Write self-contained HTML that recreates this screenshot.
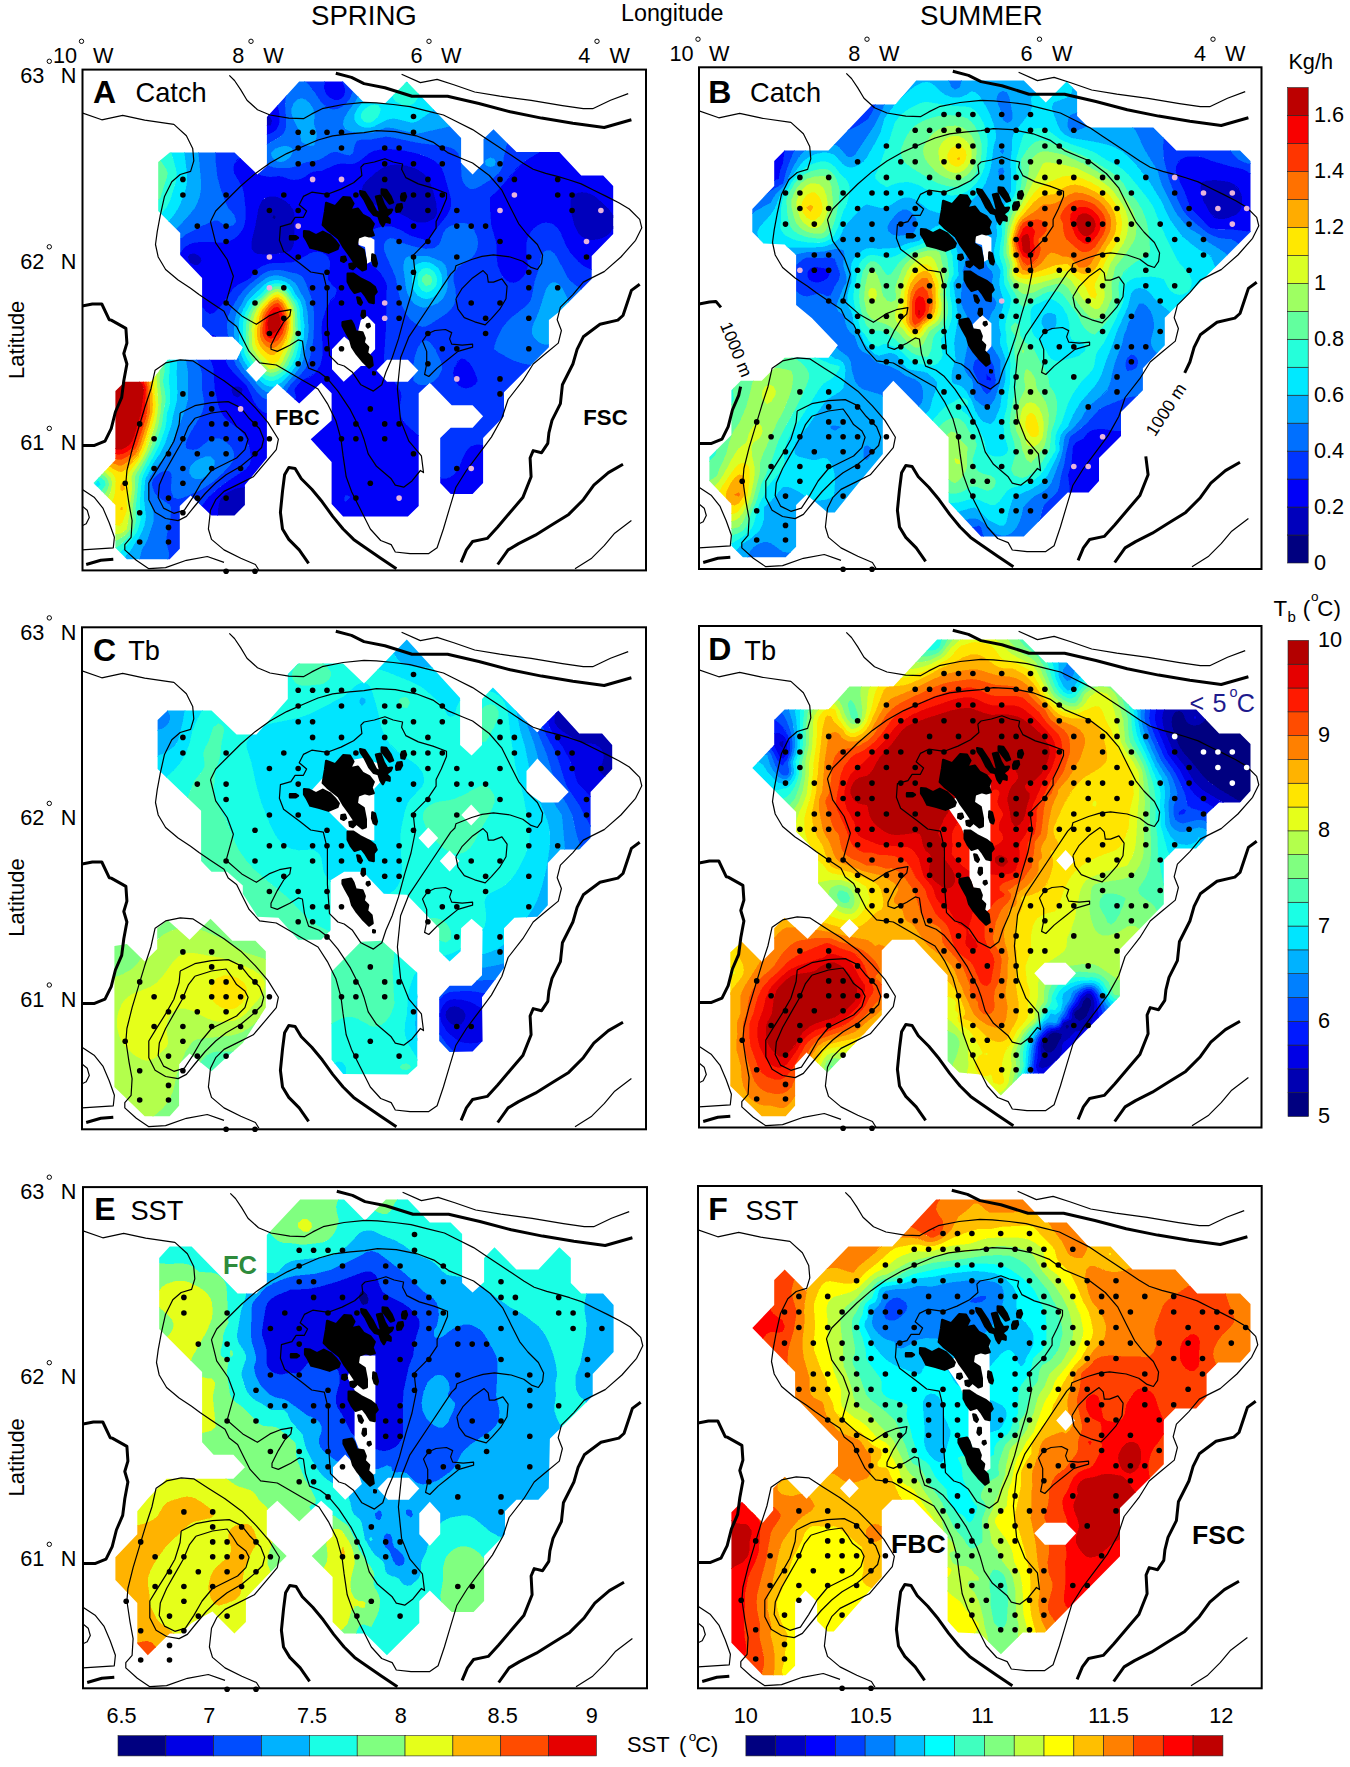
<!DOCTYPE html><html><head><meta charset="utf-8"><title>Figure</title><style>html,body{margin:0;padding:0;background:#fff}svg{display:block}text{font-family:"Liberation Sans",Arial,sans-serif;fill:#000}</style></head><body>
<svg width="1350" height="1767" viewBox="0 0 1350 1767">
<rect width="1350" height="1767" fill="#fff"/>
<defs><g id="geo" fill="none" stroke="#000" stroke-linejoin="round" stroke-linecap="butt">
<path stroke-width="1.2" d="M147.3,6.3 152.5,11.5 158.8,20.9 165,31.3 175.5,40.7 188,46 206.8,49.1 221.4,49.7 229.8,44.9 240.2,39.7 261.1,35.5 282,33.4 294.5,33.8 311.2,35.5 328,37.6 344.7,41.8 361.4,46 373.9,52.2 390.6,60.6 403.2,68.9 415.7,77.3 428.2,85.6 440.8,94 451.2,100.3 463.7,104.4 476.3,107.6 486.7,110.7 499.2,114.9 511.8,121.2 524.3,127.4 536.8,133.7 547.3,140 557.7,150.4 559.8,158.8 553.6,171.3 538.9,188 522.2,202.6 509.7,208.9 501.3,213.1 490.9,225.6 478.4,238.1 475.2,250.7 479.4,261.5 476.3,274.1 463.7,284.5 451.2,295 440.8,311.7 426.1,330.5 419.9,349.3 409.4,368.1 396.9,384.8 384.4,401.5 373.9,418.2 367.6,439.1 361.4,460 355.1,478.8 346.8,484.6 328,484.6 313.3,483 309.2,475.6 298.7,471.5 288.3,460 282,447.4 275.7,434.9 269.5,422.4 264.2,407.8 261.1,386.9 259,370.2 253.8,351.4 245.4,334.6 236,320 221.4,311.7 206.8,303.3 194.3,296 177.6,293.9 167.1,282.4 160.8,269.9 154.6,257.4 146.2,251.1 142,242.3 129.5,234 117,225.6 108.6,219.3 96.1,211 83.6,200.5 76.2,188 73.5,175.5 75.2,162.9 78.3,146.2 82.5,127.4 89.8,112.8 98.2,105.5 108.6,102.4 111.8,91.9 110.7,79.4 104.4,66.8 91.9,55.4 62.7,51.2 40.7,46.4 19.8,50.8 0,43.9M129.5,150.4 133.7,142 146.2,129.5 158.8,117 173.4,104.4 188,94 204.7,84.6 221.4,77.3 236,71 250.7,66.8 267.4,64.8 282,63.7 294.5,61.6 313.3,62.7 334.2,66.8 350.9,73.1 365.6,83.6 380.2,89.8 390.6,94 407.3,106.5 419.9,121.2 428.2,137.9 436.6,154.6 444.9,165 455.4,175.5 460.6,185.9 459.6,194.3 455.4,200.5 449.1,198.4 440.8,192.2 428.2,188 411.5,185.9 400,187.4 389.6,190.5 373.9,196.8 372.9,201 368.7,205.1 347.8,236.5 326.9,267.8 318.6,288.7 315.4,320 318.6,351.4 326.9,372.2 339.4,386.9 341.5,403.6 338.4,401.5 330,411.9 321.7,418.2 313.3,416.1 309.2,409.8 294.5,397.3 286.2,384.8 282,370.2 278.9,361.8 268.4,340.9 255.9,322.1 245.4,309.6 237.1,303.3 226.6,299.1 222.5,286.6 220.4,272 216.2,270.9 207.8,276.2 195.3,282.4 189,280.3 189,276.2 195.3,263.6 201.6,253.2 207.8,246.9 208.9,240.6 197.4,242.7 187,246.9 174.4,255.3 159.8,246.9 144.1,233.3 151.4,207.2 145.2,190.5 133.7,173.8 128.5,152.9 129.5,150.4M282,95 278.9,98.2 279.9,106.5 271.6,113.8 259,120.1 245.4,125.3 229.8,123.2 221.4,127.4 217.2,135.8 224.6,142 221.4,148.3 213.1,148.3 208.9,154.6 198.4,157.7 197.4,171.3 201.6,182.2 209.9,188.4 218.3,194.7 228.7,203 241.3,205.1 245.4,221.8 245.4,257.4 247.5,286.6 255.9,295 262.2,297 270.5,303.3 278.9,315.8 291.4,322.1 299.8,315.8 303.9,303.3 310.2,288.7 316.5,269.9 322.7,246.9 329,226 333.2,205.1 331.1,186.3 345.7,171.7 354.1,159.2 354.1,152.5 359.3,142 364.5,129.5 364.5,124.3 350.9,119.1 336.3,114.9 323.8,108.6 319.6,100.3 320.6,95 311.2,93 302.9,89.8 292.4,93 282,95M373.9,229.8 380.2,219.3 390.6,208.9 401.1,201.6 405.2,205.8 406.3,213.1 411.5,213.1 419.9,209.9 425.1,217.2 424,229.8 417.8,240.2 409.4,249.6 403.2,255.9 392.7,252.8 382.3,248.6 376,240.2 373.9,229.8M345.7,264.7 340.5,272 344.7,282.4 344.7,295 342.6,305.4 346.8,307.5 355.1,299.1 365.6,290.8 376,282.4 390.6,278.2 390.6,275.1 380.2,276.2 369.7,275.1 367.6,269.9 369.7,263.6 363.5,260.5 353,261.5 345.7,264.7M142,493.4 125.3,487.5 104.4,491.3 83.6,498.6 66.8,499.7 54.3,491.3 42.8,480.9 42.8,475.6 49.1,468.3 50.1,451.6 47,434.9 43.9,414 44.9,401.5 50.1,380.6 56.4,359.7 62.7,338.8 68.9,320 73.1,301.2 83.6,293.9 98.2,290.8 110.7,291.8 125.3,301.2 142,311.7 158.8,324.2 173.4,338.8 185.9,353.4 196.4,370.2 194.3,380.6 183.8,393.1 171.3,407.8 154.6,416.1 142,422.4 133.7,430.7 128.5,441.2 126.4,460 129.5,470.4 142,480.9 158.8,489.2 173.4,495.5 177.6,502.2M98.2,344 112.8,336.7 129.5,333.6 146.2,332.6 158.8,338.8 167.1,349.3 177.6,359.7 181.7,370.2 179.6,378.5 171.3,386.9 158.8,397.3 144.1,405.7 133.7,414 123.2,424.5 112.8,437 104.4,447.4 96.1,451.6 83.6,449.5 73.1,443.3 66.8,430.7 66.8,414 73.1,403.6 83.6,386.9 91.9,372.2 97.1,355.5 98.2,344M112.8,349.3 129.5,344 144.1,342 149.4,349.3 154.6,357.6 162.9,363.9 166.1,370.2 162.9,380.6 154.6,389 142,395.2 129.5,401.5 119.1,414 110.7,428.6 102.4,441.2 91.9,444.3 81.5,439.1 76.2,428.6 77.3,416.1 83.6,401.5 91.9,386.9 100.3,372.2 106.5,357.6 112.8,349.3M0,420.3 12.5,428.6 20.9,439.1 27.2,453.7 32.4,468.3 31.3,478.8 0,480.9M0,437 5.2,441.2 7.3,448.5 4.2,454.8 0,456.8M549.4,451.6 532.7,464.2 522.2,476.7 509.7,489.2 493,499.7M319.6,5.2 338.4,13.6 355.1,10.4 371.8,15.7 392.7,23 417.8,27.2 449.1,31.3 480.4,36.6 501.3,39.7 510.7,39.7 528.5,31.3 546.2,24.6"/>
<path stroke-width="3.0" d="M0,237.1 10.4,235 19.8,235 27.2,250.7 29.2,251.1 43.9,259.4 44.9,274.1 41.8,284.5 44.9,295 41.8,311.7 39.7,328.4 33.4,343 29.2,359.7 23,372.2 12.5,376.4 0,376.4M253.8,4.2 269.5,8.4 282,14.6 302.9,18.8 330,27.2 365.6,27.2 396.9,34.5 428.2,42.8 459.6,49.1 490.9,54.3 522.2,58.5 549.4,50.8M226.6,494.4 217.2,480.9 206.8,470.4 200.5,460 198.4,443.3 200.5,422.4 202.6,405.7 206.8,398.4 213.1,399.4 219.3,409.8 229.8,420.3 240.2,432.8 250.7,447.4 261.1,460 271.6,470.4 282,477.7 298.7,489.2 314.4,499.7M557.7,215.2 549.4,221.4 545.2,234 541,246.5 535.8,251.1 518,255.3 501.3,267.8 495.1,280.3 490.9,295 480.4,315.8 478.4,334.6 470,351.4 466.9,363.9 465.8,374.3 459.6,383.7 451.2,381.6 448.1,389 449.1,407.8 440.8,428.6 428.2,443.3 415.7,457.9 405.2,469.4 390.6,472.5 384.4,480.9 379.1,493.4M541,395.2 526.4,403.6 511.8,416.1 501.3,430.7 486.7,445.4 470,455.8 453.3,466.2 436.6,474.6 426.1,480.9 415.7,495.5M4.2,495.5 18.8,491.3 31.3,490.3"/>
<path fill="#000" stroke="#000" stroke-width="2.4" d="M244.2,133.9 253.3,137.3 261.2,128.3 268,128.8 271.4,134.5 268,141.3 275.9,139.6 280.4,145.8 287.2,149.2 291.7,154.9 289.5,160.5 291.7,166.2 287.2,167.3 282.7,166.2 275.9,168.5 274.8,176.4 281.6,180.9 283.8,192.2 283.8,200.1 280.4,201.3 274.8,196.7 271.4,192.2 266.9,185.4 261.2,177.5 256.7,169.6 251,165.1 245.3,160.5 240.8,156 243.1,142.4ZM222.1,162.2 227.2,162.8 234,166.2 240.8,162.8 247.6,166.2 253.3,171.9 256.7,176.4 255.5,179.8 246.5,183.7 237.4,180.9 228.4,178.6 225,171.9 222.1,167.3ZM278.2,122.1 282.7,123.2 289.5,133.4 294,142.4 298.5,144.7 296.3,135.6 294,127.7 298.5,126.6 301.9,135.6 305.3,141.3 309.9,140.7 308.7,143.6 304.2,147 307.6,150.3 307.6,153.7 303.1,152.6 300.8,157.1 298.5,153.7 296.3,147 291.7,145.8 287.2,140.2 282.7,131.1 278.7,125.4ZM299.7,120.4 304.2,120.9 308.7,127.7 311,133.4 307.6,134.5 303.1,128.8 299.7,124.3ZM320,124.9 322.9,124.3 324,127.7 322.3,131.7 319.5,131.1 319.1,127.7ZM315.5,135.6 319.5,135.1 320,138.5 317.8,142.4 314.4,142.7 314.2,139ZM208,167.3 213.7,167.1 215.9,168.7 213.7,170.3 208,170.2ZM265.7,204.7 271.4,204.7 278.2,209.2 287.2,213.7 292.9,218.3 294.6,222.8 291.7,226.2 291.7,234.1 287.2,233 283.8,227.3 279.3,221.6 272.5,223.9 269.1,219.4 265.7,212.6ZM290.4,185.4 292.9,186.6 294.9,194.5 294,197.3 291.7,196.2 290.1,191.1ZM259.5,188.3 262.9,187.7 264,191.1 261.8,192.8 259.2,191.7ZM267.4,195.1 271.4,194.5 273.1,197.9 270.8,200.1 268,199ZM275.3,228.4 277.6,229 279.9,233.5 278.7,235.8 276.5,234.1ZM280.4,242 282.7,242 282.9,247.1 281,248.8 279.5,246.5ZM285,255.4 287.2,255 287.8,257.3 285.9,258.4 284.7,257ZM260.6,253.3 269.1,251.6 271.4,255.6 273.6,262.4 280.4,263.5 282.7,269.2 281.6,273.7 286.1,278.2 285,283.9 289.5,288.4 290.6,296.3 287.2,298.6 280.4,291.8 274.8,285 270.2,278.2 268,270.3 263.5,262.4 260.6,256.7ZM291.2,303.1 292.9,303.7 292.7,305.4 291.2,305.2Z"/>
</g>
<g id="geoB" fill="none" stroke="#000" stroke-linejoin="round" stroke-linecap="butt">
<path stroke-width="1.2" d="M147.3,6.3 152.5,11.5 158.8,20.9 165,31.3 175.5,40.7 188,46 206.8,49.1 221.4,49.7 229.8,44.9 240.2,39.7 261.1,35.5 282,33.4 294.5,33.8 311.2,35.5 328,37.6 344.7,41.8 361.4,46 373.9,52.2 390.6,60.6 403.2,68.9 415.7,77.3 428.2,85.6 440.8,94 451.2,100.3 463.7,104.4 476.3,107.6 486.7,110.7 499.2,114.9 511.8,121.2 524.3,127.4 536.8,133.7 547.3,140 557.7,150.4 559.8,158.8 553.6,171.3 538.9,188 522.2,202.6 509.7,208.9 501.3,213.1 490.9,225.6 478.4,238.1 475.2,250.7 479.4,261.5 476.3,274.1 463.7,284.5 451.2,295 440.8,311.7 426.1,330.5 419.9,349.3 409.4,368.1 396.9,384.8 384.4,401.5 373.9,418.2 367.6,439.1 361.4,460 355.1,478.8 346.8,484.6 328,484.6 313.3,483 309.2,475.6 298.7,471.5 288.3,460 282,447.4 275.7,434.9 269.5,422.4 264.2,407.8 261.1,386.9 259,370.2 253.8,351.4 245.4,334.6 236,320 221.4,311.7 206.8,303.3 194.3,296 177.6,293.9 167.1,282.4 160.8,269.9 154.6,257.4 146.2,251.1 142,242.3 129.5,234 117,225.6 108.6,219.3 96.1,211 83.6,200.5 76.2,188 73.5,175.5 75.2,162.9 78.3,146.2 82.5,127.4 89.8,112.8 98.2,105.5 108.6,102.4 111.8,91.9 110.7,79.4 104.4,66.8 91.9,55.4 62.7,51.2 40.7,46.4 19.8,50.8 0,43.9M129.5,150.4 133.7,142 146.2,129.5 158.8,117 173.4,104.4 188,94 204.7,84.6 221.4,77.3 236,71 250.7,66.8 267.4,64.8 282,63.7 294.5,61.6 313.3,62.7 334.2,66.8 350.9,73.1 365.6,83.6 380.2,89.8 390.6,94 407.3,106.5 419.9,121.2 428.2,137.9 436.6,154.6 444.9,165 455.4,175.5 460.6,185.9 459.6,194.3 455.4,200.5 449.1,198.4 440.8,192.2 428.2,188 411.5,185.9 400,187.4 389.6,190.5 373.9,196.8 372.9,201 368.7,205.1 347.8,236.5 326.9,267.8 318.6,288.7 315.4,320 318.6,351.4 326.9,372.2 339.4,386.9 341.5,403.6 338.4,401.5 330,411.9 321.7,418.2 313.3,416.1 309.2,409.8 294.5,397.3 286.2,384.8 282,370.2 278.9,361.8 268.4,340.9 255.9,322.1 245.4,309.6 237.1,303.3 226.6,299.1 222.5,286.6 220.4,272 216.2,270.9 207.8,276.2 195.3,282.4 189,280.3 189,276.2 195.3,263.6 201.6,253.2 207.8,246.9 208.9,240.6 197.4,242.7 187,246.9 174.4,255.3 159.8,246.9 144.1,233.3 151.4,207.2 145.2,190.5 133.7,173.8 128.5,152.9 129.5,150.4M282,95 278.9,98.2 279.9,106.5 271.6,113.8 259,120.1 245.4,125.3 229.8,123.2 221.4,127.4 217.2,135.8 224.6,142 221.4,148.3 213.1,148.3 208.9,154.6 198.4,157.7 197.4,171.3 201.6,182.2 209.9,188.4 218.3,194.7 228.7,203 241.3,205.1 245.4,221.8 245.4,257.4 247.5,286.6 255.9,295 262.2,297 270.5,303.3 278.9,315.8 291.4,322.1 299.8,315.8 303.9,303.3 310.2,288.7 316.5,269.9 322.7,246.9 329,226 333.2,205.1 331.1,186.3 345.7,171.7 354.1,159.2 354.1,152.5 359.3,142 364.5,129.5 364.5,124.3 350.9,119.1 336.3,114.9 323.8,108.6 319.6,100.3 320.6,95 311.2,93 302.9,89.8 292.4,93 282,95M373.9,229.8 380.2,219.3 390.6,208.9 401.1,201.6 405.2,205.8 406.3,213.1 411.5,213.1 419.9,209.9 425.1,217.2 424,229.8 417.8,240.2 409.4,249.6 403.2,255.9 392.7,252.8 382.3,248.6 376,240.2 373.9,229.8M345.7,264.7 340.5,272 344.7,282.4 344.7,295 342.6,305.4 346.8,307.5 355.1,299.1 365.6,290.8 376,282.4 390.6,278.2 390.6,275.1 380.2,276.2 369.7,275.1 367.6,269.9 369.7,263.6 363.5,260.5 353,261.5 345.7,264.7M142,493.4 125.3,487.5 104.4,491.3 83.6,498.6 66.8,499.7 54.3,491.3 42.8,480.9 42.8,475.6 49.1,468.3 50.1,451.6 47,434.9 43.9,414 44.9,401.5 50.1,380.6 56.4,359.7 62.7,338.8 68.9,320 73.1,301.2 83.6,293.9 98.2,290.8 110.7,291.8 125.3,301.2 142,311.7 158.8,324.2 173.4,338.8 185.9,353.4 196.4,370.2 194.3,380.6 183.8,393.1 171.3,407.8 154.6,416.1 142,422.4 133.7,430.7 128.5,441.2 126.4,460 129.5,470.4 142,480.9 158.8,489.2 173.4,495.5 177.6,502.2M98.2,344 112.8,336.7 129.5,333.6 146.2,332.6 158.8,338.8 167.1,349.3 177.6,359.7 181.7,370.2 179.6,378.5 171.3,386.9 158.8,397.3 144.1,405.7 133.7,414 123.2,424.5 112.8,437 104.4,447.4 96.1,451.6 83.6,449.5 73.1,443.3 66.8,430.7 66.8,414 73.1,403.6 83.6,386.9 91.9,372.2 97.1,355.5 98.2,344M112.8,349.3 129.5,344 144.1,342 149.4,349.3 154.6,357.6 162.9,363.9 166.1,370.2 162.9,380.6 154.6,389 142,395.2 129.5,401.5 119.1,414 110.7,428.6 102.4,441.2 91.9,444.3 81.5,439.1 76.2,428.6 77.3,416.1 83.6,401.5 91.9,386.9 100.3,372.2 106.5,357.6 112.8,349.3M0,420.3 12.5,428.6 20.9,439.1 27.2,453.7 32.4,468.3 31.3,478.8 0,480.9M0,437 5.2,441.2 7.3,448.5 4.2,454.8 0,456.8M549.4,451.6 532.7,464.2 522.2,476.7 509.7,489.2 493,499.7M319.6,5.2 338.4,13.6 355.1,10.4 371.8,15.7 392.7,23 417.8,27.2 449.1,31.3 480.4,36.6 501.3,39.7 510.7,39.7 528.5,31.3 546.2,24.6"/>
<path stroke-width="3.0" d="M0,237.1 10.4,235 16.9,234.4 21.9,240.4M41.6,319.6 39.7,328.4 33.4,343 29.2,359.7 23,372.2 12.5,376.4 0,376.4M253.8,4.2 269.5,8.4 282,14.6 302.9,18.8 330,27.2 365.6,27.2 396.9,34.5 428.2,42.8 459.6,49.1 490.9,54.3 522.2,58.5 549.4,50.8M226.6,494.4 217.2,480.9 206.8,470.4 200.5,460 198.4,443.3 200.5,422.4 202.6,405.7 206.8,398.4 213.1,399.4 219.3,409.8 229.8,420.3 240.2,432.8 250.7,447.4 261.1,460 271.6,470.4 282,477.7 298.7,489.2 314.4,499.7M557.7,215.2 549.4,221.4 545.2,234 541,246.5 535.8,251.1 518,255.3 501.3,267.8 495.1,280.3 490.9,295 485.7,305.8M446.8,389.4 449.1,407.8 440.8,428.6 428.2,443.3 415.7,457.9 405.2,469.4 390.6,472.5 384.4,480.9 379.1,493.4M541,395.2 526.4,403.6 511.8,416.1 501.3,430.7 486.7,445.4 470,455.8 453.3,466.2 436.6,474.6 426.1,480.9 415.7,495.5M4.2,495.5 18.8,491.3 31.3,490.3"/>
<path fill="#000" stroke="#000" stroke-width="2.4" d="M244.2,133.9 253.3,137.3 261.2,128.3 268,128.8 271.4,134.5 268,141.3 275.9,139.6 280.4,145.8 287.2,149.2 291.7,154.9 289.5,160.5 291.7,166.2 287.2,167.3 282.7,166.2 275.9,168.5 274.8,176.4 281.6,180.9 283.8,192.2 283.8,200.1 280.4,201.3 274.8,196.7 271.4,192.2 266.9,185.4 261.2,177.5 256.7,169.6 251,165.1 245.3,160.5 240.8,156 243.1,142.4ZM222.1,162.2 227.2,162.8 234,166.2 240.8,162.8 247.6,166.2 253.3,171.9 256.7,176.4 255.5,179.8 246.5,183.7 237.4,180.9 228.4,178.6 225,171.9 222.1,167.3ZM278.2,122.1 282.7,123.2 289.5,133.4 294,142.4 298.5,144.7 296.3,135.6 294,127.7 298.5,126.6 301.9,135.6 305.3,141.3 309.9,140.7 308.7,143.6 304.2,147 307.6,150.3 307.6,153.7 303.1,152.6 300.8,157.1 298.5,153.7 296.3,147 291.7,145.8 287.2,140.2 282.7,131.1 278.7,125.4ZM299.7,120.4 304.2,120.9 308.7,127.7 311,133.4 307.6,134.5 303.1,128.8 299.7,124.3ZM320,124.9 322.9,124.3 324,127.7 322.3,131.7 319.5,131.1 319.1,127.7ZM315.5,135.6 319.5,135.1 320,138.5 317.8,142.4 314.4,142.7 314.2,139ZM208,167.3 213.7,167.1 215.9,168.7 213.7,170.3 208,170.2ZM265.7,204.7 271.4,204.7 278.2,209.2 287.2,213.7 292.9,218.3 294.6,222.8 291.7,226.2 291.7,234.1 287.2,233 283.8,227.3 279.3,221.6 272.5,223.9 269.1,219.4 265.7,212.6ZM290.4,185.4 292.9,186.6 294.9,194.5 294,197.3 291.7,196.2 290.1,191.1ZM259.5,188.3 262.9,187.7 264,191.1 261.8,192.8 259.2,191.7ZM267.4,195.1 271.4,194.5 273.1,197.9 270.8,200.1 268,199ZM275.3,228.4 277.6,229 279.9,233.5 278.7,235.8 276.5,234.1ZM280.4,242 282.7,242 282.9,247.1 281,248.8 279.5,246.5ZM285,255.4 287.2,255 287.8,257.3 285.9,258.4 284.7,257ZM260.6,253.3 269.1,251.6 271.4,255.6 273.6,262.4 280.4,263.5 282.7,269.2 281.6,273.7 286.1,278.2 285,283.9 289.5,288.4 290.6,296.3 287.2,298.6 280.4,291.8 274.8,285 270.2,278.2 268,270.3 263.5,262.4 260.6,256.7ZM291.2,303.1 292.9,303.7 292.7,305.4 291.2,305.2Z"/>
</g>
<clipPath id="fr"><rect x="0" y="0" width="563" height="501"/></clipPath></defs>
<g transform="translate(82.5,69.6)">
<clipPath id="cA"><path d="M76.2,93 87.7,83.6 152.5,83.6 175.5,105.5 184.9,97.1 184.9,48 217.2,12.5 261.1,12.5 282,33.4 302.9,34.5 324.8,12.5 379.1,68.9 379.1,94 390.6,105.5 401.5,94 401.5,70 411.5,60.2 434.5,83.1 477.3,83.1 499.2,106.5 521.2,106.5 531.2,117 531.2,165 509.7,187 509.7,209.9 476.3,243.4 466.9,251.1 466.9,278.2 422,323.2 422,347.2 401.1,369.1 401.1,414 390.6,424.9 368.7,424.9 358.2,414 358.2,369.1 368.7,358.7 390.6,358.7 401.1,347.2 390.6,336.3 369.7,336.3 347.8,313.8 336.7,324.2 336.7,437 325.9,447.4 282,447.4 261.1,447.4 249.6,434.9 249.6,393.1 228.7,370.2 249.6,351.4 249.6,324.2 239.2,313.8 217.2,334.6 195.3,314.8 184.9,325.2 184.9,389 162.9,416.1 162.9,436 152.5,446.4 129.5,446.4 108.6,426.6 97.8,437 97.8,479.8 87.7,490.3 44.9,490.3 33.4,478.8 33.4,436 11.5,414 33.4,391 33.4,322.1 42.8,312.7 68.9,312.7 85.6,290.8 154.6,290.8 160.8,278.2 150.4,267.8 130.6,267.8 120.1,257.4 120.1,208.9 98.2,185.9 98.2,164 76.2,142Z"/></clipPath>
<g transform="translate(-0.5,-0.6)">
<g clip-path="url(#cA)" shape-rendering="crispEdges">
<path fill="#000080" stroke="#000080" stroke-width=".6" d="M190.2,148 192,145.3 194.2,148 192,151Z"/>
<path fill="#0000bc" stroke="#0000bc" stroke-width=".6" d="M180.8,48 184,46.2 188,47.3 190.3,52 189.2,56 188,57 184,56.7 182.4,56 179.7,52ZM281,116 284.1,112 292.8,104 298.4,100 304,97.2 308,95.9 316,95.2 324,96.3 332,98.7 336,100.6 341,104 345.2,108 348,112.1 352,123.6 354.9,136 355.2,144 353.7,148 352,149.9 348,152.2 344,153.5 340,154 336,153.7 332,152.4 316,143.9 292.8,136 285.8,132 281.7,128 279.7,124 279.5,120ZM492,125.1 496,123.4 500,122.9 504,123.3 508,124.5 512,126.5 516,129.6 527.1,140 530,144 531.7,148 532.5,152 532.3,156 531,160 528,164.3 524,167.6 520,169.6 512,171.3 508,171.1 504,170.2 500,168.1 496,164.1 491.9,156 488.2,140 488.2,132 489.5,128ZM184,128.3 188,127.2 192,127.1 196,127.9 200,129.7 204,132.4 208.1,136 211,140 212.4,144 212.8,148 212.4,156 213.1,168 211.8,176 209.9,180 208,182.5 192,185.4 180,185.7 176,185.2 172.4,184 169.5,180 169,176 169.4,172 173.2,156 176.1,140 177.4,136 179.5,132ZM192,145.3 190.2,148 192,151 194.2,148ZM105.6,188 108,184.8 112,184.2 116,186.1 118.6,188 119.9,192 116.5,196 112,196.2 108,194 106.7,192ZM149.4,320 152,317.6 156,317.1 160,319 160.8,320 160,325.7 156,328.8 152,327.3 149.7,324ZM144,424 152,419.8 156,418.6 164,418.2 176,418.7 184,419.9 188,421.4 192.3,424 196.2,428 200.7,436 203.3,444 205.4,456 206.1,468 205.5,476 203.7,484 200,491.4 196,495.6 192,498 188,499.3 184,499.8 180,499.6 172,497.7 164,493.8 160,491.1 152,483.9 148,479.3 144,473.6 139.2,464 136.7,456 135.6,448 135.7,440 137.5,432 139.9,428Z"/>
<path fill="#0000f8" stroke="#0000f8" stroke-width=".6" d="M248,7.3 252,6.9 256,8.4 260,11.9 262.2,16 263.3,20 263.2,24 261.4,28 260,29.4 256,31.4 252,31.2 248,29.2 244,25 241.9,20 241.9,16 243,12 244,10.3ZM184,25 188,27.6 192,31.6 196,37.8 196.8,40 197.6,44 197.8,52 197.1,56 195.2,60 192,62.9 188,64.9 172,69.2 168,69.9 164,69.7 160,67.1 158.1,64 155.8,56 155.7,48 156.3,44 159.3,36 164,29.6 168,26.4 172,24.5 176,23.6 180,23.8ZM184,46.2 180.8,48 179.7,52 182.4,56 184,56.7 188,57 189.2,56 190.3,52 188,47.3ZM564,58.7 564,216.5 516,203.3 504,198.7 500,196.1 496,192.6 488,183.6 483.5,176 478.4,164 476,159.9 472,156.1 468,154.3 464,153.9 460,154.5 456.6,156 452,159.4 448.3,164 446.3,168 445.1,172 444.5,180 446.2,196 445.7,200 444,204.2 440,209.6 436,212.7 432,214.1 428,213.8 424,211.6 420,206.9 416.6,200 415.3,196 414.4,188 414.2,176 413.5,172 409.8,160 408.4,152 407.5,136 408,128 416,121 436,97.5 440,94 452,85.9 468,77.7 484,71.7 504,66.8ZM492,125.1 489.5,128 488.2,132 488.2,140 491.9,156 496,164.1 500,168.1 504,170.2 508,171.1 512,171.3 520,169.6 524,167.6 528,164.3 531,160 532.3,156 532.5,152 531.7,148 530,144 527.1,140 516,129.6 512,126.5 508,124.5 504,123.3 500,122.9 496,123.4ZM156,89.5 160,88.8 164,91.2 172,101.3 176,104.5 180,106.4 188,107.7 196,106.9 200,107.1 208,110.1 212,110.6 216,110.3 220,109.1 224,106.9 228,103.7 232,102.2 240,101.5 252,96 256,94.7 260,94.2 268,94.9 272,94.4 277.2,92 288,83.3 292,81.5 300,80 308,79.8 320,80.9 334.5,84 348,89.2 353.1,92 357.8,96 360.4,100 363.2,108 368.9,128 369.5,132 369.4,136 368.4,140 366.7,144 364.1,148 348,167.9 344,171.5 328,166.8 320,162 312,158.5 308,157.7 300,157.8 292.7,160 286.1,164 282.2,168 280,172 278.8,176 278.8,180 280.1,184 282.3,188 285.7,192 296,201 298.7,204 303.7,212 305.1,216 304.2,260 302.3,288 302.7,296 305.6,304 316,317.2 319.3,324 319.7,328 317.8,340 318,344 320,349.6 324,355.1 338.3,368 341.2,372 344,379.3 346.6,392 349.3,400 352,404.3 356,407.7 360,409.2 364,409.3 368,408 372,405.3 376.3,400 380.8,388 384,382.2 388,377.7 392,375.8 396,375.3 400,375.8 408,378.7 440,394.8 460,403.4 476,408.9 492,412.9 512,415.5 528,415.6 540,414.4 548,413 564,408.5 564,504 115.1,504 111.4,480 110.5,468 111.5,456 113.8,448 115.6,444 122.9,432 130.7,424 144,413.1 163.6,400 167.2,396 168.3,392 168.6,388 168.2,384 166.5,376 163.1,368 160.2,364 156.2,360 145.9,352 141.9,348 139.2,344 137.5,340 133.9,328 132.4,320 131.2,300 130.2,296 124.8,284 123.7,280 123.5,276 124.2,272 128,265.7 132,266 136,269.8 140,275.9 144,283.7 143.7,288 144.2,292 145.7,296 152,304 164.2,316 166.7,320 172,332 176,338.1 180,341.9 184,344.2 188,345.6 192,346 196,345.7 200,344.5 204,342.5 208,339.1 210.5,336 213.9,328 212.6,324 212.3,320 215.3,316 220,310.8 226.5,308 232.8,304 238,296 239.9,288 240.5,280 239.2,260 240,252.1 244,239.3 248,232 252,227.5 253.9,224 254.2,220 249.7,216 248,213.3 246.1,212 245.7,208 247.9,196 247.5,192 245.8,188 244,186.1 240.7,184 236,182.9 232,183.3 228,184.6 216,191.6 212,193.1 208,193.8 188,194.6 180,197.4 176,200.2 168,209.7 156,216 151.3,220 140,236 136,240.5 132,244 128,245.4 124,243 120,237.7 110.4,220 100,203.4 97.5,196 97,192 97.2,188 98.4,184 100.9,180 104,177 108,174.7 112,173.4 120,172.5 140,173.3 144,172.9 148,171.7 152,169.7 156,166.4 160,161.1 162.2,156 163.5,148 163.3,140 161.6,124 160,117.9 152,104.6 151,100 152,94.7ZM281,116 279.5,120 279.7,124 281.7,128 285.8,132 292.8,136 316,143.9 332,152.4 336,153.7 340,154 344,153.5 348,152.2 352,149.9 353.7,148 355.2,144 354.9,136 352,123.6 348,112.1 345.2,108 341,104 336,100.6 332,98.7 324,96.3 316,95.2 308,95.9 304,97.2 298.4,100 292.8,104 284.1,112ZM144,424 139.9,428 137.5,432 135.7,440 135.6,448 136.7,456 139.2,464 144,473.6 148,479.3 152,483.9 160,491.1 164,493.8 172,497.7 180,499.6 184,499.8 188,499.3 192,498 196,495.6 200,491.4 203.7,484 205.5,476 206.1,468 205.4,456 203.3,444 200.7,436 196.2,428 192.3,424 188,421.4 184,419.9 176,418.7 164,418.2 156,418.6 152,419.8ZM152,317.6 149.4,320 149.7,324 152,327.3 156,328.8 160,325.7 160.8,320 160,319 156,317.1ZM108,184.8 105.6,188 106.7,192 108,194 112,196.2 116.5,196 119.9,192 118.6,188 116,186.1 112,184.2ZM196,127.9 192,127.1 188,127.2 184,128.3 180,131.3 177.4,136 176,140.3 173.2,156 169.4,172 169,176 169.5,180 172.4,184 176,185.2 184,185.9 192,185.4 201.6,184 208,182.5 209.9,180 211.8,176 213.1,168 212.4,156 212.8,148 212.4,144 211,140 208.1,136 203.5,132 200,129.7ZM264,426.3 262.7,428 263,432 264,432.4 268,428ZM380,288.9 384,290.6 388,294.4 391.8,300 395,308 395.9,312 393.3,316 388,318.9 384,319.6 380,318.9 376,316.2 372,310.1 370.8,304 372,298.4 376,291.5Z"/>
<path fill="#0035ff" stroke="#0035ff" stroke-width=".6" d="M156,-3.7 268.4,-4 269.9,0 271.7,8 272.1,12 271.6,20 270.6,24 269.2,28 266.6,32 260,38.1 256,40 252,40.8 248,40.2 244,38.3 238,32 232,22.7 228,17.5 224,13.4 220,10.9 216,9.9 212,10.8 208,14.4 205.4,20 203.9,28 203.4,36 204.6,56 203.9,60 202.2,64 200,66.5 184,76.1 180.6,80 179.4,84 179.8,88 181.7,92 184,94.4 188,97 192,98.3 196,98.7 208,98.5 212,97.6 224,93 236,90.8 240,89.1 248,83.9 252,82.7 256,82.9 264,85.6 268,86.1 270.7,84 272.5,76 274.6,72 276,71.1 280,70.4 288,70.3 304,67.4 308,67.7 336,73.6 364,77.2 368,78.2 372,80 376.3,84 378.1,88 378.9,92 380,108 381,112 384,117 388,119.5 392,119.7 396,118.2 412,108.2 416.6,104 419.3,100 420.6,96 421.5,88 424.3,76 428,68 432,61.8 440,51.9 452,39.2 496.7,-4 564,-4 564,58.7 516,64.8 500,67.6 480,73 468,77.7 460,81.5 444,91 436,97.5 416,121 408,128 407.5,136 408.9,156 413.5,172 414.2,176 414.4,188 415.3,196 418.4,204 420.8,208 424,211.6 428,213.8 432,214.1 436,212.7 440,209.6 444,204.2 445.7,200 446.2,196 444.5,180 445.1,172 446.3,168 448.3,164 452,159.4 456.6,156 460,154.5 464,153.9 468,154.3 472,156.1 476,159.9 478.4,164 483.5,176 488,183.6 496,192.6 500,196.1 504,198.7 516,203.3 564,216.5 564,408.5 548,413 540,414.4 528,415.6 512,415.5 492,412.9 476,408.9 460,403.4 440,394.8 408,378.7 400,375.8 396,375.3 392,375.8 388,377.7 384,382.2 380.8,388 376.3,400 372,405.3 368,408 364,409.3 360,409.2 356,407.7 352,404.3 349.3,400 346.6,392 344,379.3 341.2,372 338.3,368 324,355.1 319.2,348 318,344 317.8,340 319.7,328 319.3,324 316,317.2 305.6,304 302.7,296 302.3,288 304.2,260 305.1,216 303.7,212 298.7,204 296,201 285.7,192 282.3,188 280.1,184 278.8,180 278.8,176 280,172 282.2,168 286.1,164 292.7,160 300,157.8 308,157.7 312,158.5 320,162 328,166.8 344,171.5 348,167.9 364.1,148 366.7,144 368.4,140 369.4,136 369.5,132 368.9,128 362,104 360,99.3 357.8,96 353.1,92 345.5,88 336,84.4 320,80.9 308,79.8 300,80 292,81.5 288,83.3 277.2,92 272,94.4 268,94.9 260,94.2 256,94.7 252,96 240,101.5 232,102.2 228,103.7 224,106.9 220,109.1 216,110.3 212,110.6 208,110.1 200,107.1 196,106.9 188,107.7 180,106.4 176,104.5 172,101.3 164,91.2 160,88.8 156,89.5 152,94.7 151,100 152,104.6 160,117.9 161.6,124 163.3,140 163.5,148 162.2,156 160,161.1 156,166.4 152,169.7 148,171.7 144,172.9 140,173.3 120,172.5 112,173.4 108,174.7 104,177 100.9,180 98.4,184 97.2,188 97,192 97.5,196 100,203.4 110.4,220 120,237.7 124,243 128,245.4 132,244 136,240.5 140,236 151.3,220 156,216 168,209.7 176,200.2 180,197.4 188,194.6 208,193.8 212,193.1 216,191.6 228,184.6 232,183.3 236,182.9 240.7,184 244,186.1 245.8,188 247.5,192 247.9,196 245.7,208 246.1,212 248,213.3 249.7,216 254.2,220 253.9,224 252,227.5 248,232 244,239.3 240,252.1 239.2,260 240.5,280 239.9,288 238,296 232.8,304 226.5,308 220,310.8 215.3,316 212.3,320 212.6,324 213.9,328 210.5,336 208,339.1 204,342.5 200,344.5 196,345.7 192,346 188,345.6 184,344.2 180,341.9 176,338.1 172,332 166.7,320 164.2,316 152,304 145.7,296 144.2,292 143.7,288 144,283.7 140,275.9 136,269.8 132,266 128,265.7 126.4,268 124,272.7 123.5,276 123.7,280 124.8,284 130.2,296 131.2,300 132.4,320 136,336 139.2,344 141.9,348 145.9,352 156.2,360 160.2,364 163.1,368 165.1,372 167.5,380 168.6,388 168.3,392 167.2,396 163.6,400 144,413.1 135.2,420 126.3,428 120.2,436 115.6,444 113.8,448 111.5,456 110.5,468 111.4,480 115.1,504 83.2,504 86.5,488 86.8,484 84,472.4 84.2,468 87.8,452 89,440 87.7,436 76,428.2 72,423.4 69.5,416 70.1,412 72,408.6 76,404.9 80,402.5 84,401.4 88,402.2 89.2,404 90.1,408 89.1,420 89.8,424 92,428.5 96,429.7 100,428.8 108,425.7 120,419.9 131.8,412 140.6,404 148,396 150.6,392 151.9,388 151.7,384 150.1,380 148,376.9 142.4,372 140,370.7 136,369.5 132,369.5 128,370.8 116,380.3 112,381.1 108,380.9 105,380 104,378.5 103.4,376 104.2,372 108,364 117.5,348 120,342.8 121.9,336 121.7,332 119.6,320 119.5,304 118.5,300 115.1,292 112.6,284 109,260 106.1,248 102,236 90.7,208 88.7,200 88.2,192 89.4,184 93.1,176 96,172 104,165 120,156.6 132,151.4 136,151.3 142.6,156 148,157.1 152,155.4 153.8,152 152,145.9 146.8,140 144.3,136 138.4,120 135.1,108 133.3,92 133.3,60 134.7,40 136.2,32 138.6,24 141.9,16 146.4,8 152,0.5ZM184,25 180,23.8 176,23.6 172,24.5 168,26.4 164,29.6 159.3,36 156.3,44 155.7,48 155.8,56 158.1,64 160,67.1 164,69.7 168,69.9 172,69.2 188,64.9 192,62.9 195.2,60 197.1,56 197.8,52 197.6,44 196.8,40 196,37.8 192,31.6 188,27.6ZM248,7.3 244,10.3 243,12 241.9,16 241.9,20 244,25 248,29.2 252,31.2 256,31.4 260,29.4 261.4,28 263.2,24 263.3,20 262.2,16 260,11.9 256,8.4 252,6.9ZM384,154.6 380,154.1 376,154.6 368,157.5 364.2,160 361.5,164 359,172 356.9,176 352,179.4 344,180.1 332,177.9 320,174.1 312,169.9 308,169.4 303.8,172 302.1,176 302.3,180 303.4,184 313.9,208 316.9,224 320.1,236 324,244.3 328,249.6 332,253.4 336,255.9 340,257.6 344,257.2 348,255.1 364.9,244 368.9,240 371.5,236 373,232 373.7,228 373.2,220 371.2,212 371,208 372,203.7 376,197.7 385.1,192 390.2,188 393.1,184 394.8,180 395.5,176 395.5,172 394.8,168 392,161.4 388,156.8ZM464,181.7 461.3,184 459.2,188 457.1,200 453,212 450,228 448.6,232 444,237.5 430.3,248 422.6,256 419.9,260 415.9,268 413,276 412.4,280 417.8,284 432,291.5 440,294.1 448,295.5 456.2,308 460,312.1 468,317.7 472,319.3 480,321.3 488,321.7 496,320.7 504,318.3 512,314.2 520,307.8 526.2,300 530.1,292 532.3,284 533,276 531.6,264 529,256 525.1,248 516.5,236 508.5,228 488,212 485.1,208 474.5,188 472,184.4 468,181.5ZM196,201.2 188,201.9 184,203.4 180,205.8 167.1,216 163,220 156.6,228 149.5,240 146.3,248 145.2,256 146.3,268 151.1,288 154.1,296 159.8,304 166.9,312 176,323.8 180,327.7 184,330.2 188,331.4 192,331.5 196,330.7 200.5,328 204,323.7 205.5,320 208,316 219.5,304 222.9,300 225.1,296 227.8,288 230.9,272 231.8,256 231.7,244 230.2,232 222.7,212 220.4,208 216,205.3 200,201.6ZM344,271.7 340,272.8 336,278.8 333,288 331.7,296 331.8,312 336,314.9 340,315.9 344,315.7 348,314.4 352,311.8 356,307.8 358.3,304 359.7,300 359.6,296 358.5,292 352.8,280 348,273.7ZM380,288.9 376,291.5 372,298.4 370.8,304 372,310.1 376,316.2 380,318.9 384,319.6 388,318.9 393.3,316 395.9,312 395,308 391.8,300 388,294.4 384,290.6ZM263,432 262.7,428 264,426.3 268,428 264,432.4Z"/>
<path fill="#0070ff" stroke="#0070ff" stroke-width=".6" d="M156.3,-4 152,0.5 146.4,8 141.9,16 138.6,24 136.2,32 134.7,40 133.3,60 133.3,92 135.1,108 138.4,120 144.3,136 146.8,140 152,145.9 153.8,152 152,155.4 148,157.1 142.6,156 136,151.3 132,151.4 120,156.6 104,165 96,172 93.1,176 89.4,184 88.2,192 88.7,200 90.7,208 102,236 106.1,248 109,260 112.6,284 115.1,292 118.5,300 119.5,304 119.6,320 121.7,332 121.9,336 120,342.8 117.5,348 108,364 104.2,372 103.4,376 104,378.5 105,380 108,380.9 112,381.1 116,380.3 128,370.8 132,369.5 136,369.5 140,370.7 142.4,372 148,376.9 150.1,380 151.7,384 151.9,388 150.6,392 148,396 140.6,404 131.8,412 120,419.9 108,425.7 100,428.8 96,429.7 92,428.5 89.8,424 89.1,420 90.1,408 89.2,404 88,402.2 84,401.4 80,402.5 76,404.9 72,408.6 70.1,412 69.5,416 72,423.4 76,428.2 87.7,436 89,440 87.8,452 84.2,468 83.9,472 86.8,484 86.5,488 83.2,504 54.6,504 56.7,492 59.9,480 64.8,472 71.5,452 71.4,444 66.3,428 65.7,416 66.3,412 68,407.4 72,400.3 82.5,388 89,376 94.1,364 103.1,340 105.4,332 105.8,328 105.8,304 100.6,272 98.2,260 94.7,248 84,218.8 80.8,208 79.1,196 79.4,188 80.1,184 82.8,176 87.2,168 92,161.9 108.7,144 114.2,136 117.4,128 118.6,120 118.7,112 116.5,88 114.7,52 114.5,36 116.1,16 120.5,-4ZM132,391 128.6,388 124,387.8 116,390.8 112,393.5 109.6,396 107.8,400 107.7,404 110,408 112,409.3 116,410.1 120,409.3 124,407 127.4,404 130.4,400 132.2,396 132.5,392ZM179.8,88 179.4,84 180.6,80 184.1,76 196,69.3 200,66.5 202.2,64 203.9,60 204.5,52 203.4,36 204.4,24 205.4,20 208,14.4 212,10.8 216,9.9 220,10.9 224,13.4 228,17.5 232,22.7 238,32 241.5,36 244,38.3 248,40.2 252,40.8 256,40 260,38.1 264,34.8 268,29.9 270.6,24 272,16 272,11.2 271,4 268.4,-4 285.7,-4 282.7,12 278.4,24 274.2,32 265.4,44 261.6,52 261.4,56 263.8,60 268,62.1 272,63 284,64 292,63 304,58.1 308,58.2 316,59.8 332,64.1 336,64.3 380,54.1 385.4,52 392,48 400.1,40 408.7,28 417.6,12 424.8,-4 496.7,-4 452,39.2 440,51.9 432,61.8 428,68 424.3,76 421.5,88 420.6,96 419.3,100 416.6,104 412,108.2 396,118.2 392,119.7 388,119.5 384,117 381,112 380,108 378.9,92 378.1,88 376.3,84 372,80 368,78.2 364,77.2 336,73.6 308,67.7 304,67.4 288,70.3 280,70.4 276,71.1 274.6,72 272.5,76 270.7,84 268,86.1 264,85.6 256,82.9 252,82.7 248,83.9 240,89.1 236,90.8 224,93 212,97.6 208,98.5 196,98.7 192,98.3 188,97 184,94.4 181.7,92ZM403.3,92 404.1,96 408,97.7 412,96.9 412.8,96 413.2,92 412,90 408,88.8 404,91ZM189,84 190.4,88 192,89.7 196,92.4 200,92.7 204,91.1 207.8,88 210.2,84 210.3,80 208,78.3 204,77.3 200,77.6 193.3,80ZM216,30.4 212,34.1 209.8,40 209.8,44 210.8,48 218.3,64 219.4,72 220,72.9 225.3,76 228,76.6 232,76.2 234.2,68 234.2,64 232,55.6 231.6,52 232.4,48 232.1,44 231,40 228,34.9 224,31.1 220,29.6ZM384,154.6 388,156.8 392,161.4 394.8,168 395.5,172 395.5,176 394.8,180 393.1,184 390.2,188 385.1,192 376,197.7 372,203.7 371,208 371.2,212 373.2,220 373.7,228 373,232 371.5,236 368.9,240 364.9,244 348,255.1 344,257.2 340,257.6 336,255.9 332,253.4 328,249.6 324,244.3 320.1,236 316.9,224 313.9,208 303.4,184 302.3,180 302.1,176 303.8,172 308,169.4 312,169.9 320,174.1 332,177.9 344,180.1 352,179.4 356.9,176 359,172 361.5,164 364.2,160 368,157.5 376,154.6 380,154.1ZM324,188.9 322.5,192 321.8,196 321.8,200 324.4,220 325.5,224 328,229.2 332,234.2 336,236.8 340,238 344,238 348,237.1 356,233.8 360,230.3 361.7,228 363.7,224 364.9,220 365.3,216 364.9,204 364.4,200 362.9,196 360,193 348,188 344,187.2 332,187.1 325.8,188ZM464,181.7 468,181.5 472,184.4 474.5,188 485.1,208 488,212 508.5,228 516.5,236 525.1,248 529,256 531.6,264 533,276 532.3,284 530.1,292 526.2,300 520,307.8 512,314.2 504,318.3 496,320.7 488,321.7 480,321.3 472,319.3 468,317.7 460,312.1 456.2,308 448,295.5 440,294.1 432,291.5 417.8,284 412.4,280 413,276 415.9,268 419.9,260 422.6,256 430.3,248 444,237.5 448.6,232 450,228 453,212 457.1,200 459.2,188 461.3,184ZM472,213.4 468,214.8 464.4,220 456.6,244 451.3,256 450.3,260 450.2,264 452,268.4 456,272.4 460,274.4 464,275.4 472,275.3 476,274.3 480.5,272 484.9,268 487.6,264 490.1,256 490.4,252 489.8,244 487.6,236 484.5,228 480.7,220 477.5,216 476,214.7ZM196,201.2 200,201.6 216,205.3 220.4,208 222.7,212 230.2,232 231.7,244 231.8,256 230.9,272 227.8,288 225.1,296 222.9,300 219.5,304 208,316 205.5,320 204,323.7 200.5,328 196,330.7 192,331.5 188,331.4 184,330.2 180,327.7 176,323.8 166.9,312 159.8,304 154.1,296 151.1,288 146.3,268 145.2,256 146.3,248 149.5,240 156.6,228 163,220 167.1,216 180,205.8 184,203.4 188,201.9ZM196,206.9 192,206.9 188,207.7 184,209.4 175.2,216 168,222.7 163.7,228 159.5,236 156.8,240 154.7,244 152.7,252 152.3,264 152.9,272 155,284 157.6,292 162.4,300 176,315.8 180,319.7 184,322.4 188,323.6 192,323.6 196,322.5 200,320.4 202.9,316 213.4,304 219,296 222,288 223.7,276 225.7,268 226.3,260 225.4,244 223,232 214.4,216 212,213.4 208,210.6 200,207.5ZM344,271.7 348,273.7 352.8,280 358.5,292 359.6,296 359.7,300 358.3,304 356,307.8 352,311.8 348,314.4 344,315.7 340,315.9 336,314.9 331.8,312 331.7,296 333,288 336,278.8 340,272.8Z"/>
<path fill="#00acff" stroke="#00acff" stroke-width=".6" d="M120.5,-4 116.1,16 114.5,36 114.7,52 116.5,88 118.7,112 118.6,120 117.4,128 114.2,136 111.7,140 105.3,148 92,161.9 84.7,172 81.2,180 80.1,184 79.1,192 79.4,200 81.9,212 94.7,248 98.2,260 100.6,272 105.8,304 105.9,324 105.4,332 103.1,340 95.6,360 87.1,380 82.5,388 72,400.3 68,407.4 66.3,412 65.7,416 66.3,428 71.4,444 71.5,452 64.8,472 59.9,480 56.7,492 54.6,504 36.5,504 42.6,488 48,482 54.1,472 57.2,468 59.2,464 62.2,456 63.7,448 61.5,428 62.8,412 63.9,408 68,399.5 72,392.7 78.2,384 82.2,376 89.1,356 90.5,348 94.5,332 95.1,324 94.4,304 94.9,292 93.7,280 91.3,268 87.9,256 76,224 72.2,212 70,200 69.8,188 72.3,176 75.7,168 80.6,160 93,144 97.7,136 103.5,120 104.8,112 104.7,104 101.6,80 95.4,44 93.3,28 92.2,12 92.2,-4ZM261.4,56 261.6,52 263.2,48 265.4,44 274.2,32 280.1,20 283.7,8 285.7,-4 306,-4 291.5,20 275.4,40 273.3,44 272.5,48 273.2,52 276.6,56 280,57.7 284,58.5 288,58.4 292,57.3 304,50.9 308,49.6 312,49.4 316,49.9 328,53 332,53.1 336,51.6 352.7,40 361.3,32 364.4,28 368.7,20 370.2,16 371.9,8 372.2,0 371.8,-4 424.8,-4 415.6,16 408.7,28 404,35 396,44.5 392,48 384,52.6 372.9,56 336,64.3 331.4,64 312,58.9 304,58.1 292,63 288,63.8 276,63.5 268,62.1 264,60.1ZM216,30.4 220,29.6 224,31.1 228,34.9 231,40 232.1,44 232.4,48 231.6,52 232,55.6 234.2,64 234.2,68 232,76.2 228,76.6 225.3,76 220,72.9 219.4,72 218.3,64 210.8,48 209.8,44 209.8,40 212,34.1ZM189,84 193.3,80 200,77.6 204,77.3 208,78.3 210.3,80 210.2,84 207.8,88 204,91.1 200,92.7 196,92.4 192,89.7 190.4,88ZM403.3,92 404,91 408,88.8 412,90 413.2,92 412.8,96 412,96.9 408,97.7 404.1,96ZM324,188.9 325.8,188 332,187.1 344,187.2 348,188 360,193 362.9,196 364.4,200 364.9,204 365.3,216 364.9,220 363.7,224 361.7,228 360,230.3 356,233.8 348,237.1 344,238 340,238 336,236.8 332,234.2 328,229.2 325.5,224 324.4,220 321.8,200 321.8,196 322.5,192ZM340,193.5 334.3,196 331.2,200 330.1,204 330.6,216 332,220.8 333.8,224 336,226.5 340,228.9 344,229.7 348,229.2 352,227.3 355.8,224 358.2,220 359.4,216 359.6,208 358.7,204 356.5,200 352,196.1 348,194.1 344,193.3ZM196,206.9 200,207.5 208,210.6 212,213.4 214.4,216 223,232 225.4,244 226.3,260 225.7,268 223.7,276 222,288 219,296 213.4,304 202.9,316 200,320.4 196,322.5 192,323.6 188,323.6 184,322.4 180,319.7 176,315.8 162.4,300 157.6,292 155,284 152.9,272 152.3,264 152.7,252 154.7,244 156.8,240 159.5,236 163.7,228 168,222.7 175.2,216 184,209.4 188,207.7 192,206.9ZM196,211.4 192,211.4 188,212.4 184,214.6 169.5,228 166.2,232 161.7,240 158.3,248 157.5,252 157,264 157.6,276 159,284 162.2,292 167.6,300 180,313.2 184,316.1 188,317.5 192,317.2 196,315.6 200,312.7 208.5,304 214.1,296 217.5,288 219.6,276 221.7,268 222.1,256 221,248 220.6,240 218.2,232 212.4,224 210.8,220 207.6,216 204,213.5 200,212ZM472,213.4 476,214.7 477.5,216 480.7,220 484.5,228 487.6,236 489.8,244 490.4,252 490.1,256 487.6,264 484.9,268 480.5,272 476,274.3 472,275.3 464,275.4 460,274.4 456,272.4 452,268.4 450.2,264 450.3,260 451.3,256 456.6,244 464.4,220 468,214.8ZM132,391 132.5,392 132.2,396 130.4,400 127.4,404 124,407 120,409.3 116,410.1 112,409.3 110,408 107.7,404 107.8,400 109.6,396 112,393.5 116,390.8 124,387.8 128.6,388Z"/>
<path fill="#00e9ff" stroke="#00e9ff" stroke-width=".6" d="M92.2,-4 92.2,12 93.3,28 95.4,44 101.6,80 104.7,104 104.8,112 103.5,120 97.7,136 93,144 80,160.9 73.8,172 71.2,180 69.6,192 70,200 72.2,212 76,224 87.9,256 93,276 94.9,292 94.4,304 95.1,324 94.5,332 90.5,348 89.1,356 82.2,376 78.2,384 72,392.7 68,399.5 63.9,408 62.8,412 61.5,428 63.7,448 62.2,456 59.2,464 57.2,468 54.1,472 48,482 42.6,488 36.5,504 19.2,504 32.9,488 44,477.2 53.9,464 55.8,460 58.1,452 58.5,448 57.8,440 58,428 59.4,412 60.3,408 64,400 73.2,384 77.1,376 82.8,360 84.2,352 84.7,344 87.4,336 88.1,328 86.6,312 87.8,292 86.5,280 84.6,272 80.9,260 68,228 63.7,216 61.5,208 60.1,200 59.5,188 61.2,176 64,167.3 70.1,156 85.7,136 87.7,132 92.9,116 94.3,108 93.7,100 90.5,88 76.4,48 70.4,28 66.6,12 63.7,-4ZM273.2,52 272.5,48 273.3,44 275.4,40 291.5,20 306,-4 371.8,-4 372.2,4 371.2,12 368.7,20 364.4,28 357.5,36 352.7,40 336,51.6 332,53.1 328,53 316,49.9 312,49.4 308,49.6 304,50.9 292,57.3 288,58.4 284,58.5 280,57.7 276.6,56ZM324,13.6 320,15.1 314.3,20 312,24 311.2,28 313.3,32 320,35.7 324,36.6 328,36.2 332,33.8 333.7,32 335.9,28 336.6,24 336,20 332,14.9 328,13.5ZM296,36.3 292,35.9 288,36.8 283,40 279.7,44 279.1,48 281.5,52 284,53.4 288,53.5 291.4,52 295.5,48 297.7,44 298.4,40ZM336,194.9 340,193.5 344,193.3 348,194.1 352,196.1 356,199.4 358.7,204 359.6,208 359.8,212 359.4,216 358.2,220 355.8,224 352,227.3 348,229.2 344,229.7 340,228.9 336,226.5 333.8,224 331.6,220 330.6,216 330.1,204 332,198.6 334.3,196ZM344,199 340,200.4 336.9,204 335.8,208 336.4,216 340,221.3 344,223.1 348,222.4 352,219.2 353.9,216 354.8,212 354.4,208 352,203.2 348,200ZM196,211.4 200,212 204,213.5 207.6,216 210.8,220 212.4,224 218.2,232 220.6,240 221,248 222.1,256 221.7,268 219.6,276 217.5,288 214.1,296 208.5,304 200,312.7 196,315.6 192,317.2 188,317.5 184,316.1 180,313.2 167.6,300 162.2,292 159,284 157.6,276 157,264 157.5,252 158.3,248 161.7,240 166.2,232 169.5,228 184,214.6 188,212.4 192,211.4ZM196,214.7 192,214.9 188,216.4 183.5,220 180,224.6 170.8,232 167.9,236 163.7,244 162.2,248 161,256 161.2,276 162.7,284 164.3,288 169.2,296 180,307.6 184,310.5 188,311.7 192,311.5 196,309.9 200,307.3 204,303.7 209.8,296 213.5,288 218.3,268 218.8,264 217.3,240 216.2,236 214.4,232 211.3,228 208,222.1 204,217.6 200,215.5ZM16,411.5 17.1,412 18.8,416 16,418.1 12.7,416 14.8,412Z"/>
<path fill="#25ffda" stroke="#25ffda" stroke-width=".6" d="M63.7,-4 66.6,12 71.5,32 77.8,52 89.2,84 93.7,100 94.3,104 93.8,112 87.7,132 84,138.6 72,153.4 65.5,164 61.2,176 59.5,188 60.1,200 61.5,208 63.7,216 68,228 80.9,260 84.6,272 86.5,280 87.8,292 86.6,312 87.9,324 87.9,332 86.4,340 84.7,344 84.2,352 82.8,360 77.1,376 73.2,384 64,400 60.3,408 59.4,412 58,428 57.8,440 58.5,448 58.1,452 55.8,460 53.9,464 44,477.2 32.9,488 19.2,504 -4,504 -4,499.9 8.7,492 36,477.4 40,474.3 49.5,464 51.7,460 53.9,452 54,444 53.3,440 56.7,408 58.3,404 73,376 79.6,356 81.1,344 82.9,336 83.3,332 82.9,324 80.6,312 82,304 82.3,296 81.5,288 80,280.3 77.6,272 73.1,260 58.4,228 53.7,216 49.5,200 48.4,192 48.2,184 48.8,176 50.4,168 54.9,156 59.8,148 62.8,144 68,138.4 76,131.2 78.5,128 80.7,120 84.8,108 85.2,104 83.9,100 65.6,72 52.5,48 41.7,24 31.7,-4ZM324,13.6 328,13.5 332,14.9 336,20 336.6,24 335.9,28 333.7,32 332,33.8 328,36.2 324,36.6 320,35.7 313.3,32 311.2,28 312,24 314.3,20 320,15.1ZM296,36.3 298.4,40 297.7,44 295.5,48 291.4,52 288,53.5 284,53.4 281.5,52 279.1,48 279.7,44 283,40 288,36.8 292,35.9ZM344,199 348,200 352,203.2 354.4,208 354.8,212 353.9,216 352,219.2 348,222.4 344,223.1 340,221.3 336.4,216 335.8,208 336.9,204 340,200.4ZM344,205.2 340.8,208 340,212 344,216.7 348,215.5 350,212 349.2,208 348,206.5ZM196,214.7 200,215.5 204,217.6 208,222.1 211.3,228 214.4,232 216.2,236 217.3,240 218.8,264 218.3,268 213.5,288 209.8,296 204,303.7 200,307.3 196,309.9 192,311.5 188,311.7 184,310.5 180,307.6 169.2,296 164.3,288 162.7,284 161.2,276 161,256 162.2,248 163.7,244 167.9,236 170.8,232 180,224.6 183.5,220 188,216.4 192,214.9ZM196,217.5 192,217.9 188,220 180.5,228 175.1,232 172,235.6 167.2,244 165.8,248 164.3,256 164.4,276 165,280 166.3,284 170.7,292 177.3,300 184,306 188,307.3 192,307 198.3,304 202.9,300 205.9,296 211.2,284 214.5,272 215.8,264 214.5,240 213.3,236 211.3,232 204,221.6 200,218.7ZM23.1,412 23.9,416 20,421.7 16,424.2 12,425 8,424 4.7,420 4.7,416 6.7,412 12,408.4 16.5,408 20,409.2ZM16,411.5 14.8,412 12.7,416 16,418.1 18.8,416 17.1,412Z"/>
<path fill="#62ff9e" stroke="#62ff9e" stroke-width=".6" d="M31.7,-4 41.7,24 52.5,48 65.6,72 83.9,100 85.2,104 84.8,108 80.7,120 78.5,128 76,131.2 68,138.4 62.8,144 59.8,148 54.9,156 50.4,168 48.8,176 48.2,184 48.4,192 49.5,200 53.7,216 58.4,228 73.1,260 77.6,272 79.9,280 81.5,288 82.3,296 82,304 80.6,312 82.9,324 83.3,332 81.1,344 79.6,356 73,376 58.3,404 56.7,408 53.3,440 54,444 53.9,452 51.7,460 49.5,464 44,470.4 36,477.4 8.7,492 -4,499.9 -4,473.7 16,474.3 24,473.7 32,472.1 40,468.4 44,465.4 48,460 49.3,456 50.5,448 50.2,440 52.7,420 52.7,408 54.5,404 61.8,392 69.5,376 76.1,356 79.2,336 79.3,328 77.2,312 77.7,304 77.4,296 75,284 72,274.9 68,265.5 50.4,232 43,216 37.7,200 35,184 34.7,176 35.1,168 37.2,156 39.7,148 43,140 55.7,116 56.8,112 56.9,108 56.1,104 52,96 33,68 18.1,44 6.9,24 -4,2.5 -4,-4ZM344,205.2 348,206.5 349.2,208 350,212 348,215.5 344,216.7 340,212 340.8,208ZM196,217.5 200,218.7 204,221.6 211.3,232 213.3,236 214.5,240 215.8,264 214.5,272 211.2,284 205.9,296 202.9,300 198.3,304 192,307 188,307.3 184,306 177.3,300 170.7,292 166.3,284 165,280 164.4,276 164.3,256 165.8,248 167.2,244 172,235.6 175.1,232 180.5,228 188,220 192,217.9ZM196,220 192,220.8 188,223.3 175.1,236 170.5,244 169,248 167.4,256 166.9,264 167.3,276 168.1,280 172,287.7 178.1,296 184,302 188,303.6 192,303.2 196,301.6 200,298.4 202,296 206.1,288 209.2,280 211.6,272 213.2,264 212.6,244 210.7,236 208.6,232 204,225.3 200,221.7ZM20,405.4 24.1,408 26.8,412 27.2,416 25.9,420 23.7,424 20,428.3 16,431.5 8,435.6 4,436.6 0,436.6 -4,434.9 -4,414.1 -2.6,412 1.8,408 8,405 12,404.2 16,404.3ZM23.1,412 20,409.2 16.5,408 12,408.4 6.7,412 4.7,416 4.7,420 8,424 12,425 16,424.2 20,421.7 23.9,416Z"/>
<path fill="#9eff62" stroke="#9eff62" stroke-width=".6" d="M-4,2.5 6.9,24 18.1,44 33,68 52,96 56.1,104 56.9,108 56.8,112 55.7,116 43,140 39.7,148 37.2,156 35.1,168 34.7,176 35,184 37.7,200 43,216 50.4,232 67.3,264 73.8,280 76,288 77.4,296 77.7,304 77.2,312 79.3,328 78.7,340 76.9,352 75,360 67.8,380 61.8,392 54.5,404 52.7,408 52.7,420 50.2,440 50.5,448 49.3,456 48,460 44,465.4 36,470.6 28,473.1 20,474.1 -4,473.7 -4,434.9 0,436.6 4,436.6 12,433.9 16,431.5 20,428.3 24,423.7 25.9,420 27.2,416 26.8,412 24.1,408 20,405.4 16,404.3 12,404.2 8,405 1.8,408 -2.6,412 -4,414.1 -4,403.9 4,401 8,400.3 16,400.6 20,401.7 24,403.7 28,407.4 30.1,412 30.3,416 29.7,420 26.5,428 16.4,444 14.9,448 14.5,452 15.5,456 18.3,460 24,463.4 28,464.6 36,464.7 40,463.7 44,460.7 45.4,456 47.3,444 48.1,432 49.8,420 49.3,408 50.6,404 61,388 66.4,376 71.7,360 73.9,352 75.7,340 76.1,332 73.6,300 72,292 69.4,284 66,276 60,264.6 42.1,236 33,220 25.7,204 20.6,188 18.1,176 16.7,164 16.2,128 15.5,120 14,112 11.5,104 8.1,96 -4,75.1ZM196,220 200,221.7 204,225.3 208.6,232 210.7,236 212.6,244 213.2,264 211.6,272 209.2,280 206.1,288 202,296 200,298.4 196,301.6 192,303.2 188,303.6 184,302 178.1,296 172,287.7 168.1,280 167.3,276 166.9,264 167.4,256 169,248 170.5,244 175.1,236 188,223.3 192,220.8ZM196,222.8 192,223.7 188,226.4 178.4,236 176,239.4 173.5,244 172.1,248 169.9,260 170.4,276 171.5,280 176,287.2 182.8,296 188,300.3 192,299.5 196,297.8 198,296 200,292.8 207.5,276 210.7,264 210.8,248 209.7,240 208.3,236 204,228.9 200,224.8Z"/>
<path fill="#daff25" stroke="#daff25" stroke-width=".6" d="M-4,75.1 8.1,96 11.5,104 14,112 15.5,120 16.2,128 16.3,156 17.1,168 18.8,180 22.9,196 29.1,212 35.1,224 60,264.6 66,276 69.4,284 72,292 74,304 76.1,336 74.6,348 72.9,356 64.8,380 60,389.9 50.6,404 49.3,408 49.8,420 48.1,432 47.3,444 44.5,460 40,463.7 36,464.7 28,464.6 24,463.4 18.3,460 15.5,456 14.5,452 14.9,448 16.4,444 26.5,428 28.5,424 30.3,416 30.1,412 28.5,408 24,403.7 20,401.7 16,400.6 8,400.3 4,401 -4,403.9 -4,397.1 8,395.8 16,396.7 24,399.6 30.3,404 33.3,408 34.1,412 33.6,420 32.3,428 27.6,440 27,444 27.3,448 29.1,452 32,454.8 36,456.5 37.5,456 40,453.8 45,440 44.4,432 44.5,428 46.8,420 46.8,416 45.2,408 46.4,404 56,391.2 60.2,384 63.4,376 68.7,360 71.9,348 73.3,336 71.6,312 70.5,304 68.6,296 65.6,288 61.6,280 52,264.8 30.4,236 16.8,216 6,196 -4,171.8ZM196,222.8 200,224.8 204,228.9 208.3,236 209.7,240 210.8,248 210.7,264 207.5,276 200,292.8 198,296 196,297.8 192,299.5 188,300.3 182.8,296 176,287.2 171.5,280 170.4,276 169.9,260 172.1,248 173.5,244 176,239.4 178.4,236 188,226.4 192,223.7ZM196,225.7 192,226.5 188,229.4 181.4,236 178.4,240 175.1,248 172.7,260 173.1,272 173.9,276 175.7,280 180,285.9 188,294 192,294.4 196,291.7 204,276.7 207.3,268 208.8,260 208.8,248 207.5,240 203.6,232 200,227.8Z"/>
<path fill="#ffe800" stroke="#ffe800" stroke-width=".6" d="M-4,171.8 6,196 16.8,216 30.4,236 52,264.8 61.6,280 68,294.2 69.7,300 71.2,308 73.3,336 72.6,344 71,352 63.4,376 60.2,384 56,391.2 46.4,404 45.2,408 46.8,416 46.8,420 44.5,428 44.4,432 45,440 40,453.8 37.5,456 36,456.5 32,454.8 29.1,452 27.3,448 27,444 27.6,440 32.3,428 33.3,424 34.1,412 33.3,408 30.3,404 24,399.6 20,397.8 16,396.7 8,395.8 -4,397.1 -4,390.8 8,391.2 16,392.7 25.3,396 36,402.2 40,402.8 44,399.8 56,386.5 59.1,380 69.3,348 70.6,336 69,312 67.2,304 64,295.5 60,287.8 52,276 40,261.7 8.9,228 -4,212.5ZM40,414.3 38.8,416 38.5,420 40,422.2 42.7,420 42.1,416ZM40,437.6 38.2,440 40,440.9 40.6,440ZM196,225.7 200,227.8 203.6,232 207.5,240 208.8,248 208.8,260 207.3,268 204,276.7 196,291.7 192,294.4 188,294 180,285.9 175.7,280 173.9,276 173.1,272 172.7,260 175.1,248 178.4,240 181.4,236 188,229.4 192,226.5ZM196,228.5 192,229.2 188.2,232 181.2,240 179.1,244 177.8,248 175.4,260 175.5,268 176.3,272 178,276 180,279.2 184,283.2 188,285.5 192,285.5 196,282.5 200,277.2 204,269.5 206.6,260 207.2,252 206.3,244 205.3,240 203.6,236 201,232Z"/>
<path fill="#ffac00" stroke="#ffac00" stroke-width=".6" d="M-4,212.5 8.9,228 40,261.7 52,276 57.6,284 62.3,292 65.8,300 68.2,308 69.6,316 70.6,336 70,344 67.1,356 60.6,376 56,386.5 44,399.8 40,402.8 36,402.2 25.3,396 16,392.7 8,391.2 -4,390.8 -4,384.6 12,387.3 20,389.6 36,396 40,396.3 44,393.6 52,386.4 56,380.5 57.9,376 65.5,352 67.5,344 67.9,336 67.5,320 66.4,312 64,304.7 60,296.8 56,290.7 48,280.8 40,272.7 28,261.9 -4,235.9ZM196,228.5 201,232 203.6,236 205.3,240 206.3,244 207.2,252 206.6,260 204,269.5 200,277.2 196,282.5 192,285.5 188,285.5 184,283.2 180,279.2 178,276 176.3,272 175.5,268 175.4,260 177.8,248 179.1,244 181.2,240 188.2,232 192,229.2ZM196,230.8 191.8,232 188,235.3 184,240 181.7,244 180.4,248 180.1,252 178.1,260 178,264 178.5,268 180,272.1 184,277 188,279 192,278.7 196,276 200,271 203.3,264 205.1,256 204.9,248 203,240 200,234.4ZM40,414.3 42.1,416 42.7,420 40,422.2 38.5,420 38.8,416ZM40,440.9 38.2,440 40,437.6 40.6,440Z"/>
<path fill="#ff7100" stroke="#ff7100" stroke-width=".6" d="M196,230.8 200,234.4 203,240 204.9,248 205.1,256 203.3,264 200,271 196,276 192,278.7 188,279 184,277 180,272.1 178.5,268 178,264 178.1,260 180.1,252 180.4,248 181.7,244 184,240 188,235.3 191.8,232ZM196,234.1 192,235.2 188,238.8 184.3,244 182.7,248 180.7,260 180.7,264 181.8,268 184,271.4 188,273.7 192,273.4 196,270.7 200,265.1 203,256 203.3,252 202,244 200,238.8ZM-4,235.9 28,261.9 40,272.7 48,280.8 56,290.7 60,296.8 64,304.7 66.4,312 67.5,320 67.9,336 67.5,344 65.5,352 57.9,376 56,380.5 52,386.4 44,393.6 40,396.3 36,396 20,389.6 12,387.3 -4,384.6 -4,378 12,382.4 32,389.5 36,390.3 40,390 44,388.1 48,385.3 52,381.3 55,376 64.1,348 65,344 65.5,320 65,316 62,308 56,298.4 52,293.6 44,285.6 36,278.9 24,270.4 12,263 -4,254.3Z"/>
<path fill="#ff3500" stroke="#ff3500" stroke-width=".6" d="M196,234.1 200,238.8 202,244 203.3,252 203,256 200,265.1 196,270.7 192,273.4 188,273.7 184,271.4 181.8,268 180.7,264 180.7,260 182.7,248 184.3,244 188,238.8 192,235.2ZM196,238.1 192,238.8 188,242.7 185.1,248 183.5,256 183.6,264 186.1,268 188,269.3 192,268.7 196,265.6 199.4,260 200.7,256 201.1,252 200,245.5 197.6,240ZM-4,254.3 20,267.9 32,276 40,282.1 48,289.4 56,298.4 60,304.2 64,312.4 65.5,320 65.2,340 64.1,348 55,376 52.9,380 48,385.3 44,388.1 40,390 36,390.3 32,389.5 12,382.4 -4,378 -4,370.6 24,382 32,384.6 36,385.2 40,384.8 44,383.1 48,380.4 52.1,376 62.2,344 63.6,320 62.7,316 60,310.2 56,304.8 48,296.8 40,290.6 32,285.4 20,279.2 8,274.4 -4,270.6Z"/>
<path fill="#f80000" stroke="#f80000" stroke-width=".6" d="M196,238.1 197.6,240 200,245.5 201.1,252 200.7,256 199.4,260 196,265.6 192,268.7 188,269.3 186.1,268 183.6,264 183.5,256 185.1,248 188,242.7 192,238.8ZM196,243.8 192,243.3 187.5,248 186.1,252 185.8,256 186.5,260 188,264.2 192,263.9 196,260.5 198.1,256 198.6,252 197.7,248ZM-4,270.6 8,274.4 20,279.2 32,285.4 40,290.6 48,296.8 56,304.8 60,310.2 62.7,316 63.6,320 62.2,344 52.1,376 48,380.4 44,383.1 40,384.8 36,385.2 28,383.5 -4,370.6 -4,361.7 14.1,372 28,378.5 36,380.4 40,380 44,378.2 48,375 49.9,372 52,366.6 58.8,344 61.7,320 60.3,316 56,310.3 48,303.4 40,298.2 32,294.2 24,291.1 12,288 4,286.9 -4,286.7Z"/>
<path fill="#bc0000" stroke="#bc0000" stroke-width=".6" d="M196,243.8 197.7,248 198.6,252 198.1,256 196,260.5 192,263.9 188,264.2 186.5,260 185.8,256 186.1,252 187.5,248 192,243.3ZM-4,286.7 4,286.9 12,288 24,291.1 32,294.2 40,298.2 48,303.4 56,310.3 60,315.3 61.7,320 58.8,344 52,366.6 49.9,372 48,375 44,378.2 40,380 36,380.4 28,378.5 14.1,372 -4,361.7Z"/>
</g>
<path fill="#fff" d="M164,301.6 174.4,290.8 184.9,301.6 174.4,312.7ZM294.5,301.6 305,290.8 325.9,290.8 336.3,301.6 325.9,312.7 305,312.7ZM250,280.3 262.2,267.4 272.6,276.2 278.9,251.1 285.1,246.9 293.1,255.3 293.1,280.3 285.1,288.7 291.4,297 278.9,297 261.7,312.7 250,300.2ZM274.7,168.6 285.1,166.5 292.4,170.7 292.4,190.5 285.1,194.7 283,178 276.8,175.9Z"/>
</g>
<g clip-path="url(#fr)"><use href="#geo" transform="translate(-0.5,-0.6)"/>
</g>
<g transform="translate(-0.5,-0.6)"><g fill="#000"><circle cx="216.2" cy="63.3" r="2.8"/><circle cx="230.6" cy="63.3" r="2.8"/><circle cx="245.0" cy="63.3" r="2.8"/><circle cx="259.5" cy="63.3" r="2.8"/><circle cx="331.5" cy="63.3" r="2.8"/><circle cx="331.5" cy="47.5" r="2.8"/><circle cx="216.2" cy="79.0" r="2.8"/><circle cx="259.5" cy="79.0" r="2.8"/><circle cx="302.7" cy="79.0" r="2.8"/><circle cx="317.1" cy="79.0" r="2.8"/><circle cx="360.3" cy="79.0" r="2.8"/><circle cx="216.2" cy="94.7" r="2.8"/><circle cx="230.6" cy="94.7" r="2.8"/><circle cx="302.7" cy="94.7" r="2.8"/><circle cx="331.5" cy="94.7" r="2.8"/><circle cx="360.3" cy="94.7" r="2.8"/><circle cx="418.0" cy="94.7" r="2.8"/><circle cx="100.9" cy="110.4" r="2.8"/><circle cx="302.7" cy="110.4" r="2.8"/><circle cx="345.9" cy="110.4" r="2.8"/><circle cx="418.0" cy="110.4" r="2.8"/><circle cx="432.4" cy="110.4" r="2.8"/><circle cx="475.7" cy="110.4" r="2.8"/><circle cx="100.9" cy="126.0" r="2.8"/><circle cx="144.1" cy="126.0" r="2.8"/><circle cx="201.8" cy="126.0" r="2.8"/><circle cx="245.0" cy="126.0" r="2.8"/><circle cx="273.9" cy="126.0" r="2.8"/><circle cx="331.5" cy="126.0" r="2.8"/><circle cx="345.9" cy="126.0" r="2.8"/><circle cx="360.3" cy="126.0" r="2.8"/><circle cx="475.7" cy="126.0" r="2.8"/><circle cx="490.1" cy="126.0" r="2.8"/><circle cx="187.4" cy="141.5" r="2.8"/><circle cx="216.2" cy="141.5" r="2.8"/><circle cx="345.9" cy="141.5" r="2.8"/><circle cx="374.8" cy="141.5" r="2.8"/><circle cx="490.1" cy="141.5" r="2.8"/><circle cx="115.3" cy="157.1" r="2.8"/><circle cx="144.1" cy="157.1" r="2.8"/><circle cx="331.5" cy="157.1" r="2.8"/><circle cx="374.8" cy="157.1" r="2.8"/><circle cx="389.2" cy="157.1" r="2.8"/><circle cx="403.6" cy="157.1" r="2.8"/><circle cx="144.1" cy="172.5" r="2.8"/><circle cx="317.1" cy="172.5" r="2.8"/><circle cx="345.9" cy="172.5" r="2.8"/><circle cx="418.0" cy="172.5" r="2.8"/><circle cx="216.2" cy="188.0" r="2.8"/><circle cx="331.5" cy="188.0" r="2.8"/><circle cx="374.8" cy="188.0" r="2.8"/><circle cx="446.8" cy="188.0" r="2.8"/><circle cx="504.5" cy="188.0" r="2.8"/><circle cx="173.0" cy="203.3" r="2.8"/><circle cx="245.0" cy="203.3" r="2.8"/><circle cx="331.5" cy="203.3" r="2.8"/><circle cx="446.8" cy="203.3" r="2.8"/><circle cx="201.8" cy="218.7" r="2.8"/><circle cx="230.6" cy="218.7" r="2.8"/><circle cx="245.0" cy="218.7" r="2.8"/><circle cx="259.5" cy="218.7" r="2.8"/><circle cx="317.1" cy="218.7" r="2.8"/><circle cx="446.8" cy="218.7" r="2.8"/><circle cx="475.7" cy="218.7" r="2.8"/><circle cx="144.1" cy="234.0" r="2.8"/><circle cx="173.0" cy="234.0" r="2.8"/><circle cx="230.6" cy="234.0" r="2.8"/><circle cx="259.5" cy="234.0" r="2.8"/><circle cx="317.1" cy="234.0" r="2.8"/><circle cx="389.2" cy="234.0" r="2.8"/><circle cx="418.0" cy="234.0" r="2.8"/><circle cx="201.8" cy="249.3" r="2.8"/><circle cx="317.1" cy="249.3" r="2.8"/><circle cx="403.6" cy="249.3" r="2.8"/><circle cx="446.8" cy="249.3" r="2.8"/><circle cx="187.4" cy="264.5" r="2.8"/><circle cx="216.2" cy="264.5" r="2.8"/><circle cx="245.0" cy="264.5" r="2.8"/><circle cx="345.9" cy="264.5" r="2.8"/><circle cx="403.6" cy="264.5" r="2.8"/><circle cx="230.6" cy="279.7" r="2.8"/><circle cx="245.0" cy="279.7" r="2.8"/><circle cx="259.5" cy="279.7" r="2.8"/><circle cx="360.3" cy="279.7" r="2.8"/><circle cx="374.8" cy="279.7" r="2.8"/><circle cx="446.8" cy="279.7" r="2.8"/><circle cx="216.2" cy="294.8" r="2.8"/><circle cx="230.6" cy="294.8" r="2.8"/><circle cx="345.9" cy="294.8" r="2.8"/><circle cx="245.0" cy="309.9" r="2.8"/><circle cx="418.0" cy="309.9" r="2.8"/><circle cx="100.9" cy="324.9" r="2.8"/><circle cx="129.7" cy="324.9" r="2.8"/><circle cx="418.0" cy="324.9" r="2.8"/><circle cx="129.7" cy="339.9" r="2.8"/><circle cx="288.3" cy="339.9" r="2.8"/><circle cx="57.7" cy="354.9" r="2.8"/><circle cx="129.7" cy="354.9" r="2.8"/><circle cx="144.1" cy="354.9" r="2.8"/><circle cx="173.0" cy="354.9" r="2.8"/><circle cx="273.9" cy="354.9" r="2.8"/><circle cx="302.7" cy="354.9" r="2.8"/><circle cx="317.1" cy="354.9" r="2.8"/><circle cx="72.1" cy="369.8" r="2.8"/><circle cx="100.9" cy="369.8" r="2.8"/><circle cx="129.7" cy="369.8" r="2.8"/><circle cx="144.1" cy="369.8" r="2.8"/><circle cx="158.6" cy="369.8" r="2.8"/><circle cx="187.4" cy="369.8" r="2.8"/><circle cx="259.5" cy="369.8" r="2.8"/><circle cx="273.9" cy="369.8" r="2.8"/><circle cx="302.7" cy="369.8" r="2.8"/><circle cx="86.5" cy="384.7" r="2.8"/><circle cx="115.3" cy="384.7" r="2.8"/><circle cx="144.1" cy="384.7" r="2.8"/><circle cx="173.0" cy="384.7" r="2.8"/><circle cx="331.5" cy="384.7" r="2.8"/><circle cx="72.1" cy="399.5" r="2.8"/><circle cx="100.9" cy="399.5" r="2.8"/><circle cx="129.7" cy="399.5" r="2.8"/><circle cx="158.6" cy="399.5" r="2.8"/><circle cx="374.8" cy="399.5" r="2.8"/><circle cx="43.2" cy="414.3" r="2.8"/><circle cx="100.9" cy="414.3" r="2.8"/><circle cx="288.3" cy="414.3" r="2.8"/><circle cx="86.5" cy="429.1" r="2.8"/><circle cx="115.3" cy="429.1" r="2.8"/><circle cx="144.1" cy="429.1" r="2.8"/><circle cx="273.9" cy="429.1" r="2.8"/><circle cx="57.7" cy="443.8" r="2.8"/><circle cx="100.9" cy="443.8" r="2.8"/><circle cx="86.5" cy="458.4" r="2.8"/><circle cx="57.7" cy="473.0" r="2.8"/><circle cx="86.5" cy="473.0" r="2.8"/><circle cx="144.1" cy="502.2" r="2.8"/><circle cx="173.0" cy="502.2" r="2.8"/></g><g fill="#e8b4dc"><circle cx="230.6" cy="110.4" r="2.8"/><circle cx="259.5" cy="110.4" r="2.8"/><circle cx="432.4" cy="126.0" r="2.8"/><circle cx="418.0" cy="141.5" r="2.8"/><circle cx="518.9" cy="141.5" r="2.8"/><circle cx="216.2" cy="157.1" r="2.8"/><circle cx="504.5" cy="172.5" r="2.8"/><circle cx="187.4" cy="188.0" r="2.8"/><circle cx="187.4" cy="218.7" r="2.8"/><circle cx="302.7" cy="234.0" r="2.8"/><circle cx="302.7" cy="249.3" r="2.8"/><circle cx="374.8" cy="309.9" r="2.8"/><circle cx="158.6" cy="339.9" r="2.8"/><circle cx="389.2" cy="399.5" r="2.8"/><circle cx="317.1" cy="429.1" r="2.8"/></g></g>
<rect x="0" y="0" width="563.5" height="500.8" fill="none" stroke="#000" stroke-width="2"/>
</g>
<g transform="translate(699.0,67.3)">
<clipPath id="cB"><path d="M75.2,94 85.6,83.6 129.5,83.6 173.4,37.6 196.4,37.6 217.2,13.6 282,13.6 324.8,13.6 346.8,35.5 367.6,14.6 378.1,25.1 378.1,49.1 389.6,60.6 454.3,60.6 477.3,83.6 541,83.6 551.5,94 551.5,165 465.8,250.7 465.8,251.1 465.8,278.2 443.9,301.2 443.9,323.2 422,345.1 422,369.1 400,391 400,414 389.6,425.5 368.7,425.5 324.8,469.4 282,469.4 249.6,434.9 249.6,370.2 194.3,313.8 183.8,325.2 183.8,386.9 162.9,411.9 135.8,445.4 128.5,445.4 107.6,427.6 97.1,438 97.1,479.8 86.7,490.3 43.9,490.3 32.4,478.8 32.4,437 10.4,414 10.4,390 32.4,368.1 32.4,323.2 41.8,313.8 62.7,313.8 85.6,290.8 129.5,290.8 138.9,278.2 112.8,251.1 97.1,238.1 97.1,188 85.6,177.6 64.8,176.5 53.3,165 53.3,142 75.2,119.1Z"/></clipPath>
<g transform="translate(0.0,-0.3)">
<g clip-path="url(#cB)" shape-rendering="crispEdges">
<path fill="#0000bc" stroke="#0000bc" stroke-width=".6" d="M-4,-4 88.3,-4 84.1,8 74.5,32 69.4,48 66.7,64 66.4,84 65.9,88 63.7,92 60,93.5 56,93.7 44,91.6 21.8,84 -4,73ZM502.2,116 504,114.5 508,113.3 516,112.8 528,114.2 532,115.4 536,117.5 540,121.8 542.8,128 543.5,132 542.8,140 541,144 537.1,148 528,151.6 524,152.4 520,152.4 516,151.1 512.5,148 509.5,144 504,133.7 501.7,124 501.4,120ZM413.2,504 420,472 424,460 428,453.4 432,449.5 436,447.1 440,445.8 444,445.2 452,445.2 468,447.8 532,465.6 564,473 564,504Z"/>
<path fill="#0000f8" stroke="#0000f8" stroke-width=".6" d="M151.4,-4 146.2,16 144,21.4 140,27.1 133.9,32 116,41.6 108,46.9 100,54.1 96,58.8 90.5,68 87.5,76 85.8,84 84.2,96 81.3,104 80,112.1 68,116.2 56,118.2 28,119.7 -4,120.3 -4,73 21.8,84 45.4,92 56,93.7 60,93.5 64,91.8 65.9,88 66.4,84 66.7,64 69.4,48 74.5,32 84.1,8 88.3,-4ZM480,93.5 484,90.7 488,89.5 496,88.8 504,90.2 512,93.4 532,99.3 544,101.9 547.9,104 564,115.9 564,161.5 556,163.7 548,164.6 532,162.7 516,162.2 512,161.4 509.9,160 494,144 490.9,140 485,124 477.4,108 476.4,104 476.8,100 478.3,96ZM502.2,116 501.4,120 501.7,124 504,133.7 509.5,144 512.5,148 516,151.1 520,152.4 524,152.4 528,151.6 537.1,148 541,144 542.8,140 543.5,132 542.8,128 540,121.8 536,117.5 532,115.4 528,114.2 516,112.8 508,113.3 504,114.5ZM107.9,208 108.8,204 112,200.7 114.7,200 120,200.1 128,201.6 130.5,204 130.8,208 128,212 124,214.3 120,215.5 116,215.6 112,214.4 109.2,212ZM288,306.3 288.2,308 292,311.3 292,313.8 288,313.3 287.1,312 287.1,308ZM341.3,504 347.8,496 352,489.2 356.3,480 358.9,472 363.4,448 369.9,428 370.3,420 368.8,408 372.3,396 373.6,380 376,376 380,373.3 384,371.6 388,366.2 392,363.4 396,362.1 404,361.7 416,363.6 432,363.9 488,371.2 516,373.4 540,373.2 564,370.4 564,473 532,465.6 468,447.8 456,445.6 444,445.2 436,447.1 432,449.5 428,453.4 424,460 420,472 413.2,504Z"/>
<path fill="#0035ff" stroke="#0035ff" stroke-width=".6" d="M185.3,-4 181.4,4 177.5,16 175.9,28 176.3,40 169.5,52 160,58.4 152,62.5 148,63.2 128,62 120,63.4 112,66.6 104,72.4 100,76.8 96,82.8 93.6,88 87.5,104 84.6,116 84,116.8 64,129 40,137.5 -4,155.1 -4,120.3 28,119.7 56,118.2 68,116.2 80,112.1 81.3,104 84.2,96 85.8,84 87.5,76 90.5,68 96,58.8 100,54.1 108,46.9 116,41.6 133.9,32 140,27.1 144,21.4 146.2,16 151.4,-4ZM480,45.3 484,43.3 488,42.2 492,42 496,42.6 500,44.1 504,46.4 508,49.8 512,54.2 520,65.8 528.8,80 535,88 539.4,92 544,94.6 548,96 556,96.6 564,96 564,115.9 547.9,104 544,101.9 532,99.3 512,93.4 504,90.2 500,89.2 492,89.1 488,89.5 484,90.7 480,93.5 478.3,96 476.8,100 476.4,104 477.4,108 485,124 490.9,140 492,141.7 509.9,160 512,161.4 520,162.6 532,162.7 548,164.6 556,163.7 564,161.5 564,192 532,172.1 528,172.3 520,171.3 512,168.2 508,165.8 495.6,156 488,148.9 484.2,144 474.3,124 469.5,112 465.3,96 463.8,84 464.4,72 466.3,64 467.8,60 472,52.9 476,48.4ZM99.1,196 104,192 108,190.2 120,190.7 132,190.2 136,191.5 140.8,204 141.2,208 140,212.9 135.7,220 132,228.6 128,229.4 124,227.4 120,226.5 112,228.9 108,229.6 104,229.1 100,226.8 97,224 94.1,220 92.5,216 92,212 92.3,208 93.5,204 95.8,200ZM108.8,204 107.9,208 109.2,212 112,214.4 116,215.6 120,215.5 124,214.3 128,212 130.8,208 130.5,204 128,201.6 120,200.1 116,199.8 112,200.7ZM436,288.2 438.8,292 439.4,296 438.1,300 436,302.1 432,303.9 428,304.1 426.3,300 426.4,296 427.3,292 428,290.8 432,287.4ZM284,288.9 288,290.1 292,293.3 293.8,296 295.3,300 296.1,308 297.1,312 296.9,316 296,318.3 292,324.2 288,327.8 284,324 280,316.7 274.1,304 273.7,300 274.7,296 276,293.4 280,289.7ZM288,306.3 287.1,308 287.1,312 288,313.3 292,313.8 292,311.3 288.2,308ZM564,300.9 564,370.4 540,373.2 516,373.4 488,371.2 432,363.9 416,363.6 404,361.7 396,362.1 392,363.4 388,366.2 384,371.6 380,373.3 376,376 373.6,380 372.3,396 368.8,408 370.3,420 369.9,428 363.4,448 358.9,472 356.3,480 352,489.2 347.8,496 341.3,504 226,504 240,494.6 252,484.6 260,476.2 269.9,464 274,460 276,459.1 280,458.3 282.1,460 285.5,472 287.8,476 292,480.4 296,482.9 300,484.3 304,485 312,484.4 320,481.1 326.6,476 332,469.6 337.8,460 340.9,452 343.9,440 346.4,436 356,427.4 358.4,424 359.8,420 361.9,408 365.3,396 366.4,388 370.1,372 372,368.4 376,366.1 383.4,360 391.4,352 398,344 404,339.8 424,331.6 432,329.6 456,326.8 496,325.9 508,324.4 520,322 532,318.4 544,313.5 554,308Z"/>
<path fill="#0070ff" stroke="#0070ff" stroke-width=".6" d="M280.2,-4 272,0.3 267.7,4 264,9.5 261.1,20 260,21.2 256,23 251.9,20 248,9 244.8,4 240,0.2 236,-1.7 228,-3 220,-2 212,1.3 208,4 200,11.4 193.8,20 189.6,28 183.1,44 176,58 156.2,88 152,90.6 148,89.7 140,80.4 136,77.9 132,76.6 128,76 120,76.6 116,77.8 108,82.2 104,85.5 100,90.2 92,104.5 87.2,116 84,120.3 76.4,128 72,135.8 57.1,144 46.8,152 39.2,160 28,174.9 20,184.1 10.2,192 -4,200 -4,155.1 40,137.5 64,129 84,116.8 84.6,116 87.5,104 93.6,88 96,82.8 100,76.8 104,72.4 112,66.6 120,63.4 128,62 148,63.2 152,62.5 160,58.4 169.5,52 176.3,40 175.9,28 177.5,16 181.4,4 185.3,-4ZM564,-4 564,96 556,96.6 548,96 544,94.6 539.4,92 535,88 528.8,80 520,65.8 512,54.2 508,49.8 504,46.4 500,44.1 496,42.6 492,42 488,42.2 484,43.3 480,45.3 476,48.4 472,52.9 468,59.6 466.3,64 464.4,72 463.8,80 464.5,92 468.4,108 470.9,116 481.9,140 484.2,144 488,148.9 496,156.3 508,165.8 512,168.2 520,171.3 528,172.3 532,172.1 564,192 564,300.9 554,308 544,313.5 532,318.4 520,322 508,324.4 496,325.9 456,326.8 432,329.6 424,331.6 404,339.8 400,342.3 387.7,356 376,366.1 372,368.4 370.1,372 366.4,388 365.3,396 361.9,408 359.8,420 358.4,424 356,427.4 346.4,436 343.9,440 339.6,456 336,463.4 332,469.6 328,474.6 324,478.3 320,481.1 316,483.1 308,485 304,485 296,482.9 292,480.4 288,476.3 285.5,472 282.1,460 280,458.3 274,460 269.9,464 260,476.2 252,484.6 240,494.6 226,504 44.6,504 48.1,492 51,484 54.3,480 60,476.4 64,475 68,474.8 72,476 84,484.5 88,485.2 96,485.1 164,473.3 176,472.3 208,471.5 224,469.3 240,464.6 264,453.4 272,451 276,451.1 280,452.5 285.2,456 296,465.9 300,467.7 304,468.4 308,467.8 312,466 316,462.3 319.8,456 322.5,448 324.1,440 332,431.7 336,428.6 344,424.3 348,421.2 352,416.1 361.2,392 363.4,384 364.9,372 366.3,368 374.7,360 381.8,352 388.6,340 402.9,328 408,322.5 410.7,316 415.5,296 423.1,276 424.6,268 426.6,264 429,256 434.3,248 440,236.2 444,236 448,239 451.8,244 453.6,248 455.3,256 455.4,260 452.4,272 452.2,276 453.3,280 456,284 460,287 464,288.7 472,290.1 480,289.9 492,288.1 500,286 508,283.1 516,279.3 524,274.1 531.1,268 536,262.5 540.4,256 544.1,248 546.3,240 547.2,232 546.8,224 545.1,216 542.2,208 535.2,196 528.1,188 523.1,184 508,174.6 500,167.4 492,163 488,159.6 478,148 473.3,140 463.4,120 460.5,112 458.4,104 448.3,88 442,76 436.4,64 433.6,60 428,54.7 420,50.6 412,48.7 408,48.6 404,49.1 400,51.1 393.4,56 386.8,60 378.3,64 372,64.9 370.6,64 368.4,60 368.3,56 369.1,52 371.1,48 372,47.2 380,44.5 392,42.4 396,41.2 400,38.5 402,36 405.7,28 408,16 407.5,4 405.6,-4ZM436,288.2 432,287.4 428,290.8 427.3,292 426.4,296 426.3,300 428,304.1 432,303.9 436,302.1 438.1,300 439.4,296 438.8,292ZM304,23.4 308,25.2 309.7,28 311,32 314,48 313.7,52 312,54.4 308,56.4 304,53.1 303.4,52 301.6,44 298.3,36 297.3,32 298.2,28 300,25.3ZM300.4,84 304,81 305.7,84 304,87.5ZM300,101.2 304,100.4 305.7,104 304,109.7 300,110.4 299.2,108 298.9,104ZM295,132 296,129.9 300,131.2 300.1,132 296,134ZM204,142.2 208,142.5 211,144 215.1,148 217.4,152 218.4,156 218.1,160 216,164.5 212,167.2 208,168.3 200,169.2 193.7,168 188.7,164 188.2,160 189.8,156 196.2,148 200.4,144ZM280,156.8 284.1,160 284.6,168 283.9,180 285.5,192 286.8,196 288.8,200 292.9,204 294.5,208 292.2,220 291.8,224 292.4,228 296,231.7 298,236 296,241.7 294.2,244 290.3,252 289.3,256 289.5,264 292.3,276 293.9,280 301.3,292 301.9,296 301.7,312 301.3,316 296,332.2 292,338.2 288,340.1 284,339.3 280,336.4 275.4,332 274.2,328 273.6,316 272.4,312 268.5,308 265.9,304 264.6,300 265.5,292 269.7,272 270.8,264 269.9,256 267.1,248 264,242.1 261.8,236 262.1,220 264.9,212 264.5,208 263.2,204 265.9,196 272,168.2 276,159.9ZM284,288.9 280,289.7 276,293.4 274.7,296 273.7,300 274.1,304 280,316.7 284,324 288,327.8 292,324.2 296,318.3 296.9,316 297.1,312 296.1,308 295.3,300 293.8,296 292,293.3 288,290.1ZM75.4,200 80.1,196 86.3,192 95.1,188 100,186.5 108,184.9 124,184.4 136,181.8 140,181.6 144,182.7 145.3,184 145.8,188 144.5,196 144.9,200 147.3,208 147.9,212 147.6,216 144.9,220 138.5,236 137.6,240 139.3,244 145.1,248 146.6,256 148.1,260 150.3,264 156,269.4 159.6,280 163.3,284 170.7,288 176,294 180,296 192,299.3 200,303.5 205.9,308 216,312.1 221.2,316 223.4,320 224.2,324 224,332 222.9,336 220,339.7 216,342.1 212,343.5 204,344.5 199.7,344 196,342.7 191.8,340 188.2,336 184,329.7 182,328 164,322.6 160,320 156,314.8 152.6,304 151.7,296 150.3,292 148,289.3 140.9,284 112,256.6 104,250.6 86.8,240 80,234.3 74.3,228 70,220 69.1,216 69.1,212 70,208 72.2,204ZM99.1,196 95.8,200 93.5,204 92.3,208 92,212 92.5,216 94.1,220 97,224 100,226.8 104,229.1 108,229.6 112,228.9 120,226.5 124,227.4 128,229.4 132,228.6 135.7,220 140,212.9 141.2,208 140.8,204 136,191.5 132,190.2 120,190.7 108,190.2 104,192ZM130.7,360 132,358.6 136,358.2 144.2,360 140,361.2 136,364.2 132,362ZM168,377.9 172,380.8 173.3,384 172,388.1 169.4,392 168,393.2 164.7,392 164.1,388 164.6,380Z"/>
<path fill="#00acff" stroke="#00acff" stroke-width=".6" d="M405.6,-4 407.5,4 408,16 405.7,28 402,36 400,38.5 396,41.2 392,42.4 380,44.5 372,47.2 371.1,48 369.1,52 368.3,56 368.4,60 370.6,64 372,64.9 378.3,64 386.8,60 393.4,56 400,51.1 404,49.1 408,48.6 416,49.4 420,50.6 428,54.7 432,58.1 436,63.2 446.1,84 458.4,104 460.5,112 463.4,120 473.3,140 478,148 488,159.6 492,163 500,167.4 508,174.6 523.1,184 528.1,188 535.2,196 540.2,204 543.8,212 546.1,220 547.1,228 546.9,236 545.4,244 544,248.3 540.4,256 536,262.5 528,270.9 521.3,276 512,281.3 504,284.6 492,288.1 480,289.9 472,290.1 464,288.7 460,287 456,284 453.3,280 452.2,276 452.4,272 455.4,260 455.3,256 453.6,248 451.8,244 448,239 444,236 440,236.2 434.3,248 429,256 426.6,264 424.6,268 423.1,276 415.5,296 410.7,316 408,322.5 402.9,328 388.6,340 381.8,352 374.7,360 366.3,368 364.9,372 363.4,384 361.2,392 352,416.1 348,421.2 344,424.3 336,428.6 332,431.7 324.1,440 322.5,448 319.8,456 316,462.3 312,466 308,467.8 304,468.4 300,467.7 296,465.9 285.2,456 280,452.5 276,451.1 272,451 264,453.4 240,464.6 224,469.3 208,471.5 176,472.3 164,473.3 96,485.1 88,485.2 84,484.5 72,476 68,474.8 64,475 60,476.4 54.3,480 51,484 48.1,492 44.6,504 18.7,504 28,494.9 40,479.9 44.3,476 52,471.2 59.7,464 62.3,460 64.7,452 64.9,440 72,433.6 84,419.7 88,419.5 92,420.4 99.2,424 108,429.8 116,432.9 120,433.3 128,432.2 132,430.3 134.8,428 135.7,416 135.4,408 134.7,404 132,396.9 128.2,392 124,391 120,392.6 116,393.3 112,393.1 100,390 96,387.5 95.1,384 95.4,380 96.2,376 100,369 108.3,360 116.2,348 128,332.1 140,325 144,321.1 145.9,308 145.9,300 144,295.8 140,292.8 136,292 128,285.8 100,266.4 84,258.1 56,246.6 48,244.2 40,242.6 28,242.3 20,243.4 12,245.4 -4,252 -4,200 10.2,192 20,184.1 28,174.9 39.2,160 46.8,152 57.1,144 72,135.8 76.4,128 84,120.3 87.2,116 92,104.5 100,90.2 104,85.5 108,82.2 116,77.8 120,76.6 128,76 132,76.6 136,77.9 140,80.4 148,89.7 152,90.6 156.2,88 176,58 183.1,44 189.6,28 196,16.6 204,7.3 212,1.3 220,-2 228,-3 236,-1.7 239.6,0 244.8,4 248,9 251.9,20 256,23 260,21.2 261.1,20 264,9.5 267.7,4 272,0.3 280.2,-4ZM284,34.6 280,28.7 276,25.2 272,24.7 267.6,28 264,29.6 260,30.7 256,30.9 252,30.3 246.1,28 240.8,24 236,19.1 232,16.2 228,15.2 224,15.7 216,19.5 208,25.7 200,33 196,37.5 188,48.1 185.5,52 182.3,64 178.7,72 168,90.5 164,95.1 160,98.2 156,100.1 152,100.8 148,100.1 144,97.7 136,88.6 132,86.8 128,85.9 124,85.7 116,87.6 108,91.7 104,94.9 96,105.3 92,111.6 88,119.3 81.5,128 76,141.7 72,147.6 60.9,160 58.9,164 58.9,168 60.2,172 64,176.3 68,178.3 72,179.3 88,180 116,180.1 124,179.5 128,178.5 134.1,176 139.2,172 141.8,168 144,162.1 148,156.4 164,139.1 168,137.1 180,140.4 184,140.7 188,140.1 200,132.4 204,130.7 208,130.1 212,130.6 216,132.2 220,134.8 228,141.3 232,143.3 240,145.8 244,145.9 256,142.3 268,136.2 272,133.4 277.9,128 281.3,124 286.4,116 290.6,104 292.3,96 294.2,80 296.5,72 296.8,68 296.2,64 293.9,56 290.9,48ZM304,23.4 300,25.3 298.2,28 297.3,32 298.3,36 301.6,44 303.4,52 304,53.1 308,56.4 312,54.4 313.7,52 314,48 311,32 309.7,28 308,25.2ZM364,10 360,9.4 356,9.9 350.6,12 345.2,16 334.3,28 332.2,32 333.6,40 331.8,44 326.4,52 316.6,64 314.4,68 313.5,72 313,84 311.6,96 312.3,104 312.4,124 307.2,136 301.8,144 298.4,152 297.9,160 298.4,168 295.1,184 295.9,192 297.3,196 300,199.8 301.8,204 300.5,216 301.9,224 304.6,232 304.8,236 304.2,240 300.7,252 300.3,256 300.6,260 302.5,268 301,272 301.1,276 306.8,292 306.6,312 306.1,316 303.6,324 301.5,340 296,353.1 292,357.6 284,354.9 281,352 276,343.8 273.3,336 268,325.6 264,320.8 260,318.5 256,317.4 253.6,316 252,312 252.8,304 256.2,292 254.8,276 258.6,252 258,244 254,216 259.4,208 258.8,204 258.8,192 257.9,184 253.9,172 252,167.7 248,161.9 244,159 240,158.4 236,160.2 232,162.9 222.9,172 220,174 208,176.8 200,180.2 196,181.2 180,182.2 172,181.2 168,181.7 164,183.6 158.3,188 155,192 153,196 152.3,200 153,212 152.6,216 150.8,220 148.8,228 148.6,236 150,240 152.5,244 153.7,248 154.8,256 156.2,260 158.4,264 162.4,268 165.4,276 168.6,280 176,287 180,288.3 188,286.1 192,285.7 196,286.8 197.8,288 200,290.6 203.6,296 208,301.2 212,302.6 224,304.3 228,305.5 236,312 238.5,316 238.3,320 233.7,332 231.8,340 229.9,344 224,349.9 210.6,360 206.1,364 202.8,368 198.7,376 195,392 193.3,404 192.8,412 193.4,420 195.9,428 198.1,432 204,438.5 208,441.5 216,445.4 228,448.2 240,448.3 252,446.4 272,440.8 276,440.3 280,443.5 288,451.7 300,458.2 304,458.5 306.9,456 309.5,444 313.4,432 316,429 332,422 340,417.3 344,413.9 348.5,408 360.2,384 360.4,380 359.7,376 361.6,368 364,364.2 368.4,360 373.7,348 380.7,336 396,318.4 400,312.3 402.1,308 407.4,292 412.3,280 417.8,264 428.5,240 432,226.4 433.4,224 436,221.7 440,220.8 444,221.3 448,223.1 452,226.7 456,232 460,235.8 472,245.3 480,249.7 484,250.7 488,251.1 496,249.8 500.3,248 506.3,244 510.3,240 513.2,236 516.9,228 518.5,220 518.4,212 515.9,200 512,190.4 509.5,188 500,182.9 492,177 484,170.1 480,165.5 470.3,152 466.3,144 463.2,136 448,111.3 436,96.5 424,85.2 416,80.7 408,77.9 400.3,76 372,71.1 365.8,68 361.7,64 359.3,60 353.3,44 352.6,40 354.1,36 356,34.6 368,30.4 370.8,28 372.9,24 373.1,20 371.7,16 368,11.9ZM130.7,360 132,362 136,364.2 140,361.2 144.2,360 136,358.2 132,358.6ZM75.4,200 72.2,204 70,208 69.1,212 69.1,216 70,220 74.3,228 80,234.3 86.8,240 104,250.6 112,256.6 140.9,284 148,289.3 150.3,292 151.7,296 152.6,304 156,314.8 160,320 164,322.6 182,328 184,329.7 188.2,336 191.8,340 196,342.7 199.7,344 204,344.5 212,343.5 216,342.1 220,339.7 222.9,336 224,332 224.2,324 223.4,320 221.2,316 216,312.1 205.9,308 200,303.5 192,299.3 180,296 176,294 170.7,288 163.3,284 159.6,280 156,269.4 150.3,264 148.1,260 146.6,256 145.1,248 139.3,244 137.6,240 138.5,236 144.9,220 147.6,216 147.9,212 147.3,208 144.9,200 144.5,196 145.8,188 145.3,184 144,182.7 140,181.6 136,181.8 124,184.4 108,184.9 100,186.5 95.1,188 86.3,192 80.1,196ZM211,144 208,142.5 204,142.2 200,144.4 196.2,148 189.8,156 188.2,160 188.7,164 193.7,168 200,169.2 209.4,168 212,167.2 216,164.5 218.1,160 218.4,156 217.4,152 215.1,148ZM280,156.8 276,159.9 272,168.2 265.9,196 263.2,204 264.5,208 264.9,212 262.1,220 261.8,236 264,242.1 267.1,248 269.9,256 270.8,264 269.7,272 265.5,292 264.6,300 265.9,304 268.5,308 272.4,312 273.6,316 274.2,328 275.4,332 280,336.4 284,339.3 288,340.1 292,338.2 296,332.2 301.3,316 301.7,312 301.9,296 301.3,292 293.9,280 292.3,276 289.5,264 289.3,256 290.3,252 294.2,244 296,241.7 298,236 296,231.7 292.4,228 291.8,224 292.2,220 294.5,208 292.9,204 288.8,200 286.8,196 285.5,192 283.9,180 284.6,168 284.1,160ZM295,132 296,134 300.1,132 300,131.2 296,129.9ZM300,101.2 298.9,104 299.2,108 300,110.4 304,109.7 305.7,104 304,100.4ZM304,81 300.4,84 304,87.5 305.7,84ZM168,377.9 164.6,380 164.1,388 164.7,392 168,393.2 169.4,392 172,388.1 173.3,384 172,380.8ZM344.4,248 348,245.9 352,245.6 356,247.1 356.9,248 357.8,252 357.8,256 356,261.3 352,263.8 348,263.4 344,260.5 342.3,256 342.6,252Z"/>
<path fill="#00e9ff" stroke="#00e9ff" stroke-width=".6" d="M364,10 368,11.9 371.7,16 373.1,20 372.9,24 370.8,28 368,30.4 356,34.6 354.1,36 352.6,40 353.3,44 359.3,60 361.7,64 365.8,68 372,71.1 400.3,76 408,77.9 416,80.7 424,85.2 436,96.5 448,111.3 463.2,136 466.3,144 470.3,152 480,165.5 484,170.1 492,177 500,182.9 509.5,188 512,190.4 515.9,200 518.4,212 518.5,220 516.9,228 513.2,236 510.3,240 506.3,244 500.3,248 496,249.8 488,251.1 484,250.7 480,249.7 472,245.3 460,235.8 456,232 452,226.7 448,223.1 444,221.3 440,220.8 436,221.7 433.4,224 432,226.4 428.5,240 417.8,264 412.3,280 407.4,292 402.1,308 400,312.3 396,318.4 380.7,336 373.7,348 368.4,360 364,364.2 361.6,368 359.7,376 360.4,380 360.2,384 348.5,408 344,413.9 340,417.3 332,422 316,429 313.4,432 309.5,444 306.9,456 304,458.5 300,458.2 288,451.7 280,443.5 276,440.3 272,440.8 252,446.4 240,448.3 228,448.2 216,445.4 208,441.5 204,438.5 198.1,432 195.9,428 193.4,420 192.8,412 193.3,404 195,392 198.7,376 202.8,368 206.1,364 210.6,360 224,349.9 229.9,344 231.8,340 233.7,332 238.3,320 238.5,316 236,312 228,305.5 224,304.3 212,302.6 208,301.2 203.6,296 200,290.6 197.8,288 196,286.8 192,285.7 188,286.1 180,288.3 176,287 168.6,280 165.4,276 162.4,268 158.4,264 156.2,260 154.8,256 153.7,248 152.5,244 150,240 148.6,236 148.8,228 150.8,220 152.6,216 153,212 152.3,200 153,196 155,192 158.3,188 164,183.6 168,181.7 172,181.2 180,182.2 196,181.2 200,180.2 208,176.8 220,174 222.9,172 232,162.9 236,160.2 240,158.4 244,159 248,161.9 252,167.7 253.9,172 257.9,184 258.8,192 258.8,204 259.4,208 254,216 258,244 258.6,252 254.8,276 256.2,292 252.8,304 252,312 253.6,316 256,317.4 260,318.5 264,320.8 268,325.6 273.3,336 276,343.8 281,352 284,354.9 292,357.6 296,353.1 301.5,340 303.6,324 306.1,316 306.6,312 306.8,292 301.1,276 301,272 302.5,268 300.6,260 300.3,256 300.7,252 304.2,240 304.8,236 304.6,232 301.9,224 300.5,216 301.8,204 300,199.8 297.3,196 295.9,192 295.1,184 298.4,168 297.9,160 298.4,152 301.8,144 307.2,136 312.4,124 312.3,104 311.6,96 313,84 313.5,72 314.4,68 316.6,64 326.4,52 331.8,44 333.6,40 332.2,32 334.3,28 345.2,16 350.6,12 356,9.9 360,9.4ZM236,171.8 232,172.7 220,178.4 212,181 196,189.4 192,190.9 188,191.2 176,188.4 172,188.1 168,189.4 164,192.4 161.2,196 159.5,200 154.7,228 155.2,236 161.3,260 162.8,264 166.7,268 168.8,272 172,276.1 176,278.7 180,279.2 184,277 188,276.5 196,280.1 202.1,284 212,293.7 216,295.5 220,296.5 232,298.4 236,297.6 238.8,296 241.9,292 243.2,288 241.6,272 247.7,264 249.8,260 252.4,252 253,248 252.8,240 250.7,228 250.4,216 254.1,208 254.3,204 253,188 249.6,180 246.7,176 244,173.5 240,172ZM344,61.3 340,61.1 336,61.8 332,63.3 328,65.5 324.5,68 317.4,92 317.1,96 317.9,112 317.1,124 315.8,128 305.3,148 303.2,156 302.9,160 303.5,168 301.1,180 300.8,188 301.6,192 304.4,200 305.5,216 306.8,220 311.1,228 312.4,232 311.2,240 307.6,252 306.5,260 307.6,268 308,276 310.7,288 311.6,296 311.3,316 309.3,328 308.3,340 306,348 304.7,356 305.4,368 309.1,380 309.1,384 308,386.2 304,389.2 300,390 296,389.8 292,388.8 288,386.2 286.8,384 285.8,376 282.8,368 271.5,352 268,347.7 263,344 260.9,340 264,338.2 268,338.3 269.1,336 268,333.1 264,331.1 260.1,332 248,338.6 244,342 220.6,368 217.9,372 213.9,380 211.1,392 210.7,400 211.6,408 214.2,416 216.4,420 219.4,424 224,428.3 230,432 236,434.3 244,435.8 252,436 260,435 272,431.8 276,431.8 280,432.7 292,437.9 296,437.5 300,434.6 307.6,424 312,420.8 328,416.4 336,412 340,408.7 344,404 356,384 356.3,380 355.7,376 356.5,368 358,364 362.3,356 368,338.7 370.8,332 372.9,328 381.1,316 392.4,304 394.6,300 396.6,288 398.5,284 404.6,276 420.2,244 423.5,236 424.5,232 425.5,220 428,215.1 432,212.2 436,210.7 440,210.1 452,209.4 460,210.4 464.9,212 469,220 472.1,224 476,226.5 480,227.6 484,227.2 488,225.1 489.2,224 491.6,220 492.4,216 492,212.2 490.3,208 488,204.7 480,196.2 476,189.4 461.9,160 454.2,140 448,130.8 429.5,108 424,102.8 416,97.3 408,93.5 396,85.9 388,82.6 372,77.4 364,74 360.4,72 348,62.9ZM284,34.6 290.9,48 293.9,56 296.2,64 296.8,68 296.5,72 294.2,80 292.3,96 290.6,104 286.4,116 281.3,124 277.9,128 272,133.4 268,136.2 256,142.3 244,145.9 240,145.8 232,143.3 228,141.3 220,134.8 216,132.2 212,130.6 208,130.1 204,130.7 200,132.4 188,140.1 184,140.7 180,140.4 168,137.1 164,139.1 148,156.4 144,162.1 141.8,168 139.2,172 134.1,176 128,178.5 124,179.5 116,180.1 88,180 72,179.3 68,178.3 64,176.3 60.2,172 58.9,168 58.9,164 60.9,160 72,147.6 76,141.7 81.5,128 88,119.3 92,111.6 96,105.3 104,94.9 108,91.7 116,87.6 124,85.7 128,85.9 132,86.8 136,88.6 144,97.7 148,100.1 152,100.8 156,100.1 160,98.2 164,95.1 168,90.5 178.7,72 182.3,64 185.5,52 188,48.1 196,37.5 200,33 208,25.7 216,19.5 224,15.7 228,15.2 232,16.2 236,19.1 240.8,24 246.1,28 252,30.3 256,30.9 260,30.7 264,29.6 267.6,28 272,24.7 276,25.2 280,28.7ZM208,43.3 202.2,48 198.6,52 195.9,56 191,72 186.1,84 180,101 176.4,108 177,112 181.3,116 188,119.9 192,117.9 200,115.4 208,114.8 212,115.3 220,117.9 228,122.6 232,124.1 240,125.3 252,128.2 260,127.6 264,126.3 272,121.4 277.3,116 282.3,108 285.2,100 287.4,88 288.3,76 287.8,68 284.3,56 279.7,48 276,43.7 272,41.1 268,40.1 248,38.6 228,35.1 224,35.6 220,36.9ZM132,96.9 128,95.1 124,94.5 120,95.1 112,97.7 108,99.8 104,102.9 96,111.2 92.4,116 90.5,120 85.4,128 83.9,132 82.5,140 82.4,152 81.5,160 82.8,164 86.2,168 93.8,172 100,173.7 112,175.4 120,175.6 124,175.1 128,173.8 132,171.3 135,168 138.9,160 144,144 146.3,140 147.8,136 149.7,128 150.3,120 149.2,116 146.5,112 140,105.7 136,100.3ZM332.9,240 336,237.6 348,232.2 352,231.5 356,233.4 360,236.2 364,240.3 368.4,248 370.5,256 371.3,268 372.5,272 376,274.1 380,273.4 384,275.4 386.9,280 386.4,284 380,288.9 376,290.6 360,294.5 356,294.2 352,291.9 349,288 344.7,280 341.9,276 334.3,268 332.8,264 331.4,256 331.1,248 331.4,244ZM348,245.9 344,248.4 342.6,252 342.3,256 344,260.5 348,263.4 352,263.8 356,261.3 356.7,260 357.8,256 357.8,252 356.9,248 356,247.1 352,245.6ZM44,243.3 52,245.3 64,249.5 92,262 108,271.7 136,292 140,292.8 144.1,296 145.9,300 146.1,304 145,316 144,321.1 140,325 128,332.1 116.2,348 108.3,360 100,369 96.2,376 95.4,380 95.1,384 96,387.5 100,390 112,393.1 116,393.3 120,392.6 124,391 128.2,392 132,396.9 134.7,404 135.4,408 135.7,416 134.8,428 132,430.3 128,432.2 120,433.3 116,432.9 108,429.8 99.2,424 92,420.4 88,419.5 84,419.7 72,433.6 64.9,440 64.7,452 62.3,460 59.7,464 52,471.2 44.3,476 40,479.9 32,490.3 18.7,504 -4,504 -4,492 8,489.1 20,483.9 44,469.4 50.5,464 53.1,460 54.7,456 60,436.9 64.9,428 67.9,420 81.7,404 84.2,400 85.1,396 84.9,388 86.1,380 88,374.3 90.9,368 120,321.9 124.8,316 132,311.9 136,308.4 140,301.9 140.4,300 140,299.4 132,297.3 116,290.5 100,280.7 92,276.7 84,273.7 76,271.5 68,270.1 60,269.5 52,269.7 44,271 36,273.5 28,277.3 20,282.7 14.1,288 7,296 -4,312.2 -4,252 8,246.8 20,243.4 32,242.1Z"/>
<path fill="#25ffda" stroke="#25ffda" stroke-width=".6" d="M208,43.3 220,36.9 224,35.6 228,35.1 248,38.6 268,40.1 272,41.1 276,43.7 279.7,48 284.3,56 287.8,68 288.3,76 287.4,88 285.2,100 282.3,108 277.3,116 272,121.4 264,126.3 260,127.6 252,128.2 240,125.3 232,124.1 228,122.6 220,117.9 212,115.3 208,114.8 200,115.4 192,117.9 188,119.9 181.3,116 177,112 176.4,108 180,101 186.1,84 191,72 195.9,56 198.6,52 202.2,48ZM216,59 212,62.9 208.5,68 202.9,80 202.2,84 202.4,88 203.7,92 206.5,96 211.7,100 232,112.3 239.3,116 248,118.8 256,119.7 260,119.2 264,117.8 267.2,116 272,112.2 276,107.3 279.6,100 281.7,92 282.4,84 282,76 280.1,68 276.2,60 272,54.7 268,51.6 264,50.1 256,48.7 248,48.3 240,49.2 232,51.2 224,54.2ZM344,61.3 348,62.9 360.4,72 364,74 372,77.4 388,82.6 396,85.9 408,93.5 416,97.3 424,102.8 429.5,108 448,130.8 454.2,140 461.9,160 476,189.4 480,196.2 488,204.7 490.3,208 492,212.2 492.4,216 491.6,220 489.2,224 488,225.1 484,227.2 480,227.6 476,226.5 472.1,224 469,220 464.9,212 460,210.4 452,209.4 440,210.1 436,210.7 432,212.2 428,215.1 425.5,220 424.5,232 423.5,236 420.2,244 404.6,276 398.5,284 396.6,288 394.6,300 392.4,304 381.1,316 372.9,328 370.8,332 368,338.7 362.3,356 358,364 356.5,368 355.7,376 356.3,380 356,384 344,404 340,408.7 336,412 328,416.4 312,420.8 307.6,424 300,434.6 296,437.5 292,437.9 280,432.7 276,431.8 272,431.8 260,435 252,436 244,435.8 236,434.3 230,432 224,428.3 219.4,424 216.4,420 214.2,416 211.6,408 210.7,400 211.1,392 213.9,380 217.9,372 220.6,368 244,342 248,338.6 260.1,332 264,331.1 268,333.1 269.1,336 268,338.3 264,338.2 260.9,340 263,344 268,347.7 271.5,352 282.8,368 285.8,376 286.8,384 288,386.2 292,388.8 296,389.8 300,390 304,389.2 308,386.2 309.1,384 309.1,380 305.4,368 304.7,356 306,348 308.3,340 309.3,328 311.3,316 311.6,296 310.7,288 308,276 307.6,268 306.5,260 307.6,252 311.2,240 312.4,232 311.1,228 306.8,220 305.5,216 304.4,200 301.6,192 300.8,188 301.1,180 303.5,168 302.9,160 303.2,156 305.3,148 315.8,128 317.1,124 317.9,112 317.1,96 317.4,92 324.5,68 328,65.5 332,63.3 336,61.8 340,61.1ZM340,74 336,75.6 332,78.5 328,83.2 322.7,92 322.2,96 323.4,108 322.8,116 321.1,124 317.9,132 309.4,148 307,156 304.6,184 304.8,188 308.1,200 308,208 308.6,212 312,220 317.2,228 320.3,236 324,239.8 328,238 332,233.5 344,226.7 348,225 352,224.2 360,224.4 364,227.2 379.1,248 382.5,256 385,260 388,263.2 392,266.1 396,267.4 400,263.5 408,253.8 412,247.5 416,239.7 419.2,232 419.7,228 419.3,220 419.8,216 421,212 424,206 428,201.5 436,195.2 444,190.3 449.1,188 450.9,184 449.3,164 446.5,152 443.4,144 439.1,136 436,132 428.3,124 424,116.3 420.4,112 412,105.1 392,93 381.8,88 348,74.4 344,73.5ZM248,353.3 244,356.3 240.2,360 233.7,368 228.9,376 225.9,384 224.7,392 225.2,400 227.5,408 229.6,412 232.6,416 236.9,420 244,424.2 252,426.3 256,426.4 260,425.7 264.2,424 272,419.2 276,419 288,423.5 292,422.6 294.9,420 296.4,416 295.8,412 292,408.9 284,406.9 280,405.2 276,400.7 273.9,396 273.3,392 277.1,380 277.1,376 275.5,372 269.6,364 265.2,356 260.3,352 256,351.1 252,351.6ZM316,255.5 311.9,260 313,264 315.8,268 317.6,272 316,276.3 315.5,280 315.5,284 317,296 317.4,312 317.1,320 311.7,348 310.9,356 311.8,364 315.6,376 316.7,384 316.7,388 313,400 312.7,404 315.3,408 320,410 324,410.6 328,409 336,403.8 339.7,400 349.4,384 350.7,380 352.1,364 355.2,356 357.1,348 358,340 357.9,336 356,327.6 354.1,324 352,321.3 350.3,320 349.4,312 347.9,308 335.5,284 332.1,280 326.9,276 324,272.5 322.9,272 320.7,268 320.9,264 320,258.3ZM332.9,240 331.4,244 331.1,248 331.4,256 332.8,264 334.3,268 341.9,276 344.7,280 349,288 352,291.9 356,294.2 360,294.5 376,290.6 380,288.9 386.4,284 386.9,280 384,275.4 380,273.4 376,274.1 372.5,272 371.3,268 370.5,256 368.4,248 364,240.3 360,236.2 356,233.4 352,231.5 348,232.2 336,237.6ZM124,94.5 128,95.1 132,96.9 136,100.3 140,105.7 146.5,112 149.2,116 150.3,120 148.9,132 146.3,140 144,144 138.9,160 135,168 132,171.3 128,173.8 124,175.1 116,175.6 108,175 100,173.7 93.8,172 86.2,168 82.8,164 81.5,160 82.4,152 82.5,140 83.9,132 85.4,128 90.5,120 92.4,116 96,111.2 104,102.9 108,99.8 112,97.7 120,95.1ZM124,102.1 120,102.5 112,104.5 108,106.3 104,109 96,116 89.5,128 87.9,132 88.1,144 90.3,156 92,160 95.2,164 100,167.1 108,169.9 120,171.3 124,170.9 128,169 131.9,164 136.1,152 139.6,136 140.2,124 139.8,120 137.1,112 134.8,108 132,104.8 128,102.6ZM236,171.8 240,172 244,173.5 246.7,176 249.6,180 253,188 254.3,204 254.1,208 250.4,216 250.7,228 252.8,240 253,248 252.4,252 249.8,260 247.7,264 241.6,272 243.2,288 241.9,292 238.8,296 236,297.6 232,298.4 220,296.5 216,295.5 212,293.7 202.1,284 196,280.1 188,276.5 184,277 180,279.2 176,278.7 172,276.1 168.8,272 166.7,268 162.8,264 161.3,260 155.2,236 154.7,228 159.5,200 161.2,196 164,192.4 168,189.4 172,188.1 176,188.4 188,191.2 192,190.9 196,189.4 212,181 220,178.4 232,172.7ZM236,178 232,178.4 215.5,184 208.9,188 199.9,196 192,207.7 188,208.5 184.3,204 182.2,200 180,197.7 176,194.9 172,194.5 168,197.5 164.2,204 162.5,212 160.4,228 160.7,236 162.4,244 165,252 168,259 172,262.6 176,263.3 180,263.1 184,264.4 188,266.4 196,272 204,278.9 212,284.8 216,287.1 220,288.4 228,289.6 229.7,288 231.6,284 233.6,272 235.4,268 243.2,260 245.9,256 247.5,252 249,244 248.5,236 246.7,228 246.6,224 247.7,216 249.9,208 248,190.7 245.8,184 244,181.6 240,178.7ZM140,299.4 140.4,300 140,301.9 136,308.4 132,311.9 124.8,316 120,321.9 90.9,368 88,374.3 86.1,380 84.9,388 85.1,396 84.2,400 81.7,404 67.9,420 64.9,428 60,436.9 54.7,456 53.1,460 50.5,464 44,469.4 20,483.9 8,489.1 -4,492 -4,471.9 0,472.8 8,473.5 20,472.2 28,470.1 40,465.7 44,463.2 46.8,460 48.7,456 51.2,448 58,432 62.3,416 66.5,408 69.3,400 72.9,392 78.3,376 83.8,364 93,348 101.1,332 108.1,316 109.5,312 110,308 108.8,304 106.1,300 102.3,296 96,291.7 92,289.8 84,287.4 72,286.2 64,286.9 56,289.2 52,291 45,296 41.3,300 38.6,304 35.4,312 34.2,320 34.6,328 35.3,332 33.6,336 28,341.6 23.2,348 20,353.7 17.5,360 16.1,368 16.3,376 17.8,384 16.8,388 8,397 4,399.5 -4,402.8 -4,312.2 7,296 14.1,288 18.4,284 23.6,280 30.3,276 36,273.5 44,271 52,269.7 60,269.5 72,270.7 80,272.5 88,275.1 100,280.7 116,290.5 132,297.3Z"/>
<path fill="#62ff9e" stroke="#62ff9e" stroke-width=".6" d="M216,59 224,54.2 232,51.2 240,49.2 248,48.3 256,48.7 264,50.1 268,51.6 272,54.7 276.2,60 280.1,68 282,76 282.4,84 281.7,92 279.6,100 276,107.3 272,112.2 267.2,116 264,117.8 260,119.2 256,119.7 248,118.8 239.3,116 232,112.3 211.7,100 206.5,96 203.7,92 202.4,88 202.2,84 202.9,80 208.5,68 212,62.9ZM248,59.5 240,62.4 236,65.1 232.8,68 227,76 224.9,80 224.3,84 224.9,88 226.6,92 229.1,96 236.4,104 240,106.8 244,109.3 251.4,112 256,112.7 260,112.3 264,110.5 268,107.8 271.7,104 274.1,100 276.7,92 277.4,84 276.9,80 274.2,72 272,68.3 268,63.9 264,61.2 260,59.6 256,58.9ZM340,74 344,73.5 348,74.4 381.8,88 392,93 412,105.1 420.4,112 424,116.3 428.3,124 436,132 439.1,136 443.4,144 446.5,152 449.3,164 450.9,184 449.1,188 444,190.3 436,195.2 428,201.5 424,206 421,212 419.8,216 419.3,220 419.7,228 419.2,232 416,239.7 412,247.5 408,253.8 400,263.5 396,267.4 392,266.1 388,263.2 385,260 382.5,256 379.1,248 364,227.2 360,224.4 352,224.2 348,225 344,226.7 332,233.5 328,238 324,239.8 320.3,236 317.2,228 312,220 308.6,212 308,208 308.1,200 304.8,188 304.6,184 307,156 309.4,148 317.9,132 321.1,124 322.8,116 323.4,108 322.2,96 322.7,92 328,83.2 332,78.5 336,75.6ZM340,85.9 336,88.6 332.8,92 330.8,96 329.7,108 326.7,120 321.8,132 313,148 309.3,160 308.3,168 307.7,184 308.1,188 310.9,196 311.6,200 310.6,204 310.8,208 312,211.7 320,223.9 324,226.8 328,226.8 336,224.6 344,220.3 352,217.9 360,216.2 364,216.6 368.6,220 379.1,236 388,247 392,250.5 396,251.7 400,251 404,248.1 407,244 412.5,232 413,228 412.2,220 412.4,216 416,200 425.6,188 433.5,176 435.4,172 436.6,168 437.3,160 436.3,152 433.8,144 429.6,136 418.1,120 412,113.8 404,108.1 384,96.7 364,87.8 348,84.5 344,84.7ZM124,102.1 128,102.6 132,104.8 134.8,108 137.1,112 139.8,120 140.2,124 139.6,136 136.1,152 131.9,164 128,169 124,170.9 120,171.3 108,169.9 100,167.1 95.2,164 92,160 90.3,156 88.1,144 87.9,132 89.5,128 96,116 104,109 108,106.3 112,104.5 120,102.5ZM116,109.7 108,112.1 102.4,116 98.7,120 96,124.7 93,132 92.8,140 95.8,152 97.6,156 100.8,160 104,162.5 108,164.5 112,165.8 120,166.5 124,165.8 125.8,164 128,160.4 129.8,156 133,144 133.7,136 132,119.1 129.3,112 128,110.2 124,109.3ZM236,178 240,178.7 244,181.6 245.8,184 248,190.7 249.9,208 247.7,216 246.6,224 246.7,228 248.5,236 249,244 247.5,252 245.9,256 243.2,260 235.4,268 233.6,272 231.6,284 229.7,288 228,289.6 220,288.4 216,287.1 212,284.8 204,278.9 196,272 188,266.4 184,264.4 180,263.1 176,263.3 172,262.6 168,259 165,252 162.4,244 160.7,236 160.4,228 162.5,212 164.2,204 168,197.5 172,194.5 176,194.9 180,197.7 182.2,200 184.3,204 188,208.5 192,207.7 199.9,196 208.9,188 215.5,184 232,178.4ZM237.5,184 232,183.5 228,183.9 220,186.2 216,188.4 207.6,196 204.7,200 202.7,204 197.9,216 196.8,220 196.6,224 197.5,228 197,232 196,233.6 192,235.5 188,233.8 184,229.2 182.5,224 182.4,220 178,208 176,204.5 172,202.8 170.7,204 169,208 166.3,220 165.4,232 167.7,244 169.7,248 172,251 176,253.2 188,257.3 192,259.7 200,265.8 208,274.4 216,280.2 220,280.3 224,276.9 230.7,264 240,257 243.3,252 244.6,248 245.5,240 245.2,236 243.4,228 245.4,208 241,188 240,185.4ZM316,255.5 320,258.3 320.9,264 320.7,268 322.9,272 324,272.5 326.9,276 332.1,280 335.5,284 347.9,308 349.4,312 350.3,320 352,321.3 354.1,324 356,327.6 357.9,336 358,340 357.1,348 355.2,356 352.1,364 350.7,380 349.4,384 339.7,400 336,403.8 328,409 324,410.6 320,410 315.3,408 312.7,404 313,400 316.7,388 316.7,384 315.6,376 311.8,364 310.9,356 311.7,348 317.1,320 317.4,312 317,296 315.5,284 315.5,280 316,276.3 317.6,272 315.8,268 313,264 311.9,260ZM324,282.7 322.7,284 324,286.1 325.3,284ZM328,302.4 326.3,304 325.3,312 326.6,320 325.7,324 320,335.5 318.5,340 316.7,348 316.2,356 317.6,364 321.4,372 324,383.9 328,392.9 332,395.6 340,386.6 344,381 346.2,376 349.3,356 349.6,348 348.1,340 346.8,336 344.7,332 339,324 337.2,320 336,311.9 332,305ZM96,291.7 102.3,296 106.1,300 108.8,304 110,308 109.5,312 106.5,320 99.2,336 83.8,364 78.3,376 72.9,392 69.3,400 66.5,408 62.3,416 58,432 51.2,448 48.7,456 46.8,460 44,463.2 40,465.7 28,470.1 20,472.2 8,473.5 0,472.8 -4,471.9 -4,448.3 -1.7,452 4,457.2 9.1,460 16,462 24,462.6 36,460.9 40,459.8 42.9,456 50.9,440 54.1,432 60,408 60.7,404 60.6,396 63.3,388 77.6,356 84,344 87.6,336 91.8,324 93.7,312 93.5,308 92,303.9 80,301.3 72,301.5 64,304 58.4,308 55.2,312 53.3,316 51.9,324 47.4,340 40.6,356 36,362.4 33.1,368 30.3,376 27.2,388 21.4,400 18.5,408 16,410.7 6.6,416 1.7,420 -1.7,424 -4,428 -4,402.8 4,399.5 8,397 16.8,388 17.8,384 16.3,376 16.1,368 17.5,360 20,353.7 23.2,348 28,341.6 33.6,336 35.3,332 34.2,324 34.5,316 36.7,308 38.6,304 44,297 50.3,292 56,289.2 64,286.9 72,286.2 80,286.7 88,288.5ZM248,353.3 252,351.6 256,351.1 260.3,352 265.2,356 269.6,364 275.5,372 277.1,376 277.1,380 273.3,392 273.9,396 276,400.7 280,405.2 284,406.9 292,408.9 295.8,412 296.4,416 294.9,420 292,422.6 288,423.5 276,419 272,419.2 264.2,424 260,425.7 256,426.4 252,426.3 244,424.2 236.9,420 232.6,416 229.6,412 227.5,408 225.2,400 224.7,392 225.9,384 228.9,376 233.7,368 240.2,360 244,356.3ZM252,364.9 248,368.1 244.3,372 241.5,376 238.3,384 237.6,392 239.3,400 241.3,404 244,407.7 248,411.5 256,416 260,412.9 264,408.2 266.3,404 267.6,400 268.1,380 260,372 256,365.7Z"/>
<path fill="#9eff62" stroke="#9eff62" stroke-width=".6" d="M248,59.5 256,58.9 260,59.6 264,61.2 268,63.9 272,68.3 274.2,72 276.9,80 277.4,84 276.7,92 274.1,100 271.7,104 268,107.8 264,110.5 260,112.3 256,112.7 251.4,112 244,109.3 240,106.8 236.4,104 229.1,96 226.6,92 224.9,88 224.3,84 224.9,80 227,76 232.8,68 236,65.1 240,62.4ZM256,69 252,69.7 248,71.4 244,74.8 240.7,80 239.8,84 240.2,92 241.6,96 244,99.4 248,102.9 250,104 256,105.7 260,105.3 264,103.5 268,100 270.4,96 271.8,92 272.4,88 272.4,84 271.2,80 268,74.8 264,71.4 260,69.5ZM340,85.9 344,84.7 348,84.5 364,87.8 384,96.7 404,108.1 412,113.8 418.1,120 429.6,136 433.8,144 436.3,152 437.3,160 436.6,168 435.4,172 433.5,176 425.6,188 416,200 412.4,216 412.2,220 413,228 412.5,232 407,244 404,248.1 400,251 396,251.7 392,250.5 388,247 379.1,236 368.6,220 364,216.6 360,216.2 352,217.9 344,220.3 336,224.6 328,226.8 324,226.8 320,223.9 312,211.7 310.8,208 310.6,204 311.6,200 310.9,196 308.1,188 307.7,184 308.3,168 309.3,160 313,148 321.8,132 326.7,120 329.7,108 330.8,96 332.8,92 336,88.6ZM345.7,96 344,96.8 328.1,128 316,148.8 312,160 309.9,172 310.1,184 310.7,188 313.7,196 314.1,200 313.1,204 313.6,208 316,211.8 320,214.8 328,217 332,217.4 336,216.8 360,210.2 368,209.9 372,213 376.9,220 381.4,228 384.3,232 392,239.4 396,241.9 400,241.3 403.4,236 404.9,232 405.4,228 404.6,220 405,216 409.8,200 412,195.1 424.4,176 427.6,168 429.1,156 428.7,152 426.5,144 422.3,136 413.8,124 408,118.6 400,113 388,106.3 376,100.8 360,97.2 348,95.5ZM116,109.7 124,109.3 128,110.2 129.3,112 132,119.1 133.7,136 133,144 129.8,156 128,160.4 125.8,164 124,165.8 120,166.5 112,165.8 108,164.5 104,162.5 100.8,160 97.6,156 95.8,152 92.8,140 93,132 96,124.7 98.7,120 102.4,116 108,112.1ZM112,116.8 108,118.3 106,120 102.5,124 100,128 98.5,132 97.7,136 97.8,140 100.3,148 102.1,152 104,154.7 108,158.2 111.1,160 116,161.1 120,159.8 124,155.4 127.1,148 128,144.6 128.4,136 127,128 124,120.8 120,117.6 116,116.7ZM237.5,184 240,185.4 241,188 245.4,208 243.4,228 245.2,236 245.5,240 244.6,248 243.3,252 240,257 230.7,264 224,276.9 220,280.3 216,280.2 208,274.4 200,265.8 192,259.7 188,257.3 176,253.2 172,251 169.7,248 167.7,244 165.4,232 166.3,220 169,208 170.7,204 172,202.8 176,204.5 178,208 182.4,220 182.5,224 184,229.2 188,233.8 192,235.5 196,233.6 197,232 197.5,228 196.6,224 196.8,220 197.9,216 202.7,204 204.7,200 207.6,196 216,188.4 220,186.2 228,183.9 232,183.5ZM172,220.9 169.9,224 169.6,228 172,233.2 176,234.1 177.6,228 177.1,224 176,222ZM228,189.3 219.7,192 212,199 208.6,204 205.2,212 203.8,220 202.4,224 200.7,236 196.9,244 196.2,248 196.7,252 198.6,256 201.9,260 204,261.7 208,267.3 212,270.8 216,271.8 220,271.5 224,267.6 229.2,260 236,255.9 239.3,252 241.1,248 242,244 242.2,236 240.9,228 241.1,224 242,220 242.1,216 240.9,208 236,194.6 234.2,192 232,190ZM322.7,284 324,282.7 325.3,284 324,286.1ZM92,303.9 93.5,308 93.7,312 92.7,320 90.6,328 84,344 77.6,356 63.3,388 60.6,396 60.7,404 60,408 54.1,432 50.9,440 44,454.3 40,459.8 32,461.8 20,462.5 12,461 8,459.5 2.3,456 -1.7,452 -4,448.3 -4,428 -1.7,424 1.7,420 6.6,416 16,410.7 18.5,408 21.4,400 27.2,388 30.3,376 33.1,368 36,362.4 40.6,356 47.4,340 51.9,324 53.3,316 55.2,312 58.4,308 64,304 72,301.5 80,301.3ZM72,318.4 68,318.6 66.3,320 63.6,324 63.4,328 64,331.9 68,336.9 72,334.5 76.2,328 76.6,324 74.7,320ZM60,356.2 56,357.5 52,362.3 49.7,368 48.9,372 47,376 40,381.4 36,386.9 24.5,408 20,414.5 15.1,420 10,428 8.8,432 8.5,436 8.9,440 10.5,444 13.4,448 20,452.5 28,454.4 32,454.3 36,453.3 40,450.5 44,445.2 48.9,436 51.6,428 54.7,412 55.5,404 55.2,400 52.7,388 52.3,380 53.8,376 60,371.4 62.3,368 63.3,364 62.5,360ZM328,302.4 332,305 336,311.9 337.2,320 339,324 344.7,332 346.8,336 348.1,340 349.6,348 349.3,356 346.2,376 344,381 340,386.6 332,395.6 328,392.9 324,383.9 321.4,372 317.6,364 316.2,356 316.7,348 318.5,340 320,335.5 325.7,324 326.6,320 325.3,312 326.3,304ZM332,335.5 328,336.4 324,340.8 321.9,348 321.2,356 321.6,360 322.9,364 326.7,372 328,376.9 332,380 336,379.1 340,376 342.5,372 343.9,368 344.3,356 342.8,348 340,341.3 336,336.9ZM252,364.9 256,365.7 260,372 268.1,380 267.6,400 266.3,404 264,408.2 260,412.9 256,416 248,411.5 244,407.7 241.3,404 239.3,400 237.6,392 238.3,384 241.5,376 244.3,372 248,368.1ZM256,390.5 255.6,392 256.9,396 260,397 261.2,396 260,392.9 256.9,392Z"/>
<path fill="#daff25" stroke="#daff25" stroke-width=".6" d="M252,69.7 256,69 260,69.5 264,71.4 268.9,76 271.2,80 272.4,84 272,90.8 270.4,96 268,100 264,103.5 260,105.3 256,105.7 252,104.9 248,102.9 244,99.4 241.6,96 240.2,92 239.8,84 240.7,80 244,74.8 248,71.4ZM256,79.4 252,81.8 250.3,84 248.8,88 249,92 251,96 252,96.9 256,99 260,99 264,96.5 266.5,92 267.1,88 266.5,84 264,81.1 260,79.3ZM345.7,96 348,95.5 360,97.2 376,100.8 388,106.3 400,113 408,118.6 413.8,124 422.3,136 426.5,144 428.7,152 429.1,156 427.6,168 424.4,176 412,195.1 409.8,200 405,216 404.6,220 405.4,228 404.9,232 403.4,236 400,241.3 396,241.9 392,239.4 384.3,232 381.4,228 376.9,220 372,213 368,209.9 360,210.2 336,216.8 332,217.4 328,217 320,214.8 316,211.8 313.6,208 313.1,204 314.1,200 313.7,196 310.7,188 310.1,184 309.9,172 312,160 316,148.8 328.1,128 344,96.8ZM364,109.7 348,116.4 340,121.2 336,125.1 332,130.3 317.5,152 314.4,160 311.7,172 312.4,184 313.2,188 316.1,196 316.5,200 315.3,204 316,206.6 317,208 320,210.2 324,211.4 328,211.6 348,207.9 360,204.2 364,203.6 368,203.9 372,205.6 384.4,216 386.8,220 390.6,228 392,229.8 396,231.6 397.7,228 395.3,220 396.1,216 408,191.2 417.3,176 421.1,168 422.1,164 422.8,156 421.6,148 418.3,140 412,130.6 408,126.2 400,120.2 392,115.6 380,110.5 372,108.9ZM112,116.8 116,116.7 120,117.6 124,120.8 127,128 128.4,136 128,144.6 127.1,148 124,155.4 120,159.8 116,161.1 111.1,160 108,158.2 104,154.7 102.1,152 100.3,148 97.8,140 97.7,136 98.5,132 100,128 102.5,124 106,120 108,118.3ZM112,125.9 108,128.2 105,132 103.1,136 102.6,140 104,145.2 108,150.6 112,152.8 116,152.8 120,149.6 122.9,144 123.3,140 122.5,136 120,129.6 116,125.8ZM228,189.3 232,190 234.2,192 236,194.6 240.9,208 242.1,216 242,220 241.1,224 240.9,228 242.2,236 242,244 241.1,248 239.3,252 236,255.9 229.2,260 224,267.6 220,271.5 216,271.8 212,270.8 208,267.3 204,261.7 201.9,260 198.6,256 196.7,252 196.2,248 196.9,244 200.7,236 202.4,224 203.8,220 205.2,212 208.6,204 212,199 219.7,192ZM228,197.6 224,197.5 220,199.2 214.7,204 212,207.7 209.8,212 206,224 205,236 203,248 203,252 204.3,256 209.8,264 212,266.2 216,267.5 220,266.9 222.8,264 225.3,260 235.6,252 237.7,248 238.8,244 239.4,236 238.5,224 239.5,220 239,216 238,212 234.4,204 232,200.3ZM172,220.9 176,222 177.1,224 177.6,228 176,234.1 172,233.2 169.6,228 169.9,224ZM72,318.4 74.7,320 76.6,324 76.2,328 72,334.5 68,336.9 64,331.9 63.4,328 63.6,324 66.3,320 68,318.6ZM332,335.5 336,336.9 340,341.3 342.8,348 344.3,356 343.9,368 342.5,372 340,376 336,379.1 332,380 328,376.9 326.7,372 322.9,364 321.6,360 321.2,356 321.9,348 324,340.8 328,336.4ZM332,345.7 328,349.1 326.5,356 326.8,360 328.3,364 332,369.2 336,370.1 339.2,368 339.6,364 338.7,356 336,348.5ZM60,356.2 62.5,360 63.3,364 62.3,368 60,371.4 53.8,376 52.3,380 52.7,388 55.2,400 55.5,404 54.7,412 51.6,428 48.9,436 44,445.2 40,450.5 36,453.3 32,454.3 28,454.4 20,452.5 13.4,448 10.5,444 8.9,440 8.5,436 8.8,432 10,428 15.1,420 20,414.5 24.5,408 36,386.9 40,381.4 47,376 48.9,372 49.7,368 52,362.3 56,357.5ZM44,396.2 40,397.4 36,401.1 22.9,420 19.4,428 18.8,432 19.2,436 20.9,440 24,443.6 28,445.8 32,446.7 36,446.3 39.4,444 44,437.7 46.9,432 48.2,428 50,416 50.4,404 49.5,400 48,397.7ZM256,390.5 256.9,392 260,392.9 261.2,396 260,397 256.9,396 255.6,392Z"/>
<path fill="#ffe800" stroke="#ffe800" stroke-width=".6" d="M256,79.4 260,79.3 264,81.1 266.5,84 267.1,88 266.5,92 264,96.5 260,99 256,99 252,96.9 251,96 249,92 248.8,88 250.3,84 252,81.8ZM260.7,92 260,90.1 257.9,92 260,92.8ZM364,109.7 372,108.9 380,110.5 392,115.6 400,120.2 408,126.2 412,130.6 418.3,140 421.6,148 422.8,156 422.1,164 421.1,168 417.3,176 408,191.2 396.1,216 395.3,220 397.7,228 396,231.6 392,229.8 390.6,228 386.8,220 384.4,216 372,205.6 368,203.9 364,203.6 360,204.2 348,207.9 328,211.6 324,211.4 320,210.2 317,208 316,206.6 315.3,204 316.5,200 316.1,196 313.2,188 312.4,184 311.7,172 314.4,160 317.5,152 332,130.3 336,125.1 340,121.2 348,116.4ZM409.3,136 404,130.4 396,124.7 384,119.4 376,117.9 372,118.3 366.7,120 360.1,124 356,127.4 344,128.8 340,130.9 334.4,136 320,152.8 316.7,160 313.4,172 313.4,176 314.5,184 318.5,196 319.1,204 320,205.2 324,207.3 328,207.5 340.2,204 356,198 368,196.5 380,205.3 384,206.6 388,206.5 392,205.4 393.9,204 397.4,200 407.6,180 413.2,172 415.2,168 416.4,164 417.2,156 415.9,148 412.1,140ZM112,125.9 116,125.8 120,129.6 122.5,136 123.3,140 122.9,144 120,149.6 116,152.8 112,152.8 108,150.6 104,145.2 102.6,140 103.1,136 105,132 108,128.2ZM108,139.6 108,141.3 111,144 112.5,144 114.1,140 112,138.2ZM228,197.6 232,200.3 234.4,204 238,212 239,216 239.5,220 238.5,224 239.4,236 238.8,244 237.7,248 235.6,252 225.3,260 222.8,264 220,266.9 216,267.5 212,266.2 209.8,264 204.3,256 203,252 203,248 205,236 206,224 209.8,212 212,207.7 214.7,204 220,199.2 224,197.5ZM228,204.3 224,204.3 220,206.3 216,210.1 212,216.1 209.2,224 207.1,252 208,256 210.2,260 212,262.2 216,265 220,263.3 224,257.8 231.5,252 234.3,248 235.8,244 236.6,236 236,220 235.3,216 232,207.5ZM332,345.7 336,348.5 338.7,356 339.6,364 339.2,368 336,370.1 332,369.2 328.3,364 326.8,360 326.5,356 328,349.1ZM44,396.2 48,397.7 49.5,400 50.4,404 50,416 48.2,428 46.9,432 44,437.7 39.4,444 36,446.3 32,446.7 28,445.8 24,443.6 20.9,440 19.2,436 18.8,432 19.4,428 22.9,420 36,401.1 40,397.4ZM44,408.7 40,407.9 36,410.7 32,416 28,424 27.2,428 27.6,432 30,436 32,437.6 36,438.2 40,435.7 44,430 44.7,428 45.8,416 45.6,412Z"/>
<path fill="#ffac00" stroke="#ffac00" stroke-width=".6" d="M257.9,92 260,90.1 260.7,92 260,92.8ZM409.3,136 412.1,140 415.9,148 417.2,156 416.4,164 415.2,168 413.2,172 407.6,180 397.4,200 393.9,204 392,205.4 388,206.5 384,206.6 380,205.3 368,196.5 356,198 340.2,204 328,207.5 324,207.3 320,205.2 319.1,204 318.5,196 314.5,184 313.4,176 313.4,172 316.7,160 320,152.8 334.4,136 340,130.9 344,128.8 356,127.4 360.1,124 366.7,120 372,118.3 376,117.9 384,119.4 396,124.7 404,130.4ZM405.6,140 400,134.3 392,129.3 384,126.5 376,125.7 369.9,128 360,134.7 356,136.7 352,137.5 344,137.8 336.8,144 324,152.4 320.9,156 319,160 315.1,172 315,176 318,188 322.4,200 324,202.5 328,203.7 337,200 342.4,196 348,188.2 352,185.3 356,185.9 364,189.3 368,189.5 372,190.7 380,200.1 384,200.3 388,199.8 392,196.2 394.2,192 407.2,172 410.8,164 411.6,160 411.6,152 410.4,148ZM107.8,140 112,138.2 114.1,140 112,144.2 111,144 108,141.3ZM228,204.3 232,207.5 235.3,216 236,220 236.6,236 235.8,244 234.3,248 231.5,252 224,257.8 220,263.3 216,265 212,262.2 210.2,260 208,256 207.1,252 209.2,224 212,216.1 216,210.1 220,206.3 224,204.3ZM228,211 224,211.1 220,213.5 216,217.5 212.3,224 210.7,236 210.8,248 210.3,252 211.1,256 212,257.6 216,261.4 220,259 222.5,256 227.6,252 231,248 232.7,244 233.8,236 233.2,228 231.9,220 230.6,216ZM44,408.7 45.6,412 45.8,416 44.7,428 44,430 40,435.7 36,438.2 32,437.6 30,436 27.6,432 27.2,428 28,424 32,416 36,410.7 40,407.9ZM35.9,428 40,429.2 40.7,428 40,425.5 36,427.4Z"/>
<path fill="#ff7100" stroke="#ff7100" stroke-width=".6" d="M405.6,140 410.4,148 411.6,152 411.6,160 410.8,164 407.2,172 394.2,192 392,196.2 388,199.8 384,200.3 380,200.1 372,190.7 368,189.5 364,189.3 356,185.9 352,185.3 348,188.2 342.4,196 337,200 328,203.7 324,202.5 322.4,200 318,188 315,176 315.1,172 319,160 320.9,156 324,152.4 336.8,144 344,137.8 352,137.5 356,136.7 360,134.7 369.9,128 376,125.7 384,126.5 392,129.3 400,134.3ZM376,134.1 372,135.9 367,140 363.9,144 362,148 361.9,152 364,156 364.7,164 365.7,168 368,172.5 380,183.2 384,184.7 388,184.6 392,183.2 396,179.6 403.8,168 405.5,164 406.4,160 406.6,156 406,152 404.5,148 402,144 396,138.3 392,135.9 384,133.4 380,133.3ZM340,152.9 332,153.1 328,154.1 324,156.2 321.6,160 317.1,172 316.9,176 320,187 324,194.5 328,198.7 333.5,196 337.8,192 340,188 341.1,184 341.1,180 339.3,176 339.3,172 344,168 347.1,164 347.4,160 345.9,156 344,154.5ZM228,211 230.6,216 231.9,220 233.2,228 233.8,236 232.7,244 231,248 227.6,252 222.5,256 220,259 216,261.4 212,257.6 211.1,256 210.3,252 210.8,248 210.7,236 212.3,224 216,217.5 220,213.5 224,211.1ZM224,219.8 220,221.3 216,225.5 213.7,232 213.3,236 213.4,252 214.2,256 216,257.8 220,255.6 224,252 227.6,248 229.4,244 230.5,236 230.1,232 228,224.4ZM35.9,428 36,427.4 40,425.5 40.7,428 40,429.2Z"/>
<path fill="#ff3500" stroke="#ff3500" stroke-width=".6" d="M376,134.1 380,133.3 384,133.4 392,135.9 396,138.3 402,144 404.5,148 406,152 406.6,156 406.4,160 405.5,164 403.8,168 396,179.6 392,183.2 388,184.6 384,184.7 380,183.2 368,172.5 365.7,168 364.7,164 364,156 361.9,152 362,148 363.9,144 367,140 372,135.9ZM380,140.5 376,142.2 373.9,144 372,147.4 371.3,152 371.9,156 376.3,168 379.2,172 384,175.6 388,176.8 392,175.1 398.1,168 400.1,164 401.2,160 401.3,156 400.4,152 398.3,148 394.4,144 392,142.3 388,140.7 384,140.1ZM340,152.9 344,154.5 345.9,156 347.4,160 347.1,164 344,168 339.3,172 339.3,176 341.1,180 341.1,184 340,188 337.8,192 333.5,196 328,198.7 324,194.5 320,187 316.9,176 317.1,172 321.6,160 324,156.2 328,154.1 332,153.1ZM328,159.3 326.1,160 324,161.9 323.5,164 319.6,172 319.3,176 321.4,184 324,188.9 328,191.3 332,190.2 334,188 335.7,184 335.5,180 334.3,176 334.1,172 335.9,164 332.7,160ZM224,219.8 228,224.4 230.1,232 230.5,236 229.4,244 227.6,248 224,252 220,255.6 216,257.8 214.2,256 213.4,252 213.3,236 213.7,232 216,225.5 220,221.3ZM220,229.2 217.3,232 216.2,236 216.1,244 216.6,248 220,251.9 224.4,248 226,244 226.3,240 226,236 224.8,232 224,230.6Z"/>
<path fill="#f80000" stroke="#f80000" stroke-width=".6" d="M380,140.5 384,140.1 388,140.7 392,142.3 394.4,144 398.3,148 400.4,152 401.3,156 401.2,160 400.1,164 398.1,168 392,175.1 388,176.8 384,175.6 379.2,172 376.3,168 371.9,156 371.3,152 372,147.4 373.9,144 376,142.2ZM384,146.7 380,148.4 377.9,152 377.5,156 380.1,164 384,168.4 388,169.1 392,167 394.5,164 396,160 396.1,156 394.6,152 392,149 388,146.9ZM328,159.3 332.7,160 335.9,164 334.1,172 334.3,176 335.5,180 335.7,184 334,188 332,190.2 328,191.3 324,188.9 321.4,184 319.3,176 319.6,172 323.5,164 324,161.9 326.1,160ZM328,167 324,169.2 322.6,172 324.1,184 328,186.8 331.1,184 330.4,172 329,168ZM220,229.2 224,230.6 224.8,232 226,236 226.3,240 226,244 224.4,248 220,251.9 216.6,248 216.1,244 216.2,236 217.3,232ZM220,242.9 219.6,244 220,248.2 220.8,244Z"/>
<path fill="#bc0000" stroke="#bc0000" stroke-width=".6" d="M384,146.7 388,146.9 392,149 394.6,152 396.1,156 396,160 394.5,164 392,167 388,169.1 384,168.4 380.1,164 377.5,156 377.9,152 380,148.4ZM328,167 329,168 330.4,172 331.1,184 328,186.8 324.1,184 322.6,172 324,169.2ZM220,242.9 220.8,244 220,248.2 219.6,244Z"/>
</g>
<path fill="#fff" d="M274.7,168.6 285.1,166.5 292.4,170.7 292.4,190.5 285.1,194.7 283,178 276.8,175.9ZM273.6,257.4 283,248 292.4,256.3 292.4,279.3 286.2,286.6 283,278.2 276.8,269.9Z"/>
</g>
<g clip-path="url(#fr)"><use href="#geoB" transform="translate(0.0,-0.3)"/>
</g>
<g transform="translate(0.0,-0.3)"><g fill="#000"><circle cx="245.0" cy="47.5" r="2.8"/><circle cx="259.5" cy="47.5" r="2.8"/><circle cx="273.9" cy="47.5" r="2.8"/><circle cx="302.7" cy="47.5" r="2.8"/><circle cx="331.5" cy="47.5" r="2.8"/><circle cx="216.2" cy="63.3" r="2.8"/><circle cx="230.6" cy="63.3" r="2.8"/><circle cx="245.0" cy="63.3" r="2.8"/><circle cx="259.5" cy="63.3" r="2.8"/><circle cx="288.3" cy="63.3" r="2.8"/><circle cx="317.1" cy="63.3" r="2.8"/><circle cx="331.5" cy="63.3" r="2.8"/><circle cx="345.9" cy="63.3" r="2.8"/><circle cx="374.8" cy="63.3" r="2.8"/><circle cx="187.4" cy="79.0" r="2.8"/><circle cx="216.2" cy="79.0" r="2.8"/><circle cx="259.5" cy="79.0" r="2.8"/><circle cx="273.9" cy="79.0" r="2.8"/><circle cx="302.7" cy="79.0" r="2.8"/><circle cx="345.9" cy="79.0" r="2.8"/><circle cx="360.3" cy="79.0" r="2.8"/><circle cx="158.6" cy="94.7" r="2.8"/><circle cx="201.8" cy="94.7" r="2.8"/><circle cx="216.2" cy="94.7" r="2.8"/><circle cx="245.0" cy="94.7" r="2.8"/><circle cx="273.9" cy="94.7" r="2.8"/><circle cx="302.7" cy="94.7" r="2.8"/><circle cx="331.5" cy="94.7" r="2.8"/><circle cx="360.3" cy="94.7" r="2.8"/><circle cx="389.2" cy="94.7" r="2.8"/><circle cx="418.0" cy="94.7" r="2.8"/><circle cx="100.9" cy="110.4" r="2.8"/><circle cx="129.7" cy="110.4" r="2.8"/><circle cx="187.4" cy="110.4" r="2.8"/><circle cx="230.6" cy="110.4" r="2.8"/><circle cx="259.5" cy="110.4" r="2.8"/><circle cx="302.7" cy="110.4" r="2.8"/><circle cx="317.1" cy="110.4" r="2.8"/><circle cx="345.9" cy="110.4" r="2.8"/><circle cx="374.8" cy="110.4" r="2.8"/><circle cx="403.6" cy="110.4" r="2.8"/><circle cx="418.0" cy="110.4" r="2.8"/><circle cx="446.8" cy="110.4" r="2.8"/><circle cx="86.5" cy="126.0" r="2.8"/><circle cx="100.9" cy="126.0" r="2.8"/><circle cx="144.1" cy="126.0" r="2.8"/><circle cx="173.0" cy="126.0" r="2.8"/><circle cx="187.4" cy="126.0" r="2.8"/><circle cx="201.8" cy="126.0" r="2.8"/><circle cx="230.6" cy="126.0" r="2.8"/><circle cx="245.0" cy="126.0" r="2.8"/><circle cx="273.9" cy="126.0" r="2.8"/><circle cx="345.9" cy="126.0" r="2.8"/><circle cx="360.3" cy="126.0" r="2.8"/><circle cx="403.6" cy="126.0" r="2.8"/><circle cx="432.4" cy="126.0" r="2.8"/><circle cx="475.7" cy="126.0" r="2.8"/><circle cx="100.9" cy="141.5" r="2.8"/><circle cx="129.7" cy="141.5" r="2.8"/><circle cx="158.6" cy="141.5" r="2.8"/><circle cx="187.4" cy="141.5" r="2.8"/><circle cx="216.2" cy="141.5" r="2.8"/><circle cx="345.9" cy="141.5" r="2.8"/><circle cx="374.8" cy="141.5" r="2.8"/><circle cx="418.0" cy="141.5" r="2.8"/><circle cx="490.1" cy="141.5" r="2.8"/><circle cx="86.5" cy="157.1" r="2.8"/><circle cx="115.3" cy="157.1" r="2.8"/><circle cx="144.1" cy="157.1" r="2.8"/><circle cx="173.0" cy="157.1" r="2.8"/><circle cx="201.8" cy="157.1" r="2.8"/><circle cx="216.2" cy="157.1" r="2.8"/><circle cx="331.5" cy="157.1" r="2.8"/><circle cx="345.9" cy="157.1" r="2.8"/><circle cx="374.8" cy="157.1" r="2.8"/><circle cx="389.2" cy="157.1" r="2.8"/><circle cx="403.6" cy="157.1" r="2.8"/><circle cx="432.4" cy="157.1" r="2.8"/><circle cx="461.2" cy="157.1" r="2.8"/><circle cx="490.1" cy="157.1" r="2.8"/><circle cx="144.1" cy="172.5" r="2.8"/><circle cx="158.6" cy="172.5" r="2.8"/><circle cx="173.0" cy="172.5" r="2.8"/><circle cx="317.1" cy="172.5" r="2.8"/><circle cx="345.9" cy="172.5" r="2.8"/><circle cx="389.2" cy="172.5" r="2.8"/><circle cx="418.0" cy="172.5" r="2.8"/><circle cx="475.7" cy="172.5" r="2.8"/><circle cx="504.5" cy="172.5" r="2.8"/><circle cx="115.3" cy="188.0" r="2.8"/><circle cx="129.7" cy="188.0" r="2.8"/><circle cx="158.6" cy="188.0" r="2.8"/><circle cx="187.4" cy="188.0" r="2.8"/><circle cx="216.2" cy="188.0" r="2.8"/><circle cx="317.1" cy="188.0" r="2.8"/><circle cx="331.5" cy="188.0" r="2.8"/><circle cx="374.8" cy="188.0" r="2.8"/><circle cx="403.6" cy="188.0" r="2.8"/><circle cx="446.8" cy="188.0" r="2.8"/><circle cx="504.5" cy="188.0" r="2.8"/><circle cx="115.3" cy="203.3" r="2.8"/><circle cx="129.7" cy="203.3" r="2.8"/><circle cx="158.6" cy="203.3" r="2.8"/><circle cx="173.0" cy="203.3" r="2.8"/><circle cx="216.2" cy="203.3" r="2.8"/><circle cx="245.0" cy="203.3" r="2.8"/><circle cx="317.1" cy="203.3" r="2.8"/><circle cx="331.5" cy="203.3" r="2.8"/><circle cx="360.3" cy="203.3" r="2.8"/><circle cx="374.8" cy="203.3" r="2.8"/><circle cx="389.2" cy="203.3" r="2.8"/><circle cx="446.8" cy="203.3" r="2.8"/><circle cx="490.1" cy="203.3" r="2.8"/><circle cx="158.6" cy="218.7" r="2.8"/><circle cx="187.4" cy="218.7" r="2.8"/><circle cx="201.8" cy="218.7" r="2.8"/><circle cx="230.6" cy="218.7" r="2.8"/><circle cx="245.0" cy="218.7" r="2.8"/><circle cx="259.5" cy="218.7" r="2.8"/><circle cx="317.1" cy="218.7" r="2.8"/><circle cx="403.6" cy="218.7" r="2.8"/><circle cx="446.8" cy="218.7" r="2.8"/><circle cx="475.7" cy="218.7" r="2.8"/><circle cx="129.7" cy="234.0" r="2.8"/><circle cx="144.1" cy="234.0" r="2.8"/><circle cx="173.0" cy="234.0" r="2.8"/><circle cx="201.8" cy="234.0" r="2.8"/><circle cx="230.6" cy="234.0" r="2.8"/><circle cx="259.5" cy="234.0" r="2.8"/><circle cx="317.1" cy="234.0" r="2.8"/><circle cx="331.5" cy="234.0" r="2.8"/><circle cx="389.2" cy="234.0" r="2.8"/><circle cx="418.0" cy="234.0" r="2.8"/><circle cx="461.2" cy="234.0" r="2.8"/><circle cx="158.6" cy="249.3" r="2.8"/><circle cx="187.4" cy="249.3" r="2.8"/><circle cx="201.8" cy="249.3" r="2.8"/><circle cx="230.6" cy="249.3" r="2.8"/><circle cx="259.5" cy="249.3" r="2.8"/><circle cx="302.7" cy="249.3" r="2.8"/><circle cx="317.1" cy="249.3" r="2.8"/><circle cx="403.6" cy="249.3" r="2.8"/><circle cx="432.4" cy="249.3" r="2.8"/><circle cx="158.6" cy="264.5" r="2.8"/><circle cx="173.0" cy="264.5" r="2.8"/><circle cx="187.4" cy="264.5" r="2.8"/><circle cx="216.2" cy="264.5" r="2.8"/><circle cx="245.0" cy="264.5" r="2.8"/><circle cx="345.9" cy="264.5" r="2.8"/><circle cx="403.6" cy="264.5" r="2.8"/><circle cx="461.2" cy="264.5" r="2.8"/><circle cx="173.0" cy="279.7" r="2.8"/><circle cx="201.8" cy="279.7" r="2.8"/><circle cx="245.0" cy="279.7" r="2.8"/><circle cx="331.5" cy="279.7" r="2.8"/><circle cx="360.3" cy="279.7" r="2.8"/><circle cx="374.8" cy="279.7" r="2.8"/><circle cx="418.0" cy="279.7" r="2.8"/><circle cx="432.4" cy="279.7" r="2.8"/><circle cx="446.8" cy="279.7" r="2.8"/><circle cx="187.4" cy="294.8" r="2.8"/><circle cx="201.8" cy="294.8" r="2.8"/><circle cx="216.2" cy="294.8" r="2.8"/><circle cx="230.6" cy="294.8" r="2.8"/><circle cx="345.9" cy="294.8" r="2.8"/><circle cx="432.4" cy="294.8" r="2.8"/><circle cx="259.5" cy="309.9" r="2.8"/><circle cx="317.1" cy="309.9" r="2.8"/><circle cx="374.8" cy="309.9" r="2.8"/><circle cx="418.0" cy="309.9" r="2.8"/><circle cx="100.9" cy="324.9" r="2.8"/><circle cx="129.7" cy="324.9" r="2.8"/><circle cx="245.0" cy="324.9" r="2.8"/><circle cx="273.9" cy="324.9" r="2.8"/><circle cx="302.7" cy="324.9" r="2.8"/><circle cx="331.5" cy="324.9" r="2.8"/><circle cx="345.9" cy="324.9" r="2.8"/><circle cx="418.0" cy="324.9" r="2.8"/><circle cx="129.7" cy="339.9" r="2.8"/><circle cx="158.6" cy="339.9" r="2.8"/><circle cx="259.5" cy="339.9" r="2.8"/><circle cx="288.3" cy="339.9" r="2.8"/><circle cx="317.1" cy="339.9" r="2.8"/><circle cx="389.2" cy="339.9" r="2.8"/><circle cx="57.7" cy="354.9" r="2.8"/><circle cx="129.7" cy="354.9" r="2.8"/><circle cx="144.1" cy="354.9" r="2.8"/><circle cx="173.0" cy="354.9" r="2.8"/><circle cx="273.9" cy="354.9" r="2.8"/><circle cx="302.7" cy="354.9" r="2.8"/><circle cx="317.1" cy="354.9" r="2.8"/><circle cx="72.1" cy="369.8" r="2.8"/><circle cx="100.9" cy="369.8" r="2.8"/><circle cx="129.7" cy="369.8" r="2.8"/><circle cx="144.1" cy="369.8" r="2.8"/><circle cx="158.6" cy="369.8" r="2.8"/><circle cx="187.4" cy="369.8" r="2.8"/><circle cx="259.5" cy="369.8" r="2.8"/><circle cx="273.9" cy="369.8" r="2.8"/><circle cx="302.7" cy="369.8" r="2.8"/><circle cx="86.5" cy="384.7" r="2.8"/><circle cx="115.3" cy="384.7" r="2.8"/><circle cx="144.1" cy="384.7" r="2.8"/><circle cx="173.0" cy="384.7" r="2.8"/><circle cx="317.1" cy="384.7" r="2.8"/><circle cx="331.5" cy="384.7" r="2.8"/><circle cx="345.9" cy="384.7" r="2.8"/><circle cx="72.1" cy="399.5" r="2.8"/><circle cx="100.9" cy="399.5" r="2.8"/><circle cx="129.7" cy="399.5" r="2.8"/><circle cx="158.6" cy="399.5" r="2.8"/><circle cx="273.9" cy="399.5" r="2.8"/><circle cx="302.7" cy="399.5" r="2.8"/><circle cx="43.2" cy="414.3" r="2.8"/><circle cx="100.9" cy="414.3" r="2.8"/><circle cx="273.9" cy="414.3" r="2.8"/><circle cx="288.3" cy="414.3" r="2.8"/><circle cx="331.5" cy="414.3" r="2.8"/><circle cx="345.9" cy="414.3" r="2.8"/><circle cx="86.5" cy="429.1" r="2.8"/><circle cx="144.1" cy="429.1" r="2.8"/><circle cx="273.9" cy="429.1" r="2.8"/><circle cx="317.1" cy="429.1" r="2.8"/><circle cx="345.9" cy="429.1" r="2.8"/><circle cx="57.7" cy="443.8" r="2.8"/><circle cx="302.7" cy="443.8" r="2.8"/><circle cx="317.1" cy="443.8" r="2.8"/><circle cx="331.5" cy="443.8" r="2.8"/><circle cx="86.5" cy="458.4" r="2.8"/><circle cx="57.7" cy="473.0" r="2.8"/><circle cx="86.5" cy="473.0" r="2.8"/><circle cx="144.1" cy="502.2" r="2.8"/><circle cx="173.0" cy="502.2" r="2.8"/></g><g fill="#e8b4dc"><circle cx="475.7" cy="110.4" r="2.8"/><circle cx="504.5" cy="126.0" r="2.8"/><circle cx="533.3" cy="126.0" r="2.8"/><circle cx="518.9" cy="141.5" r="2.8"/><circle cx="547.7" cy="141.5" r="2.8"/><circle cx="533.3" cy="157.1" r="2.8"/><circle cx="100.9" cy="203.3" r="2.8"/><circle cx="302.7" cy="234.0" r="2.8"/><circle cx="403.6" cy="369.8" r="2.8"/><circle cx="374.8" cy="399.5" r="2.8"/><circle cx="389.2" cy="399.5" r="2.8"/></g></g>
<rect x="0" y="0" width="562.5" height="501.7" fill="none" stroke="#000" stroke-width="2"/>
</g>
<g transform="translate(82.0,627.3)">
<clipPath id="cC"><path d="M75.6,93 85.6,83.6 129.5,83.6 154.6,107.6 174.4,107.6 205.8,72.1 205.8,47 216.2,36.6 261.1,36.6 282,56.4 324.8,12.5 378.1,71 378.1,118 389.6,128.5 400,118 400,72.1 410.9,60.6 455.4,105.5 459.6,100.3 476.3,83.6 497.2,106.5 520.1,106.5 530.2,118 530.2,142 508.6,165 508.6,211 497.2,222.5 478.4,222.5 465.8,236 465.8,251.1 465.8,278.2 455.4,289.7 432.4,290.8 422,301.2 422,340.9 400,370.2 400.6,414 390.6,424.5 367.6,424.9 357.2,414 357.2,370.2 367.6,358.7 389.6,358.7 400,348.2 400.6,301.2 389.6,291.8 379.1,301.2 378.7,324.2 367.6,334.6 357.2,324.2 357.2,301.2 324.8,267.8 301.8,266.8 281,244.8 262.2,244.8 248.6,253.2 248.6,303.3 239.2,312.7 216.2,312.7 196.4,290.8 175.5,289.7 160.8,266.8 160.8,258.4 145.2,244.8 129.5,244.8 119.1,234 119.1,183.8 75.6,142Z"/><path d="M249.2,345.1 278.9,314.8 299.8,313.8 335.3,345.7 335.3,439.1 325.9,447.4 261.1,447 249.6,432.8Z"/><path d="M32.4,319 44.9,316.9 62.7,334.6 75.2,322.1 75.2,301.2 85.6,292.9 107.6,312.7 128.5,291.8 150.4,313.8 173.4,313.8 183.8,324.2 183.8,380.6 160.8,416.1 144.1,430.7 129.5,444.3 107.6,426.6 97.1,437 97.1,478.8 87.7,489.2 62.7,489.2 32.4,460Z"/></clipPath>
<g transform="translate(0.0,-0.3)">
<g clip-path="url(#cC)" shape-rendering="crispEdges">
<path fill="#0000b2" stroke="#0000b2" stroke-width=".6" d="M524.6,-4 568,-4 568,181.7 548,166.3 520.7,148 516.7,144 520.1,136 521.1,132 521.3,128 520.2,124 517.3,120 512,117.2 500,116 496,114.8 480,104.2 476,101 472.5,96 472,91.3 472.8,88 476,81.4 493.7,56 503.5,40 514,20ZM368,379.9 372,378.9 376,379.6 380,382 382.2,384 383.7,388 383.3,392 380,396.8 376,398.7 372,398.4 368,396.4 364.4,392 363.3,388 364.1,384Z"/>
<path fill="#0000e6" stroke="#0000e6" stroke-width=".6" d="M484.1,-4 524.6,-4 514,20 503.5,40 493.7,56 476,81.4 472.8,88 472,91.3 472.5,96 476,101 480,104.2 496,114.8 500,116 512,117.2 517.3,120 520.2,124 521.3,128 521.1,132 520.1,136 516.7,144 520.7,148 548,166.3 568,181.7 568,248.4 557.1,228 543.1,208 529.4,192 495.5,156 493.8,152 490.5,140 488.9,136 480.5,120 469.3,104 465.9,96 465.1,88 466.2,80 477.9,36 481.6,16ZM364,374.7 368,372.5 372,371.9 380,372.4 388,374.5 391.4,376 397.5,380 401.9,384 405.1,388 409.3,396 410.2,400 410.1,404 408.6,408 404,412.7 400,414.7 395.8,416 388,416.7 380,415.7 376,414 368,407.7 364,403.5 359.4,396 358.2,392 357.8,388 358.3,384 359.8,380ZM368,379.9 364.1,384 363.3,388 364.4,392 368,396.4 372,398.4 376,398.7 380,396.8 383.3,392 383.7,388 382.2,384 380,382 376,379.6 372,378.9Z"/>
<path fill="#001aff" stroke="#001aff" stroke-width=".6" d="M453.5,-4 484.1,-4 481.6,16 478.7,32 475,48 468,72.3 465.5,84 465.2,92 467.2,100 472,108.2 480.5,120 486.9,132 490.5,140 493.8,152 495.5,156 529.4,192 543.1,208 557.1,228 568,248.4 568,504 475.1,504 460.5,488 442.5,472 425.5,460 384,434.6 372,425.5 368,421.5 360,411.2 355.8,404 353,396 352.2,388 352.5,384 355.1,376 357.6,372 361.4,368 364,366.2 368,364.7 384,363.6 392,364.1 404,366.4 436,375.1 448,377.4 456,378.2 464,378.3 472,377.5 480,375.7 488,372.9 496,368.7 504,363.1 512,355.6 518.3,348 523.5,340 527.6,332 530.9,324 534.4,312 536.9,296 537.3,288 536.9,276 535.4,264 533.8,256 529,240 524.1,228 518.2,216 501.9,188 498.2,180 484.9,160 483.2,156 474.4,128 472.7,124 463.7,108 459.2,96 457.8,84 459.1,52 458.9,36 457,16ZM359.8,380 358.3,384 357.8,388 358.2,392 359.4,396 364,403.5 368,407.7 376,414 380,415.7 388,416.7 395.8,416 400,414.7 404,412.7 408.6,408 410.1,404 410.2,400 409.3,396 405.1,388 401.9,384 397.5,380 391.4,376 388,374.5 380,372.4 372,371.9 368,372.5 364,374.7Z"/>
<path fill="#004dff" stroke="#004dff" stroke-width=".6" d="M421.6,-4 453.5,-4 457,16 458.9,36 459.1,52 457.8,84 459.2,96 463.7,108 472.7,124 474.4,128 483.2,156 484.9,160 498.2,180 501.9,188 518.2,216 524.1,228 529,240 533.8,256 535.4,264 536.9,276 537.2,292 535.3,308 532.2,320 529.4,328 524,339.1 518.3,348 512,355.6 504,363.1 496,368.7 488,372.9 480,375.7 472,377.5 464,378.3 456,378.2 448,377.4 436,375.1 404,366.4 392,364.1 384,363.6 368,364.7 364,366.2 361.4,368 356,374.4 353.5,380 352.5,384 352.3,392 354.2,400 358,408 364,416.6 372,425.5 384,434.6 425.5,460 442.5,472 460.5,488 475.1,504 410.3,504 401.9,488 389.9,468 364,431.6 356,419.4 350.1,408 348,402 346.7,396 346.6,384 348,377.3 350,372 352.3,368 356,363.5 360,360.3 364,358.1 372,355.6 384,353.7 424,352.5 440,350.4 448,348.5 456,345.8 464,342 472,337.1 482.8,328 488,322.1 492.4,316 497,308 500.5,300 503.1,292 505,284 506.7,268 506.6,260 505.6,248 502.3,232 494.4,208 491.1,192 488,183.4 478.7,168 474.7,160 470.5,148 464.7,128 453.2,100 450.7,88 446.9,56 444,43 440.4,32 432,13.4Z"/>
<path fill="#0080ff" stroke="#0080ff" stroke-width=".6" d="M359.1,-4 421.6,-4 428,6.2 437.1,24 440.4,32 444.3,44 447.6,60 450.7,88 453.2,100 464.7,128 470.5,148 474.7,160 478.7,168 486.2,180 489.9,188 494.4,208 502.3,232 504.9,244 506.1,252 506.7,264 506.2,276 504.1,288 500.5,300 496,309.9 489.6,320 482.8,328 476,334.1 468,339.8 460,344 449.6,348 440,350.4 424,352.5 388,353.3 376,354.8 368,356.6 360,360.3 356,363.5 352,368.4 348.4,376 346.6,384 346.7,396 348.6,404 351.9,412 360,425.7 389.9,468 401.9,488 410.3,504 374.1,504 370.3,480 365.1,460 359.3,444 345.6,416 341.3,404 340.1,392 340.5,384 341.5,376 344.1,368 348,361.2 352.7,356 360,351 368,347.6 376,345.3 416,337.7 424,335.3 432,332.1 440,327.9 451.1,320 459.5,312 466.1,304 472,294.7 477,284 480.8,272 483,260 484,248 483.9,236 481.1,208 479.7,188 474.1,180 469.4,172 465.6,164 462.6,156 451.7,116 445.6,100 440,72 437.8,64 432.9,52 428,43.6 424,38 416,29.1 404,19.3 388,9.7ZM48.2,68 52,65.4 56,64.3 60,64.4 64,65.3 72,68.9 80,75.2 84,79.8 88.1,88 88,93.2 86.9,96 84,99.6 80,102 76,103 72,103.1 64,101.2 61.4,100 55.4,96 51.4,92 48.6,88 46.7,84 45.5,80 45.2,76 45.9,72Z"/>
<path fill="#00b2ff" stroke="#00b2ff" stroke-width=".6" d="M-4,-4 107.6,-4 105.1,16 104.6,64 103.1,84 100.8,96 96,114.6 92,119.7 88,122.8 80,127.4 72,130.5 60,133.4 48,134.6 36,134.5 24,133.1 12,130.8 -4,126.1ZM48.2,68 45.9,72 45.2,76 45.5,80 46.7,84 48.6,88 51.4,92 55.4,96 61.4,100 64,101.2 72,103.1 76,103 80,102 84,99.6 86.9,96 88,93.2 88.1,88 84,79.8 80,75.2 72,68.9 64,65.3 60,64.4 56,64.3 52,65.4ZM297.6,-4 359.1,-4 388,9.7 396,14.1 408,22.2 420,33.3 428,43.6 432,50.3 436,59 440,72 445.6,100 451.7,116 462.6,156 465.6,164 469.4,172 474.1,180 479.7,188 483.9,236 484,248 483,260 480.8,272 477,284 472,294.7 466.1,304 459.5,312 451.1,320 440,327.9 432,332.1 424,335.3 416,337.7 376,345.3 368,347.6 360,351 352.7,356 348.9,360 346.1,364 342.6,372 340.9,380 340.2,388 340.2,396 341.3,404 345.6,416 359.3,444 365.1,460 370.3,480 374.1,504 341.9,504 345.4,492 348,480 349.6,468 349.8,456 348.2,444 346,436 336.7,416 333.9,408 333.2,404 332.9,396 334.1,376 335.6,368 338.6,360 340.9,356 344,351.8 348,347.8 352,344.8 356,342.4 364,339 408,324.8 416,321.5 423.5,316 434.3,304 449.1,284 453.6,276 458.2,264 462.7,248 465.8,232 467.7,216 467.5,204 464.6,192 456,171 449.9,152 446.8,140 442.8,120 438,104 434.1,84 432,76 428,66.7 424,60.6 420,56 412,49.5 404,45.3 396,42.7 384,41 360,41.3 332,39.9 324,38.4 320,36.5 315.2,32 310.2,24ZM280,69.9 283.5,72 283.6,76 280,79.1 277.3,76 277.6,72Z"/>
<path fill="#00e5ff" stroke="#00e5ff" stroke-width=".6" d="M182,-4 176,0.3 168,8 161.7,16 156.5,24 141.3,52 124,77.5 116,91.4 110.6,104 108,116 104,126.9 98.5,136 92,143.6 84,150.6 72,158.8 64,163.2 52,168.4 40,172.5 24,176.3 12,178.3 -4,180 -4,126.1 12,130.8 28,133.7 44,134.7 56,133.9 68,131.7 80,127.4 88,122.8 92,119.7 95.3,116 96.8,112 100.8,96 103.6,80 104.7,60 104.9,20 105.8,8 107.6,-4ZM249.4,-4 297.6,-4 308.3,20 312.4,28 315.2,32 319.3,36 324,38.4 332,39.9 356,41.2 380,40.8 392,41.8 400,43.8 408,47.2 416,52.4 420,56 424,60.6 428,66.7 432,76 434.1,84 438,104 442.8,120 446.8,140 449.9,152 456,171 464.6,192 466.8,200 467.9,212 466.9,224 464,242.2 459.5,260 455.3,272 451.5,280 444,291.5 434.3,304 423.5,316 416,321.5 408,324.8 364,339 356,342.4 352,344.8 348,347.8 343.8,352 340,357.5 336.9,364 334.1,376 332.9,396 333.2,404 333.9,408 336.7,416 346,436 348.2,444 349.8,456 349.6,468 348,480 345.4,492 341.9,504 258.5,504 264,498.7 268.7,496 276,493.7 296,489.4 304,486.5 312,482.5 320,476.9 324,473.3 328,468.9 332,463.2 335.6,456 336.9,452 338.2,444 337.9,440 337,436 335.2,432 325.4,416 322.8,408 322.4,404 322.9,396 324.5,388 325.7,368 327.6,360 330.3,352 332.1,348 336,342.1 342.8,336 352,331.4 368,326.7 376,323.2 381.5,320 392.3,312 396.9,308 400.2,304 402.2,300 403.9,292 403.9,288 402.4,276 402.7,272 404,269.6 408,265.8 420.1,260 424,257.3 428,253.4 436,241.9 441.2,232 444.4,224 446.5,216 447.5,208 446.7,200 439.9,164 433.2,140 428.1,108 425.5,84 422.4,76 420,72.4 416,68.5 412,65.9 404,63.4 396,63.4 388,66 384.5,68 380,71.9 376.8,76 375,80 373.2,88 372,89.3 368,90.3 364.9,88 360.8,80 357.6,76 344.2,64 338.9,60 331.4,56 304,44.8 296,42.3 291.2,40 286.8,36 275.3,20 268,11.2 260,3.5ZM280,55.4 284,55.7 288,58.9 290.3,64 295.1,80 299.6,100 302.7,108 304.9,112 308,116.5 315.3,124 332,135.7 336,139.1 340,144.2 341.7,148 342.4,152 342,156 340.3,160 328.7,172 326.1,176 323.2,184 319.8,200 318.7,208 318.6,216 320.2,240 319.8,248 317.7,256 315.4,260 312,263.8 308,266.4 304,268 296,269.2 288,268.9 276,267 264,263.6 256,260.1 248,254.4 242.9,248 241.2,244 239.2,232 237.7,228 236,226 232,223.4 228,222.9 216,223.6 208,221.7 204,219.7 200,216.7 196,212.4 193,208 188.8,200 179.1,176 174.4,160 169.2,136 164.2,120 164.1,116 168,109.3 172,105.3 180,99.6 188,96.3 216,90.8 228,86.6 260,70.1 264,67.2 272,59.7 276,56.9ZM280,69.9 277.6,72 277.3,76 280,79.1 283.6,76 283.5,72ZM256,434.2 260,435 261.5,436 264,440 264.5,444 263.8,448 260,454.3 256,455.8 252,453.9 250.8,452 249.1,448 248.7,444 249.5,440 252,436.3Z"/>
<path fill="#1affe5" stroke="#1affe5" stroke-width=".6" d="M182,-4 249.4,-4 260,3.5 268,11.2 275.3,20 286.8,36 291.2,40 296,42.3 304,44.8 331.4,56 338.9,60 344.2,64 357.6,76 360.8,80 364.9,88 368,90.3 372,89.3 373.2,88 375,80 376.8,76 380,71.9 384.5,68 388,66 396,63.4 404,63.4 412,65.9 416,68.5 420,72.4 422.4,76 425.5,84 428.1,108 433.2,140 440.9,168 446.7,200 447.5,208 447.3,212 445.5,220 443,228 436,241.9 432,248.2 425.4,256 420,260 408,265.8 405.3,268 402.7,272 402.4,276 403.9,288 403.9,292 402.2,300 400.2,304 396.9,308 392.3,312 381.5,320 376,323.2 368,326.7 352,331.4 342.8,336 336,342.1 332.1,348 330.3,352 327.6,360 325.7,368 324.5,388 322.9,396 322.4,404 322.8,408 325.4,416 335.2,432 337,436 337.9,440 338.2,444 336.9,452 335.6,456 332,463.2 328,468.9 324,473.3 320,476.9 312,482.5 304,486.5 296,489.4 276,493.7 268.7,496 264,498.7 258.5,504 151.4,504 154.7,484 156.5,476 160,468 164,463.4 168.5,460 188,448.6 196,442.9 208,432.7 225.4,416 236,406.7 248,397.6 256,392.7 264,389.9 268,389.5 272,390.1 276,391.7 288,398.4 292,399.4 296,399.1 300,397.3 304,393.7 308,388.2 310,384 312.1,376 310.3,344 312.2,324 312,319.3 310.7,316 308,314 304,312.5 296,311.4 272,311.7 264,310.6 252,306.8 236,298.9 226.2,292 204,269.3 176,246.2 169.7,240 162.7,232 157.2,224 153.1,216 144,193.1 134.3,176 132,168 131.7,160 132.9,144 136,135.6 138,128 139.2,116 141.7,104 141.2,100 140,98.5 136,96.7 131.5,100 126.2,116 124,119.4 122.1,124 121.7,128 122.7,136 122.5,140 120.7,144 116,149.2 111.2,156 106.9,168 102.4,176 92,188.3 84,195.6 76,201.7 68,206.9 56,213.6 28,226.4 12,232.5 -4,237.8 -4,180 12,178.3 24,176.3 40,172.5 52,168.4 64,163.2 72,158.8 84,150.6 92,143.6 98.5,136 104,126.9 108,116 110.6,104 116,91.4 124,77.5 141.3,52 156.5,24 161.7,16 168,8 176,0.3ZM210.1,48 210.9,52 214.1,56 216,57.2 220,58.4 224,58.5 240,56.9 242.1,56 247.2,52 248.9,48 248.4,44 244,38.5 240,35.9 236,34.4 228,33.4 224,33.8 220,35 216,37.3 212,41.7 210.8,44ZM280,55.4 276,56.9 272,59.7 264,67.2 260,70.1 228,86.6 216,90.8 188,96.3 180,99.6 172,105.3 168,109.3 164.1,116 164.2,120 169.2,136 174.4,160 179.1,176 188.8,200 193,208 196,212.4 200,216.7 204,219.7 208,221.7 216,223.6 228,222.9 232,223.4 236,226 237.7,228 239.2,232 241.2,244 242.9,248 248,254.4 256,260.1 264,263.6 276,267 288,268.9 296,269.2 304,268 308,266.4 312,263.8 315.4,260 317.7,256 319.8,248 320.2,240 318.6,216 318.7,208 319.8,200 323.2,184 326.1,176 328.7,172 340.3,160 342,156 342.4,152 341.7,148 340,144.2 336,139.1 332,135.7 315.3,124 308,116.5 304.9,112 302.7,108 299.6,100 295.1,80 290.3,64 288,58.9 284,55.7ZM317.7,72 317.1,76 320,79.8 324,80.9 325.5,80 327.7,76 326.3,72 324,70.3 320,70.8ZM412,78.4 408,77.7 404,78.8 402,80 398.6,84 396.9,88 395.8,96 396,102.5 397.2,108 400,115 404,114.2 412,99.7 416,89.9 416.3,84 413.9,80ZM256,434.2 252,436.3 249.5,440 248.7,444 249.1,448 250.8,452 252,453.9 256,455.8 260,454.3 263.8,448 264.5,444 264,440 261.5,436 260,435ZM317.7,440 320,442 324,442.8 328,441.2 328.6,440 328,438.6 324,436.7 320,437.6ZM404,159.2 400,158.9 396,160.3 382,168 372.7,172 368,173.3 356,175.2 352,176.4 348,178.3 344,181.8 342.5,184 341.1,188 341.2,192 344,199.7 348,206.4 352,211.6 360,219.7 364,222.7 368,224.9 372,226.2 376,226.6 380,225.9 384,224.1 388,220.7 392,214.9 397.5,204 407,188 412,176 412.5,172 411.9,168 408,162.1ZM337.4,300 339.1,304 345.5,308 354,312 364,315.3 368.6,312 369,308 368.5,304 366.7,300 364,296.4 360,293.5 356,291.8 352,291.1 348,291.4 344,292.8 339.4,296Z"/>
<path fill="#4dffb2" stroke="#4dffb2" stroke-width=".6" d="M210.1,48 210.8,44 212,41.7 216,37.3 220,35 224,33.8 228,33.4 236,34.4 240,35.9 244,38.5 248.4,44 248.9,48 247.2,52 242.1,56 240,56.9 224,58.5 220,58.4 216,57.2 214.1,56 210.9,52ZM317.7,72 320,70.8 324,70.3 326.3,72 327.7,76 325.5,80 324,80.9 320,79.8 317.1,76ZM412,78.4 413.9,80 416.3,84 416,89.9 412,99.7 404,114.2 400,115 397.2,108 396,102.5 395.8,96 396.9,88 398.6,84 402,80 404,78.8 408,77.7ZM136,96.7 140,98.5 141.2,100 141.7,104 139.2,116 138,128 136,135.6 132.9,144 131.7,160 132,168 134.3,176 143.5,192 153.1,216 157.2,224 164,233.5 173.7,244 182.7,252 204,269.3 226.2,292 236,298.9 252,306.8 264,310.6 276,311.8 292,311.3 300,311.7 304,312.5 308,314 310.7,316 312.2,320 312.2,324 310.3,344 312.1,376 311.4,380 308,388.2 304,393.7 300,397.3 296,399.1 292,399.4 288,398.4 276,391.7 272,390.1 268,389.5 264,389.9 260,391 252,395 244,400.4 232,410.1 208,432.7 196,442.9 188,448.6 168.5,460 164,463.4 160,468 156.5,476 154.7,484 151.4,504 97,504 109.6,476 112.7,464 114.6,448 116.1,440 117.8,436 120.5,432 124.8,428 128,426.2 132,424.8 136,424.2 156,424 164,422.7 172,420.1 184,413.6 191.6,408 200,400.9 212.3,388 217.8,380 221.8,372 224.1,364 225,356 224.3,348 221.9,340 217.6,332 214.6,328 208,321.3 201.1,316 192,310.8 176,303.4 171.3,300 152,283.2 136,272 128,267.7 120,264.3 108,261.2 100,260.6 92,261 84,262.6 72,266.6 64,270.5 54.7,276 43.6,284 28,296.6 20,301.7 12,305.3 -4,310.3 -4,237.8 12,232.5 28,226.4 56,213.6 68,206.9 76,201.7 84,195.6 92,188.3 102.4,176 106.9,168 112,154.5 120.7,144 122.5,140 122.7,136 121.7,128 122.1,124 124,119.4 126.2,116 131.5,100ZM404,159.2 408,162.1 411.9,168 412.5,172 412,176 407,188 397.5,204 392,214.9 388,220.7 384,224.1 380,225.9 376,226.6 372,226.2 368,224.9 364,222.7 360,219.7 352,211.6 348,206.4 344,199.7 341.2,192 341.1,188 342.5,184 344,181.8 348,178.3 352,176.4 356,175.2 368,173.3 372.7,172 382,168 396,160.3 400,158.9ZM337.4,300 339.4,296 344,292.8 348,291.4 352,291.1 356,291.8 360,293.5 364,296.4 366.7,300 368.5,304 369,308 368.6,312 364,315.3 354,312 345.5,308 339.1,304ZM317.7,440 320,437.6 324,436.7 328,438.6 328.6,440 328,441.2 324,442.8 320,442Z"/>
<path fill="#80ff80" stroke="#80ff80" stroke-width=".6" d="M214.6,328 217.6,332 221.9,340 224.3,348 225,356 224.1,364 221.8,372 217.8,380 215.2,384 208,393 196.5,404 186.3,412 176,418.3 168,421.6 160,423.5 152,424.3 136,424.2 132,424.8 128,426.2 124.8,428 120.5,432 117.8,436 116.1,440 114.6,448 112.7,464 109.6,476 97,504 -4,504 -4,469.4 3.9,476 15.2,484 28,491 36,493.9 48,495.7 56,495.2 64,493 72,488.8 80,481.7 84.9,476 87.5,472 90.8,464 95.4,444 97.9,436 104,423.4 109.2,416 112,413.4 116,411.7 144,409 152,407.6 160,404.9 168,400.2 172.8,396 179.6,388 188,381.4 192.9,376 197.4,368 198.7,364 199.4,356 197.6,348 195.6,344 192,339.2 188.5,336 184,333.1 180,331.2 164,326.1 144,313.6 124,305 112,301.5 104,300.9 100,301.2 92,302.9 88,304.4 81.3,308 76,311.8 68,319.9 56,336 52.4,340 48,343.6 40,347.8 24,353.7 16,357.4 5.2,364 -4,371.9 -4,310.3 12,305.3 20,301.7 28,296.6 52,277.8 60,272.7 68,268.4 76,265 88,261.7 96,260.7 104,260.7 112,262 120,264.3 128,267.7 136,272 152,283.2 172,300.6 177,304 192,310.8 200,315.3 208,321.3Z"/>
<path fill="#b3ff4c" stroke="#b3ff4c" stroke-width=".6" d="M192,339.2 195.6,344 197.6,348 199.4,356 198.7,364 197.4,368 192.9,376 188,381.4 179.6,388 172.8,396 168.3,400 160,404.9 156,406.5 148,408.4 116,411.7 112,413.4 109.2,416 104,423.4 97.9,436 95.4,444 90.8,464 87.5,472 84.9,476 80,481.7 72,488.8 64,493 56,495.2 48,495.7 36,493.9 28,491 15.2,484 3.9,476 -4,469.4 -4,371.9 5.2,364 16,357.4 24,353.7 40,347.8 48,343.6 52.4,340 56,336 64.8,324 71.5,316 80,308.8 88,304.4 96,301.8 104,300.9 112,301.5 116,302.3 124,305 144,313.6 164,326.1 180,331.2 184,333.1 188.5,336ZM181.2,352 177.9,348 172,343.7 160,338 148,333.6 136,330.6 112,326.3 104,326.4 100,327.7 96,330.2 92,334 80,350.3 74.6,356 68,360.4 52,366.5 48,368.7 43.9,372 40.7,376 36.9,384 35.2,392 35.3,400 37.2,408 41.2,416 44.1,420 52,427.7 60,432.3 64,433.4 68,433.1 72,431.3 76,428.4 84.4,420 85.9,416 84.4,404 84.7,396 85.8,392 87.8,388 92,383.7 96,381.8 100,381.2 104,381.5 112,384.2 124,390.6 132,393.6 136,394.4 144,394.7 152,393.3 160,389.4 164,386.1 176.4,372 181.1,364 182.4,360 182.6,356Z"/>
<path fill="#e5ff1a" stroke="#e5ff1a" stroke-width=".6" d="M181.2,352 182.6,356 182.4,360 181.1,364 176.4,372 164,386.1 160,389.4 152,393.3 144,394.7 136,394.4 132,393.6 124,390.6 112,384.2 104,381.5 100,381.2 96,381.8 92,383.7 87.8,388 85.8,392 84.7,396 84.4,404 85.9,416 84.4,420 76,428.4 72,431.3 68,433.1 64,433.4 60,432.3 52,427.7 44.1,420 41.2,416 37.2,408 35.3,400 35.2,392 36.9,384 40.7,376 43.9,372 48,368.7 52,366.5 68,360.4 74.6,356 80,350.3 92,334 96,330.2 100,327.7 104,326.4 112,326.3 136,330.6 148,333.6 160,338 172,343.7 177.9,348ZM134.4,352 130.7,356 128.7,360 128,364 128.4,368 130.1,372 133.1,376 140,380.6 144,381.8 148,382 152,381.3 154.6,380 159.7,376 162.5,372 164.1,368 164.8,364 164.2,360 161.9,356 156,351.5 148,348.7 144,348.5 140,349.3Z"/>
<path fill="#ffe500" stroke="#ffe500" stroke-width=".6" d="M130.7,356 134.4,352 140,349.3 144,348.5 148,348.7 156,351.5 161.9,356 164.2,360 164.8,364 164.1,368 162.5,372 159.7,376 156,379.3 152,381.3 148,382 144,381.8 138.6,380 133.1,376 130.1,372 128.4,368 128,364 128.7,360Z"/>
</g>
<path fill="#fff" d="M444.5,144.1 455.4,131.6 486.7,165 476.3,175.5 459.6,175.5 444.5,165ZM389.2,177.6 399,188 389.2,198.4 379.3,188ZM346.3,200.5 356.2,211 346.3,221.4 336.5,211ZM367.6,223.5 377.5,234 367.6,244.4 357.8,234ZM230.1,162.8 240.8,150.9 271.4,132.8 280.4,131.1 311,141.3 292.3,161.7 292.3,213.7 275.9,210.3 264.6,202.4 245.3,183.2Z"/>
</g>
<g clip-path="url(#fr)"><use href="#geo" transform="translate(0.0,-0.3)"/>
</g>
<g transform="translate(0.0,-0.3)"><g fill="#000"><circle cx="216.2" cy="63.3" r="2.8"/><circle cx="230.6" cy="63.3" r="2.8"/><circle cx="245.0" cy="63.3" r="2.8"/><circle cx="259.5" cy="63.3" r="2.8"/><circle cx="331.5" cy="63.3" r="2.8"/><circle cx="331.5" cy="47.5" r="2.8"/><circle cx="216.2" cy="79.0" r="2.8"/><circle cx="259.5" cy="79.0" r="2.8"/><circle cx="302.7" cy="79.0" r="2.8"/><circle cx="317.1" cy="79.0" r="2.8"/><circle cx="360.3" cy="79.0" r="2.8"/><circle cx="216.2" cy="94.7" r="2.8"/><circle cx="230.6" cy="94.7" r="2.8"/><circle cx="302.7" cy="94.7" r="2.8"/><circle cx="331.5" cy="94.7" r="2.8"/><circle cx="360.3" cy="94.7" r="2.8"/><circle cx="418.0" cy="94.7" r="2.8"/><circle cx="100.9" cy="110.4" r="2.8"/><circle cx="230.6" cy="110.4" r="2.8"/><circle cx="259.5" cy="110.4" r="2.8"/><circle cx="302.7" cy="110.4" r="2.8"/><circle cx="345.9" cy="110.4" r="2.8"/><circle cx="418.0" cy="110.4" r="2.8"/><circle cx="432.4" cy="110.4" r="2.8"/><circle cx="475.7" cy="110.4" r="2.8"/><circle cx="100.9" cy="126.0" r="2.8"/><circle cx="144.1" cy="126.0" r="2.8"/><circle cx="201.8" cy="126.0" r="2.8"/><circle cx="245.0" cy="126.0" r="2.8"/><circle cx="273.9" cy="126.0" r="2.8"/><circle cx="331.5" cy="126.0" r="2.8"/><circle cx="345.9" cy="126.0" r="2.8"/><circle cx="360.3" cy="126.0" r="2.8"/><circle cx="432.4" cy="126.0" r="2.8"/><circle cx="475.7" cy="126.0" r="2.8"/><circle cx="490.1" cy="126.0" r="2.8"/><circle cx="187.4" cy="141.5" r="2.8"/><circle cx="216.2" cy="141.5" r="2.8"/><circle cx="345.9" cy="141.5" r="2.8"/><circle cx="374.8" cy="141.5" r="2.8"/><circle cx="418.0" cy="141.5" r="2.8"/><circle cx="490.1" cy="141.5" r="2.8"/><circle cx="518.9" cy="141.5" r="2.8"/><circle cx="115.3" cy="157.1" r="2.8"/><circle cx="144.1" cy="157.1" r="2.8"/><circle cx="216.2" cy="157.1" r="2.8"/><circle cx="331.5" cy="157.1" r="2.8"/><circle cx="374.8" cy="157.1" r="2.8"/><circle cx="389.2" cy="157.1" r="2.8"/><circle cx="403.6" cy="157.1" r="2.8"/><circle cx="144.1" cy="172.5" r="2.8"/><circle cx="317.1" cy="172.5" r="2.8"/><circle cx="345.9" cy="172.5" r="2.8"/><circle cx="418.0" cy="172.5" r="2.8"/><circle cx="504.5" cy="172.5" r="2.8"/><circle cx="187.4" cy="188.0" r="2.8"/><circle cx="216.2" cy="188.0" r="2.8"/><circle cx="331.5" cy="188.0" r="2.8"/><circle cx="374.8" cy="188.0" r="2.8"/><circle cx="446.8" cy="188.0" r="2.8"/><circle cx="504.5" cy="188.0" r="2.8"/><circle cx="173.0" cy="203.3" r="2.8"/><circle cx="245.0" cy="203.3" r="2.8"/><circle cx="331.5" cy="203.3" r="2.8"/><circle cx="446.8" cy="203.3" r="2.8"/><circle cx="187.4" cy="218.7" r="2.8"/><circle cx="201.8" cy="218.7" r="2.8"/><circle cx="230.6" cy="218.7" r="2.8"/><circle cx="245.0" cy="218.7" r="2.8"/><circle cx="259.5" cy="218.7" r="2.8"/><circle cx="317.1" cy="218.7" r="2.8"/><circle cx="446.8" cy="218.7" r="2.8"/><circle cx="475.7" cy="218.7" r="2.8"/><circle cx="144.1" cy="234.0" r="2.8"/><circle cx="173.0" cy="234.0" r="2.8"/><circle cx="230.6" cy="234.0" r="2.8"/><circle cx="259.5" cy="234.0" r="2.8"/><circle cx="302.7" cy="234.0" r="2.8"/><circle cx="317.1" cy="234.0" r="2.8"/><circle cx="389.2" cy="234.0" r="2.8"/><circle cx="418.0" cy="234.0" r="2.8"/><circle cx="201.8" cy="249.3" r="2.8"/><circle cx="302.7" cy="249.3" r="2.8"/><circle cx="317.1" cy="249.3" r="2.8"/><circle cx="403.6" cy="249.3" r="2.8"/><circle cx="446.8" cy="249.3" r="2.8"/><circle cx="187.4" cy="264.5" r="2.8"/><circle cx="216.2" cy="264.5" r="2.8"/><circle cx="245.0" cy="264.5" r="2.8"/><circle cx="345.9" cy="264.5" r="2.8"/><circle cx="403.6" cy="264.5" r="2.8"/><circle cx="230.6" cy="279.7" r="2.8"/><circle cx="245.0" cy="279.7" r="2.8"/><circle cx="259.5" cy="279.7" r="2.8"/><circle cx="360.3" cy="279.7" r="2.8"/><circle cx="374.8" cy="279.7" r="2.8"/><circle cx="446.8" cy="279.7" r="2.8"/><circle cx="216.2" cy="294.8" r="2.8"/><circle cx="230.6" cy="294.8" r="2.8"/><circle cx="345.9" cy="294.8" r="2.8"/><circle cx="245.0" cy="309.9" r="2.8"/><circle cx="374.8" cy="309.9" r="2.8"/><circle cx="418.0" cy="309.9" r="2.8"/><circle cx="100.9" cy="324.9" r="2.8"/><circle cx="129.7" cy="324.9" r="2.8"/><circle cx="418.0" cy="324.9" r="2.8"/><circle cx="129.7" cy="339.9" r="2.8"/><circle cx="158.6" cy="339.9" r="2.8"/><circle cx="288.3" cy="339.9" r="2.8"/><circle cx="57.7" cy="354.9" r="2.8"/><circle cx="129.7" cy="354.9" r="2.8"/><circle cx="144.1" cy="354.9" r="2.8"/><circle cx="173.0" cy="354.9" r="2.8"/><circle cx="273.9" cy="354.9" r="2.8"/><circle cx="302.7" cy="354.9" r="2.8"/><circle cx="317.1" cy="354.9" r="2.8"/><circle cx="72.1" cy="369.8" r="2.8"/><circle cx="100.9" cy="369.8" r="2.8"/><circle cx="129.7" cy="369.8" r="2.8"/><circle cx="144.1" cy="369.8" r="2.8"/><circle cx="158.6" cy="369.8" r="2.8"/><circle cx="187.4" cy="369.8" r="2.8"/><circle cx="259.5" cy="369.8" r="2.8"/><circle cx="273.9" cy="369.8" r="2.8"/><circle cx="302.7" cy="369.8" r="2.8"/><circle cx="86.5" cy="384.7" r="2.8"/><circle cx="115.3" cy="384.7" r="2.8"/><circle cx="144.1" cy="384.7" r="2.8"/><circle cx="173.0" cy="384.7" r="2.8"/><circle cx="331.5" cy="384.7" r="2.8"/><circle cx="72.1" cy="399.5" r="2.8"/><circle cx="100.9" cy="399.5" r="2.8"/><circle cx="129.7" cy="399.5" r="2.8"/><circle cx="158.6" cy="399.5" r="2.8"/><circle cx="374.8" cy="399.5" r="2.8"/><circle cx="389.2" cy="399.5" r="2.8"/><circle cx="43.2" cy="414.3" r="2.8"/><circle cx="100.9" cy="414.3" r="2.8"/><circle cx="288.3" cy="414.3" r="2.8"/><circle cx="86.5" cy="429.1" r="2.8"/><circle cx="115.3" cy="429.1" r="2.8"/><circle cx="144.1" cy="429.1" r="2.8"/><circle cx="273.9" cy="429.1" r="2.8"/><circle cx="317.1" cy="429.1" r="2.8"/><circle cx="57.7" cy="443.8" r="2.8"/><circle cx="100.9" cy="443.8" r="2.8"/><circle cx="86.5" cy="458.4" r="2.8"/><circle cx="57.7" cy="473.0" r="2.8"/><circle cx="86.5" cy="473.0" r="2.8"/><circle cx="144.1" cy="502.2" r="2.8"/><circle cx="173.0" cy="502.2" r="2.8"/></g></g>
<rect x="0" y="0" width="564.0" height="502.0" fill="none" stroke="#000" stroke-width="2"/>
</g>
<g transform="translate(699.0,626.0)">
<clipPath id="cD"><path d="M75.2,94 85.6,83.6 129.5,83.6 150.4,60.6 194.3,60.6 238.1,13.6 282,13.6 323.8,13.6 346.8,36.6 367.6,36.6 390.6,60.6 411.5,60.6 434.5,83.6 497.2,83.6 520.1,107.6 541,107.6 551.5,118 551.5,165 541,176.5 520.1,176.5 507.6,188 507.6,211 497.2,222.5 476.3,222.5 464.8,234 464.8,251.1 464.8,278.2 420.9,323.2 420.9,370.2 344.7,447.4 323.8,447.4 301.8,469.4 282,448.5 260.1,446.4 248.6,434.9 248.6,349.3 215.2,313.8 193.2,313.8 182.8,324.2 182.8,389 128.5,446.4 107.6,426.6 96.1,439.1 96.1,479.8 86.7,490.3 62.7,490.3 31.3,460 31.3,326.3 42.8,315.8 62.7,335.7 75.2,323.2 75.2,302.3 85.6,291.8 108.6,312.7 129.5,290.8 138.9,279.3 119.1,257.4 119.1,227.7 97.1,205.8 97.1,185.9 53.3,142 75.2,119.1Z"/></clipPath>
<g transform="translate(0.0,0.0)">
<g clip-path="url(#cD)" shape-rendering="crispEdges">
<path fill="#000080" stroke="#000080" stroke-width=".6" d="M506.7,-4 564,-4 564,183.9 544,176.6 536,172.9 521.2,164 508,154.3 504,150.3 482.1,124 478.2,116 472.8,100 472.4,96 472.8,92 474.4,88 476,86.1 480,84.5 484,86.9 487.8,96 492,98.7 496,99.3 500,98.5 504.1,96 507.3,92 509.1,88 510.3,80 509.2,60 509.4,24 508.7,12ZM388,370.9 390.6,372 392,374.5 392,380.1 388,389.7 384,393.7 380,395.2 376,391.9 374.8,388 376,385.4 380,382.7 382.5,380 384,375.1ZM368,403.7 366.2,400 368,398.6 370.8,400ZM363.4,408 362.3,412 356,423.3 352,426.6 348,427 344,422.5 343.3,420 344,416 352,407.3 356,406Z"/>
<path fill="#0000b2" stroke="#0000b2" stroke-width=".6" d="M479.9,-4 506.7,-4 509.2,20 509.2,60 510.3,80 509.1,88 507.3,92 504,96.1 500,98.5 496,99.3 492,98.7 487.8,96 484,86.9 480,84.5 476,86.1 474.4,88 472.8,92 472.4,96 472.8,100 478.2,116 480,120.3 484,126.4 492.5,136 504,150.3 510,156 521.2,164 536,172.9 544,176.6 564,183.9 564,199.9 504,164.6 500,161.2 495.3,156 485.3,140 475.5,128 472,121.1 468,111.5 463.9,100 462.9,92 463.4,88 465,84 468,78.8 476.6,68 481.6,60 484.2,52 485.6,44 486.1,32 485.2,20 483.1,8ZM496,90.1 495,92 496,92.5 496.7,92ZM80,115.7 84,114.7 84.9,116 84,122.2 81,120 80,117.6ZM392,367.6 394.4,372 395.5,376 395.8,380 394.1,392 392,397.3 388,402.1 384,404.6 376,406 370.6,412 365.2,416 363.1,420 363.1,424 362.4,428 360,431.8 352,438.9 344,442.7 340,441.4 339.4,440 340,436.9 342.1,432 341,420 341.9,416 344,412.4 348,407.8 352,405 360,403.5 362.9,400 364,397.1 365.4,396 372,393.3 372.7,392 372.6,388 374.2,384 378.4,380 382.7,372 388,367.3ZM388,370.9 384,375.1 382.5,380 380,382.7 376,385.4 374.8,388 376,391.9 380,395.2 384,393.7 388,389.7 392,380.1 392,374.5 390.6,372ZM363.4,408 356,406 352,407.3 344,416 343.3,420 344,422.5 348,427 352,426.6 356,423.3 362.3,412ZM368,398.6 366.2,400 368,403.7 370.8,400Z"/>
<path fill="#0000e6" stroke="#0000e6" stroke-width=".6" d="M456.2,-4 479.9,-4 483.1,8 485.2,20 486.1,32 486,40 485.1,48 483.2,56 479.4,64 468,78.8 465,84 463.4,88 462.9,92 463.9,100 465.1,104 473.3,124 475.5,128 485.3,140 495.3,156 503.2,164 528,179.1 564,199.9 564,218.2 552.4,208 537.2,196 520,184.4 504,175.4 496,169.1 492,164.3 488,158.3 480.4,144 468.6,128 458.7,104 456.1,96 455.6,92 455.9,88 456.9,84 464.9,64 467.3,56 468.7,48 469.1,40 468.5,32 466.1,20 462,8ZM496,92.5 495,92 496,90.1 496.7,92ZM76,107.1 80,106.7 84,108.9 86.4,112 88.3,116 88.2,128 84,133.2 80,130.2 74.9,120 73.5,116 73.2,112 75,108ZM80,115.7 80,117.6 81,120 84,122.2 84.9,116 84,114.7ZM392,364.9 395.2,368 397.2,372 398.3,376 399.7,388 399.8,400 398.5,408 390.6,436 387.2,444 384,448.2 378.7,452 372,454.2 368,454.7 360,454.4 352,452.8 344,450.2 340,447.9 337.3,444 336.7,440 338.3,432 338.9,420 339.8,416 341.9,412 345,408 349.5,404 352,402.9 360,401.4 364,394.5 368,393.2 369.7,392 370.3,388 371.7,384 377.8,376 379.8,372 382.9,368 388,364.8ZM392,367.6 388,367.3 382.7,372 378.4,380 374.2,384 372.6,388 372.7,392 372,393.3 365.4,396 364,397.1 362.9,400 360,403.5 352,405 348,407.8 344,412.4 341.9,416 341,420 342.1,432 340,436.9 339.4,440 340,441.4 344,442.7 352,438.9 360,431.8 362.4,428 363.1,424 363.1,420 365.2,416 370.6,412 376,406 384,404.6 388,402.1 392,397.3 394.1,392 395.8,380 395.5,376 394.4,372Z"/>
<path fill="#001aff" stroke="#001aff" stroke-width=".6" d="M31.3,-4 20,13.9 12,23.6 8,26.8 4,29.1 -4,31.8 -4,-4ZM431.5,-4 456.2,-4 462,8 466.1,20 467.9,28 468.9,36 468.7,48 466.3,60 456.9,84 455.9,88 455.6,92 456.1,96 458.7,104 468.6,128 480.4,144 488,158.3 492,164.3 496,169.1 504,175.4 520,184.4 537.2,196 552.4,208 564,218.2 564,242.5 553,228 543,216 531.6,204 524,197.3 512,189.3 504,185.8 492,182.4 488.5,180 487.9,176 484.2,164 476.6,148 468,135.8 464,129 454.8,108 450.4,96 449.8,92 450.2,88 455.1,68 457,56 457.1,48 456.2,40 453,28 448,17.4 440,5.6ZM64,92.1 68,91.5 72,92.3 76,93.9 80,96.5 84,100.5 88.7,108 91.2,116 91.1,124 90.5,128 88,134.2 86.1,136 84,140.1 80,137.3 72,122.7 66.8,116 62.1,108 60,100 60.4,96ZM76,107.1 75,108 73.2,112 73.5,116 74.9,120 80,130.2 84,133.2 88.2,128 88.3,116 86.4,112 84,108.9 80,106.7ZM487.7,184 485.2,188 484,188.6 480,189.1 479.3,188 480,185.7 484,182.7ZM388,362.7 392,362.7 394.3,364 397.8,368 399.7,372 412,416 421,444 423.7,456 424.4,464 424.2,468 423.5,472 422,476 419.3,480 416,482.8 412,484.8 408,485.8 400,486.2 388,484 380,481.2 368,475.3 356,467.7 344,458.5 336,450.3 334.7,448 333.7,444 336.9,420 337.8,416 340,411.4 344,406 348,402.3 352,401 356,401 360,399.3 364,392.6 365.7,392 368,388 369.4,384 374.9,376 379.5,368 384,364.5ZM392,364.9 388,364.8 382.9,368 379.8,372 377.8,376 371.7,384 370.3,388 369.7,392 368,393.2 364,394.5 360,401.4 352,402.9 349.5,404 345,408 341.9,412 339.8,416 338.9,420 338.3,432 336.7,440 337.3,444 340,447.9 344,450.2 352,452.8 360,454.4 368,454.7 372,454.2 378.7,452 384,448.2 387.2,444 390.6,436 398.5,408 399.8,400 399.7,388 398.3,376 397.2,372 395.2,368Z"/>
<path fill="#004dff" stroke="#004dff" stroke-width=".6" d="M31.3,-4 81.2,-4 74.1,8 69.3,20 66.5,32 65.8,44 66.6,52 70,64 73.8,72 84,87.7 88,94.8 92,106.2 93.3,112 93.9,120 92.7,128 89.4,136 89.4,140 90.4,144 89.8,148 88,149.8 84,149.6 81.7,148 76,139.6 71.6,128 68,124.1 60,118.9 44,109.9 28,103.1 12,98.5 -4,95.5 -4,31.8 4,29.1 8,26.8 12,23.6 20,13.9ZM64,92.1 60.4,96 60,100 62.1,108 66.8,116 72,122.7 80,137.3 84,140.1 86.1,136 88,134.2 90.5,128 91.1,124 91.2,116 88.7,108 84,100.5 80,96.5 76,93.9 72,92.3 68,91.5ZM396.8,-4 431.5,-4 440,5.6 448,17.4 451.3,24 454.3,32 456.8,44 457.2,52 456.5,60 455.1,68 451,84 449.8,92 450.4,96 456.4,112 465.5,132 474.1,144 478.7,152 485.7,168 488.5,180 492,182.4 504,185.8 512,189.3 524,197.3 531.6,204 543,216 553,228 564,242.5 564,282 553.8,260 540.7,236 528.4,216 518.9,204 512,198.4 504,194.7 500,194.1 496,194.6 488,196.9 484,197.6 480,196.9 476,193.6 474.2,188 474.5,180 478.1,168 477.4,164 474.7,156 471.1,148 462.8,136 460,130.5 449.9,108 445.9,96 445.3,92 445.4,88 447.9,72 448.8,60 447.6,48 445.2,40 441.4,32 438.8,28 432.1,20 428,16.2 420,10.3 402.5,0ZM487.7,184 484,182.7 480,185.7 479.3,188 480,189.1 484,188.6 485.2,188ZM335.8,416 337.5,412 340,408 344,402.8 348,399.5 352,398.7 356,399.2 360,396.9 362.1,392 365.1,388 369.1,380 372,376 376,367.9 380.6,364 384,362 388,360.7 392,360.7 396,362.7 397.4,364 400.2,368 408,386.3 416,400.4 424,412 436,425.8 444,433.3 456,442.5 468,449.2 480,453.5 492,455.5 504,455.3 516,452.7 528,447.7 540,440 548,432.9 556,423.8 564,411.6 564,504 370.4,504 344,469.3 336,457.6 332,450.2 331.3,448 331.1,444 332.3,440 334.1,424ZM388,362.7 384,364.5 379.5,368 374.9,376 369.4,384 368,388 365.7,392 364,392.6 360,399.3 356,401 352,401 348,402.3 344,406 340,411.4 337.8,416 336.9,420 333.7,444 334.7,448 336,450.3 344,458.5 356,467.7 368,475.3 380,481.2 388,484 400,486.2 408,485.8 412,484.8 416,482.8 419.3,480 422,476 423.5,472 424.2,468 424.4,464 423.7,456 421,444 412,416 399.7,372 397.8,368 394.3,364 392,362.7Z"/>
<path fill="#0080ff" stroke="#0080ff" stroke-width=".6" d="M116.7,-4 104.4,8 95.5,20 89.5,32 86.8,40 85.2,48 84.6,56 85.6,68 88.7,80 93,92 96.1,112 96.3,120 94.9,128 91.7,136 93,144 92,149.1 88,153 84,153.5 80,151.7 73.4,144 71.2,140 68,129.4 64,127.6 52,125.3 36,124.1 20,124.5 -4,126.5 -4,95.5 12,98.5 24,101.8 36,106.2 52,114.2 64,121.3 68,124.1 71.6,128 76,139.6 81.7,148 84,149.6 88,149.8 89.8,148 90.4,144 89.4,140 89.4,136 92.7,128 93.9,120 93.3,112 92,106.2 88,94.8 84,87.7 73.8,72 68.6,60 66.1,48 65.8,40 66.5,32 68.1,24 70.7,16 74.1,8 81.2,-4ZM396.8,-4 402.5,0 420,10.3 428,16.2 432.1,20 438.8,28 441.4,32 445.2,40 447.6,48 448.8,60 447.9,72 445.4,88 445.3,92 445.9,96 449.9,108 460,130.5 462.8,136 471.1,148 474.7,156 477.4,164 478.1,168 474.5,180 474.2,188 476,193.6 480,196.9 484,197.6 488,196.9 496,194.6 500,194.1 504,194.7 512,198.4 518.9,204 528.4,216 540.7,236 553.8,260 564,282 564,411.6 556,423.8 548,432.9 540,440 528,447.7 516,452.7 504,455.3 492,455.5 480,453.5 468,449.2 460,445 448,436.6 440,429.7 428,417 420,406.5 416,400.4 408,386.3 400.2,368 397.4,364 396,362.7 392,360.7 388,360.7 384,362 380.6,364 376,367.9 372,376 369.1,380 365.1,388 362.1,392 360,396.9 356,399.2 352,398.7 348,399.5 344,402.8 337.5,412 334.8,420 332.9,436 331.1,444 331.3,448 332,450.2 336,457.6 344,469.3 370.4,504 349.4,504 342.2,484 332,459.2 329.7,452 328.9,448 329.2,444 330.3,440 331.9,424 333.7,416 335.3,412 344,399.6 348,396.4 352,396 356,397 357.7,396 359.1,392 364,384.7 366.1,380 371.3,372 372.2,368 374.5,364 384,359.5 388,358.6 392,358.6 396,360.1 400.2,364 408,378.7 416,389.6 424,397.7 436,407 448,413.7 460,418.1 468,419.9 476,420.8 488,420.3 500,417.6 512,412.2 523.4,404 531.1,396 539.3,384 544.9,372 548.5,360 551,344 551.4,332 550.6,320 548.8,308 545,292 536.8,268 517.6,220 513.9,212 511.3,208 508,204.8 504,202.5 500,201.9 496,202.7 488,205.7 484,206.4 480,206 476,204 471.8,200 470.4,196 469,180 469.3,176 471.1,168 470.4,160 468,152 458.1,136 447.2,112 444,103.2 441.5,92 441.3,88 442.6,72 442,60 440.3,52 437,44 432,36.6 428,32.5 424,29.2 416,24.8 408,22.3 400,21.5 392,22 380,23.9 376,19.1 370,4 366,-4ZM372,34.8 374.4,36 376,39.7 375.8,44 374.9,48 372,54.2 368,55.4 364,50.9 363,48 364,43.4 368,37.7 371,36Z"/>
<path fill="#00b2ff" stroke="#00b2ff" stroke-width=".6" d="M159.3,-4 148,0.7 140,4.9 132,10 124,16.2 116,23.6 108.8,32 104,38.9 99.4,48 95.8,60 94.8,72 95.5,80 97.9,96 98.8,120 97.3,128 94.1,136 95.3,144 95.1,148 92,153.9 88,156.9 84,157.8 80,157.3 76,154.7 66.8,144 64,139.1 60,136.2 56,135.7 48,137 40,139.3 -4,153.9 -4,126.5 28,124.2 48,124.8 65.4,128 68,129.4 71.2,140 73.4,144 80,151.7 84,153.5 88,153 89.3,152 92.6,148 93,144 91.7,136 94.9,128 96.3,120 96.1,112 93.9,96 86.4,72 84.7,60 84.8,52 85.9,44 88,36 91.2,28 95.5,20 101.1,12 108,4.1 116.7,-4ZM366,-4 370,4 376,19.1 380,23.9 392,22 400,21.5 408,22.3 412,23.4 420,26.7 428,32.5 432,36.6 437,44 440.3,52 442,60 442.6,72 441.3,88 441.5,92 444,103.2 447.2,112 458.1,136 468,152 470.4,160 471.1,168 469.3,176 469,180 470.4,196 471.8,200 476,204 480,206 484,206.4 488,205.7 496,202.7 500,201.9 504,202.5 508,204.8 511.3,208 513.9,212 517.6,220 536.8,268 545,292 548,304 550.1,316 551.2,328 551.3,340 549.4,356 546.3,368 543.3,376 540,382.7 532,394.9 523.4,404 512,412.2 500,417.6 488,420.3 476,420.8 468,419.9 460,418.1 448,413.7 436,407 424,397.7 416,389.6 408,378.7 400.2,364 396,360.1 392,358.6 388,358.6 384,359.5 374.5,364 372.2,368 371.3,372 366.1,380 364,384.7 359.1,392 357.7,396 356,397 352,396 348,396.4 344,399.6 337.7,408 333.7,416 331.9,424 330.8,436 329.2,444 328.9,448 332,459.2 342.2,484 349.4,504 334.8,504 332.7,484 326.8,452 326.6,448 328.3,440 329.4,424 330.2,420 333,412 335.4,408 344,396.3 348.9,392 351.1,388 352,387.2 356,388.3 360,386.2 361.5,384 363.5,376 362.9,372 364,367.6 372,361.5 376,359.6 384,356.9 392,356.5 396,357.3 400,360.1 412,378.6 416,382.6 424,388.6 432,393.1 444,397.7 452,399.5 464,400.3 476,398.9 485.5,396 496,390.6 504.5,384 511.7,376 517.1,368 522.6,356 525.9,344 527.5,332 527.4,316 526.6,308 524.4,296 518.9,276 506.2,240 502.6,228 500.8,220 500.7,212 500,211.4 497.2,216 492,218.5 488,219.1 484,218.9 480,217.9 476,215.6 472,211.4 468,204.6 466.2,200 465.6,196 465.7,188 464.8,180 466,168 465,160 462.5,152 456,140.7 441.5,108 438.2,92 437.6,72 436.7,64 434.4,56 432.6,52 428,45.2 424,41.3 420,38.5 416,36.5 408,34.5 400,35 396,36.3 392,38.4 388,41.7 384,46.6 375.9,60 372,64.4 368,64.6 363.9,60 360,52 359,48 359.3,28 357.2,16 354.2,8 347.7,-4ZM372,34.8 371,36 368,37.7 364,43.4 363,48 364,50.9 368,55.4 372,54.2 374.9,48 375.8,44 376,39.7 374.4,36Z"/>
<path fill="#00e5ff" stroke="#00e5ff" stroke-width=".6" d="M238,-4 234.7,4 232,13.2 228,13.6 208,8.8 196,7.4 184,7.7 172,9.7 160,13.8 152,17.6 144,22.3 128,34 116,45 112,49.6 108,55.5 105.6,60 102.7,68 101,80 101.4,120 99.8,128 96.8,136 97.9,144 97.7,148 96.5,152 92,159.1 88,162.2 80,164 76,164 72,163.2 60,158 56,157.3 52,157.6 40,162.2 -4,182.9 -4,153.9 40,139.3 52,136.2 56,135.7 60,136.2 64,139.1 68,145.6 77.7,156 80,157.3 84,157.8 88,156.9 92,153.9 95.1,148 95.3,144 94.1,136 97.3,128 98.8,120 97.9,96 95.5,80 94.8,72 95.2,64 96.7,56 101.2,44 108,33 116,23.6 128,13 136,7.4 144,2.7 159.3,-4ZM347.7,-4 354.2,8 358.3,20 359.3,28 359,48 360,52 363.9,60 368,64.6 372,64.4 375.9,60 384,46.6 388,41.7 392,38.4 396,36.3 400,35 408,34.5 416,36.5 420,38.5 424,41.3 428,45.2 432.6,52 434.4,56 436.7,64 437.6,72 438.2,92 441.5,108 456,140.7 462.5,152 465,160 466,168 464.8,180 465.7,188 465.6,196 466.2,200 468,204.6 472,211.4 476,215.6 480,217.9 484,218.9 488,219.1 492,218.5 497.2,216 500,211.4 500.7,212 500.8,220 502.6,228 506.2,240 518.9,276 524.4,296 527.1,312 527.7,328 525.9,344 522.6,356 517.1,368 512,375.7 504.5,384 496,390.6 485.5,396 476,398.9 464,400.3 452,399.5 444,397.7 432,393.1 424,388.6 416,382.6 412,378.6 400,360.1 396,357.3 392,356.5 384,356.9 376,359.6 372,361.5 364,367.6 362.9,372 363.5,376 361.5,384 360,386.2 356,388.3 352,387.2 351.1,388 348.9,392 344,396.3 335.4,408 331.4,416 329.4,424 328.3,440 326.6,448 327.4,456 332.7,484 334.8,504 321.6,504 323.6,492 324.7,480 324.2,448 326.3,440 326.6,428 327.7,420 330.6,412 333,408 345.1,392 348,386.3 352,383.1 356,383.8 358.8,380 356.3,372 358.2,368 361,364 364,361.2 368,358.6 376,355.5 384,354 392,353.9 396,354.4 400,356.4 403.3,360 408,368 412,373.6 416,377.3 424,381.7 432,384.4 444,386.3 456,385.8 464,384 472,380.9 480,376.2 485.3,372 492.6,364 497.8,356 502.8,344 504.8,336 506.2,324 506,312 504.4,300 501.4,288 497.3,276 492,263.8 485.9,252 481.2,244 472,231.1 468,223.8 461.5,200 460.7,180 461.2,168 460.7,164 458.4,156 453.1,144 450.2,136 440.4,116 437.4,108 436,100 432.9,72 431.1,64 429.5,60 427.4,56 424.5,52 420,47.8 416,45.4 412,44 408,43.2 404,43.1 396,45.2 392,47.6 388,50.9 384,55.3 376,65.8 372,68.4 368,68.3 364,65.8 359.6,60 356.2,52 352.4,32 348,20.1 340,6.7 332,-4Z"/>
<path fill="#1affe5" stroke="#1affe5" stroke-width=".6" d="M251.2,-4 246,4 243.2,12 241.3,20 240,21.8 236,24.4 228,24.9 208,21.1 196,20 184,20.6 176,22.3 168,25.1 160,29.2 152,34.6 139.6,44 120,56.6 116,60.3 112,65.2 108.4,72 107,76 105.4,84 104.7,92 104,120 102.5,128 100.2,136 100.4,148 98,156 96,160.6 92,167.1 88,170.8 84,172.9 76,176 56,182.3 42.9,188 20,200 -4,213.5 -4,182.9 40,162.2 52,157.6 56,157.3 60,158 72,163.2 76,164 80,164 88,162.2 92,159.1 96,153.1 97.7,148 97.9,144 96.8,136 99.8,128 101.4,120 101,80 102.7,68 105.6,60 110.3,52 116,45 124,37.4 136,27.9 148,19.9 160,13.8 168,10.9 180,8.2 188,7.4 196,7.4 208,8.8 228,13.6 232,13.2 234.7,4 238,-4ZM332,-4 340,6.7 348,20.1 352.4,32 356.2,52 359.6,60 364,65.8 368,68.3 372,68.4 376,65.8 384,55.3 388,50.9 392,47.6 396,45.2 404,43.1 408,43.2 416,45.4 420,47.8 424,51.4 428,57 431.1,64 432.9,72 436,100 437.4,108 440.4,116 450.2,136 453.1,144 458.4,156 460.7,164 461.2,168 460.7,180 461.5,200 468,223.8 472,231.1 481.2,244 485.9,252 492,263.8 497.3,276 501.4,288 504.4,300 506,312 506.2,324 504.8,336 502.8,344 497.8,356 492.6,364 485.3,372 480,376.2 472,380.9 464,384 456,385.8 444,386.3 432,384.4 424,381.7 416,377.3 412,373.6 408,368 403.3,360 400,356.4 396,354.4 392,353.9 380,354.5 372,356.7 364,361.2 360,365.3 356.3,372 358.8,380 356,383.8 352,383.1 348,386.3 345.1,392 333,408 330.6,412 327.7,420 326.6,428 326.3,440 324.2,448 324.7,480 323.6,492 321.6,504 307.3,504 313.2,492 316,484.7 318.3,476 320,465.9 321.5,448 324.3,440 323.5,428 324.9,420 326.2,416 330.3,408 340.3,396 346.4,384 350.4,380 352,376 352.2,372 353.3,368 356,362.7 360,358.1 364,355.1 368,353.1 376,350.9 380,350.5 384,350.6 388,351.5 392,350.9 396,351.1 400,352.6 404.3,356 411.3,368 416,372.8 424,375.6 432,376.5 440,376.1 448,374.4 454.6,372 461.8,368 468,363.1 474.5,356 479.5,348 482.8,340 484.9,332 486.2,320 486,312 484.9,304 481.8,292 476.7,280 466.8,264 464.8,260 463.7,256 458.7,228 458.3,212 456.2,196 456.1,172 455.1,164 453.3,156 448,139.9 444.6,132 435.8,116 434.3,112 432.8,104 431.9,92 428.1,72 425.4,64 423.2,60 420,56.2 416,53 412,51.1 408,50 404,49.8 400,50.4 392,53.9 384,61 376,71.2 372,72.8 368,72.1 364,70.2 360,66.7 355.6,60 352.6,52 348,36.4 344,28.1 340,22.5 324.4,4 316.7,-4Z"/>
<path fill="#4dffb2" stroke="#4dffb2" stroke-width=".6" d="M265.4,-4 260,-0.8 256,2.6 251.6,8 245.3,20 242.5,24 240,26.3 236,28.5 228,30.9 196,29.6 188,30.4 180,32.3 172,35.6 168,37.9 160.5,44 153.7,52 149,60 148,62.8 144,63.8 136,62.1 132,62.3 124,64.9 120,67.4 116,71.3 112.9,76 111,80 108.8,88 107.4,100 107,120 103.3,136 103.4,148 102.9,152 100,162.3 96,172.9 92,177.7 60,202.6 44,213.5 12,234 -4,245.5 -4,213.5 20,200 42.9,188 56,182.3 76,176 84,172.9 88,170.8 92,167.1 96,160.6 98,156 100.4,148 100.2,136 102.5,128 104,120 104.5,96 106,80 108,73 110.4,68 116,60.3 124,53.6 139.6,44 156,31.7 164,27 176,22.3 184,20.6 196,20 208,21.1 228,24.9 236,24.4 240,21.8 241.3,20 243.2,12 246,4 251.2,-4ZM316.7,-4 324.4,4 340,22.5 344,28.1 348,36.4 352.6,52 355.6,60 360,66.7 364,70.2 368,72.1 372,72.8 376,71.2 384,61 392,53.9 400,50.4 404,49.8 408,50 412,51.1 416,53 420,56.2 423.2,60 425.4,64 428.1,72 431.9,92 432.8,104 434.3,112 435.8,116 444.6,132 448,139.9 453.3,156 455.1,164 456.1,172 456.2,196 458.3,212 458.7,228 463.7,256 464.8,260 466.8,264 476.7,280 481.8,292 484.1,300 485.6,308 486.2,316 486,324 484.9,332 482.8,340 479.5,348 474.5,356 468,363.1 461.8,368 454.6,372 448,374.4 440,376.1 432,376.5 424,375.6 416,372.8 411.3,368 404.3,356 400,352.6 396,351.1 392,350.9 388,351.5 384,350.6 380,350.5 376,350.9 368,353.1 364,355.1 360,358.1 356,362.7 353.3,368 352.2,372 352,376 350.4,380 346.4,384 340.3,396 330.3,408 326.2,416 324.9,420 323.5,428 324.3,440 321.5,448 320,465.9 318.3,476 314.8,488 307.3,504 284.5,504 292,499 300,491.9 308,481.9 312,474.7 315.8,464 318.5,448 320.9,440 319.9,428 321.8,420 325.1,412 327.4,408 330.5,404 338.2,396 340.6,392 343.1,384 348.1,376 349.1,368 350.1,364 352,359.6 356,354.1 360,350.7 364,348.5 372,346.2 380,345.4 396,346.5 400,348 404,350.3 409.8,356 415.1,368 416,368.8 424,369 430.4,368 440,364.5 444,362.2 452,356 455.6,352 458.4,348 462.6,340 465.1,332 466.4,324 466.6,316 465.1,304 463,296 459.7,288 454.7,280 452,277.3 444.6,272 440.1,268 438.8,264 440.7,260 446.2,252 449.4,244 451,236 451.7,228 451.8,216 450.8,196 450.9,172 447.8,152 444.5,140 440,131 430.7,116 429.2,108 428.5,92 421.7,68 419.5,64 416,60 412,57.4 408,56 404,55.5 400,55.8 396,57 388,61.9 384,65.7 377.6,76 376,77.3 372,77.2 368,76.1 360.9,72 356.4,68 354,64 350.3,56 344.5,40 340,32.5 336,28.3 325.1,20 316,9 311,4 304,-1.3 299,-4ZM152,73.2 156,78.5 159.4,88 159.4,92 156,94.7 151.9,92 148.6,80 149.2,76ZM140,264.4 144,264.5 148,266.2 149.7,268 151.3,272 149.9,276 148,277.3 144,277.1 141.9,276 138.2,272 137.7,268ZM408,267.1 412,267 418.4,268 427,272 424.4,280 420.9,288 416.2,296 412,298.9 407.7,296 406.8,292 401.7,284 400.3,280 400.2,276 401.4,272 404,268.5ZM130.9,440 132,439.2 134.2,440 132,442.2Z"/>
<path fill="#80ff80" stroke="#80ff80" stroke-width=".6" d="M299,-4 304,-1.3 311,4 316,9 325.1,20 336,28.3 340,32.5 344.5,40 350.3,56 354,64 356.4,68 364,74.1 368,76.1 372,77.2 376,77.3 377.6,76 384,65.7 388,61.9 396,57 400,55.8 404,55.5 408,56 412,57.4 416,60 419.5,64 421.7,68 428.5,92 429.2,108 430.7,116 440,131 444.5,140 447.8,152 450.9,172 450.8,196 451.8,216 451.7,228 451,236 449.4,244 446.2,252 440.7,260 438.8,264 440.1,268 444.6,272 452,277.3 454.7,280 459.7,288 463,296 465.1,304 466.6,316 465.9,328 464,336 460.7,344 458.4,348 452,356 447.4,360 441,364 436,366.2 428,368.5 420,369.1 416,368.8 415.1,368 409.8,356 404,350.3 400,348 396,346.5 380,345.4 372,346.2 364,348.5 360,350.7 356,354.1 352,359.6 350.1,364 349.1,368 348.1,376 343.1,384 340.6,392 338.2,396 330.5,404 327.4,408 325.1,412 321.8,420 319.9,428 320.9,440 318.5,448 315.8,464 312,474.7 308,481.9 300,491.9 292,499 284.5,504 145.2,504 144.4,496 141.7,484 137.2,472 128,453.4 126.1,448 125.1,444 125,440 128,434.5 132,432.4 136,431.9 144,433.1 160,437.3 168,438.7 180,439.1 192,437.3 200,434.6 208,430.4 216,424.1 228.1,412 236,406.3 240,404.6 243.2,404 248,404.3 252,405.7 256,408.2 259.4,412 260.7,416 260.6,420 258.6,428 251.6,444 248.9,452 248.3,460 248.8,464 249.9,468 251.8,472 254.6,476 258.9,480 264,483 268,484.4 276,485.6 284,484.9 292,482.3 300,477.5 304,473.9 308,469.2 310.9,464 312.4,460 317.1,440 315.8,428 316.9,424 321.8,412 324.2,408 328,403.1 336,395.9 338.2,392 339.6,384 341.6,380 344.5,376 345,364 347,356 348.9,352 352,347.9 356,344.4 360,342.1 364,340.5 384,337.8 392,337.6 396,338.4 400,340.2 420,354.1 424,355 428,353.8 431,352 436,347.5 440.9,340 443.9,332 445.1,324 444.8,316 442.7,308 440,303.3 436,300.4 432,300.1 428,301.1 420,306.1 412,309.1 408,309.8 404,309.7 400,308.3 396,304 394,300 391.4,292 390.2,284 391.8,264 393.6,260 396,258 400,256.7 424,252.8 428,251.4 432,249.2 436,245.7 440,240.1 443.3,232 444.1,228 444.8,212 444.9,192 445.7,176 443.4,148 442.4,144 440,138.6 436,131.6 427.8,120 426,116 424,94.2 417.9,72 416.2,68 412,63.5 408,61.6 404,60.7 400,60.7 396,61.8 388,66.3 386.2,68 382.3,76 378,80 376,80.9 372,80.9 368,79.8 364,78 356,72.1 352.6,68 348.4,60 340,40.6 336,35.5 332,32.5 323.2,28 320,25.5 307.1,12 300,6.4 292,2.6 284,1 276,1.2 272,2 264,5.2 256,11.3 242.9,28 240,30.2 232,34.2 224,36.1 196,37.9 188,39.2 180,41.9 172,46.9 167.1,52 164.6,56 162.8,60 161.8,64 161.6,68 163.6,84 162.9,92 160,96.6 156,98.6 152,97.8 148,93.1 145.4,88 142.8,80 140.5,76 136,72.3 132,71.2 128,71.4 124,72.9 120,75.7 116,80.4 114.1,84 111.5,92 110.4,104 110.1,120 106.5,136 106.8,144 106.3,152 104,164.9 100,176 76,213.2 68,223 57.4,232 32,248.9 17,260 4,272 -4,281 -4,245.5 12,234 44,213.5 60,202.6 92,177.7 96,172.9 100,162.3 102.9,152 103.4,148 103.3,136 107,120 107.4,100 108.8,88 112,77.6 116,71.3 119.4,68 124,64.9 132,62.3 136,62.1 144,63.8 148,62.8 149,60 153.7,52 160.5,44 168,37.9 172,35.6 180,32.3 188,30.4 196,29.6 228,30.9 236,28.5 240,26.3 242.5,24 245.3,20 251.6,8 256,2.6 260,-0.8 265.4,-4ZM134.2,440 132,439.2 130.9,440 132,442.2ZM408,267.1 404,268.5 401.4,272 400.2,276 400.3,280 401.7,284 406.8,292 407.7,296 412,298.9 416.2,296 420.9,288 424.4,280 427,272 418.4,268 412,267ZM152,73.2 149.2,76 148.6,80 151.9,92 156,94.7 159.4,92 159.4,88 156,78.5ZM132,261.8 136,259.3 140,258.6 144,259.1 148,260.6 152.6,264 154.8,268 155.7,272 155.8,276 154.6,280 152,283.2 144,281.8 139.7,280 133.7,276 130.5,272 129.3,268 130.1,264ZM140,264.4 137.7,268 138.2,272 141.9,276 144,277.1 148,277.3 149.9,276 151.3,272 149.7,268 148,266.2 144,264.5Z"/>
<path fill="#b3ff4c" stroke="#b3ff4c" stroke-width=".6" d="M292,2.6 296,4.3 302.3,8 308,12.9 320,25.5 323.2,28 332,32.5 336,35.5 340,40.6 348.4,60 352.6,68 356,72.1 364,78 368,79.8 372,80.9 376,80.9 378,80 382.3,76 386.2,68 388,66.3 396,61.8 400,60.7 404,60.7 408,61.6 412,63.5 416.2,68 417.9,72 424,94.2 426,116 427.8,120 436,131.6 440,138.6 442.4,144 443.4,148 445.7,176 444.9,192 444.8,212 444.1,228 443.3,232 440,240.1 436,245.7 432,249.2 428,251.4 424,252.8 400,256.7 396,258 393.6,260 391.8,264 390.2,284 391.4,292 394,300 396,304 400,308.3 404,309.7 408,309.8 412,309.1 420,306.1 428,301.1 432,300.1 436,300.4 440,303.3 442.7,308 444,311.9 445.1,320 444.7,328 442.6,336 440,341.7 435.5,348 431,352 428,353.8 424,355 420,354.1 400,340.2 396,338.4 392,337.6 384,337.8 364,340.5 360,342.1 356,344.4 352,347.9 348.9,352 347,356 345,364 344.5,376 341.6,380 339.6,384 338.2,392 336,395.9 328,403.1 324.2,408 321.8,412 316.9,424 315.8,428 317.1,440 312.4,460 310.9,464 308,469.2 304,473.9 300,477.5 292,482.3 284,484.9 280,485.5 272,485.3 268,484.4 264,483 258.9,480 254.6,476 251.8,472 249.9,468 248.8,464 248.3,460 248.9,452 251.6,444 258.6,428 260.6,420 260.7,416 259.4,412 256,408.2 252,405.7 248,404.3 244,403.9 240,404.6 233,408 228.1,412 216,424.1 208,430.4 200,434.6 192,437.3 180,439.1 168,438.7 160,437.3 144,433.1 136,431.9 132,432.4 128,434.5 125,440 125.1,444 126.1,448 128,453.4 137.2,472 141.7,484 144.4,496 145.2,504 121.4,504 123.3,496 124.3,484 123.6,472 120.6,452 120.5,444 121.2,440 124,433.6 128,428.7 132,426.9 136,426.2 164,426 172,424.8 180,422.6 192,417.4 200,412.5 224,394.2 232,390.1 236,389.2 240,389.2 244,390.2 252,394.9 264.1,408 266.6,412 267.9,416 269.3,424 269.6,440 268.1,448 268.3,452 269.3,456 271.2,460 274.5,464 280,467.7 284,469.1 288,469.7 296,468.8 300,467.2 304,464.6 307.8,460 309.3,456 310.5,448 312.4,440 311.5,432 311.6,428 312.7,424 318.2,412 323.2,404 335.4,392 335.4,384 338.6,372 339,356 340.4,348 342.1,344 344,341 348,336.8 361.4,328 365.7,324 367.4,320 367.7,312 372,302.5 375.7,292 377.5,280 381.3,264 382.8,260 385.4,256 388,253.5 392,251 408,244.8 428,239.4 432,232.9 434.2,228 436,220.9 438.9,180 439.9,172 439.6,148 438.3,144 434,136 425.3,124 421.5,116 419.7,104 411.6,72 408.1,68 400,65.8 396,67.1 392,69.9 389.8,72 387.5,76 384.3,80 380,83 376,84.2 372,84.3 368,83.5 364,81.9 356,76.2 351.9,72 346.6,64 336.9,44 333.8,40 332,38.6 319,32 312.4,28 308,24.4 299.8,16 296,13.2 292,11.2 284,9.1 276,8.9 272,9.6 264,12.4 260,14.8 252,22.4 247.7,28 244,31.7 232,38.3 224,41.1 216,42.9 196,45.5 188,47.1 184,48.6 178.4,52 174.4,56 171.8,60 170.1,64 169.2,68 167.9,84 166.2,92 164,96.7 160,100.9 156,102.8 152,103.4 148,99.4 144,93.6 141.1,88 140,84 136,78.6 132,77.3 128,77.6 124,79.4 120,82.9 116,89.4 114.3,96 113.9,116 113,124 110.5,136 110.3,148 108.1,168 104,179 99.8,188 96.2,200 94.3,212 93.1,232 92.4,236 90.9,240 87.7,244 81.6,248 60,257.9 42.4,268 31.7,276 24,283.2 19.7,288 11.5,300 6.2,312 3.9,320 -0.1,340 -4,352.9 -4,281 4,272 17,260 32,248.9 57.4,232 68,223 76,213.2 100,176 104,164.9 106.3,152 106.8,144 106.5,136 110.1,120 110.4,104 111.5,92 114.1,84 116,80.4 119.7,76 124,72.9 128,71.4 132,71.2 136,72.3 140.5,76 142.8,80 145.4,88 148,93.1 152,97.8 156,98.6 160,96.6 162.9,92 163.6,84 161.6,68 161.8,64 162.8,60 164.6,56 167.1,52 170.8,48 176,44 184,40.3 192,38.4 220,36.5 228,35.4 232,34.2 240,30.2 242.9,28 256,11.3 264,5.2 268,3.3 276,1.2 284,1ZM116,260 120.3,256 132,253.6 140,253.6 144,254.2 149.5,256 155.9,260 159.5,264 161.2,268 161.9,272 161.6,276 160.5,280 158.2,284 156,286.3 152,288.3 148,288.4 144,287.5 140,285.8 136,283.1 128,280 122.4,276 119,272 116.7,268 115.6,264ZM132,261.8 130.1,264 129.3,268 130.5,272 133.7,276 139.7,280 144,281.8 152,283.2 154.6,280 155.8,276 155.7,272 154.8,268 152.6,264 148,260.6 144,259.1 140,258.6 136,259.3Z"/>
<path fill="#e5ff1a" stroke="#e5ff1a" stroke-width=".6" d="M408.1,68 411.6,72 419.7,104 421.5,116 425.3,124 434,136 438.3,144 439.6,148 439.9,172 438.9,180 436.6,216 435.3,224 432.5,232 428,239.4 408,244.8 392,251 388,253.5 385.4,256 382.8,260 381.3,264 377.5,280 375.7,292 372,302.5 367.7,312 367.4,320 365.7,324 361.4,328 348,336.8 344,341 342.1,344 340.4,348 339,356 338.6,372 335.4,384 335.4,392 323.2,404 318.2,412 312.7,424 311.6,428 311.5,432 312.4,440 310.5,448 309.3,456 307.8,460 304,464.6 300,467.2 296,468.8 288,469.7 284,469.1 280,467.7 274.5,464 271.2,460 269.3,456 268.3,452 268.1,448 269.6,440 269.3,424 267.9,416 266.6,412 264.1,408 252,394.9 244,390.2 240,389.2 236,389.2 232,390.1 224,394.2 200,412.5 192,417.4 180,422.6 172,424.8 164,426 136,426.2 132,426.9 128,428.7 124,433.6 121.2,440 120.5,444 120.6,452 123.6,472 124.3,484 123.3,496 121.4,504 100.2,504 106.3,496 108.5,492 111.6,484 113.9,472 114.9,452 116,444 118.8,436 124,426.1 128,423.1 132,421.9 144,419.8 160,418.1 166.8,416 175.6,412 188,404.8 196,399.1 224,374.8 232,370.4 236,369.3 240,368.8 248,369.9 252,371.2 256,373.9 257.3,376 256.5,384 260,387.9 258.6,392 260.1,396 264,399.8 269.8,404 273.2,408 282.7,424 284,427.8 288,426.8 289.3,428 288,429.5 284,428 280,430 276.6,436 276,440 277.2,444 280,447.8 284,449.9 288,449.9 292,447.8 293.6,452 294.4,456 300,458.7 304,457.2 304.8,456 304.5,452 302.4,444 302.9,436 304.9,428 306.7,424 312,416.5 318.2,404 325.3,396 327.9,392 329,388 328.8,376 330.6,368 330.2,364 327.5,356 326.1,340 330.7,328 331.6,324 332,308 333.6,300 335.4,296 338.3,292 344,288.2 356,284.9 357,284 359.4,280 364.8,264 368.3,256 372,249.9 376,245.3 384,238.4 392,233.8 400,230 416.4,224 420,221.2 424,216 428,206.6 429.6,200 430.5,184 434.6,168 432.3,148 428.7,136 424.4,132 421.2,128 414.3,112 412,104 407.3,96 402.7,84 400,80.7 396,80.4 380,87.3 372,88 368,87.4 364,86 360,83.7 356,80.4 348.1,72 345.2,68 336,52.1 332,46.2 329.6,44 316,36.9 304,33.6 300,29.5 296.1,24 292,19.5 284,17.4 276,16.4 272,17 262.3,20 260,21.5 250.4,32 248,34 228,44.7 208,51.6 192,53.3 188,54.3 184,56.2 179.9,60 177.5,64 176,68 172.3,84 168,96 164,102.2 160,105.3 156,107 152,107.3 148,105.1 138.6,92 136,83.9 132,82.7 128,83.2 124,85.7 120,91.1 118.5,96 117.9,116 115,136 112.4,168 106.6,188 105.9,192 105.6,200 106.6,208 109.3,216 117.8,232 121.2,236 124,238.2 128.1,244 132,246.8 144,249.2 152,251.6 166.8,260 169.1,264 169.7,268 171.1,272 170.8,276 168.6,280 160,290.1 156,293.2 152,294.6 148,294.9 140,293.5 124,287.4 104,277.9 96,274.9 88,273.5 84,273.4 76,274.4 64,278.3 52,284.8 40,294.2 32,303.3 29,308 25.8,316 24.8,324 25.1,328 26.2,332 28,336 32,341.5 34.9,344 36,346 36.3,348 32,349.2 28,351.8 24,355.3 20.5,360 18.3,364 15.4,372 12.9,384 8.2,420 5,452 5.3,468 7.5,480 12.3,492 16,498 21,504 -4,504 -4,352.9 -0.1,340 4.9,316 9.4,304 13.9,296 23.2,284 31.7,276 40,269.6 52,262.1 84,246.6 87.7,244 90.9,240 92.4,236 93.1,232 94.3,212 96.2,200 99.8,188 104,179 108.1,168 110.3,148 110.5,136 113,124 113.9,116 114.3,96 116,89.4 120,82.9 124,79.4 128,77.6 132,77.3 136,78.6 140,84 143,92 148,99.4 152,103.4 156,102.8 160,100.9 164.4,96 166.2,92 167.9,84 169.2,68 170.1,64 171.8,60 174.4,56 178.4,52 184,48.6 188,47.1 196,45.5 216,42.9 224,41.1 232,38.3 244,31.7 247.7,28 252,22.4 260,14.8 268,10.7 276,8.9 280,8.8 288,9.9 296,13.2 300,16.2 308,24.4 312.4,28 319,32 332,38.6 333.8,40 336.9,44 349,68 351.9,72 356,76.2 364,81.9 368,83.5 372,84.3 376.8,84 380,83 384.3,80 387.5,76 389.8,72 396,67.1 400,65.8ZM116,260 115.6,264 116.7,268 119,272 122.4,276 128,280 136,283.1 140,285.8 144,287.5 148,288.4 152,288.3 156,286.3 158.2,284 160.5,280 161.6,276 161.9,272 161.2,268 159.5,264 155.9,260 149.5,256 144,254.2 140,253.6 132,253.6 120.3,256ZM396,174.5 398.1,176 397.2,180 396,181 393.1,180 393.7,176Z"/>
<path fill="#ffe500" stroke="#ffe500" stroke-width=".6" d="M400,80.7 402.7,84 407.3,96 412,103.9 414.3,112 421.2,128 424.4,132 428.7,136 432.3,148 434.6,168 430.5,184 429.6,200 428.7,204 424,216 420,221.2 416,224.3 404,228.4 392,233.8 384,238.4 376,245.3 372,249.9 368.3,256 364.8,264 359.4,280 357,284 356,284.9 344,288.2 338.3,292 335.4,296 333.6,300 332,308 331.6,324 330.7,328 326.1,340 327.5,356 330.2,364 330.6,368 328.8,376 329,388 327.9,392 325.3,396 318.2,404 312,416.5 306.7,424 304.9,428 302.9,436 302.4,444 304.5,452 304.8,456 304,457.2 300,458.7 294.4,456 293.6,452 292,447.8 288,449.9 284,449.9 280,447.8 277.2,444 276,440 276.6,436 280,430 284,428 288,429.5 289.3,428 288,426.8 284,427.8 282.7,424 273.2,408 269.8,404 264,399.8 260.1,396 258.6,392 260,387.9 256.5,384 257.3,376 256,373.9 252,371.2 248,369.9 240,368.8 236,369.3 232,370.4 224,374.8 196,399.1 188,404.8 175.6,412 166.8,416 160,418.1 144,419.8 132,421.9 128,423.1 124,426.1 118.8,436 116,444 114.9,452 113.9,472 111.6,484 108.5,492 106.3,496 100.2,504 21,504 16,498 12.3,492 7.5,480 5.3,468 5,452 8.2,420 12.9,384 15.4,372 18.3,364 20.5,360 24,355.3 28,351.8 32,349.2 36.3,348 36,346 34.9,344 32,341.5 28,336 26.2,332 25.1,328 24.8,324 25.8,316 28,310.2 31.5,304 40,294.2 52,284.8 64,278.3 76,274.4 84,273.4 88,273.5 96,274.9 104,277.9 124,287.4 140,293.5 148,294.9 152,294.6 156,293.2 160,290.1 168.6,280 170.8,276 171.1,272 169.7,268 169.1,264 166.8,260 152,251.6 144,249.2 132,246.8 128.1,244 124,238.2 121.2,236 117.8,232 109.3,216 106.6,208 105.6,200 105.9,192 106.6,188 112,169.6 113,164 115,136 117.9,116 118.5,96 120,91.1 124,85.7 128,83.2 132,82.7 136,83.9 138.6,92 148,105.1 152,107.3 156,107 160,105.3 164,102.2 168,96 172.3,84 176,68 177.5,64 179.9,60 184,56.2 188,54.3 192,53.3 208,51.6 228,44.7 248,34 250.4,32 260,21.5 262.3,20 272,17 276,16.4 284,17.4 292,19.5 296.1,24 300,29.5 304,33.6 316,36.9 329.6,44 332,46.2 336,52.1 345.2,68 348.1,72 356,80.4 360,83.7 364,86 368,87.4 376,88 380,87.3 396,80.4ZM396,97 392,94 388,92.6 372,92.5 364,90.6 360,88.4 356,85.3 343.9,72 336,59.9 332,55.1 328,51.1 324,48.1 316,43.7 312,42.5 304,42.6 300,41.6 296.7,40 284,30.8 280,29.2 276,28.5 272,28.8 264,31.6 252,38.5 240,43.1 232,48.1 212,57.6 204,59.7 188,61.2 185.1,64 177.4,84 170,100 167.3,104 164,107.3 160,109.8 156,111.2 152,111.3 148,109.8 146.2,108 143.7,104 134.9,96 132,90.5 128,89.9 126.5,92 124,101.6 120,135.9 119.1,148 117.8,156 117.7,164 113.1,188 113.8,196 115.5,204 119.1,212 124.1,220 126.6,228 132,240 136,242.2 152,246 176,256.4 180.1,260 182.3,264 184.3,272 184.6,276 184,281.3 182.3,284 180,284.7 176,287.8 167.6,296 164,298.8 160,300.8 152,302.5 148,302.4 140,301.2 104,291.1 96,289.4 88,288.9 80,290.2 72,293.3 60,300.9 48,310.7 44,314.6 40,320 38.5,324 38.6,328 44,338.1 45.3,344 44.5,348 42.4,352 32.8,364 31.2,368 30.5,372 30,384 28.8,396 28.9,408 27.6,416 27,424 29.2,440 28.5,456 29.1,464 31.3,472 33,476 36,480.8 40,485.5 44,488.9 48,491.3 52,493.1 60,494.9 80,495 84,494.5 88,493.2 92,491 96,487.6 98.9,484 103.3,476 106,468 111.1,444 114.4,436 117,432 120.8,424 124,420.7 128,418.7 140,415.5 156,412.3 160,410.8 164.9,408 182.3,396 192.1,388 199.8,380 216,357 220,352.6 224,349.6 228,347.8 232,347 236,347.1 240,348.1 244,350.1 248,353.8 256,362.8 261.5,372 266,384 266.3,388 264,392.1 272,395.3 288,410.6 292,413.3 296,415.2 300,416 304,415.2 308,412.7 309.8,408 316.6,396 318.3,392 319.1,388 319.1,376 316.7,360 316.6,344 317.5,328 315.8,316 315.4,308 316.2,300 318.1,292 322,284 323.3,280 321.8,272 324,269.4 328,269.7 332,268.8 340,265.4 344,262.2 348,256.5 351.6,248 353.6,240 353.9,236 353.4,232 350.9,228 352,224.4 356,223.9 359.2,220 358.5,216 356,211.8 354.6,208 354.1,204 355,200 365.7,176 372,165.5 380,156 384,152 400,142.4 403,140 406.6,136 407.9,132 407.8,128 406.3,120 404.1,112 401.1,104ZM396,174.5 393.7,176 393.1,180 396,181 397.2,180 398.1,176Z"/>
<path fill="#ffb300" stroke="#ffb300" stroke-width=".6" d="M396,97 401.1,104 404.1,112 406.3,120 407.8,128 407.9,132 406.6,136 403,140 400,142.4 384,152 380,156 372,165.5 365.7,176 355,200 354.1,204 354.6,208 356,211.8 358.5,216 359.2,220 356,223.9 352,224.4 350.9,228 353.4,232 353.9,236 353.6,240 351.6,248 348,256.5 344,262.2 340,265.4 332,268.8 328,269.7 324,269.4 321.8,272 323.3,280 322,284 318.1,292 316.2,300 315.4,308 315.8,316 317.5,328 316.6,344 316.7,360 319.1,376 319.1,388 318.3,392 316.6,396 309.8,408 308,412.7 304,415.2 300,416 296,415.2 292,413.3 288,410.6 272,395.3 264,392.1 266.3,388 266,384 261.5,372 256,362.8 248,353.8 244,350.1 240,348.1 236,347.1 232,347 228,347.8 224,349.6 220,352.6 216,357 199.8,380 192.1,388 182.3,396 164.9,408 160,410.8 156,412.3 140,415.5 128,418.7 124,420.7 120.8,424 117,432 114.4,436 111.1,444 106,468 103.3,476 98.9,484 96,487.6 92,491 88,493.2 84,494.5 80,495 60,494.9 52,493.1 48,491.3 44,488.9 40,485.5 36,480.8 33,476 31.3,472 29.1,464 28.5,456 29.2,440 27,424 27.6,416 28.9,408 28.8,396 30,384 30.5,372 31.2,368 32.8,364 42.4,352 44.5,348 45.3,344 44,338.1 38.6,328 38.5,324 40,320 44,314.6 48,310.7 60,300.9 72,293.3 80,290.2 88,288.9 96,289.4 104,291.1 140,301.2 148,302.4 152,302.5 160,300.8 164,298.8 167.6,296 176,287.8 180,284.7 182.3,284 184,281.3 184.6,276 184.3,272 182.3,264 180.1,260 176,256.4 152,246 136,242.2 132,240 126.6,228 124.1,220 119.1,212 115.5,204 113.8,196 113.1,188 117.7,164 117.8,156 119.1,148 120,135.9 124,101.6 126.5,92 128,89.9 132,90.5 134.9,96 143.7,104 146.2,108 148,109.8 152,111.3 156,111.2 160,109.8 164,107.3 167.3,104 170,100 177.4,84 185.1,64 188,61.2 204,59.7 212,57.6 232,48.1 240,43.1 252,38.5 264,31.6 272,28.8 276,28.5 280,29.2 284,30.8 296.7,40 300,41.6 304,42.6 312,42.5 316,43.7 324,48.1 328,51.1 332,55.1 336,59.9 343.9,72 356,85.3 360,88.4 364,90.6 372,92.5 388,92.6 392,94ZM268,44.1 252,47.1 244,49.2 228.6,56 216,62.8 192,72.8 188,77 184,83 172,104.6 168,109.3 164,112.5 160,114.6 156,115.7 152,116 148,115.3 142.8,112 140,108 136,106.2 132,107.2 129.4,112 125.8,136 123.7,164 122.7,168 120.8,172 120,176 120.4,184 124.1,204 125.8,208 130.8,216 134.9,228 136.9,232 140,235.3 144,237.3 156,241.4 164,244.8 180,248.6 184,250.1 194,256 198.5,260 199.5,264 195.5,272 195.1,276 200,280 203.7,284 205.7,292 208,295 212,297 215.2,300 226.1,316 229.8,320 245.1,332 252,338.6 255.6,344 260.2,356 262.7,360 265.5,368 269.6,376 272.8,384 276,389.4 280,393.3 288,398.5 296,401.3 300,401.2 304,398.9 305.8,396 307,392 308,384 308.1,380 306.2,368 306.3,364 308.2,352 308.3,340 309.2,332 308,324.9 305.4,316 304.6,308 305.6,300 309.9,284 312,281.6 316.2,280 317.6,276 317.2,272 318.3,268 320,265.5 327.8,260 332.1,256 337.9,248 339.4,244 339.1,236 342.6,232 342.6,228 341.6,224 342.4,220 347,212 348,208 349.4,196 352.9,180 358.5,168 358.9,164 369.4,152 381.1,132 385.1,120 385.8,116 385.6,112 384,108 380.7,104 374.4,100 364,96 356,91 348,81.3 339.1,72 332,62.5 324,56.2 316,52.2 312,51.1 300,49.9 296,49 280,44.1 276,43.7ZM188,322.4 184,320.1 180,318.7 176,320.4 172,316.4 168,314.1 144,309.6 132,306.5 112,303.3 96,301.7 88,301.5 83.1,304 78.9,308 72.1,316 66.5,324 61.2,336 46,360 42.3,368 41.5,372 41.8,384 41.5,388 38.4,396 38,400 38.6,408 37.6,416 37.8,424 42.2,440 43,452 44.6,460 48,467.5 52,472.6 56.1,476 60,478.1 64,479.1 72,479.5 80,481.5 84,482 87.7,480 92,475.8 97.4,468 100,462.2 107.3,440 115.8,424 118.8,420 124,416.2 128,414.4 150,408 156,405.5 160,402.8 168,395.6 177.8,388 188,378.1 192.4,372 195.5,364 196.8,356 197.5,344 196.8,336 195.6,332 192,326Z"/>
<path fill="#ff8000" stroke="#ff8000" stroke-width=".6" d="M268,44.1 276,43.7 280,44.1 296,49 300,49.9 312,51.1 316,52.2 324,56.2 332,62.5 339.1,72 348,81.3 356,91 364,96 374.4,100 380.7,104 384,108 385.6,112 385.8,116 385.1,120 381.1,132 369.4,152 358.9,164 358.5,168 352.9,180 349.4,196 348,208 347,212 342.4,220 341.6,224 342.6,228 342.6,232 339.1,236 339.4,244 337.9,248 332.1,256 327.8,260 320,265.5 318.3,268 317.2,272 317.6,276 316.2,280 312,281.6 309.9,284 305.6,300 304.6,308 305.4,316 308,324.9 309.2,332 308.3,340 308.2,352 306.3,364 306.2,368 308.1,380 308,384 307,392 305.8,396 304,398.9 300,401.2 296,401.3 288,398.5 280,393.3 276,389.4 272.8,384 269.6,376 265.5,368 262.7,360 260.2,356 255.6,344 252,338.6 245.1,332 229.8,320 226.1,316 215.2,300 212,297 208,295 205.7,292 203.7,284 200,280 195.1,276 195.5,272 199.5,264 198.5,260 194,256 184,250.1 180,248.6 164,244.8 156,241.4 144,237.3 140,235.3 136.9,232 134.9,228 130.8,216 125.8,208 124.1,204 120.4,184 120,176 120.8,172 122.7,168 123.7,164 125.8,136 129.4,112 132,107.2 136,106.2 140,108 142.8,112 148,115.3 152,116 156,115.7 160,114.6 164,112.5 168,109.3 172,104.6 184,83 188,77 192,72.8 216,62.8 228.6,56 244,49.2 252,47.1ZM272,53.3 252,56.1 244,58 232,62.6 203.8,76 196,80.7 188,88 175.5,108 172,112 168,115.5 160,119.9 152,122.3 144,123.6 140,125.3 136,130.8 134.1,136 131.1,164 130.1,168 127.7,172 126.5,176 133.9,200 136,204 140,208.6 142.1,220 143.4,224 146.2,228 152,231.9 168,239.3 176,239.4 180,240.1 188,242.6 192,241.8 196,243.1 200,245.6 206.2,252 212,260.4 216.3,268 222.3,288 225.2,292 231,296 240,300.8 242.4,304 243.7,316 246.1,320 256,330.7 263.3,340 265.3,344 271.4,360 270.9,364 271.7,368 276,372 279.1,376 279.5,380 280.7,384 284,387.4 288,388.4 292,387.3 294.7,384 295.3,380 294.7,372 295.6,364 299.3,356 300.4,352 302.3,336 302,332 300.8,328 298.8,324 296,320 293.5,312 296.6,296 301.9,284 305,280 309.1,276 311.4,272 311.8,268 308.2,264 312,262.4 314.7,260 321,256 325,252 328,246.9 332,241.7 332.7,240 332.7,236 334.6,228 335.6,216 341.5,208 342.3,204 344.5,184 346,176 347.9,172 352,168 354.7,160 363,148 365,144 370.3,128 371,124 370.9,120 369.8,112 368,108 364.7,104 352,94.3 350.2,92 345.8,84 336.6,76 328,66.9 324,64.3 316,61 312,60.2 296,59.1 280,54.3ZM188,322.4 192,326 195.6,332 196.8,336 197.5,344 196.8,356 195.5,364 192.4,372 188,378.1 177.8,388 168,395.6 160,402.8 156,405.5 150,408 128,414.4 124,416.2 118.8,420 115.8,424 107.3,440 100,462.2 97.4,468 92,475.8 87.7,480 84,482 80,481.5 72,479.5 64,479.1 60,478.1 56.1,476 52,472.6 48,467.5 44.6,460 43,452 42.2,440 37.8,424 37.6,416 38.6,408 38,400 38.4,396 41.5,388 41.8,384 41.5,372 42.3,368 46,360 61.2,336 66.5,324 72.1,316 78.9,308 83.1,304 88,301.5 96,301.7 112,303.3 132,306.5 144,309.6 168,314.1 172,316.4 176,320.4 180,318.7 184,320.1ZM164,324.5 152,319 140,315.9 132,312.6 128,312 116,312.4 100,314.9 96,316.4 92,319 88,322.6 83.1,328 75.2,340 72,343.5 64,350.1 58.7,356 53.4,364 50.3,372 47.7,388 44.6,396 44.2,400 44.6,416 45.6,424 54.3,452 56.2,456 60,461.1 64,464 68,465.9 76,467.7 80,467.8 84,467 88,465.2 92,461.5 92.9,460 97.8,448 105.5,432 112,420.7 116,416.4 120,413.6 124,411.6 145.8,404 153.7,400 158.8,396 167.4,388 176,377.8 181.8,372 184.4,368 185,364 184,360.5 180.7,356 175.5,352 176,350.5 178.4,348 180.6,344 179.3,340 176.5,336 168.8,328Z"/>
<path fill="#ff4c00" stroke="#ff4c00" stroke-width=".6" d="M272,53.3 280,54.3 296,59.1 312,60.2 316,61 324,64.3 328,66.9 336.6,76 345.8,84 350.2,92 352,94.3 364.7,104 368,108 369.8,112 370.9,120 371,124 370.3,128 365,144 363,148 354.7,160 352,168 347.9,172 346,176 344.5,184 342.3,204 341.5,208 335.6,216 334.6,228 332.7,236 332.7,240 332,241.7 328,246.9 325,252 321,256 314.7,260 312,262.4 308.2,264 311.8,268 311.4,272 309.1,276 305,280 301.9,284 296.6,296 293.5,312 296,320 298.8,324 300.8,328 302,332 302.3,336 300.4,352 299.3,356 295.6,364 294.7,372 295.3,380 294.7,384 292,387.3 288,388.4 284,387.4 280.7,384 279.5,380 279.1,376 276,372 271.7,368 270.9,364 271.4,360 265.3,344 263.3,340 256,330.7 246.1,320 243.7,316 242.4,304 240,300.8 231,296 225.2,292 222.3,288 216.3,268 212,260.4 206.2,252 200,245.6 196,243.1 192,241.8 188,242.6 180,240.1 176,239.4 168,239.3 152,231.9 146.2,228 143.4,224 142.1,220 140,208.6 136,204 133.9,200 126.5,176 127.7,172 130.1,168 131.1,164 134.1,136 136,130.8 140,125.3 144,123.6 152,122.3 160,119.9 168,115.5 172,112 175.5,108 188,88 196,80.7 203.8,76 232,62.6 244,58 252,56.1ZM272,61.6 268,61.9 252,65 236,70.3 212,80.5 204,84.9 196,90.7 192,95 182.9,108 175.9,116 168,122.4 164,125 156,128.7 152,131.8 145.5,140 142.1,148 137.1,176 137.4,180 138.5,184 147.6,204 151.7,216 154.4,220 160,224.3 164,226.1 172,226.1 180,228.5 192,229.2 196,230.1 204,233.4 208,236.3 212,241.5 217.6,252 226.7,264 228.8,272 237.2,288 240.8,292 245.4,296 248.5,300 250.5,304 253.8,316 257.6,324 260,326.8 271.8,336 274.6,340 281.5,356 284,358.9 288,359.6 291.6,356 295.2,336 294.6,332 292.9,328 288.1,320 285.5,312 285.1,304 286.4,292 289.9,284 295.4,276 300,272.4 304,270.5 305.4,268 300.1,264 300.4,260 304,256.8 316,252.3 320,249.2 325.1,240 327.7,232 328.2,228 328.2,220 328.9,216 334.9,208 336.1,204 337.5,192 337.4,184 342.5,172 345.3,168 351.1,156 358.1,144 362.2,132 363.3,124 362.3,116 361.1,112 358.9,108 346.9,96 340,86.4 324,72.1 316,70.1 300,70.5 292,69.7 279.9,64ZM272,229.5 270.2,228 272,225.3 273.1,228ZM164,324.5 168.8,328 176.5,336 179.3,340 180.6,344 178.4,348 176,350.5 175.5,352 180.7,356 184,360.5 185,364 184.4,368 181.8,372 176,377.8 167.4,388 158.8,396 153.7,400 145.8,404 124,411.6 120,413.6 116,416.4 112,420.7 105.5,432 97.8,448 92.9,460 92,461.5 88,465.2 84,467 80,467.8 76,467.7 68,465.9 64,464 60,461.1 56.2,456 54.3,452 45.6,424 44.6,416 44.2,400 44.6,396 47.7,388 50.3,372 53.4,364 58.7,356 64,350.1 72,343.5 75.2,340 83.1,328 88,322.6 92,319 96,316.4 100,314.9 116,312.4 128,312 132,312.6 140,315.9 152,319ZM155.5,328 152,325.9 140,322.2 132,318.3 128,317.3 124,318.4 104,326.6 92,333.6 88,336.9 80,345.5 72,352.3 64.9,360 62.2,364 58.7,372 54.4,388 51.2,396 50.5,400 51.1,416 52,421 60,442.5 64,447.5 68,450.5 76,453.3 80,453.5 84,452.3 88,449.3 92,444.3 96,437.8 105.5,420 108.8,416 113.6,412 120,408.3 142.5,400 148,397.2 152,394.4 159.3,388 165.9,380 169.9,372 173,368 174.6,364 173.4,360 169.3,352 165.3,340 163,336 159.9,332Z"/>
<path fill="#ff1a00" stroke="#ff1a00" stroke-width=".6" d="M272,61.6 279.9,64 292,69.7 300,70.5 316,70.1 324,72.1 340,86.4 346.9,96 358.9,108 361.1,112 362.3,116 363.3,124 362.2,132 358.1,144 351.1,156 345.3,168 342.5,172 337.4,184 337.5,192 336.1,204 334.9,208 328.9,216 328.2,220 328.2,228 327.7,232 325.1,240 320,249.2 316,252.3 304,256.8 300.4,260 300.1,264 305.4,268 304,270.5 300,272.4 295.4,276 289.9,284 286.4,292 285.1,304 285.5,312 288.1,320 292.9,328 294.6,332 295.2,336 291.6,356 288,359.6 284,358.9 281.5,356 274.6,340 271.8,336 260,326.8 257.6,324 253.8,316 250.5,304 248.5,300 245.4,296 240.8,292 237.2,288 228.8,272 226.7,264 217.6,252 212,241.5 208,236.3 204,233.4 196,230.1 192,229.2 180,228.5 172,226.1 164,226.1 160,224.3 154.4,220 151.7,216 147.6,204 138.5,184 137.4,180 137.1,176 142.1,148 145.5,140 152,131.8 156,128.7 164,125 168,122.4 175.9,116 182.9,108 192,95 196,90.7 204,84.9 212,80.5 236,70.3 252,65 268,61.9ZM268,71.5 260,72.6 252,74.6 224,84.2 212,89.5 201.5,96 196,101.6 188.4,112 184,116.9 164,137.2 156,144 152,148.3 149.9,152 146.9,160 145.9,164 145.5,172 146,176 148,182.9 155.4,196 156.4,200 156.7,204 158.6,208 160,209.7 164,212.1 180,218.6 208,220.8 212,222.3 216,226.4 220,232.4 224.2,248 226.2,252 233,260 234.9,264 237.3,272 240,275.8 250.2,284 256,293.3 260,298.2 264,300 267.5,304 267.7,308 266.7,316 267.5,320 272,323.8 276,324.3 278.4,320 276,314.1 273.7,312 272,308.7 269.7,308 268.9,304 269.6,300 272,292.9 277.5,268 278.7,256 278.1,252 274.6,248 272,246.6 264,240.7 255,232 252.4,228 253.1,220 252.7,208 253.8,204 256,200.1 260,195.5 277.8,180 292,164.8 296,162.9 300,164.4 301,168 299.4,172 298.6,176 300,180 304.6,188 304,190.3 300.9,196 300,200 300.5,204 303.7,208 304.5,212 304,213.7 302.3,216 300,217.9 292,222.4 288,227.8 286.4,232 285.6,236 285.3,240 285.9,244 288,246.3 292,248 300,248.9 308,247.9 312,246.9 316,244.6 320.2,232 319.9,220 321.1,216 326.6,208 328.6,204 330.8,196 332.3,184 333.3,180 342.1,160 352,143.4 356,132 356.8,124 355.1,116 353.2,112 350.4,108 336,92.6 324,83 320,81 316,79.9 312,79.5 296,79.8 292,79.4 288,78.2 276,72.8 272,71.8ZM272,225.3 270.2,228 272,229.5 273.1,228ZM155.5,328 159.9,332 163,336 165.3,340 169.3,352 173.4,360 174.6,364 173,368 169.9,372 165.9,380 159.3,388 152,394.4 148,397.2 142.5,400 120,408.3 113.6,412 108.8,416 105.5,420 96,437.8 92,444.3 88,449.3 84,452.3 80,453.5 76,453.3 68,450.5 64,447.5 60,442.5 52,421 51.1,416 50.5,400 51.2,396 54.4,388 58.7,372 62.2,364 64.9,360 72,352.3 80,345.5 88,336.9 92,333.6 104,326.6 124,318.4 128,317.3 132,318.3 140,322.2 152,325.9ZM148,332.9 136,328.7 132,328.1 128,329.1 124,332.3 120,333 100,339.7 92,343.2 88,346 81.1,352 73.3,360 70.6,364 67.1,372 64.2,384 59.7,396 58.5,404 58.9,412 60.7,420 64,427.3 68,434.3 72,438.4 76,440.6 80,441.4 84,440.7 88,437.9 97.8,424 104,413.7 108,409.6 116,404 136,397.2 144,393.2 152,387.2 159.1,380 161.5,376 165.8,364 166,360 160.7,352 154.1,340 152,337Z"/>
<path fill="#e50000" stroke="#e50000" stroke-width=".6" d="M268,71.5 272,71.8 276,72.8 288,78.2 292,79.4 296,79.8 312,79.5 316,79.9 320,81 324,83 336,92.6 350.4,108 353.2,112 355.1,116 356.8,124 356,132 352,143.4 342.1,160 333.3,180 332.3,184 330.8,196 328.6,204 326.6,208 321.1,216 319.9,220 320.2,232 316,244.6 312,246.9 308,247.9 300,248.9 292,248 288,246.3 285.9,244 285.3,240 285.6,236 286.4,232 288,227.8 292,222.4 300,217.9 302.3,216 304,213.7 304.5,212 303.7,208 300.5,204 300,200 300.9,196 304,190.3 304.6,188 300,180 298.6,176 299.4,172 301,168 300,164.4 296,162.9 292,164.8 277.8,180 260,195.5 256,200.1 253.8,204 252.7,208 253.1,220 252.4,228 255,232 264,240.7 272,246.6 274.6,248 278.1,252 278.7,256 277.5,268 272,292.9 269.6,300 268.9,304 269.7,308 272,308.7 273.7,312 276,314.1 278.4,320 276,324.3 272,323.8 267.5,320 266.7,316 267.7,308 267.5,304 264,300 260,298.2 256,293.3 250.2,284 240,275.8 237.3,272 234.9,264 233,260 226.2,252 224.2,248 220,232.4 216,226.4 212,222.3 208,220.8 180,218.6 164,212.1 160,209.7 158.6,208 156.7,204 156.4,200 155.4,196 148,182.9 146,176 145.5,172 145.9,164 146.9,160 149.9,152 152,148.3 156,144 164,137.2 184,116.9 188.4,112 196,101.6 201.5,96 212,89.5 224,84.2 252,74.6 260,72.6ZM296,232 296.1,236 300,239.9 304,240.4 305,240 308.8,236 307.4,232 304,230.4 300,229.3ZM320,91.5 316,90.1 308,88.7 292,89.1 284,86.9 272,82.5 268,82.2 260,83 252,84.8 228,92.4 216,96.8 208,100.6 203.6,104 192,119.3 180.4,132 173.8,144 170.9,148 168,149.9 160,152.1 156,154.8 152.7,160 151.8,164 152,168 153.7,172 156,175.1 160,177.4 168,178.9 168.8,180 170.4,188 172,192 174.4,196 178.4,200 184,204.3 188,206.6 192,208.1 196,208.7 204,208.4 216,206.5 220,207.4 220.8,208 222.8,212 224.4,220 226.4,224 230.7,228 233.2,232 230.7,240 230.2,244 230.8,248 233.1,252 236,255.3 244,261.3 248,262.4 252,261.3 253.4,260 255.5,256 255.8,252 255,248 253.3,244 244.6,232 244.3,228 244.8,220 243.7,216 238.9,208 239.7,204 245.1,192 252,181.8 264.3,168 276,157.1 283.1,152 288,149.3 302.2,144 308,142.4 312,142 316,143.6 318.9,148 319.3,152 317,156 312.9,160 310.8,164 308.8,172 309,176 310.8,184 312,192.4 313.1,196 316,200.3 320,198.8 324,193.9 326.1,188 327.6,180 330.2,172 330.5,168 326.9,164 325.4,160 328,156.6 332,155.6 336,153.9 341.7,148 344.3,144 348,136 350.4,128 350.4,124 348,116.9 341.6,108 332,99.2 324,93.6ZM148,332.9 152,337 154.1,340 160.7,352 166,360 165.8,364 161.5,376 159.1,380 152,387.2 144,393.2 136,397.2 116,404 108,409.6 104,413.7 97.8,424 88,437.9 84,440.7 80,441.4 76,440.6 72,438.4 68,434.3 64,427.3 60.7,420 58.9,412 58.5,404 59.7,396 64.2,384 67.1,372 70.6,364 73.3,360 81.1,352 88,346 92,343.2 100,339.7 120,333 124,332.3 128,329.1 132,328.1 136,328.7ZM141.7,340 136,337 132,336.5 128,337.3 122.7,340 116,345.2 112,346.3 96,348.8 92,350.5 88,353.4 81,360 78,364 75.1,372 73.2,388 68.7,396 67.5,400 67,408 68.7,416 70.3,420 73.3,424 80,430 84,430.5 88,427.7 92,423.6 96,418.5 100,411.4 104,405.8 111,400 116,397.3 136,391 148,382.7 154.9,376 156.7,372 157.7,368 158,364 157.2,360 155.2,356 149.8,348 146.5,344Z"/>
<path fill="#b30000" stroke="#b30000" stroke-width=".6" d="M320,91.5 324,93.6 332,99.2 341.6,108 348,116.9 350.4,124 350.4,128 348,136 344.3,144 341.7,148 336,153.9 332,155.6 328,156.6 325.4,160 326.9,164 330.5,168 330.2,172 327.6,180 326.1,188 324,193.9 320,198.8 316,200.3 313.1,196 312,192.4 310.8,184 309,176 308.8,172 310.8,164 312.9,160 317,156 319.3,152 318.9,148 316,143.6 312,142 308,142.4 302.2,144 288,149.3 283.1,152 276,157.1 264.3,168 252,181.8 245.1,192 239.7,204 238.9,208 243.7,216 244.8,220 244.3,228 244.6,232 253.3,244 255,248 255.8,252 255.5,256 253.4,260 252,261.3 248,262.4 244,261.3 236,255.3 233.1,252 230.8,248 230.2,244 230.7,240 233.2,232 230.7,228 226.4,224 224.4,220 222.8,212 220.8,208 220,207.4 216,206.5 204,208.4 196,208.7 192,208.1 188,206.6 184,204.3 178.4,200 174.4,196 172,192 170.4,188 168.8,180 168,178.9 160,177.4 156,175.1 153.7,172 152,168 151.8,164 152.7,160 156,154.8 160,152.1 168,149.9 170.9,148 173.8,144 180.4,132 192,119.3 203.6,104 208,100.6 216,96.8 228,92.4 252,84.8 260,83 268,82.2 272,82.5 284,86.9 292,89.1 308,88.7 316,90.1ZM296,232 300,229.3 304,230.4 307.4,232 308.8,236 305,240 304,240.4 300,239.9 296.1,236ZM141.7,340 146.5,344 149.8,348 155.2,356 157.2,360 158,364 157.7,368 156.7,372 154.9,376 148,382.7 136,391 116,397.3 111,400 104,405.8 100,411.4 96,418.5 92,423.6 88,427.7 84,430.5 80,430 73.3,424 70.3,420 68.7,416 67,408 67.5,400 68.7,396 73.2,388 75.1,372 78,364 81,360 88,353.4 92,350.5 96,348.8 112,346.3 116,345.2 122.7,340 128,337.3 132,336.5 136,337Z"/>
</g>
<path fill="#fff" d="M246.5,178 264.2,167.5 274.7,165.4 291.4,152.9 291.4,282.4 285.1,287.6 277.8,269.9 270.5,251.1 270.5,221.8 262.2,201ZM141,302.3 150.4,292.9 159.8,302.3 150.4,312.1ZM335.3,347.2 345.7,336.7 366.6,336.7 377,347.2 366.6,358.7 345.7,358.7ZM357.2,234.4 366.6,223.9 376,234.4 366.6,244.8Z"/>
</g>
<g clip-path="url(#fr)"><use href="#geo" transform="translate(0.0,0.0)"/>
</g>
<g transform="translate(0.0,0.0)"><g fill="#000"><circle cx="245.0" cy="47.5" r="2.8"/><circle cx="259.5" cy="47.5" r="2.8"/><circle cx="273.9" cy="47.5" r="2.8"/><circle cx="302.7" cy="47.5" r="2.8"/><circle cx="331.5" cy="47.5" r="2.8"/><circle cx="216.2" cy="63.3" r="2.8"/><circle cx="230.6" cy="63.3" r="2.8"/><circle cx="245.0" cy="63.3" r="2.8"/><circle cx="259.5" cy="63.3" r="2.8"/><circle cx="288.3" cy="63.3" r="2.8"/><circle cx="317.1" cy="63.3" r="2.8"/><circle cx="331.5" cy="63.3" r="2.8"/><circle cx="345.9" cy="63.3" r="2.8"/><circle cx="374.8" cy="63.3" r="2.8"/><circle cx="187.4" cy="79.0" r="2.8"/><circle cx="216.2" cy="79.0" r="2.8"/><circle cx="259.5" cy="79.0" r="2.8"/><circle cx="273.9" cy="79.0" r="2.8"/><circle cx="302.7" cy="79.0" r="2.8"/><circle cx="345.9" cy="79.0" r="2.8"/><circle cx="360.3" cy="79.0" r="2.8"/><circle cx="158.6" cy="94.7" r="2.8"/><circle cx="201.8" cy="94.7" r="2.8"/><circle cx="216.2" cy="94.7" r="2.8"/><circle cx="245.0" cy="94.7" r="2.8"/><circle cx="273.9" cy="94.7" r="2.8"/><circle cx="302.7" cy="94.7" r="2.8"/><circle cx="331.5" cy="94.7" r="2.8"/><circle cx="360.3" cy="94.7" r="2.8"/><circle cx="389.2" cy="94.7" r="2.8"/><circle cx="418.0" cy="94.7" r="2.8"/><circle cx="100.9" cy="110.4" r="2.8"/><circle cx="129.7" cy="110.4" r="2.8"/><circle cx="187.4" cy="110.4" r="2.8"/><circle cx="230.6" cy="110.4" r="2.8"/><circle cx="259.5" cy="110.4" r="2.8"/><circle cx="302.7" cy="110.4" r="2.8"/><circle cx="317.1" cy="110.4" r="2.8"/><circle cx="345.9" cy="110.4" r="2.8"/><circle cx="374.8" cy="110.4" r="2.8"/><circle cx="403.6" cy="110.4" r="2.8"/><circle cx="418.0" cy="110.4" r="2.8"/><circle cx="446.8" cy="110.4" r="2.8"/><circle cx="86.5" cy="126.0" r="2.8"/><circle cx="100.9" cy="126.0" r="2.8"/><circle cx="144.1" cy="126.0" r="2.8"/><circle cx="173.0" cy="126.0" r="2.8"/><circle cx="187.4" cy="126.0" r="2.8"/><circle cx="201.8" cy="126.0" r="2.8"/><circle cx="230.6" cy="126.0" r="2.8"/><circle cx="245.0" cy="126.0" r="2.8"/><circle cx="273.9" cy="126.0" r="2.8"/><circle cx="345.9" cy="126.0" r="2.8"/><circle cx="360.3" cy="126.0" r="2.8"/><circle cx="403.6" cy="126.0" r="2.8"/><circle cx="432.4" cy="126.0" r="2.8"/><circle cx="475.7" cy="126.0" r="2.8"/><circle cx="100.9" cy="141.5" r="2.8"/><circle cx="129.7" cy="141.5" r="2.8"/><circle cx="158.6" cy="141.5" r="2.8"/><circle cx="187.4" cy="141.5" r="2.8"/><circle cx="216.2" cy="141.5" r="2.8"/><circle cx="345.9" cy="141.5" r="2.8"/><circle cx="374.8" cy="141.5" r="2.8"/><circle cx="418.0" cy="141.5" r="2.8"/><circle cx="490.1" cy="141.5" r="2.8"/><circle cx="86.5" cy="157.1" r="2.8"/><circle cx="115.3" cy="157.1" r="2.8"/><circle cx="144.1" cy="157.1" r="2.8"/><circle cx="173.0" cy="157.1" r="2.8"/><circle cx="201.8" cy="157.1" r="2.8"/><circle cx="216.2" cy="157.1" r="2.8"/><circle cx="331.5" cy="157.1" r="2.8"/><circle cx="345.9" cy="157.1" r="2.8"/><circle cx="374.8" cy="157.1" r="2.8"/><circle cx="389.2" cy="157.1" r="2.8"/><circle cx="403.6" cy="157.1" r="2.8"/><circle cx="432.4" cy="157.1" r="2.8"/><circle cx="461.2" cy="157.1" r="2.8"/><circle cx="490.1" cy="157.1" r="2.8"/><circle cx="144.1" cy="172.5" r="2.8"/><circle cx="158.6" cy="172.5" r="2.8"/><circle cx="173.0" cy="172.5" r="2.8"/><circle cx="317.1" cy="172.5" r="2.8"/><circle cx="345.9" cy="172.5" r="2.8"/><circle cx="389.2" cy="172.5" r="2.8"/><circle cx="418.0" cy="172.5" r="2.8"/><circle cx="475.7" cy="172.5" r="2.8"/><circle cx="504.5" cy="172.5" r="2.8"/><circle cx="115.3" cy="188.0" r="2.8"/><circle cx="129.7" cy="188.0" r="2.8"/><circle cx="158.6" cy="188.0" r="2.8"/><circle cx="187.4" cy="188.0" r="2.8"/><circle cx="216.2" cy="188.0" r="2.8"/><circle cx="317.1" cy="188.0" r="2.8"/><circle cx="331.5" cy="188.0" r="2.8"/><circle cx="374.8" cy="188.0" r="2.8"/><circle cx="403.6" cy="188.0" r="2.8"/><circle cx="446.8" cy="188.0" r="2.8"/><circle cx="504.5" cy="188.0" r="2.8"/><circle cx="100.9" cy="203.3" r="2.8"/><circle cx="115.3" cy="203.3" r="2.8"/><circle cx="129.7" cy="203.3" r="2.8"/><circle cx="158.6" cy="203.3" r="2.8"/><circle cx="173.0" cy="203.3" r="2.8"/><circle cx="216.2" cy="203.3" r="2.8"/><circle cx="245.0" cy="203.3" r="2.8"/><circle cx="317.1" cy="203.3" r="2.8"/><circle cx="331.5" cy="203.3" r="2.8"/><circle cx="360.3" cy="203.3" r="2.8"/><circle cx="374.8" cy="203.3" r="2.8"/><circle cx="389.2" cy="203.3" r="2.8"/><circle cx="446.8" cy="203.3" r="2.8"/><circle cx="490.1" cy="203.3" r="2.8"/><circle cx="158.6" cy="218.7" r="2.8"/><circle cx="187.4" cy="218.7" r="2.8"/><circle cx="201.8" cy="218.7" r="2.8"/><circle cx="230.6" cy="218.7" r="2.8"/><circle cx="245.0" cy="218.7" r="2.8"/><circle cx="259.5" cy="218.7" r="2.8"/><circle cx="317.1" cy="218.7" r="2.8"/><circle cx="403.6" cy="218.7" r="2.8"/><circle cx="446.8" cy="218.7" r="2.8"/><circle cx="475.7" cy="218.7" r="2.8"/><circle cx="129.7" cy="234.0" r="2.8"/><circle cx="144.1" cy="234.0" r="2.8"/><circle cx="173.0" cy="234.0" r="2.8"/><circle cx="201.8" cy="234.0" r="2.8"/><circle cx="230.6" cy="234.0" r="2.8"/><circle cx="259.5" cy="234.0" r="2.8"/><circle cx="302.7" cy="234.0" r="2.8"/><circle cx="317.1" cy="234.0" r="2.8"/><circle cx="331.5" cy="234.0" r="2.8"/><circle cx="389.2" cy="234.0" r="2.8"/><circle cx="418.0" cy="234.0" r="2.8"/><circle cx="461.2" cy="234.0" r="2.8"/><circle cx="158.6" cy="249.3" r="2.8"/><circle cx="187.4" cy="249.3" r="2.8"/><circle cx="201.8" cy="249.3" r="2.8"/><circle cx="230.6" cy="249.3" r="2.8"/><circle cx="259.5" cy="249.3" r="2.8"/><circle cx="302.7" cy="249.3" r="2.8"/><circle cx="317.1" cy="249.3" r="2.8"/><circle cx="403.6" cy="249.3" r="2.8"/><circle cx="432.4" cy="249.3" r="2.8"/><circle cx="158.6" cy="264.5" r="2.8"/><circle cx="173.0" cy="264.5" r="2.8"/><circle cx="187.4" cy="264.5" r="2.8"/><circle cx="216.2" cy="264.5" r="2.8"/><circle cx="245.0" cy="264.5" r="2.8"/><circle cx="345.9" cy="264.5" r="2.8"/><circle cx="403.6" cy="264.5" r="2.8"/><circle cx="461.2" cy="264.5" r="2.8"/><circle cx="173.0" cy="279.7" r="2.8"/><circle cx="201.8" cy="279.7" r="2.8"/><circle cx="245.0" cy="279.7" r="2.8"/><circle cx="331.5" cy="279.7" r="2.8"/><circle cx="360.3" cy="279.7" r="2.8"/><circle cx="374.8" cy="279.7" r="2.8"/><circle cx="418.0" cy="279.7" r="2.8"/><circle cx="432.4" cy="279.7" r="2.8"/><circle cx="446.8" cy="279.7" r="2.8"/><circle cx="187.4" cy="294.8" r="2.8"/><circle cx="201.8" cy="294.8" r="2.8"/><circle cx="216.2" cy="294.8" r="2.8"/><circle cx="230.6" cy="294.8" r="2.8"/><circle cx="345.9" cy="294.8" r="2.8"/><circle cx="432.4" cy="294.8" r="2.8"/><circle cx="259.5" cy="309.9" r="2.8"/><circle cx="317.1" cy="309.9" r="2.8"/><circle cx="374.8" cy="309.9" r="2.8"/><circle cx="418.0" cy="309.9" r="2.8"/><circle cx="100.9" cy="324.9" r="2.8"/><circle cx="129.7" cy="324.9" r="2.8"/><circle cx="245.0" cy="324.9" r="2.8"/><circle cx="273.9" cy="324.9" r="2.8"/><circle cx="302.7" cy="324.9" r="2.8"/><circle cx="331.5" cy="324.9" r="2.8"/><circle cx="345.9" cy="324.9" r="2.8"/><circle cx="418.0" cy="324.9" r="2.8"/><circle cx="129.7" cy="339.9" r="2.8"/><circle cx="158.6" cy="339.9" r="2.8"/><circle cx="259.5" cy="339.9" r="2.8"/><circle cx="288.3" cy="339.9" r="2.8"/><circle cx="317.1" cy="339.9" r="2.8"/><circle cx="389.2" cy="339.9" r="2.8"/><circle cx="57.7" cy="354.9" r="2.8"/><circle cx="129.7" cy="354.9" r="2.8"/><circle cx="144.1" cy="354.9" r="2.8"/><circle cx="173.0" cy="354.9" r="2.8"/><circle cx="273.9" cy="354.9" r="2.8"/><circle cx="302.7" cy="354.9" r="2.8"/><circle cx="317.1" cy="354.9" r="2.8"/><circle cx="72.1" cy="369.8" r="2.8"/><circle cx="100.9" cy="369.8" r="2.8"/><circle cx="129.7" cy="369.8" r="2.8"/><circle cx="144.1" cy="369.8" r="2.8"/><circle cx="158.6" cy="369.8" r="2.8"/><circle cx="187.4" cy="369.8" r="2.8"/><circle cx="259.5" cy="369.8" r="2.8"/><circle cx="273.9" cy="369.8" r="2.8"/><circle cx="302.7" cy="369.8" r="2.8"/><circle cx="403.6" cy="369.8" r="2.8"/><circle cx="86.5" cy="384.7" r="2.8"/><circle cx="115.3" cy="384.7" r="2.8"/><circle cx="144.1" cy="384.7" r="2.8"/><circle cx="173.0" cy="384.7" r="2.8"/><circle cx="317.1" cy="384.7" r="2.8"/><circle cx="331.5" cy="384.7" r="2.8"/><circle cx="345.9" cy="384.7" r="2.8"/><circle cx="72.1" cy="399.5" r="2.8"/><circle cx="100.9" cy="399.5" r="2.8"/><circle cx="129.7" cy="399.5" r="2.8"/><circle cx="158.6" cy="399.5" r="2.8"/><circle cx="273.9" cy="399.5" r="2.8"/><circle cx="302.7" cy="399.5" r="2.8"/><circle cx="374.8" cy="399.5" r="2.8"/><circle cx="389.2" cy="399.5" r="2.8"/><circle cx="43.2" cy="414.3" r="2.8"/><circle cx="100.9" cy="414.3" r="2.8"/><circle cx="273.9" cy="414.3" r="2.8"/><circle cx="288.3" cy="414.3" r="2.8"/><circle cx="331.5" cy="414.3" r="2.8"/><circle cx="345.9" cy="414.3" r="2.8"/><circle cx="86.5" cy="429.1" r="2.8"/><circle cx="144.1" cy="429.1" r="2.8"/><circle cx="273.9" cy="429.1" r="2.8"/><circle cx="317.1" cy="429.1" r="2.8"/><circle cx="345.9" cy="429.1" r="2.8"/><circle cx="57.7" cy="443.8" r="2.8"/><circle cx="302.7" cy="443.8" r="2.8"/><circle cx="317.1" cy="443.8" r="2.8"/><circle cx="331.5" cy="443.8" r="2.8"/><circle cx="86.5" cy="458.4" r="2.8"/><circle cx="57.7" cy="473.0" r="2.8"/><circle cx="86.5" cy="473.0" r="2.8"/><circle cx="144.1" cy="502.2" r="2.8"/><circle cx="173.0" cy="502.2" r="2.8"/></g><g fill="#fff"><circle cx="475.7" cy="110.4" r="2.8"/><circle cx="504.5" cy="126.0" r="2.8"/><circle cx="518.9" cy="126.0" r="2.8"/><circle cx="533.3" cy="126.0" r="2.8"/><circle cx="518.9" cy="141.5" r="2.8"/><circle cx="547.7" cy="141.5" r="2.8"/><circle cx="533.3" cy="157.1" r="2.8"/></g></g>
<rect x="0" y="0" width="562.5" height="501.5" fill="none" stroke="#000" stroke-width="2"/>
</g>
<g transform="translate(83.0,1187.1)">
<clipPath id="cE"><path d="M76.2,71 86.7,59.5 108.6,59.5 154.6,106.5 173.4,106.5 183.8,96.1 183.8,48 217.2,12.5 261.1,12.5 282,33.4 302.9,12.5 324.8,12.5 346.8,35.5 367.6,35.5 379.1,47 379.1,96.1 389.6,105.5 401.1,95 401.1,71 411.5,60.2 433.4,82.5 455.4,82.5 476.3,60.2 487.8,71 487.8,96.1 498.2,106.5 520.1,106.5 530.6,118 530.6,165 509.7,187 509.7,208.9 466.9,251.7 465.8,301.2 455.4,312.7 433.4,312.7 422,324.2 422,347.2 401.1,369.1 401.1,414 390.6,424.9 368.7,424.9 346.8,403.6 336.3,414 336.3,436 303.9,468.3 282,446.4 261.1,446.4 249.6,434.9 249.6,390 228.7,369.1 249.6,349.3 249.6,324.2 238.1,313.8 216.2,334.6 194.3,313.8 183.8,323.2 183.8,349.3 203.7,369.1 183.8,389 162.9,410.9 162.9,434.9 151.4,446.4 129.5,424.5 108.6,436 98.2,446.4 86.7,446.4 64.8,468.3 54.3,456.8 54.3,416.1 32.4,393.1 32.4,370.2 54.3,347.2 54.3,324.2 64.8,311.7 83.6,291.8 150.4,291.8 161.9,280.3 150.4,267.8 130.6,267.8 119.1,255.3 119.1,184.9 76.2,142Z"/></clipPath>
<g transform="translate(0.0,-0.1)">
<g clip-path="url(#cE)" shape-rendering="crispEdges">
<path fill="#000080" stroke="#000080" stroke-width=".6" d="M280,103.3 284,107.2 285.9,112 284.9,116 284,117.2 280,118.2 277.8,116 276,112.2 275.7,108 278.4,104Z"/>
<path fill="#0000e6" stroke="#0000e6" stroke-width=".6" d="M188,111.6 193.8,108 208,102.3 224,101.8 236,99.7 256,93.8 280,84.9 284,84.1 288,84.3 292.8,88 294.8,92 297.3,100 300,104.6 304,108 308,110.2 320,115.9 325.5,120 332,126.3 336,132.2 337,136 336.5,140 331.7,156 330.6,168 326,180 320.9,204 319.9,216 320.4,228 320.3,248 319,252 316.6,256 312.6,260 308,262.6 304,263.9 300,264.2 296,263.5 286.8,260 279.7,256 274.2,252 268,245.5 264.8,240 259.1,228 254,220 252.8,216 252.5,212 253,208 256.2,196 256.5,192 256.1,188 254.9,184 252.5,180 248,175.8 244,173.5 240,172.3 236,171.8 232,172.2 228,173.7 225.2,176 218.5,184 216,185.9 212,186.8 208,185.9 200,187.5 196,187.5 192,186.5 188,184.3 184.3,180 183.3,176 183.3,164 182.6,160 178.8,148 178.7,144 182.4,120 184.2,116ZM280,103.3 278.4,104 275.7,108 276,112.2 277.8,116 280,118.2 284,117.2 284.9,116 285.9,112 284,107.2Z"/>
<path fill="#004dff" stroke="#004dff" stroke-width=".6" d="M183.2,100 190.3,96 200,91.9 208,89.4 212,88.5 232,86.5 248,82.4 272,71.2 284,64.6 288,63.7 292,64.3 296,66.2 319.3,84 328.3,92 340,103.9 348,109.2 351.1,112 353.9,116 355.5,120 356.2,128 354.9,136 353.6,140 352,141.8 351.1,144 351,148 352,150 356,150.9 360,149.1 366.2,144 372,140.3 380,137.5 384,137.1 388,137.6 393.5,140 398.8,144 402.1,148 413.2,168 414.4,172 414.9,180 413.4,208 416.8,224 416.1,232 414.7,236 412,240 408,243.8 388,257.5 380.6,264 377.8,268 371.8,280 368,284.5 356,293 348,296.5 340,297.6 336,296.9 332,294.9 324,286.7 320,285.1 312,285.7 309.1,284 307.9,280 304,278.7 296,282 292,282.5 288,282.2 260,276.7 256,275.6 252,273.3 240,264 237.1,260 235.8,256 235.5,252 238.5,244 238.4,240 236,235.1 232,231.9 224,228.5 204,213.7 200,212.3 192,210.6 186.8,208 178.7,200 175.9,196 172.1,188 170.7,180 173.1,172 171.4,164 168.7,156 167.6,148 168.5,120 169.3,116 172,112.4 176,108.2 179.1,104ZM356,188 352,189.1 348,192.3 344,196.5 341,204 338.8,216 340,224 344,231.6 348.2,236 352,238.6 356,240.4 360,240.1 364.4,236 369.9,224 371.4,220 371.8,216 364.4,208 366,204 366.3,200 365.5,196 364,193 360,188.9ZM188,111.6 184.2,116 182.4,120 178.7,144 178.8,148 182.6,160 183.3,164 183.3,176 184.3,180 188,184.3 192,186.5 196,187.5 200,187.5 208,185.9 212,186.8 216,185.9 218.5,184 225.2,176 228,173.7 232,172.2 236,171.8 240,172.3 244,173.5 248,175.8 252.5,180 254.9,184 256.1,188 256.5,192 256.2,196 253,208 252.5,212 252.8,216 254,220 259.1,228 264.8,240 268,245.5 274.2,252 279.7,256 286.8,260 296,263.5 300,264.2 304,263.9 308,262.6 312.6,260 316.6,256 319,252 320.3,248 320.4,228 319.9,216 320.9,204 326,180 330.6,168 331.7,156 336.5,140 337,136 336,132.2 332,126.3 325.5,120 320,115.9 308,110.2 304,108 300,104.6 297.3,100 294.8,92 292.8,88 288,84.3 284,84.1 280,84.9 256,93.8 236,99.7 224,101.8 208,102.3 193.8,108ZM296,323.1 297.8,324 299.7,328 297.8,332 296,333.7 293,332 291.5,328 292,326.2ZM324,322.1 328,322.7 328.9,324 330.2,328 328,330.8 323.3,328 322.5,324ZM304,346 308,347.4 309.6,352 310,356 311.4,360 316,363.7 320.2,368 322,372 321.3,376 320,378.2 316,379.3 312,377.4 309.2,372 306.3,364 301.9,360 300,356 300,352 301.6,348Z"/>
<path fill="#00b2ff" stroke="#00b2ff" stroke-width=".6" d="M166.6,96 169.5,92 172,89.6 176,87.2 180,85.9 184,85.5 192,86.1 195.6,84 200,79 203.7,76 208,73.9 212,73 240,70 248,68.4 252,67 257.1,64 262.4,60 266.9,56 276,46.1 280,44.1 284,43.2 288,43.3 292,44.3 300,48.4 312,53 320,57.6 332,66.4 348,73.3 352,76.2 360,84.6 364,87.4 368,88.4 376,89 384,90.9 392,94.3 396,96.7 416,112.1 427.2,120 440,127.2 452,135.9 456.5,140 462.5,148 466.4,156 470.8,168 473.6,180 474.4,188 472.8,196 472.5,200 473.3,208 471.6,220 472,224.7 474.4,232 476,235.4 480,240.8 484,244.4 488,246.9 492,248.6 496,249.4 500,249.4 504,248.1 508,244.9 510.5,240 511.3,236 510.6,228 509.2,224 507,220 503.8,216 495.3,208 493.3,204 492.1,196 492.5,188 497.1,176 502.6,148 503.2,136 501.3,124 501.1,120 501.9,112 504,104.4 508,95.7 512,89.4 520,80 528,72.8 536,66.9 544,61.8 556,55.4 568,50.1 568,315.3 552,316.9 536,320.6 524,325 498.4,336 487.7,340 474.7,344 456,348.2 436,351 424,351.2 416,349.8 408,345.6 392,332.2 388,329.8 384,328.8 380,328.6 368,330.7 364,332.2 358.2,336 354.3,340 348.7,348 346.8,352 343.8,364 339.9,372 338.6,376 337.5,388 335.3,392 328,398.6 324,399.2 320,397.3 315.6,392 312,390.1 308,389.2 304,386.8 302.1,384 300.8,376 300,374.7 292,368.1 288.6,364 281.6,352 278.5,336 276.3,332 271.3,328 268.8,324 267.2,316 264,304.9 260,301.5 252,298 244,292.7 240,289.2 235.4,284 228,272.2 222.3,260 219.4,248 216.6,244 208,234.5 206.3,232 204,226.1 201.8,224 200,223.1 188,223.1 180,217.7 172,213.4 166.1,208 163.4,204 158.2,188 158.6,184 162.7,172 162.6,168 160.8,164 155.4,156 154.1,152 153.6,148 157.6,124 161.9,112 164,102ZM183.2,100 179.1,104 176,108.2 172,112.4 169.3,116 168.5,120 167.6,148 168.7,156 171.4,164 173.1,172 170.7,180 172.1,188 175.9,196 178.7,200 186.8,208 192,210.6 200,212.3 204,213.7 224,228.5 232,231.9 236,235.1 238.4,240 238.5,244 235.5,252 235.8,256 237.1,260 240,264 252,273.3 256,275.6 260,276.7 288,282.2 292,282.5 296,282 304,278.7 307.9,280 309.1,284 312,285.7 320,285.1 324,286.7 332,294.9 336,296.9 340,297.6 348,296.5 356,293 368,284.5 371.8,280 377.8,268 380.6,264 388,257.5 408,243.8 412,240 414.7,236 416.1,232 416.8,224 413.4,208 414.9,180 414.4,172 413.2,168 402.1,148 398.8,144 393.5,140 388,137.6 384,137.1 380,137.5 372,140.3 366.2,144 360,149.1 356,150.9 352,150 351,148 351.1,144 352,141.8 353.6,140 354.9,136 356.2,128 355.5,120 353.9,116 351.1,112 348,109.2 340,103.9 328.3,92 319.3,84 296,66.2 292,64.3 288,63.7 284,64.6 272,71.2 248,82.4 232,86.5 212,88.5 208,89.4 200,91.9 190.3,96ZM288,350 286.4,352 288,354.2 289.3,352ZM296,323.1 292,326.2 291.5,328 293,332 296,333.7 297.8,332 299.7,328 297.8,324ZM304,346 301.6,348 300,352 300,356 301.9,360 306.3,364 309.2,372 312,377.4 316,379.3 320,378.2 321.3,376 322,372 320.2,368 316,363.7 311.4,360 310,356 309.6,352 308,347.4ZM324,322.1 322.5,324 323.3,328 328,330.8 330.2,328 328.9,324 328,322.7ZM356,188 360,188.9 364,193 365.5,196 366.3,200 366,204 364.4,208 371.8,216 371.4,220 369.9,224 364.4,236 360,240.1 356,240.4 352,238.6 348.2,236 344,231.6 340,224 338.8,216 341,204 344,196.5 348,192.3 352,189.1Z"/>
<path fill="#1affe5" stroke="#1affe5" stroke-width=".6" d="M28.3,-4 156.4,-4 171.1,24 175.8,32 181.6,40 188.8,48 193,52 196,54.1 200,55.5 208,55.8 220,57.5 240,55.2 244,53.4 248,49.9 252.2,44 255,36 255.3,32 253.2,24 252.9,20 253.6,16 256,11.7 260,8.9 264,8 268,8.3 272,9.6 276,11.9 286.3,20 292.6,24 300,27 304,26.7 307.3,24 312,15.2 316,10.5 320,7.1 328,1.8 340.5,-4 568,-4 568,50.1 556,55.4 544,61.8 532,69.7 524,76.2 516,84.3 512,89.4 505.8,100 502.9,108 501.3,116 501.3,124 503.2,136 502.6,148 497.1,176 492.5,188 492,192 492.5,200 493.3,204 495.3,208 503.8,216 507,220 509.2,224 510.6,228 511.3,236 510.5,240 508,244.9 504,248.1 500,249.4 496,249.4 492,248.6 488,246.9 484,244.4 480,240.8 476,235.4 474.4,232 472,224.7 471.6,220 473.3,208 472.5,200 472.8,196 474.4,188 473.6,180 470.8,168 466.4,156 462.5,148 459.9,144 456,139.4 444,130 436,124.6 427.2,120 412,109.2 400,99.6 392,94.3 380,89.8 368,88.4 364,87.4 360,84.6 352,76.2 348,73.3 332,66.4 320,57.6 312,53 300,48.4 292,44.3 288,43.3 284,43.2 280,44.1 276,46.1 266.9,56 262.4,60 257.1,64 252,67 248,68.4 240,70 212,73 208,73.9 203.7,76 200,79 195.6,84 192,86.1 184,85.5 180,85.9 176,87.2 172,89.6 168,93.8 164,102 161.9,112 157.6,124 153.6,148 154.1,152 155.4,156 160.8,164 162.6,168 162.7,172 158.6,184 158.2,188 161.7,200 163.4,204 166.1,208 172,213.4 180,217.7 188,223.1 200,223.1 201.8,224 204,226.1 206.3,232 208,234.5 216.6,244 219.4,248 222.3,260 228,272.2 235.4,284 240,289.2 244,292.7 252,298 260,301.5 264,304.9 267.2,316 268.8,324 271.3,328 276.3,332 278.5,336 281.6,352 288.6,364 292,368.1 300,374.7 300.8,376 302.1,384 304,386.8 308,389.2 312,390.1 315.6,392 320,397.3 324,399.2 328,398.6 335.3,392 337.5,388 338.6,376 339.9,372 343.8,364 346.8,352 351.3,344 356,338.1 360,334.5 364,332.2 368,330.7 380,328.6 384,328.8 388,329.8 392,332.2 408,345.6 416,349.8 424,351.2 436,351 456,348.2 474.7,344 487.7,340 498.4,336 524,325 536,320.6 552,316.9 568,315.3 568,504 471.6,504 463.2,492 456.7,480 452,468.1 443.3,440 438.9,428 433.5,416 426.6,404 411.7,384 396,366.4 392,363.2 388,361 384,359.9 380,359.6 376,360.2 372,361.9 368,364.7 364.9,368 362.4,372 360.4,380 360,384 360.4,392 357.9,408 358.2,416 360.8,428 364,437.2 373.5,460 377.1,472 378.1,480 378,484 376.1,492 374.3,496 371.5,500 367.7,504 299.2,504 292,498.3 284,489.2 280,482.8 277,476 273.7,464 272.6,452 273.5,444 276,439.2 280,436.9 288,439.6 292,432.2 295.5,424 296.7,416 296.5,412 295.5,408 291.2,400 290.1,396 291.1,388 290.1,384 288,380.5 284,375.6 276,362.9 271.7,352 265.5,340 264,338.3 252,329.6 248,327.8 236,324.4 228,323.4 225.7,320 228,317.7 232,316.2 232.4,312 226.4,300 221.5,292 213.5,272 212.9,268 212.9,260 212,255.5 196,242.2 192,240.2 180,239.1 176,237.2 160,220.6 152,214.9 149,212 146.9,208 143.7,188 143.7,184 145.1,176 143.1,172 140,170.5 137.3,168 137,164 139.3,156 140,148 141.2,144 145.1,136 143.3,100 142.2,96 139.8,92 136,88.6 132,86.7 128,85.9 116,85.1 108,78.8 104,77.4 96,76.8 80,77 72,75.8 61.3,72 54.2,68 48.8,64 41,56 35.5,48 31.5,40 28.8,32 27,24 26.3,16 26.8,4ZM148,163.2 147.1,164 147.4,168 148,169.6 149.8,168 149.3,164ZM167.3,240 168,239.6 168.6,240 168,240.8ZM286.4,352 288,350 289.3,352 288,354.2Z"/>
<path fill="#80ff80" stroke="#80ff80" stroke-width=".6" d="M-4,-4 28.3,-4 26.8,4 26.3,16 27.8,28 30,36 35.5,48 41,56 48.8,64 54.2,68 64,73.1 76,76.6 84,77.1 100,76.9 104,77.4 108,78.8 116,85.1 128,85.9 132,86.7 136,88.6 140,92.2 142.2,96 143.3,100 145.1,136 141.2,144 140,148 139.3,156 137,164 137.3,168 140,170.5 143.1,172 145.1,176 143.7,184 143.7,188 146.9,208 149,212 153.4,216 160,220.6 176,237.2 180,239.1 192,240.2 196,242.2 212,255.5 212.9,260 212.9,268 213.5,272 221.5,292 226.4,300 232.4,312 232,316.2 228,317.7 225.7,320 228,323.4 236,324.4 248,327.8 252,329.6 264,338.3 265.5,340 271.7,352 276,362.9 284,375.6 288,380.5 290.1,384 291.1,388 290.1,396 291.2,400 295.5,408 296.5,412 296.7,416 295.5,424 292,432.2 288,439.6 280,436.9 276,439.2 273.5,444 272.8,448 272.7,456 273.7,464 275.6,472 280,482.8 284,489.2 288,494.2 292,498.3 299.2,504 224.5,504 224.7,492 225.9,484 230,472 234.7,464 241.7,456 246.1,452 260,441.6 264,437.2 268,424.2 272,418.5 276,419 276.8,420 280,420.7 281.5,420 282.3,416 280,414.2 276,414.3 272,412.1 269.2,408 268,404.6 267.3,400 267.6,392 271.5,376 271.4,372 269.8,364 268,358.6 260,345.5 256,342.2 252,342.1 248,344 244.7,348 243.5,352 243.5,356 244.9,368 244,374.6 240,382.8 236,387.5 232,391.2 224,396.3 216,399.2 208,399.6 204,398.8 200,397.2 196,394.7 192,391 187,384 184,376.2 184.9,368 189.1,356 190.3,348 190.1,344 186.8,328 185.5,324 183.3,320 176,313.3 172,307.1 168,303.6 156,299.9 152,298.1 140,289.3 117.3,280 111.1,276 107.5,272 105.6,268 105,264 105.5,260 107.1,256 110,252 116,247.4 120,245.6 128,243.6 132.1,240 132.1,236 129.7,212 129.8,208 132.1,196 129,192 128,191.5 124,191.5 120,190.4 115.7,188 111.5,184 108.9,180 107.8,176 108.1,172 109.8,168 112.6,164 124,143.1 128.5,132 129.4,124 128.7,116 127.5,112 125.1,108 121.1,104 115.1,100 108,96.3 104,94.9 100,94.2 92,94.5 84,97 79.4,100 75.9,104 73.8,108 73.1,112 73.7,116 76,120 84,126.8 88.9,132 90.6,136 90.7,140 88,145.9 84,150.3 80,152.8 76,154.3 68,155.3 56,153.9 16,143.8 -4,137.4ZM168,239.6 167.3,240 168,240.8 168.6,240ZM156.4,-4 340.5,-4 328,1.8 320,7.1 316,10.5 312,15.2 308,23.1 304,26.7 300,27 292.6,24 286.3,20 276,11.9 272,9.6 268,8.3 264,8 260,8.9 256,11.7 253.6,16 252.9,20 253.2,24 255.3,32 255,36 252.2,44 249.6,48 245.9,52 240,55.2 220,57.5 208,55.8 200,55.5 196,54.1 193,52 188.8,48 181.6,40 175.8,32 171.1,24ZM215.4,36 215.3,40 220,44.1 224,44.7 225.8,44 228.6,40 228.1,36 224,32.4 220,32ZM148,163.2 149.3,164 149.8,168 148,169.6 147.4,168 147.1,164ZM368,364.7 372,361.9 376,360.2 380,359.6 384,359.9 388,361 392,363.2 396,366.4 405,376 421,396 429,408 437.3,424 443.3,440 452,468.1 456.7,480 463.2,492 471.6,504 367.7,504 372,499.3 376.1,492 377.4,488 378.1,480 377.1,472 374.9,464 362.1,432 359.7,424 358.2,416 357.9,408 360.4,392 360,384 360.4,380 362.4,372 364.9,368Z"/>
<path fill="#e5ff1a" stroke="#e5ff1a" stroke-width=".6" d="M215.4,36 220,32 224,32.4 228.1,36 228.6,40 225.8,44 224,44.7 220,44.1 215.3,40ZM-4,137.4 16,143.8 56,153.9 68,155.3 76,154.3 80,152.8 84,150.3 88,145.9 90.7,140 90.6,136 88.9,132 84,126.8 76,120 73.7,116 73.1,112 73.8,108 75.9,104 79.4,100 84,97 92,94.5 100,94.2 104,94.9 108,96.3 115.1,100 121.1,104 125.1,108 127.5,112 128.7,116 129.4,124 128.5,132 124,143.1 112.6,164 109.8,168 108.1,172 107.8,176 108.9,180 111.5,184 115.7,188 120,190.4 124,191.5 128,191.5 129,192 132.1,196 129.8,208 129.7,212 132.1,236 132.1,240 128,243.6 120,245.6 116,247.4 110,252 107.1,256 105.5,260 105,264 105.6,268 107.5,272 111.1,276 117.3,280 140,289.3 152,298.1 156,299.9 168,303.6 172,307.1 176,313.3 183.3,320 185.5,324 186.8,328 190.1,344 190.3,348 189.1,356 184.9,368 184,376.2 187,384 192,391 196,394.7 200,397.2 204,398.8 208,399.6 216,399.2 220,398 228,394 236,387.5 240,382.8 244,374.6 244.9,368 243.5,356 243.5,352 244.7,348 248,344 252,342.1 256,342.2 258.7,344 266.7,356 269.8,364 271.4,372 271.5,376 267.6,392 267.3,400 267.8,404 269.2,408 272,412.1 276,414.3 280,414.2 282.3,416 281.5,420 280,420.7 276.8,420 276,419 272,418.5 268,424.2 264,437.2 260,441.6 246.1,452 241.7,456 234.7,464 230,472 225.9,484 224.7,492 224.5,504 134.9,504 130.2,492 126.3,484 121.6,476 115.8,468 108.3,460 103.6,456 77.1,436 72,429.1 67.5,420 66.2,416 66.2,408 64.5,396 64.5,392 65.5,388 71,376 82.2,360 104,339 108,335.7 112,334.3 128,330.7 130.9,328 130,324 119.4,316 112,311.6 108,310.3 104,309.9 100,310.4 88,314 84,315.7 80,319.9 75.6,328 72,331.6 68,334.2 60,337.2 52,339.2 40,340.3 32,339.4 20,336.2 9.9,332 -4,324.6ZM164,337.1 160,337.2 152,339 148,342 146.8,344 145.7,348 145.8,352 148.5,360 148,364.7 146.5,368 144,371.1 133.7,380 130.5,384 128.5,388 127.1,392 125.6,400 126.1,404 128,410.6 130.8,416 132,417 136,418.3 143.9,416 152,412.6 156.5,408 157.9,404 160,388 161.7,380 166.8,368 173.6,356 173.6,352 171,344 168,339.3ZM260,359.6 257.8,368 260,371.7 261.8,368Z"/>
<path fill="#ffb300" stroke="#ffb300" stroke-width=".6" d="M-4,324.6 9.9,332 20,336.2 32,339.4 40,340.3 52,339.2 60,337.2 68,334.2 72,331.6 75.6,328 80,319.9 84,315.7 88,314 100,310.4 104,309.9 108,310.3 112,311.6 119.4,316 130,324 130.9,328 128,330.7 112,334.3 108,335.7 100,342.7 82.2,360 73.7,372 68.9,380 65.5,388 64.5,392 64.5,396 66.2,408 66.2,416 67.5,420 73.7,432 77.1,436 108.3,460 115.8,468 121.6,476 126.3,484 130.2,492 134.9,504 66.8,504 72,491.4 74,484 75.3,476 75.1,468 74.3,464 72.7,460 69.1,456 64,454.1 52,456.4 44,456 36,454.5 12,448.4 -4,446.2ZM164,337.1 168,339.3 171,344 173.6,352 173.6,356 166.8,368 161.7,380 160,388 157.9,404 156.5,408 152,412.6 143.9,416 136,418.3 132,417 130.8,416 128,410.6 126.1,404 125.6,400 127.1,392 128.5,388 130.5,384 133.7,380 144,371.1 146.5,368 148,364.7 148.5,360 145.8,352 145.7,348 146.8,344 148,342 152,339 160,337.2ZM260,359.6 261.8,368 260,371.7 257.8,368Z"/>
<path fill="#ff4c00" stroke="#ff4c00" stroke-width=".6" d="M-4,446.2 12,448.4 36,454.5 44,456 52,456.4 64,454.1 69.1,456 72.7,460 74.3,464 75.1,468 75.3,476 74,484 72,491.4 66.8,504 -4,504Z"/>
</g>
<path fill="#fff" d="M294.5,301.6 305,290.8 325.9,290.8 336.3,301.6 325.9,312.7 305,312.7ZM336.3,326.3 346.8,314.8 357.2,326.3 357.2,347.2 346.8,358.7 336.3,347.2ZM250,280.3 262.2,267.4 272.6,278.2 278.9,297 262.2,312.7 250,300.2ZM272.6,168.6 292.4,168.6 292.4,286.6 285.1,290.8 278.9,269.9 271.6,251.1 271.6,203 264.2,190.5Z"/>
</g>
<g clip-path="url(#fr)"><use href="#geo" transform="translate(0.0,-0.1)"/>
</g>
<g transform="translate(0.0,-0.1)"><g fill="#000"><circle cx="216.2" cy="63.3" r="2.8"/><circle cx="230.6" cy="63.3" r="2.8"/><circle cx="245.0" cy="63.3" r="2.8"/><circle cx="259.5" cy="63.3" r="2.8"/><circle cx="331.5" cy="63.3" r="2.8"/><circle cx="331.5" cy="47.5" r="2.8"/><circle cx="216.2" cy="79.0" r="2.8"/><circle cx="259.5" cy="79.0" r="2.8"/><circle cx="302.7" cy="79.0" r="2.8"/><circle cx="317.1" cy="79.0" r="2.8"/><circle cx="360.3" cy="79.0" r="2.8"/><circle cx="216.2" cy="94.7" r="2.8"/><circle cx="230.6" cy="94.7" r="2.8"/><circle cx="302.7" cy="94.7" r="2.8"/><circle cx="331.5" cy="94.7" r="2.8"/><circle cx="360.3" cy="94.7" r="2.8"/><circle cx="418.0" cy="94.7" r="2.8"/><circle cx="100.9" cy="110.4" r="2.8"/><circle cx="230.6" cy="110.4" r="2.8"/><circle cx="259.5" cy="110.4" r="2.8"/><circle cx="302.7" cy="110.4" r="2.8"/><circle cx="345.9" cy="110.4" r="2.8"/><circle cx="418.0" cy="110.4" r="2.8"/><circle cx="432.4" cy="110.4" r="2.8"/><circle cx="475.7" cy="110.4" r="2.8"/><circle cx="100.9" cy="126.0" r="2.8"/><circle cx="144.1" cy="126.0" r="2.8"/><circle cx="201.8" cy="126.0" r="2.8"/><circle cx="245.0" cy="126.0" r="2.8"/><circle cx="273.9" cy="126.0" r="2.8"/><circle cx="331.5" cy="126.0" r="2.8"/><circle cx="345.9" cy="126.0" r="2.8"/><circle cx="360.3" cy="126.0" r="2.8"/><circle cx="432.4" cy="126.0" r="2.8"/><circle cx="475.7" cy="126.0" r="2.8"/><circle cx="490.1" cy="126.0" r="2.8"/><circle cx="187.4" cy="141.5" r="2.8"/><circle cx="216.2" cy="141.5" r="2.8"/><circle cx="345.9" cy="141.5" r="2.8"/><circle cx="374.8" cy="141.5" r="2.8"/><circle cx="418.0" cy="141.5" r="2.8"/><circle cx="490.1" cy="141.5" r="2.8"/><circle cx="518.9" cy="141.5" r="2.8"/><circle cx="115.3" cy="157.1" r="2.8"/><circle cx="144.1" cy="157.1" r="2.8"/><circle cx="216.2" cy="157.1" r="2.8"/><circle cx="331.5" cy="157.1" r="2.8"/><circle cx="374.8" cy="157.1" r="2.8"/><circle cx="389.2" cy="157.1" r="2.8"/><circle cx="403.6" cy="157.1" r="2.8"/><circle cx="144.1" cy="172.5" r="2.8"/><circle cx="317.1" cy="172.5" r="2.8"/><circle cx="345.9" cy="172.5" r="2.8"/><circle cx="418.0" cy="172.5" r="2.8"/><circle cx="504.5" cy="172.5" r="2.8"/><circle cx="187.4" cy="188.0" r="2.8"/><circle cx="216.2" cy="188.0" r="2.8"/><circle cx="331.5" cy="188.0" r="2.8"/><circle cx="374.8" cy="188.0" r="2.8"/><circle cx="446.8" cy="188.0" r="2.8"/><circle cx="504.5" cy="188.0" r="2.8"/><circle cx="173.0" cy="203.3" r="2.8"/><circle cx="245.0" cy="203.3" r="2.8"/><circle cx="331.5" cy="203.3" r="2.8"/><circle cx="446.8" cy="203.3" r="2.8"/><circle cx="187.4" cy="218.7" r="2.8"/><circle cx="201.8" cy="218.7" r="2.8"/><circle cx="230.6" cy="218.7" r="2.8"/><circle cx="245.0" cy="218.7" r="2.8"/><circle cx="259.5" cy="218.7" r="2.8"/><circle cx="317.1" cy="218.7" r="2.8"/><circle cx="446.8" cy="218.7" r="2.8"/><circle cx="475.7" cy="218.7" r="2.8"/><circle cx="144.1" cy="234.0" r="2.8"/><circle cx="173.0" cy="234.0" r="2.8"/><circle cx="230.6" cy="234.0" r="2.8"/><circle cx="259.5" cy="234.0" r="2.8"/><circle cx="302.7" cy="234.0" r="2.8"/><circle cx="317.1" cy="234.0" r="2.8"/><circle cx="389.2" cy="234.0" r="2.8"/><circle cx="418.0" cy="234.0" r="2.8"/><circle cx="201.8" cy="249.3" r="2.8"/><circle cx="302.7" cy="249.3" r="2.8"/><circle cx="317.1" cy="249.3" r="2.8"/><circle cx="403.6" cy="249.3" r="2.8"/><circle cx="446.8" cy="249.3" r="2.8"/><circle cx="187.4" cy="264.5" r="2.8"/><circle cx="216.2" cy="264.5" r="2.8"/><circle cx="245.0" cy="264.5" r="2.8"/><circle cx="345.9" cy="264.5" r="2.8"/><circle cx="403.6" cy="264.5" r="2.8"/><circle cx="230.6" cy="279.7" r="2.8"/><circle cx="245.0" cy="279.7" r="2.8"/><circle cx="259.5" cy="279.7" r="2.8"/><circle cx="360.3" cy="279.7" r="2.8"/><circle cx="374.8" cy="279.7" r="2.8"/><circle cx="446.8" cy="279.7" r="2.8"/><circle cx="216.2" cy="294.8" r="2.8"/><circle cx="230.6" cy="294.8" r="2.8"/><circle cx="345.9" cy="294.8" r="2.8"/><circle cx="245.0" cy="309.9" r="2.8"/><circle cx="374.8" cy="309.9" r="2.8"/><circle cx="418.0" cy="309.9" r="2.8"/><circle cx="100.9" cy="324.9" r="2.8"/><circle cx="129.7" cy="324.9" r="2.8"/><circle cx="418.0" cy="324.9" r="2.8"/><circle cx="129.7" cy="339.9" r="2.8"/><circle cx="158.6" cy="339.9" r="2.8"/><circle cx="288.3" cy="339.9" r="2.8"/><circle cx="57.7" cy="354.9" r="2.8"/><circle cx="129.7" cy="354.9" r="2.8"/><circle cx="144.1" cy="354.9" r="2.8"/><circle cx="173.0" cy="354.9" r="2.8"/><circle cx="273.9" cy="354.9" r="2.8"/><circle cx="302.7" cy="354.9" r="2.8"/><circle cx="317.1" cy="354.9" r="2.8"/><circle cx="72.1" cy="369.8" r="2.8"/><circle cx="100.9" cy="369.8" r="2.8"/><circle cx="129.7" cy="369.8" r="2.8"/><circle cx="144.1" cy="369.8" r="2.8"/><circle cx="158.6" cy="369.8" r="2.8"/><circle cx="187.4" cy="369.8" r="2.8"/><circle cx="259.5" cy="369.8" r="2.8"/><circle cx="273.9" cy="369.8" r="2.8"/><circle cx="302.7" cy="369.8" r="2.8"/><circle cx="86.5" cy="384.7" r="2.8"/><circle cx="115.3" cy="384.7" r="2.8"/><circle cx="144.1" cy="384.7" r="2.8"/><circle cx="173.0" cy="384.7" r="2.8"/><circle cx="331.5" cy="384.7" r="2.8"/><circle cx="72.1" cy="399.5" r="2.8"/><circle cx="100.9" cy="399.5" r="2.8"/><circle cx="129.7" cy="399.5" r="2.8"/><circle cx="158.6" cy="399.5" r="2.8"/><circle cx="374.8" cy="399.5" r="2.8"/><circle cx="389.2" cy="399.5" r="2.8"/><circle cx="43.2" cy="414.3" r="2.8"/><circle cx="100.9" cy="414.3" r="2.8"/><circle cx="288.3" cy="414.3" r="2.8"/><circle cx="86.5" cy="429.1" r="2.8"/><circle cx="115.3" cy="429.1" r="2.8"/><circle cx="144.1" cy="429.1" r="2.8"/><circle cx="273.9" cy="429.1" r="2.8"/><circle cx="317.1" cy="429.1" r="2.8"/><circle cx="57.7" cy="443.8" r="2.8"/><circle cx="100.9" cy="443.8" r="2.8"/><circle cx="86.5" cy="458.4" r="2.8"/><circle cx="57.7" cy="473.0" r="2.8"/><circle cx="86.5" cy="473.0" r="2.8"/><circle cx="144.1" cy="502.2" r="2.8"/><circle cx="173.0" cy="502.2" r="2.8"/></g></g>
<rect x="0" y="0" width="564.0" height="501.2" fill="none" stroke="#000" stroke-width="2"/>
</g>
<g transform="translate(698.0,1186.0)">
<clipPath id="cF"><path d="M76.2,94 86.7,83.6 107.6,104.4 150.4,60.6 194.3,60.6 238.1,13.6 282,13.6 324.8,13.6 346.8,36.6 368.7,36.6 390.6,60.6 412.6,60.6 434.5,83.6 477.3,83.6 499.2,107.6 542.1,107.6 552.5,118 552.5,165 542.1,176.5 520.1,176.5 508.6,188 508.6,211 498.2,222.5 477.3,222.5 465.8,234 465.8,251.1 465.8,278.2 422,322.1 422,370.2 346.8,446.4 324.8,446.4 302.9,468.3 282,447.4 260.1,446.4 249.6,434.9 249.6,349.3 215.2,313.8 194.3,313.8 183.8,324.2 183.8,391 135.8,445.4 129.5,445.4 119.1,434.9 119.1,416.1 107.6,404.6 97.1,416.1 97.1,479.8 87.7,489.2 64.8,489.2 33.4,456.8 33.4,326.3 43.9,315.8 64.8,336.7 75.2,324.2 75.2,302.3 86.7,290.8 108.6,312.7 129.5,290.8 140,280.3 140,255.3 135.8,251.1 97.1,211 97.1,185.9 54.3,142 76.2,119.1Z"/></clipPath>
<g transform="translate(0.0,0.0)">
<g clip-path="url(#cF)" shape-rendering="crispEdges">
<path fill="#0040ff" stroke="#0040ff" stroke-width=".6" d="M201.8,112 207.9,116 209.6,120 208.9,124 206.1,128 200,133.1 196,134.8 192,135 188,133.4 186.7,132 185.6,128 185.7,124 186.8,120 188,118 192,113.9 196,111.6 200,111.4ZM271.5,116 275.2,112 284,109.5 288,109.6 288.4,112 288,112.8 284,116.2 276,117.5Z"/>
<path fill="#0080ff" stroke="#0080ff" stroke-width=".6" d="M305.5,104 306.2,108 305.4,116 302.6,124 296,137.3 292,142.8 286,148 280,151.6 272,154.5 268,155.2 260,155.6 236,152.7 228,152.4 220,154 216,155.8 210.3,160 204,162.7 200,162.3 197.5,160 196,156 188,153.6 184,151.1 180,147.6 176,142.8 174.4,140 173.6,136 175.9,124 180,119.7 182.5,116 183.7,112 184.1,108 188,104.5 200,102.5 208,102.6 212,102 220,99.5 232,100.2 236,99.9 252,96.2 276,93.5 288,94.1 297,96 304,99.9ZM271.5,116 276,117.5 284,116.2 288,112.8 288.4,112 288,109.6 284,109.5 275.2,112ZM201.8,112 200,111.4 196,111.6 192,113.9 188,118 186.8,120 185.7,124 185.6,128 186.7,132 188,133.4 192,135 196,134.8 200,133.1 206.1,128 208.9,124 209.6,120 207.9,116Z"/>
<path fill="#00bfff" stroke="#00bfff" stroke-width=".6" d="M170.2,120 172,118.3 176.9,116 178.9,112 180.8,104 184,101 188,99.9 204,97.6 220,92.1 236,90.4 252,87.2 276,84.8 284,85.1 296,86.8 304,89.7 307.1,92 314.7,100 317.2,104 318.5,108 318.8,120 320,129.2 321.5,132 328,136.8 333.8,144 335.4,148 336,152 335.9,156 335,160 333.2,164 328.2,172 327.5,176 324,180.5 322.3,180 320,177.3 316,167.5 312,164.1 308,164.7 303.3,168 296,176.1 289.7,184 284,192.7 280.8,196 276,198.5 271.4,200 264,201.1 260,199.7 256.3,196 252,187.9 248,182.9 244.3,180 240,177.9 236,176.8 232,177 226.9,180 224.7,184 224,186.5 222.3,188 220,188.7 200,181 192,176.7 188,173.8 182.2,168 176,159.9 168,144.4 166.3,140 166.6,136 168.9,132 169.8,128 169.3,124ZM305.5,104 304,99.9 297,96 288,94.1 276,93.5 252,96.2 236,99.9 232,100.2 220,99.5 212,102 208,102.6 200,102.5 188,104.5 184.1,108 183.7,112 182.5,116 180,119.7 175.9,124 173.6,136 174.4,140 176,142.8 180,147.6 184,151.1 188,153.6 196,156 197.5,160 200,162.3 204,162.7 210.3,160 216,155.8 220,154 228,152.4 236,152.7 260,155.6 268,155.2 272,154.5 280,151.6 286,148 292,142.8 296,137.3 302.6,124 305.4,116 306.2,108ZM232,207.4 236,207.6 240,209.9 241.7,212 244,216 245.1,220 246,228 247.1,232 252.5,244 252.7,248 249.6,260 246.5,268 246.3,272 244,276.8 240,276.1 236,273.8 230.4,268 228,263.9 226.5,260 225.8,256 226.4,244 224.6,220 224.8,216 226.2,212 228,209.6ZM288,214.2 292,213.8 296,214.8 304,218.8 308,223.5 309,228 308,233.2 304,241 300,244.3 292,246.7 288,246.8 284,246 279.8,244 276.1,240 274.9,236 275.1,232 278.2,224 284,216.7ZM260,310.6 261.5,312 260,315.4 259,312Z"/>
<path fill="#00ffff" stroke="#00ffff" stroke-width=".6" d="M296,77.8 304,79.3 308,80.8 313.6,84 324.9,92 332,98.8 336.4,104 346.7,124 347.8,128 348.5,136 348.8,152 348.2,156 346.8,160 344.3,164 335.6,172 333.2,184 332,187.4 322.8,200 321.4,204 320.4,216 320.3,228 315.3,236 312.5,244 309.8,248 300,256 297.2,260 296,268.8 292,271.5 288,273.2 284,273.8 276,273.1 264,270 259.8,272 263.9,280 265.1,292 266.4,296 270.3,304 273.4,312 275.7,316 279,320 279.2,324 276,331.5 272,337.1 268,334.2 267,332 264,329 260,327 256,324 252.7,320 249.4,312 248,303.1 240,294.7 236,289.3 231.5,280 228,276.2 221.3,272 220,270.1 214.1,252 211.4,240 208.7,232 208.3,228 209.3,220 208,218.3 204,216.6 192,212.9 188,210.8 184.8,208 183.1,204 183.5,196 182,192 170,176 168,172 167.4,164 164.3,152 161.2,144 160.5,140 160.8,136 164.4,128 165.7,120 168,116.6 173.5,112 176.9,104 179.8,100 184,97.4 188,96.3 200,94.5 216,87.7 240,82.4 276,77.5 284,77.2ZM260,310.6 259,312 260,315.4 261.5,312ZM170.2,120 169.3,124 169.8,128 168.9,132 166.6,136 166.3,140 168,144.4 176,159.9 182.2,168 188,173.8 192,176.7 200,181 220,188.7 222.3,188 224,186.5 224.7,184 226.9,180 232,177 236,176.8 240,177.9 244.3,180 248,182.9 252,187.9 256.3,196 260,199.7 264,201.1 271.4,200 276,198.5 280.8,196 284,192.7 289.7,184 296,176.1 303.3,168 308,164.7 312,164.1 316,167.5 320,177.3 322.3,180 324,180.5 327.5,176 328.2,172 333.2,164 335,160 335.9,156 336,152 335.4,148 333.8,144 328,136.8 321.5,132 320,129.2 318.8,120 318.5,108 317.2,104 314.7,100 307.1,92 304,89.7 296,86.8 284,85.1 276,84.8 252,87.2 236,90.4 220,92.1 204,97.6 188,99.9 184,101 180.8,104 178.9,112 176.9,116 172,118.3ZM232,207.4 228,209.6 226.2,212 224.8,216 224.6,220 226.4,244 225.8,256 226.5,260 228,263.9 230.4,268 236,273.8 240,276.1 244,276.8 246.3,272 246.5,268 249.6,260 252.7,248 252.5,244 247.1,232 246,228 245.1,220 244,216 241.7,212 240,209.9 236,207.6ZM292,213.8 288,214.2 284,216.7 278.2,224 275.1,232 274.9,236 276.1,240 280,244.1 284,246 288,246.8 292,246.7 296,245.9 300.5,244 304,241 308,233.2 309,228 308,223.5 304,218.8 296,214.8Z"/>
<path fill="#40ffbf" stroke="#40ffbf" stroke-width=".6" d="M312,69.4 320,72.9 325.1,76 330,80 349.9,104 360.5,124 364.1,140 364.8,148 361.9,160 360,164.5 352,175 344,179.6 341.9,184 339.8,196 332.7,204 332,212 327.3,228 321,236 321.8,240 320.7,244 318.4,248 310.1,256 306.7,260 301.3,276 300.6,280 301.3,288 300,290.5 291.2,296 287.3,300 284.9,304 283.4,308 283.1,312 286.5,316 288.7,320 287.9,324 284.6,332 284.1,336 285,352 284.5,356 284,356.9 276,362.6 272,362.5 268,357.7 264.7,352 256,342.2 251.2,332 246.5,324 244,317.2 238.2,308 231.7,300 223.4,284 220,280.6 216,278.7 213.5,276 211.5,272 208,261.5 205.3,256 201.5,244 197.7,236 196,233.6 185.4,224 172,213.8 167.6,208 162,192 156,181.3 154.1,176 154.6,172 156.7,168 157,164 153.7,144 153.5,136 154.5,132 160,122.3 162.6,116 170.4,108 176,98.8 180,95.4 184,93.5 196,91.1 200,89.7 208,84.7 212,83 228,78.2 236,76.3 252,74.5 288,69.3 300,68.8ZM296,77.8 284,77.2 276,77.5 240,82.4 216,87.7 200,94.5 188,96.3 184,97.4 179.8,100 176.9,104 173.5,112 168,116.6 165.7,120 164.4,128 160.8,136 160.5,140 161.2,144 164.3,152 167.4,164 168,172 170,176 182,192 183.5,196 183.1,204 184.8,208 188,210.8 192,212.9 204,216.6 208,218.3 209.3,220 208.3,228 208.7,232 211.4,240 214.1,252 220,270.1 221.3,272 228,276.2 231.5,280 236,289.3 240,294.7 248,303.1 249.4,312 252.7,320 256,324 260,327 264,329 267,332 268,334.2 272,337.1 276,331.5 279.2,324 279,320 275.7,316 273.4,312 270.3,304 266.4,296 265.1,292 263.9,280 259.8,272 264,270 276,273.1 284,273.8 288,273.2 292,271.5 296,268.8 297.2,260 300,256 309.8,248 312.5,244 315.3,236 320.3,228 320.4,216 321.4,204 322.8,200 332,187.4 333.2,184 335.6,172 344.3,164 346.8,160 348.2,156 348.8,152 348.5,136 347.8,128 346.7,124 336.4,104 332,98.8 324.9,92 313.6,84 308,80.8 304,79.3ZM296,383.3 300,384.1 304,386.5 305.5,388 307.6,392 309.5,400 310.4,416 308.9,436 307.3,440 304,442.5 300,441.5 296,437.3 295.3,436 292.5,420 292.1,408 291.1,400 291.5,392 292.1,388 294.7,384Z"/>
<path fill="#80ff80" stroke="#80ff80" stroke-width=".6" d="M300,59.8 312,60.1 320,61.4 328,64.2 332,66.5 336,70.3 343.6,84 356,98.3 365.2,112 369.1,120 372.2,128 375.4,144 375.4,148 374.1,156 370.9,164 364,176.1 351.6,188 347,200 341.7,208 340,211.9 335.7,228 331.8,236 329.1,244 323.2,252 320,255.6 314.8,260 312.1,264 308.2,280 307.7,288 301.9,304 301.2,308 296.9,316 294.7,324 290.7,332 290,336 292.7,348 293.7,356 296,360.3 300,364.5 305.2,376 312,384.7 315.3,392 317.6,404 318.5,428 321.1,440 319.9,452 316,461.9 312,467.1 308,469.9 304,471.1 300,470.8 296,468.8 292.3,464 290.9,460 289.6,452 286.1,440 285.1,432 280.8,416 276,406.4 270.1,400 269.7,396 272,394.1 280,394.5 280.8,392 280,390.7 276,387.7 273.6,384 268,380.3 260,379.9 256,378.2 253.8,376 250.9,368 252,366.7 256,364.6 257.2,360 256,357.8 249.7,352 246.8,348 245.5,344 243.1,332 240.6,328 237.2,324 233.7,316 225.2,304 220,294.6 212,288 209.1,284 200,265.2 196.1,256 193.3,252 178.1,236 172.1,228 164,223.1 160.1,220 157.1,216 155.5,212 152.9,200 145.3,180 144.5,172 144.7,160 143.1,148 141.8,132 142.6,128 144.8,124 148,120.2 156,113.6 176,93.2 180,90.6 184,89.1 189,88 196,84.4 208,77.2 220,73 240,68.6 260,66.1 272,65.4 288,61ZM296,383.3 294.7,384 292.1,388 291.5,392 291.1,400 292.1,408 292.5,420 295.3,436 296,437.3 300,441.5 304,442.5 307.3,440 308.9,436 310.4,416 309.5,400 307.6,392 305.5,388 304,386.5 300,384.1ZM312,69.4 300,68.8 288,69.3 252,74.5 236,76.3 228,78.2 212,83 208,84.7 200,89.7 196,91.1 184,93.5 180,95.4 176,98.8 170.4,108 162.6,116 160,122.3 154.5,132 153.5,136 153.7,144 157,164 156.7,168 154.6,172 154.1,176 156,181.3 162,192 167.6,208 172,213.8 185.4,224 196,233.6 197.7,236 201.5,244 205.3,256 208,261.5 211.5,272 213.5,276 216,278.7 220,280.6 223.4,284 231.7,300 238.2,308 244,317.2 246.5,324 251.2,332 256,342.2 264.7,352 268,357.7 272,362.5 276,362.6 284,356.9 284.5,356 285,352 284.1,336 284.6,332 287.9,324 288.7,320 286.5,316 283.1,312 283.4,308 284.9,304 287.3,300 291.2,296 300,290.5 301.3,288 300.6,280 301.3,276 306.7,260 310.1,256 318.4,248 320.7,244 321.8,240 321,236 327.3,228 332,212 332.7,204 339.8,196 341.9,184 344,179.6 352,175 360,164.5 361.9,160 364.8,148 364.1,140 360.5,124 349.9,104 330,80 325.1,76 320,72.9Z"/>
<path fill="#bfff40" stroke="#bfff40" stroke-width=".6" d="M324,51.6 332,53.7 336,55.8 341.9,60 344.9,64 346.4,68 347.9,76 349.2,80 352,83.1 358.7,88 362.9,92 368.6,100 372,105.5 382.5,128 385.6,144 385.4,148 383.2,156 380,164.2 377.9,168 369.4,180 359.5,192 356.9,196 354.2,204 346.8,216 336,245.6 334.7,248 328.4,256 324.5,264 320,271 316.8,280 313.8,296 310.6,304 309,320 306,324 300,329.4 298.1,332 297,336 300,342.1 308,352.7 312.3,360 314.1,364 315.2,368 316.6,376 320.8,384 323.5,392 325,404 325.6,428 328.9,440 330.2,456 329.6,468 326.6,480 324,486.3 320,493 316,498.1 309.3,504 266.5,504 263.5,500 261.5,496 260.5,492 260,488 260.6,480 262.8,472 266.2,464 273.3,452 280,442.6 280.8,440 280,437.3 271,428 262.2,416 251.9,408 248.8,404 247.5,400 247.7,396 249.1,392 252,388 253.3,384 252,382.4 244,378.3 241.3,376 238.7,372 237.3,368 236.6,364 235.6,348 236.2,336 234.8,332 228.6,324 215.8,304 212,301.1 208,299.4 203.9,296 200.8,284 194.3,272 190.9,268 191.8,264 190.9,260 188,257.1 180,253 168,239.6 160,233.9 156.4,232 146.4,224 143.5,220 142.9,216 142.9,204 134.9,184 132.9,172 129.3,160 129.5,140 128.2,124 128.6,120 130.2,116 133.7,112 136,110.6 148,107.3 156,104.1 160,101.7 172,90.2 176,87.2 188.8,80 200,71.3 207.7,68 216,65.5 220,64.9 228,65.4 232,65.1 244,62.4 252,59.7 272,57.4 284,53.3 292,51.5 304,51ZM300,59.8 288,61 272,65.4 260,66.1 240,68.6 220,73 208,77.2 196,84.4 189,88 184,89.1 180,90.6 176,93.2 156,113.6 148,120.2 144.8,124 142.6,128 141.8,132 143.1,148 144.7,160 144.5,172 145.3,180 152.9,200 155.5,212 157.1,216 160.1,220 164,223.1 172.1,228 178.1,236 193.3,252 196.1,256 200,265.2 209.1,284 212,288 220,294.6 225.2,304 233.7,316 237.2,324 240.6,328 243.1,332 245.5,344 246.8,348 249.7,352 256,357.8 257.2,360 256,364.6 252,366.7 250.9,368 253.8,376 256,378.2 260,379.9 268,380.3 273.6,384 276,387.7 280,390.7 280.8,392 280,394.5 272,394.1 269.7,396 270.1,400 276,406.4 280.8,416 285.1,432 286.1,440 289.6,452 290.9,460 292.3,464 296,468.8 300,470.8 304,471.1 308,469.9 312,467.1 316,461.9 319.9,452 321.1,440 318.5,428 317.6,404 315.3,392 312,384.7 305.2,376 300,364.5 296,360.3 293.7,356 292.7,348 290,336 290.7,332 294.7,324 296.9,316 301.2,308 301.9,304 307.7,288 308.2,280 312.1,264 314.8,260 320,255.6 323.2,252 329.1,244 331.8,236 335.7,228 340,211.9 341.7,208 347,200 351.6,188 364,176.1 370.9,164 374.1,156 375.4,148 375.4,144 372.2,128 369.1,120 365.2,112 356,98.3 343.6,84 336,70.3 332,66.5 328,64.2 320,61.4 312,60.1Z"/>
<path fill="#ffff00" stroke="#ffff00" stroke-width=".6" d="M336,41.1 346.1,52 354.5,60 356.9,64 359,72 361.3,76 369.9,84 373,88 378.9,100 385.6,116 390.2,124 392.8,132 395.3,144 395.1,148 393.9,152 383.7,172 376.4,180 373.4,184 364,199.6 361.7,208 355.1,220 353.6,228 351.7,232 348,235.5 344.5,240 341.3,248 335.1,256 334,260 333.5,268 327.8,276 324,284 323,288 323.3,300 316.6,332 317.7,336 321.2,344 327.9,368 332.1,388 332.9,400 332.2,416 333.3,428 336.2,440 342.7,460 345.6,472 347.9,488 348.7,504 309.3,504 316,498.1 320,493 325,484 327.9,476 329.6,468 330.2,460 330.1,452 328.9,440 325.6,428 324.8,400 322.4,388 316.6,376 315.2,368 314.1,364 312.3,360 308,352.7 300,342.1 297,336 298.1,332 300,329.4 306,324 309,320 310.6,304 313.8,296 316.8,280 319.5,272 324.5,264 328.4,256 334.7,248 336,245.6 346.8,216 354.2,204 356.9,196 359.5,192 369.4,180 377.9,168 380,164.2 384.5,152 385.4,148 385.6,144 382.5,128 372,105.5 362.9,92 358.7,88 352,83.1 349.2,80 347.9,76 346.4,68 344.9,64 341.9,60 336,55.8 328,52.3 320,51.4 304,51 289.2,52 284,53.3 272,57.4 252,59.7 244,62.4 232,65.1 228,65.4 220,64.9 216,65.5 204,69.4 200,71.3 188,80.5 176,87.2 172,90.2 160,101.7 152,106 136,110.6 133.7,112 130.2,116 128.6,120 128.2,124 129.4,136 129.3,160 132.9,172 134.9,184 142.9,204 142.9,216 143.5,220 146.4,224 156.4,232 160,233.9 168,239.6 180,253 188,257.1 190.9,260 191.8,264 190.9,268 194.3,272 200.8,284 203.9,296 208,299.4 212,301.1 215.8,304 228.6,324 234.8,332 236.2,336 235.6,348 236.6,364 237.3,368 238.7,372 241.3,376 244,378.3 252,382.4 253.3,384 252,388 249.1,392 247.7,396 247.5,400 248.8,404 251.9,408 262.2,416 271,428 280,437.3 280.8,440 280,442.6 273.3,452 266.2,464 262.8,472 260.6,480 260,488 260.5,492 261.5,496 263.5,500 266.5,504 91.7,504 88,497.7 84.1,488 83.8,484 86.7,472 87.2,460 89.1,452 89.2,448 84,438 81.6,432 79.3,424 78.6,420 78.8,416 80,411.9 85.1,400 94.6,372 103.2,356 106.1,348 108.4,344 112,340.8 116,339.5 128,340.5 136,339.9 140,341.2 164,360.9 165,364 164.6,368 166,380 165.9,384 163.9,392 165.2,396 168,399 172,401.2 180,404.1 188,405.4 196,404.7 200,403.3 204.9,400 208,396.5 210.6,392 212.2,388 214.2,380 218.2,348 218.4,340 216.2,332 212,323.8 204,313.8 200,307.5 190,284 188,281.8 184,281.8 180,280.8 179.4,280 179.5,276 182.4,272 183.4,268 182.6,264 175.5,260 172,256.8 168,251.5 164,247.7 160,245.4 156,244.1 152,242.1 149.8,240 147.3,236 138.5,228 136.1,224 134.2,216 129.7,208 128.8,196 123,184 115.6,164 115.4,156 116.9,140 115.5,120 116.1,116 120.6,104 124,98.6 128,95.6 132,94.8 148,97.5 152,97.4 156,96.5 160,94.2 168,85.8 180.2,76 192,65.3 196,62.5 200,60.9 216,58 220,58.1 228,60.1 236,59.7 244,57.1 252,52.8 268,46.3 280,42.8 284,42.5 292,42.9 304,40.5 324,39.3 332,39.4ZM410.4,68 412,66.4 413.7,68 412,69.6Z"/>
<path fill="#ffbf00" stroke="#ffbf00" stroke-width=".6" d="M440,43.4 444.2,48 446.4,52 447.7,56 448.3,60 448,64 447,68 445,72 440,77.4 436.6,80 432,82.4 424,85.4 420,86.3 412,86.1 396,80.2 392,80 388.4,84 387.2,92 391.1,108 394.3,116 401.2,124 405.8,132 408.4,140 407.8,148 406.7,152 403.8,156 396,164.4 392,170 388.7,176 380,183.4 377.3,188 375.9,192 374.3,200 371.1,208 369.5,216 370.3,224 374.3,240 372,244.1 368,247.8 364,246 352,250.3 348,252.5 344.4,256 342.3,260 340.8,268 336.3,280 334.2,288 334.6,300 333.5,308 333.7,324 332.9,332 337.8,356 340,376 341.9,388 342.2,404 340.6,416 342,428 344.4,436 348,443.2 366,472 384.9,504 348.7,504 347.9,488 345.6,472 342.7,460 336.2,440 333.3,428 332.2,416 332.9,400 332.1,388 327.9,368 321.2,344 317.7,336 316.6,332 323.3,300 323,288 324,284 327.8,276 333.5,268 334,260 335.1,256 341.3,248 344.5,240 348,235.5 351.7,232 353.6,228 355.1,220 361.7,208 364,199.6 373.4,184 376.4,180 383.7,172 393.9,152 395.1,148 395.3,144 392.8,132 390.2,124 385.6,116 378.9,100 373,88 369.9,84 361.3,76 359,72 356.9,64 354.5,60 346.1,52 336,41.1 332,39.4 328,39.2 304,40.5 292,42.9 284,42.5 280,42.8 268,46.3 252,52.8 244,57.1 236,59.7 228,60.1 220,58.1 216,58 200,60.9 196,62.5 192,65.3 180.2,76 168,85.8 160,94.2 156,96.5 152,97.4 148,97.5 132,94.8 128,95.6 124,98.6 120.6,104 116.1,116 115.5,120 116.9,140 115.4,156 115.6,164 123,184 128.8,196 129.7,208 134.2,216 136.1,224 138.5,228 147.3,236 149.8,240 152,242.1 156,244.1 160,245.4 164,247.7 168,251.5 172,256.8 175.5,260 182.6,264 183.4,268 182.4,272 179.5,276 179.4,280 180,280.8 184,281.8 188,281.8 190,284 200,307.5 204,313.8 212,323.8 214.3,328 217.6,336 218.4,340 217.8,352 214.2,380 212.2,388 210.6,392 208,396.5 204.9,400 200,403.3 196,404.7 188,405.4 180,404.1 172,401.2 168,399 165.2,396 163.9,392 165.9,384 166,380 164.6,368 165,364 164,360.9 140,341.2 136,339.9 128,340.5 116,339.5 112,340.8 108.4,344 106.1,348 103.2,356 94.6,372 85.1,400 80,411.9 78.8,416 78.6,420 79.3,424 81.6,432 84,438 89.2,448 89.1,452 87.2,460 86.7,472 83.8,484 84.1,488 88,497.7 91.7,504 74.4,504 74.6,496 76,484 76.1,468 75,460 72.1,448 73,444 73.1,440 70.2,428 69.1,420 69.1,416 70.3,408 74.2,396 80.2,368 84,355.4 92.1,344 100,334.4 104,330.7 114,324 116.3,320 114.7,316 112,312.2 108,308.8 104,308 100,308.6 96,310 92,310.3 84,308.7 79.3,304 79.2,300 80,298 84,293.5 88,291.6 92,290.8 108,290.5 120,287.6 128,286.5 132,286.6 136,287.7 140,290.1 144,293.4 148,295.4 152,296.3 156,296.2 160,295.3 168.7,292 172.2,288 172.8,272 172.2,268 168,264.1 162.9,256 160,253.6 144.8,248 139,244 132,235.3 128,228.8 126.3,224 125.8,220 124,216 116,212.2 112.5,208 111.5,204 111.3,192 105.5,172 104.1,160 104.4,152 106.2,136 105.9,124 107.1,112 109.9,100 111.7,96 114.3,92 120,86.6 124,84.3 132,81.9 140,81.9 152,85.9 156,86.2 157.2,84 160.8,80 175.4,68 184,58.5 188,55.4 192,53.1 196,51.9 204,51.1 216,51.6 228,55.4 232,55.9 236,55.4 240,54.1 243.8,52 249,48 252.9,44 260,30.9 268,24.8 276,17.5 280,17.4 283.9,20 288,24.2 292,26.3 312,26.3 328,25 336,26 340,27.4 344,29.7 346.8,32 350.3,36 355.4,44 364.7,56 370.6,68 372,69.3 376,71.1 380,71.9 384,71.5 386.8,68 391.5,56 396.6,48 400.6,44 408,39.3 416,37 424,36.7 432,38.6 436,40.6ZM412,66.4 410.4,68 412,69.6 413.7,68ZM168.2,344 168.1,348 169.7,352 172,354.5 176,355.8 180,354.8 184,352.2 186.2,348 185.9,344 184,341.1 180,338.6 176,338.4 172,339.6Z"/>
<path fill="#ff8000" stroke="#ff8000" stroke-width=".6" d="M106.6,76 112,71.2 116,68.5 124,64.4 136,60.4 156,56.9 160,55.6 164,53.6 180,43.1 184,41.2 192,38.9 200,38.3 204,38.6 212,40.4 216,41.8 220,44 228,49.4 232,51.1 236,51.1 241.5,48 244.1,44 245.2,40 244.8,36 244,33.8 239.9,28 237.8,24 238.3,20 240,15.8 244,10.5 248,7.2 252,4.8 264,-0.4 272,-2.6 276,-3.2 284,-3.4 304,-0.5 312,-0.1 336,-1.7 368,-1.3 376,-2.5 381.8,-4 564,-4 564,294.8 548.7,276 543.8,268 540.1,260 536,246 530.9,220 527,204 515.5,172 514.8,168 515.4,164 516.9,160 520,154.4 524,149 533.1,140 535.9,136 536.1,132 530,116 526.2,104 524,99.5 520,94.9 516,92.5 512,91.4 508,91.4 500,93.8 496,96.1 485.5,104 472,112.7 468,116.1 465.1,120 458.9,136 456.6,144 456.7,148 458.7,156 458.3,160 456,166.1 452,170.4 448,171.6 440,170.7 428,170.9 412,169.7 404,170.8 400,172.2 396,174.5 392,180 384,186.7 383.3,188 382.4,200 379.4,212 379.3,216 384.4,240 384,244 381.1,252 380.4,256 380.2,264 378.5,268 368,281.7 359.5,288 356.3,292 354.2,296 351.5,304 350.8,316 350,320 347.1,328 346.8,332 349.6,340 350.9,348 351.1,368 349.8,376 351.1,388 354.5,396 354.9,400 354.2,404 350.8,416 350.2,420 350.5,424 352.1,428 356,433.6 364,441.8 372,448.5 384,457.3 396,464.9 408,471.5 420,477.3 444,486.7 456,490.3 472,493.8 484,495.6 496,496.6 508,496.8 520,496 532,494.3 544,491.4 554.1,488 564,483.7 564,504 384.9,504 366,472 348,443.2 344,435 341.3,424 340.6,416 342.2,404 341.9,388 340,376 337.8,356 332.9,332 333.7,324 333.5,308 334.6,300 334.2,288 335.1,284 340.8,268 342.3,260 344.4,256 348,252.5 352,250.3 364,246 368,247.8 372,244.1 374.3,240 370.3,224 369.5,216 371.1,208 374.3,200 375.9,192 377.3,188 380,183.4 388.7,176 392,170 396,164.4 403.8,156 406.7,152 407.8,148 408.4,140 405.8,132 401.2,124 394.3,116 391.1,108 387.2,92 388.4,84 392,80 396,80.2 408,85 416,86.5 424,85.4 432,82.4 436.6,80 440,77.4 445,72 447,68 448,64 448.3,60 447.7,56 446.4,52 444.2,48 440.7,44 436,40.6 428,37.4 424,36.7 416,37 408,39.3 404,41.5 400,44.5 396.6,48 391.5,56 386.8,68 384,71.5 380,71.9 376,71.1 372,69.3 370.6,68 364.7,56 355.4,44 350.3,36 346.8,32 341,28 336,26 328,25 312,26.3 292,26.3 288,24.2 283.9,20 280,17.4 276,17.5 268,24.8 260,30.9 252.9,44 249,48 243.8,52 240,54.1 236,55.4 232,55.9 228,55.4 220,52.5 212,51.2 200,51.2 192,53.1 188,55.4 184,58.5 175.4,68 160.8,80 157.2,84 156,86.2 152,85.9 140,81.9 132,81.9 124,84.3 120,86.6 116,90 111.7,96 108.7,104 106.6,116 105.9,124 106.2,136 104.4,152 104.1,160 105.5,172 111.3,192 111.5,204 112.5,208 116,212.2 124,216 125.8,220 126.3,224 128,228.8 132,235.3 139,244 144.8,248 160,253.6 162.9,256 168,264.1 172.2,268 172.8,272 172.2,288 168.7,292 160,295.3 156,296.2 152,296.3 148,295.4 144,293.4 140,290.1 136,287.7 132,286.6 128,286.5 120,287.6 108,290.5 92,290.8 88,291.6 84,293.5 80,298 79.2,300 79.3,304 84,308.7 92,310.3 96,310 100,308.6 104,308 108,308.8 112,312.2 114.7,316 116.3,320 114,324 104,330.7 100,334.4 92.1,344 83.7,356 80.2,368 74.2,396 70.3,408 69.1,416 69.5,424 73.1,440 73,444 72.1,448 75,460 76.1,468 76,484 74.6,496 74.4,504 57.2,504 64.7,484 66,476 66,472 65.3,468 62.9,460 61.4,452 61.2,448 62,440 58.9,424 58.4,416 59,408 68.2,372 72.3,348 73.8,344 81.9,332 82.2,328 78.9,324 69.7,316 66.5,312 64.3,308 61.9,300 61.5,296 62.2,288 64,281.9 66.7,276 72.3,268 76,264 84,257.1 103.5,244 107,240 108.8,236 108.6,232 106.2,228 102.5,224 96,219.2 92,214.6 90.4,212 88.8,208 87.7,200 89.9,164 95.5,144 98.1,128 98,124 93.3,108 93.3,104 95,96 98.2,88 103.1,80ZM168.2,344 172,339.6 176,338.4 180,338.6 184,341.1 185.9,344 186.2,348 184,352.2 180,354.8 176,355.8 172,354.5 169.7,352 168.1,348Z"/>
<path fill="#ff4000" stroke="#ff4000" stroke-width=".6" d="M381.8,-4 372,-1.8 364,-1.1 340,-1.7 308,-0.2 288,-3 280,-3.5 276,-3.2 268,-1.6 256,2.8 248,7.2 244,10.5 239.9,16 238.3,20 237.8,24 239.9,28 244,33.8 244.8,36 245.2,40 244.1,44 241.5,48 240,49.2 236,51.1 232,51.1 225.5,48 216,41.8 212,40.4 204,38.6 200,38.3 192,38.9 184,41.2 180,43.1 164,53.6 160,55.6 156,56.9 136,60.4 124,64.4 116,68.5 112,71.2 108,74.6 103.1,80 100,84.6 96.4,92 93.3,104 93.3,108 98,124 98.1,128 95.5,144 89.9,164 87.7,200 88.8,208 90.4,212 92,214.6 96,219.2 102.5,224 106.2,228 108.6,232 108.8,236 107,240 103.5,244 84,257.1 76,264 72,268.3 68,273.8 63.2,284 61.6,292 61.5,296 62.8,304 64.3,308 66.5,312 69.7,316 78.9,324 82.2,328 81.9,332 73.8,344 72.3,348 68.2,372 59,408 58.4,416 58.9,424 62,440 61.2,448 61.4,452 66,472 65.6,480 64,486.3 57.2,504 30.1,504 44,481.2 46.3,476 47.2,472 47.8,460 46.5,452 45.6,440 46.6,420 46.5,408 49.8,392 51.2,388 56.9,376 59.9,368 60.6,364 62.3,340 61.5,336 60,332.9 56,328.2 51.2,324 47.6,320 45.2,316 41.7,308 39.3,300 38,292 37.4,284 38.1,272 41.4,256 48.5,232 51.4,220 58.8,176 61.2,164 63.5,156 65.2,152 68.4,148 72,145.9 76,145.8 80,146.4 84,145.6 85.4,144 86.5,140 84,134.2 75.1,128 72.4,124 71.1,120 70.1,112 70.9,100 73.9,88 78.3,76 85.2,64 92,55.8 100,48.5 108,42.8 116,38.3 132,31.4 196.5,8 204.1,4 213.5,-4ZM236,42.9 234.7,44 236,44.7 236.5,44ZM512,91.4 516,92.5 520,94.9 524,99.5 526.2,104 530,116 536.1,132 535.9,136 533.1,140 524,149 520,154.4 516.9,160 515.4,164 514.8,168 515.5,172 527,204 530.9,220 536,246 540.1,260 543.8,268 548.7,276 564,294.8 564,483.7 548,490.2 532,494.3 516,496.4 500,496.8 484,495.6 464,492.2 444,486.7 428,480.8 412,473.5 392,462.4 376,451.6 368,445.3 360,438 356,433.6 352.1,428 350.5,424 350.2,420 350.8,416 354.2,404 354.9,400 354.5,396 351.1,388 349.8,376 351.1,368 350.9,348 349.6,340 346.8,332 347.1,328 350,320 350.8,316 351.5,304 354.2,296 356.3,292 359.5,288 368,281.7 378.5,268 380.2,264 380.4,256 381.1,252 384,244 384.4,240 379.3,216 379.4,212 382.4,200 383.3,188 384,186.7 392,180 396,174.5 400,172.2 404,170.8 412,169.7 428,170.9 440,170.7 448,171.6 452,170.4 456,166.1 458.3,160 458.7,156 456.7,148 456.6,144 457.5,140 465.1,120 468,116.1 472,112.7 500,93.8 508,91.4ZM448,203.2 444,202.6 440,203.5 436,206.5 429.9,216 428.3,220 427,228 425.2,232 424,233.4 420,235.9 416,236.3 408,234.8 405,232 401.7,216 400,210.6 396,208.5 392,209.7 389.6,212 388,214.8 388,219.2 389,224 392,230.2 396,233.2 402.6,236 403.5,240 403.5,252 404.2,260 403.4,264 397.5,276 394.7,280 392,282 384,284.9 380,287.2 376,291.4 373.4,296 370.2,304 365.4,312 364.7,316 365.6,324 368.7,332 369.8,336 370.2,340 367.6,352 367.5,356 368.8,368 368.5,372 367.2,376 367.9,384 367.9,396 366.1,412 366.4,416 368.2,420 372,423.3 380,426.5 392,428.1 404,427 414,424 424,418.5 431.9,412 446.1,396 461.6,380 468,371.4 473.4,360 475.3,352 475.9,344 475.2,336 473.2,328 467.7,316 453.5,296 451.5,292 450.3,284 450.5,276 452.6,268 456,261.1 460.3,256 465.6,248 467.1,244 467.4,240 466.4,236 460.9,224 457.2,212 454.8,208 452,205.4ZM496,148.4 492,148.8 487.5,152 484.6,156 482.9,160 482.1,164 482.2,172 483.4,176 485.8,180 488,182.5 492,184.9 496,184.7 500,180.7 501.1,176 500.7,168 501.7,156 500,150.9ZM392,255 389.7,256 392,258.5 393.4,256Z"/>
<path fill="#ff0000" stroke="#ff0000" stroke-width=".6" d="M213.5,-4 204.1,4 196.5,8 128,32.9 112,40.5 100,48.5 92,55.8 84,65.8 78.3,76 73.9,88 70.9,100 70.1,108 70.4,116 72.4,124 75.1,128 84,134.2 86.5,140 85.4,144 84,145.6 80,146.4 76,145.8 72,145.9 68.4,148 65.2,152 63.5,156 61.2,164 58.8,176 51.4,220 48.5,232 40.4,260 37.7,276 37.4,284 38,292 39.3,300 41.7,308 45.2,316 47.6,320 51.2,324 56,328.2 60,332.9 61.5,336 62.3,340 60.6,364 59.9,368 56.9,376 51.2,388 49.8,392 46.5,408 46.6,420 45.6,440 46.5,452 47.8,460 47.2,472 46.3,476 44,481.2 30.1,504 -4,504 -4,484.8 4,474.1 10.3,464 14.1,456 18.1,444 23.3,420 25.1,400 26.9,392 28.6,388 31.4,384 36,380.7 44,376.6 48.4,372 50.4,368 51.3,364 51.1,356 53.3,348 53,344 50.3,340 48,338.5 40,337.8 35.7,336 30.5,332 26.6,328 17.8,316 11.6,304 6.3,288 4,276 2.7,260 2.9,248 4.3,232 6.7,216 9.8,200 16.9,172 29.2,132 35.9,88 38.9,76 44.8,60 50.9,48 55.8,40 61.6,32 68,24.4 76,16.2 84,9.1 101.9,-4ZM234.7,44 236,42.9 236.5,44 236,44.7ZM496,148.4 500,150.9 501.7,156 500.7,168 501.1,176 500,180.7 496,184.7 492,184.9 488,182.5 485.8,180 483.4,176 482.2,172 482.1,164 482.9,160 484.6,156 487.5,152 492,148.8ZM448,203.2 452,205.4 454.8,208 457.2,212 460.9,224 466.4,236 467.4,240 467.1,244 465.6,248 460.3,256 456,261.1 452.6,268 450.5,276 450.3,284 451.5,292 453.5,296 467.7,316 473.2,328 475.2,336 475.9,344 475.3,352 473.4,360 468,371.4 461.6,380 446.1,396 431.9,412 424,418.5 414,424 404,427 392,428.1 380,426.5 372,423.3 368.2,420 366.4,416 366.1,412 367.9,396 367.9,384 367.2,376 368.5,372 368.8,368 367.5,356 367.6,352 370.2,340 369.8,336 368.7,332 365.6,324 364.7,316 365.4,312 370.2,304 373.4,296 376,291.4 380,287.2 384,284.9 392,282 394.7,280 397.5,276 403.4,264 404.2,260 403.5,252 403.5,240 402.6,236 396,233.2 392,230.2 389,224 388,219.2 388,214.8 389.6,212 392,209.7 396,208.5 400,210.6 401.7,216 405,232 408,234.8 416,236.3 420,235.9 424,233.4 425.2,232 427,228 428.3,220 429.9,216 436,206.5 440,203.5 444,202.6ZM424,290.1 412,288.1 408,288.1 404,288.8 396,291.4 388,292.7 384,294.6 382.4,296 379.9,300 379.2,304 380.2,308 376.3,316 375.7,320 376.3,324 380,333.8 381.6,340 378,352 378.2,356 379.7,360 384,366.2 388,370.3 392,371.2 396,370.7 400,369.5 402.4,368 416,355.8 420,353.8 428,351.1 433.7,348 438.2,344 441,340 442.8,336 444.2,328 443.3,320 442.2,316 438.4,308 428,293.7ZM436,256.2 432,256.1 428,257.6 424,261.9 421,268 420.4,272 421,276 424,283.2 428,286.4 432,287.2 436,285.8 440,281.7 442.3,276 443,268 442.4,264 440,258.7ZM389.7,256 392,255 393.4,256 392,258.5Z"/>
<path fill="#bf0000" stroke="#bf0000" stroke-width=".6" d="M101.9,-4 84,9.1 76,16.2 68,24.4 61.6,32 55.8,40 50.9,48 44.8,60 38.9,76 35.9,88 29.2,132 16.9,172 9.8,200 4.8,228 2.8,252 3.5,272 5.4,284 7.4,292 10,300 13.4,308 17.8,316 23.3,324 30.5,332 35.7,336 40,337.8 48,338.5 50.3,340 53,344 53.3,348 51.1,356 51.3,364 50.4,368 48.4,372 44,376.6 36,380.7 31.4,384 28.6,388 26.9,392 25.1,400 22.6,424 20,436.4 16,451 12.3,460 8,468 -4,484.8 -4,-4ZM436,256.2 440,258.7 442.4,264 443,268 442.3,276 440,281.7 436,285.8 432,287.2 428,286.4 424,283.2 421,276 420.4,272 421,268 424,261.9 428,257.6 432,256.1ZM424,290.1 428,293.7 438.4,308 442.2,316 443.3,320 444.2,328 442.8,336 441,340 438.2,344 433.7,348 428,351.1 420,353.8 416,355.8 402.4,368 400,369.5 396,370.7 392,371.2 388,370.3 384,366.2 379.7,360 378.2,356 378,352 381.6,340 380,333.8 376.3,324 375.7,320 376.3,316 380.2,308 379.2,304 379.9,300 382.4,296 384,294.6 388,292.7 396,291.4 404,288.8 408,288.1 412,288.1Z"/>
</g>
<path fill="#fff" d="M246.5,178 264.2,167.5 274.7,165.4 291.4,152.9 292.4,282.4 285.1,287.6 277.8,269.9 270.5,251.1 270.5,221.8 262.2,201ZM142,302.3 151.4,292.4 160.8,302.3 151.4,312.1ZM336.3,347.2 346.8,336.7 367.6,336.7 378.1,347.2 367.6,358.7 346.8,358.7ZM358.2,234.4 367.6,223.9 377,234.4 367.6,244.8Z"/>
</g>
<g clip-path="url(#fr)"><use href="#geo" transform="translate(0.0,0.0)"/>
</g>
<g transform="translate(0.0,0.0)"><g fill="#000"><circle cx="245.0" cy="47.5" r="2.8"/><circle cx="259.5" cy="47.5" r="2.8"/><circle cx="273.9" cy="47.5" r="2.8"/><circle cx="302.7" cy="47.5" r="2.8"/><circle cx="331.5" cy="47.5" r="2.8"/><circle cx="216.2" cy="63.3" r="2.8"/><circle cx="230.6" cy="63.3" r="2.8"/><circle cx="245.0" cy="63.3" r="2.8"/><circle cx="259.5" cy="63.3" r="2.8"/><circle cx="288.3" cy="63.3" r="2.8"/><circle cx="317.1" cy="63.3" r="2.8"/><circle cx="331.5" cy="63.3" r="2.8"/><circle cx="345.9" cy="63.3" r="2.8"/><circle cx="374.8" cy="63.3" r="2.8"/><circle cx="187.4" cy="79.0" r="2.8"/><circle cx="216.2" cy="79.0" r="2.8"/><circle cx="259.5" cy="79.0" r="2.8"/><circle cx="273.9" cy="79.0" r="2.8"/><circle cx="302.7" cy="79.0" r="2.8"/><circle cx="345.9" cy="79.0" r="2.8"/><circle cx="360.3" cy="79.0" r="2.8"/><circle cx="158.6" cy="94.7" r="2.8"/><circle cx="201.8" cy="94.7" r="2.8"/><circle cx="216.2" cy="94.7" r="2.8"/><circle cx="245.0" cy="94.7" r="2.8"/><circle cx="273.9" cy="94.7" r="2.8"/><circle cx="302.7" cy="94.7" r="2.8"/><circle cx="331.5" cy="94.7" r="2.8"/><circle cx="360.3" cy="94.7" r="2.8"/><circle cx="389.2" cy="94.7" r="2.8"/><circle cx="418.0" cy="94.7" r="2.8"/><circle cx="100.9" cy="110.4" r="2.8"/><circle cx="129.7" cy="110.4" r="2.8"/><circle cx="187.4" cy="110.4" r="2.8"/><circle cx="230.6" cy="110.4" r="2.8"/><circle cx="259.5" cy="110.4" r="2.8"/><circle cx="302.7" cy="110.4" r="2.8"/><circle cx="317.1" cy="110.4" r="2.8"/><circle cx="345.9" cy="110.4" r="2.8"/><circle cx="374.8" cy="110.4" r="2.8"/><circle cx="403.6" cy="110.4" r="2.8"/><circle cx="418.0" cy="110.4" r="2.8"/><circle cx="446.8" cy="110.4" r="2.8"/><circle cx="475.7" cy="110.4" r="2.8"/><circle cx="86.5" cy="126.0" r="2.8"/><circle cx="100.9" cy="126.0" r="2.8"/><circle cx="144.1" cy="126.0" r="2.8"/><circle cx="173.0" cy="126.0" r="2.8"/><circle cx="187.4" cy="126.0" r="2.8"/><circle cx="201.8" cy="126.0" r="2.8"/><circle cx="230.6" cy="126.0" r="2.8"/><circle cx="245.0" cy="126.0" r="2.8"/><circle cx="273.9" cy="126.0" r="2.8"/><circle cx="345.9" cy="126.0" r="2.8"/><circle cx="360.3" cy="126.0" r="2.8"/><circle cx="403.6" cy="126.0" r="2.8"/><circle cx="432.4" cy="126.0" r="2.8"/><circle cx="475.7" cy="126.0" r="2.8"/><circle cx="504.5" cy="126.0" r="2.8"/><circle cx="518.9" cy="126.0" r="2.8"/><circle cx="533.3" cy="126.0" r="2.8"/><circle cx="100.9" cy="141.5" r="2.8"/><circle cx="129.7" cy="141.5" r="2.8"/><circle cx="158.6" cy="141.5" r="2.8"/><circle cx="187.4" cy="141.5" r="2.8"/><circle cx="216.2" cy="141.5" r="2.8"/><circle cx="345.9" cy="141.5" r="2.8"/><circle cx="374.8" cy="141.5" r="2.8"/><circle cx="418.0" cy="141.5" r="2.8"/><circle cx="490.1" cy="141.5" r="2.8"/><circle cx="518.9" cy="141.5" r="2.8"/><circle cx="547.7" cy="141.5" r="2.8"/><circle cx="86.5" cy="157.1" r="2.8"/><circle cx="115.3" cy="157.1" r="2.8"/><circle cx="144.1" cy="157.1" r="2.8"/><circle cx="173.0" cy="157.1" r="2.8"/><circle cx="201.8" cy="157.1" r="2.8"/><circle cx="216.2" cy="157.1" r="2.8"/><circle cx="331.5" cy="157.1" r="2.8"/><circle cx="345.9" cy="157.1" r="2.8"/><circle cx="374.8" cy="157.1" r="2.8"/><circle cx="389.2" cy="157.1" r="2.8"/><circle cx="403.6" cy="157.1" r="2.8"/><circle cx="432.4" cy="157.1" r="2.8"/><circle cx="461.2" cy="157.1" r="2.8"/><circle cx="490.1" cy="157.1" r="2.8"/><circle cx="533.3" cy="157.1" r="2.8"/><circle cx="144.1" cy="172.5" r="2.8"/><circle cx="158.6" cy="172.5" r="2.8"/><circle cx="173.0" cy="172.5" r="2.8"/><circle cx="317.1" cy="172.5" r="2.8"/><circle cx="345.9" cy="172.5" r="2.8"/><circle cx="389.2" cy="172.5" r="2.8"/><circle cx="418.0" cy="172.5" r="2.8"/><circle cx="475.7" cy="172.5" r="2.8"/><circle cx="504.5" cy="172.5" r="2.8"/><circle cx="115.3" cy="188.0" r="2.8"/><circle cx="129.7" cy="188.0" r="2.8"/><circle cx="158.6" cy="188.0" r="2.8"/><circle cx="187.4" cy="188.0" r="2.8"/><circle cx="216.2" cy="188.0" r="2.8"/><circle cx="317.1" cy="188.0" r="2.8"/><circle cx="331.5" cy="188.0" r="2.8"/><circle cx="374.8" cy="188.0" r="2.8"/><circle cx="403.6" cy="188.0" r="2.8"/><circle cx="446.8" cy="188.0" r="2.8"/><circle cx="504.5" cy="188.0" r="2.8"/><circle cx="100.9" cy="203.3" r="2.8"/><circle cx="115.3" cy="203.3" r="2.8"/><circle cx="129.7" cy="203.3" r="2.8"/><circle cx="158.6" cy="203.3" r="2.8"/><circle cx="173.0" cy="203.3" r="2.8"/><circle cx="216.2" cy="203.3" r="2.8"/><circle cx="245.0" cy="203.3" r="2.8"/><circle cx="317.1" cy="203.3" r="2.8"/><circle cx="331.5" cy="203.3" r="2.8"/><circle cx="360.3" cy="203.3" r="2.8"/><circle cx="374.8" cy="203.3" r="2.8"/><circle cx="389.2" cy="203.3" r="2.8"/><circle cx="446.8" cy="203.3" r="2.8"/><circle cx="490.1" cy="203.3" r="2.8"/><circle cx="158.6" cy="218.7" r="2.8"/><circle cx="187.4" cy="218.7" r="2.8"/><circle cx="201.8" cy="218.7" r="2.8"/><circle cx="230.6" cy="218.7" r="2.8"/><circle cx="245.0" cy="218.7" r="2.8"/><circle cx="259.5" cy="218.7" r="2.8"/><circle cx="317.1" cy="218.7" r="2.8"/><circle cx="403.6" cy="218.7" r="2.8"/><circle cx="446.8" cy="218.7" r="2.8"/><circle cx="475.7" cy="218.7" r="2.8"/><circle cx="129.7" cy="234.0" r="2.8"/><circle cx="144.1" cy="234.0" r="2.8"/><circle cx="173.0" cy="234.0" r="2.8"/><circle cx="201.8" cy="234.0" r="2.8"/><circle cx="230.6" cy="234.0" r="2.8"/><circle cx="259.5" cy="234.0" r="2.8"/><circle cx="302.7" cy="234.0" r="2.8"/><circle cx="317.1" cy="234.0" r="2.8"/><circle cx="331.5" cy="234.0" r="2.8"/><circle cx="389.2" cy="234.0" r="2.8"/><circle cx="418.0" cy="234.0" r="2.8"/><circle cx="461.2" cy="234.0" r="2.8"/><circle cx="158.6" cy="249.3" r="2.8"/><circle cx="187.4" cy="249.3" r="2.8"/><circle cx="201.8" cy="249.3" r="2.8"/><circle cx="230.6" cy="249.3" r="2.8"/><circle cx="259.5" cy="249.3" r="2.8"/><circle cx="302.7" cy="249.3" r="2.8"/><circle cx="317.1" cy="249.3" r="2.8"/><circle cx="403.6" cy="249.3" r="2.8"/><circle cx="432.4" cy="249.3" r="2.8"/><circle cx="158.6" cy="264.5" r="2.8"/><circle cx="173.0" cy="264.5" r="2.8"/><circle cx="187.4" cy="264.5" r="2.8"/><circle cx="216.2" cy="264.5" r="2.8"/><circle cx="245.0" cy="264.5" r="2.8"/><circle cx="345.9" cy="264.5" r="2.8"/><circle cx="403.6" cy="264.5" r="2.8"/><circle cx="461.2" cy="264.5" r="2.8"/><circle cx="173.0" cy="279.7" r="2.8"/><circle cx="201.8" cy="279.7" r="2.8"/><circle cx="245.0" cy="279.7" r="2.8"/><circle cx="331.5" cy="279.7" r="2.8"/><circle cx="360.3" cy="279.7" r="2.8"/><circle cx="374.8" cy="279.7" r="2.8"/><circle cx="418.0" cy="279.7" r="2.8"/><circle cx="432.4" cy="279.7" r="2.8"/><circle cx="446.8" cy="279.7" r="2.8"/><circle cx="187.4" cy="294.8" r="2.8"/><circle cx="201.8" cy="294.8" r="2.8"/><circle cx="216.2" cy="294.8" r="2.8"/><circle cx="230.6" cy="294.8" r="2.8"/><circle cx="345.9" cy="294.8" r="2.8"/><circle cx="432.4" cy="294.8" r="2.8"/><circle cx="259.5" cy="309.9" r="2.8"/><circle cx="317.1" cy="309.9" r="2.8"/><circle cx="374.8" cy="309.9" r="2.8"/><circle cx="418.0" cy="309.9" r="2.8"/><circle cx="100.9" cy="324.9" r="2.8"/><circle cx="129.7" cy="324.9" r="2.8"/><circle cx="245.0" cy="324.9" r="2.8"/><circle cx="273.9" cy="324.9" r="2.8"/><circle cx="302.7" cy="324.9" r="2.8"/><circle cx="331.5" cy="324.9" r="2.8"/><circle cx="345.9" cy="324.9" r="2.8"/><circle cx="418.0" cy="324.9" r="2.8"/><circle cx="129.7" cy="339.9" r="2.8"/><circle cx="158.6" cy="339.9" r="2.8"/><circle cx="259.5" cy="339.9" r="2.8"/><circle cx="288.3" cy="339.9" r="2.8"/><circle cx="317.1" cy="339.9" r="2.8"/><circle cx="389.2" cy="339.9" r="2.8"/><circle cx="57.7" cy="354.9" r="2.8"/><circle cx="129.7" cy="354.9" r="2.8"/><circle cx="144.1" cy="354.9" r="2.8"/><circle cx="173.0" cy="354.9" r="2.8"/><circle cx="273.9" cy="354.9" r="2.8"/><circle cx="302.7" cy="354.9" r="2.8"/><circle cx="317.1" cy="354.9" r="2.8"/><circle cx="72.1" cy="369.8" r="2.8"/><circle cx="100.9" cy="369.8" r="2.8"/><circle cx="129.7" cy="369.8" r="2.8"/><circle cx="144.1" cy="369.8" r="2.8"/><circle cx="158.6" cy="369.8" r="2.8"/><circle cx="187.4" cy="369.8" r="2.8"/><circle cx="259.5" cy="369.8" r="2.8"/><circle cx="273.9" cy="369.8" r="2.8"/><circle cx="302.7" cy="369.8" r="2.8"/><circle cx="403.6" cy="369.8" r="2.8"/><circle cx="86.5" cy="384.7" r="2.8"/><circle cx="115.3" cy="384.7" r="2.8"/><circle cx="144.1" cy="384.7" r="2.8"/><circle cx="173.0" cy="384.7" r="2.8"/><circle cx="317.1" cy="384.7" r="2.8"/><circle cx="331.5" cy="384.7" r="2.8"/><circle cx="345.9" cy="384.7" r="2.8"/><circle cx="72.1" cy="399.5" r="2.8"/><circle cx="100.9" cy="399.5" r="2.8"/><circle cx="129.7" cy="399.5" r="2.8"/><circle cx="158.6" cy="399.5" r="2.8"/><circle cx="273.9" cy="399.5" r="2.8"/><circle cx="302.7" cy="399.5" r="2.8"/><circle cx="374.8" cy="399.5" r="2.8"/><circle cx="389.2" cy="399.5" r="2.8"/><circle cx="43.2" cy="414.3" r="2.8"/><circle cx="100.9" cy="414.3" r="2.8"/><circle cx="273.9" cy="414.3" r="2.8"/><circle cx="288.3" cy="414.3" r="2.8"/><circle cx="331.5" cy="414.3" r="2.8"/><circle cx="345.9" cy="414.3" r="2.8"/><circle cx="86.5" cy="429.1" r="2.8"/><circle cx="144.1" cy="429.1" r="2.8"/><circle cx="273.9" cy="429.1" r="2.8"/><circle cx="317.1" cy="429.1" r="2.8"/><circle cx="345.9" cy="429.1" r="2.8"/><circle cx="57.7" cy="443.8" r="2.8"/><circle cx="302.7" cy="443.8" r="2.8"/><circle cx="317.1" cy="443.8" r="2.8"/><circle cx="331.5" cy="443.8" r="2.8"/><circle cx="86.5" cy="458.4" r="2.8"/><circle cx="57.7" cy="473.0" r="2.8"/><circle cx="86.5" cy="473.0" r="2.8"/><circle cx="144.1" cy="502.2" r="2.8"/><circle cx="173.0" cy="502.2" r="2.8"/></g></g>
<rect x="0" y="0" width="563.7" height="502.3" fill="none" stroke="#000" stroke-width="2"/>
</g>
<rect x="1287.7" y="535.04" width="20.5" height="27.96" fill="#000080" stroke="#222" stroke-width=".6"/>
<rect x="1287.7" y="507.07" width="20.5" height="27.96" fill="#0000bc" stroke="#222" stroke-width=".6"/>
<rect x="1287.7" y="479.11" width="20.5" height="27.96" fill="#0000f8" stroke="#222" stroke-width=".6"/>
<rect x="1287.7" y="451.14" width="20.5" height="27.96" fill="#0035ff" stroke="#222" stroke-width=".6"/>
<rect x="1287.7" y="423.18" width="20.5" height="27.96" fill="#0070ff" stroke="#222" stroke-width=".6"/>
<rect x="1287.7" y="395.21" width="20.5" height="27.96" fill="#00acff" stroke="#222" stroke-width=".6"/>
<rect x="1287.7" y="367.25" width="20.5" height="27.96" fill="#00e9ff" stroke="#222" stroke-width=".6"/>
<rect x="1287.7" y="339.28" width="20.5" height="27.96" fill="#25ffda" stroke="#222" stroke-width=".6"/>
<rect x="1287.7" y="311.32" width="20.5" height="27.96" fill="#62ff9e" stroke="#222" stroke-width=".6"/>
<rect x="1287.7" y="283.35" width="20.5" height="27.96" fill="#9eff62" stroke="#222" stroke-width=".6"/>
<rect x="1287.7" y="255.39" width="20.5" height="27.96" fill="#daff25" stroke="#222" stroke-width=".6"/>
<rect x="1287.7" y="227.42" width="20.5" height="27.96" fill="#ffe800" stroke="#222" stroke-width=".6"/>
<rect x="1287.7" y="199.46" width="20.5" height="27.96" fill="#ffac00" stroke="#222" stroke-width=".6"/>
<rect x="1287.7" y="171.49" width="20.5" height="27.96" fill="#ff7100" stroke="#222" stroke-width=".6"/>
<rect x="1287.7" y="143.53" width="20.5" height="27.96" fill="#ff3500" stroke="#222" stroke-width=".6"/>
<rect x="1287.7" y="115.56" width="20.5" height="27.96" fill="#f80000" stroke="#222" stroke-width=".6"/>
<rect x="1287.7" y="87.60" width="20.5" height="27.96" fill="#bc0000" stroke="#222" stroke-width=".6"/>
<rect x="1288.0" y="1092.69" width="20.6" height="23.80" fill="#000080" stroke="#222" stroke-width=".6"/>
<rect x="1288.0" y="1068.89" width="20.6" height="23.80" fill="#0000b2" stroke="#222" stroke-width=".6"/>
<rect x="1288.0" y="1045.09" width="20.6" height="23.80" fill="#0000e6" stroke="#222" stroke-width=".6"/>
<rect x="1288.0" y="1021.28" width="20.6" height="23.80" fill="#001aff" stroke="#222" stroke-width=".6"/>
<rect x="1288.0" y="997.48" width="20.6" height="23.80" fill="#004dff" stroke="#222" stroke-width=".6"/>
<rect x="1288.0" y="973.67" width="20.6" height="23.80" fill="#0080ff" stroke="#222" stroke-width=".6"/>
<rect x="1288.0" y="949.87" width="20.6" height="23.80" fill="#00b2ff" stroke="#222" stroke-width=".6"/>
<rect x="1288.0" y="926.06" width="20.6" height="23.80" fill="#00e5ff" stroke="#222" stroke-width=".6"/>
<rect x="1288.0" y="902.25" width="20.6" height="23.80" fill="#1affe5" stroke="#222" stroke-width=".6"/>
<rect x="1288.0" y="878.45" width="20.6" height="23.80" fill="#4dffb2" stroke="#222" stroke-width=".6"/>
<rect x="1288.0" y="854.64" width="20.6" height="23.80" fill="#80ff80" stroke="#222" stroke-width=".6"/>
<rect x="1288.0" y="830.84" width="20.6" height="23.80" fill="#b3ff4c" stroke="#222" stroke-width=".6"/>
<rect x="1288.0" y="807.04" width="20.6" height="23.80" fill="#e5ff1a" stroke="#222" stroke-width=".6"/>
<rect x="1288.0" y="783.23" width="20.6" height="23.80" fill="#ffe500" stroke="#222" stroke-width=".6"/>
<rect x="1288.0" y="759.42" width="20.6" height="23.80" fill="#ffb300" stroke="#222" stroke-width=".6"/>
<rect x="1288.0" y="735.62" width="20.6" height="23.80" fill="#ff8000" stroke="#222" stroke-width=".6"/>
<rect x="1288.0" y="711.82" width="20.6" height="23.80" fill="#ff4c00" stroke="#222" stroke-width=".6"/>
<rect x="1288.0" y="688.01" width="20.6" height="23.80" fill="#ff1a00" stroke="#222" stroke-width=".6"/>
<rect x="1288.0" y="664.20" width="20.6" height="23.80" fill="#e50000" stroke="#222" stroke-width=".6"/>
<rect x="1288.0" y="640.40" width="20.6" height="23.80" fill="#b30000" stroke="#222" stroke-width=".6"/>
<rect x="118.00" y="1735.7" width="47.84" height="20.2" fill="#000080" stroke="#222" stroke-width=".6"/>
<rect x="165.84" y="1735.7" width="47.84" height="20.2" fill="#0000e6" stroke="#222" stroke-width=".6"/>
<rect x="213.68" y="1735.7" width="47.84" height="20.2" fill="#004dff" stroke="#222" stroke-width=".6"/>
<rect x="261.52" y="1735.7" width="47.84" height="20.2" fill="#00b2ff" stroke="#222" stroke-width=".6"/>
<rect x="309.36" y="1735.7" width="47.84" height="20.2" fill="#1affe5" stroke="#222" stroke-width=".6"/>
<rect x="357.20" y="1735.7" width="47.84" height="20.2" fill="#80ff80" stroke="#222" stroke-width=".6"/>
<rect x="405.04" y="1735.7" width="47.84" height="20.2" fill="#e5ff1a" stroke="#222" stroke-width=".6"/>
<rect x="452.88" y="1735.7" width="47.84" height="20.2" fill="#ffb300" stroke="#222" stroke-width=".6"/>
<rect x="500.72" y="1735.7" width="47.84" height="20.2" fill="#ff4c00" stroke="#222" stroke-width=".6"/>
<rect x="548.56" y="1735.7" width="47.84" height="20.2" fill="#e50000" stroke="#222" stroke-width=".6"/>
<rect x="745.90" y="1735.7" width="29.81" height="20.2" fill="#000080" stroke="#222" stroke-width=".6"/>
<rect x="775.71" y="1735.7" width="29.81" height="20.2" fill="#0000bf" stroke="#222" stroke-width=".6"/>
<rect x="805.52" y="1735.7" width="29.81" height="20.2" fill="#0000ff" stroke="#222" stroke-width=".6"/>
<rect x="835.34" y="1735.7" width="29.81" height="20.2" fill="#0040ff" stroke="#222" stroke-width=".6"/>
<rect x="865.15" y="1735.7" width="29.81" height="20.2" fill="#0080ff" stroke="#222" stroke-width=".6"/>
<rect x="894.96" y="1735.7" width="29.81" height="20.2" fill="#00bfff" stroke="#222" stroke-width=".6"/>
<rect x="924.78" y="1735.7" width="29.81" height="20.2" fill="#00ffff" stroke="#222" stroke-width=".6"/>
<rect x="954.59" y="1735.7" width="29.81" height="20.2" fill="#40ffbf" stroke="#222" stroke-width=".6"/>
<rect x="984.40" y="1735.7" width="29.81" height="20.2" fill="#80ff80" stroke="#222" stroke-width=".6"/>
<rect x="1014.21" y="1735.7" width="29.81" height="20.2" fill="#bfff40" stroke="#222" stroke-width=".6"/>
<rect x="1044.03" y="1735.7" width="29.81" height="20.2" fill="#ffff00" stroke="#222" stroke-width=".6"/>
<rect x="1073.84" y="1735.7" width="29.81" height="20.2" fill="#ffbf00" stroke="#222" stroke-width=".6"/>
<rect x="1103.65" y="1735.7" width="29.81" height="20.2" fill="#ff8000" stroke="#222" stroke-width=".6"/>
<rect x="1133.46" y="1735.7" width="29.81" height="20.2" fill="#ff4000" stroke="#222" stroke-width=".6"/>
<rect x="1163.28" y="1735.7" width="29.81" height="20.2" fill="#ff0000" stroke="#222" stroke-width=".6"/>
<rect x="1193.09" y="1735.7" width="29.81" height="20.2" fill="#bf0000" stroke="#222" stroke-width=".6"/>
<text x="311.0" y="25.0" font-size="27.6" text-anchor="start" >SPRING</text>
<text x="920.0" y="24.6" font-size="27.6" text-anchor="start" >SUMMER</text>
<text x="621.0" y="21.0" font-size="23.3" text-anchor="start" >Longitude</text>
<text x="53.0" y="63.3" font-size="21.7" text-anchor="start" >10</text>
<circle cx="81.5" cy="41.3" r="2.2" fill="none" stroke="#000" stroke-width="1"/>
<text x="93.0" y="63.3" font-size="21.7" text-anchor="start" >W</text>
<text x="232.3" y="63.3" font-size="21.7" text-anchor="start" >8</text>
<circle cx="251.0" cy="41.3" r="2.2" fill="none" stroke="#000" stroke-width="1"/>
<text x="263.2" y="63.3" font-size="21.7" text-anchor="start" >W</text>
<text x="410.5" y="63.3" font-size="21.7" text-anchor="start" >6</text>
<circle cx="429.0" cy="41.3" r="2.2" fill="none" stroke="#000" stroke-width="1"/>
<text x="441.0" y="63.3" font-size="21.7" text-anchor="start" >W</text>
<text x="578.3" y="63.3" font-size="21.7" text-anchor="start" >4</text>
<circle cx="597.0" cy="41.3" r="2.2" fill="none" stroke="#000" stroke-width="1"/>
<text x="609.5" y="63.3" font-size="21.7" text-anchor="start" >W</text>
<text x="669.5" y="61.2" font-size="21.7" text-anchor="start" >10</text>
<circle cx="698.0" cy="39.2" r="2.2" fill="none" stroke="#000" stroke-width="1"/>
<text x="709.0" y="61.2" font-size="21.7" text-anchor="start" >W</text>
<text x="848.3" y="61.2" font-size="21.7" text-anchor="start" >8</text>
<circle cx="867.0" cy="39.2" r="2.2" fill="none" stroke="#000" stroke-width="1"/>
<text x="879.0" y="61.2" font-size="21.7" text-anchor="start" >W</text>
<text x="1020.6" y="61.2" font-size="21.7" text-anchor="start" >6</text>
<circle cx="1039.5" cy="39.2" r="2.2" fill="none" stroke="#000" stroke-width="1"/>
<text x="1052.0" y="61.2" font-size="21.7" text-anchor="start" >W</text>
<text x="1194.0" y="61.2" font-size="21.7" text-anchor="start" >4</text>
<circle cx="1213.0" cy="39.2" r="2.2" fill="none" stroke="#000" stroke-width="1"/>
<text x="1225.0" y="61.2" font-size="21.7" text-anchor="start" >W</text>
<text x="20.3" y="83.0" font-size="21.7" text-anchor="start" >63</text>
<circle cx="49.3" cy="61.3" r="2.2" fill="none" stroke="#000" stroke-width="1"/>
<text x="60.8" y="83.0" font-size="21.7" text-anchor="start" >N</text>
<text x="20.3" y="268.5" font-size="21.7" text-anchor="start" >62</text>
<circle cx="49.3" cy="246.8" r="2.2" fill="none" stroke="#000" stroke-width="1"/>
<text x="60.8" y="268.5" font-size="21.7" text-anchor="start" >N</text>
<text x="20.3" y="450.1" font-size="21.7" text-anchor="start" >61</text>
<circle cx="49.3" cy="428.4" r="2.2" fill="none" stroke="#000" stroke-width="1"/>
<text x="60.8" y="450.1" font-size="21.7" text-anchor="start" >N</text>
<text transform="translate(23.5,339.8) rotate(-90)" font-size="22" text-anchor="middle">Latitude</text>
<text x="20.3" y="639.6" font-size="21.7" text-anchor="start" >63</text>
<circle cx="49.3" cy="617.9" r="2.2" fill="none" stroke="#000" stroke-width="1"/>
<text x="60.8" y="639.6" font-size="21.7" text-anchor="start" >N</text>
<text x="20.3" y="825.1" font-size="21.7" text-anchor="start" >62</text>
<circle cx="49.3" cy="803.4" r="2.2" fill="none" stroke="#000" stroke-width="1"/>
<text x="60.8" y="825.1" font-size="21.7" text-anchor="start" >N</text>
<text x="20.3" y="1006.7" font-size="21.7" text-anchor="start" >61</text>
<circle cx="49.3" cy="985.0" r="2.2" fill="none" stroke="#000" stroke-width="1"/>
<text x="60.8" y="1006.7" font-size="21.7" text-anchor="start" >N</text>
<text transform="translate(23.5,897.5) rotate(-90)" font-size="22" text-anchor="middle">Latitude</text>
<text x="20.3" y="1198.9" font-size="21.7" text-anchor="start" >63</text>
<circle cx="49.3" cy="1177.2" r="2.2" fill="none" stroke="#000" stroke-width="1"/>
<text x="60.8" y="1198.9" font-size="21.7" text-anchor="start" >N</text>
<text x="20.3" y="1384.4" font-size="21.7" text-anchor="start" >62</text>
<circle cx="49.3" cy="1362.7" r="2.2" fill="none" stroke="#000" stroke-width="1"/>
<text x="60.8" y="1384.4" font-size="21.7" text-anchor="start" >N</text>
<text x="20.3" y="1566.0" font-size="21.7" text-anchor="start" >61</text>
<circle cx="49.3" cy="1544.3" r="2.2" fill="none" stroke="#000" stroke-width="1"/>
<text x="60.8" y="1566.0" font-size="21.7" text-anchor="start" >N</text>
<text transform="translate(23.5,1457.3) rotate(-90)" font-size="22" text-anchor="middle">Latitude</text>
<text x="93.0" y="103.4" font-size="32.0" text-anchor="start" font-weight="bold">A</text>
<text x="135.6" y="101.6" font-size="27.2" text-anchor="start" >Catch</text>
<text x="708.2" y="103.4" font-size="32.0" text-anchor="start" font-weight="bold">B</text>
<text x="750.0" y="101.6" font-size="27.2" text-anchor="start" >Catch</text>
<text x="93.0" y="661.0" font-size="32.0" text-anchor="start" font-weight="bold">C</text>
<text x="128.2" y="660.4" font-size="27.2" text-anchor="start" >Tb</text>
<text x="708.2" y="660.2" font-size="32.0" text-anchor="start" font-weight="bold">D</text>
<text x="744.3" y="659.6" font-size="27.2" text-anchor="start" >Tb</text>
<text x="94.3" y="1219.5" font-size="32.0" text-anchor="start" font-weight="bold">E</text>
<text x="130.4" y="1219.9" font-size="27.2" text-anchor="start" >SST</text>
<text x="708.2" y="1219.5" font-size="32.0" text-anchor="start" font-weight="bold">F</text>
<text x="745.4" y="1219.9" font-size="27.2" text-anchor="start" >SST</text>
<text x="1288.4" y="68.8" font-size="21.7" text-anchor="start" >Kg/h</text>
<text x="1314.0" y="569.6" font-size="21.7" text-anchor="start" >0</text>
<text x="1314.0" y="513.7" font-size="21.7" text-anchor="start" >0.2</text>
<text x="1314.0" y="457.7" font-size="21.7" text-anchor="start" >0.4</text>
<text x="1314.0" y="401.8" font-size="21.7" text-anchor="start" >0.6</text>
<text x="1314.0" y="345.9" font-size="21.7" text-anchor="start" >0.8</text>
<text x="1314.0" y="290.0" font-size="21.7" text-anchor="start" >1</text>
<text x="1314.0" y="234.0" font-size="21.7" text-anchor="start" >1.2</text>
<text x="1314.0" y="178.1" font-size="21.7" text-anchor="start" >1.4</text>
<text x="1314.0" y="122.2" font-size="21.7" text-anchor="start" >1.6</text>
<text x="1318.0" y="646.9" font-size="21.7" text-anchor="start" >10</text>
<text x="1318.0" y="742.0" font-size="21.7" text-anchor="start" >9</text>
<text x="1318.0" y="837.2" font-size="21.7" text-anchor="start" >8</text>
<text x="1318.0" y="932.6" font-size="21.7" text-anchor="start" >7</text>
<text x="1318.0" y="1027.8" font-size="21.7" text-anchor="start" >6</text>
<text x="1318.0" y="1122.6" font-size="21.7" text-anchor="start" >5</text>
<text y="616" font-size="22.3"><tspan x="1273.6">T</tspan><tspan x="1287.4" y="622" font-size="15">b</tspan><tspan x="1302.8" y="616">(</tspan><tspan x="1311" y="600.5" font-size="13.5">o</tspan><tspan x="1317.3" y="616">C)</tspan></text>
<text x="106.5" y="1723.2" font-size="21.7" text-anchor="start" >6.5</text>
<text x="203.3" y="1723.2" font-size="21.7" text-anchor="start" >7</text>
<text x="297.0" y="1723.2" font-size="21.7" text-anchor="start" >7.5</text>
<text x="394.8" y="1723.2" font-size="21.7" text-anchor="start" >8</text>
<text x="487.6" y="1723.2" font-size="21.7" text-anchor="start" >8.5</text>
<text x="585.8" y="1723.2" font-size="21.7" text-anchor="start" >9</text>
<text x="733.8" y="1723.2" font-size="21.7" text-anchor="start" >10</text>
<text x="849.7" y="1723.2" font-size="21.7" text-anchor="start" >10.5</text>
<text x="971.2" y="1723.2" font-size="21.7" text-anchor="start" >11</text>
<text x="1088.3" y="1723.2" font-size="21.7" text-anchor="start" >11.5</text>
<text x="1209.3" y="1723.2" font-size="21.7" text-anchor="start" >12</text>
<text y="1752" font-size="21.9"><tspan x="627">SST</tspan><tspan x="679">(</tspan><tspan x="688.7" y="1740.5" font-size="13.5">o</tspan><tspan x="695.2" y="1752">C)</tspan></text>
<text x="275.0" y="424.5" font-size="21.8" text-anchor="start" font-weight="bold">FBC</text>
<text x="583.3" y="424.5" font-size="22.2" text-anchor="start" font-weight="bold">FSC</text>
<text x="891.0" y="1553.0" font-size="26.6" text-anchor="start" font-weight="bold">FBC</text>
<text x="1192.0" y="1543.5" font-size="26.6" text-anchor="start" font-weight="bold">FSC</text>
<text x="223.0" y="1273.7" font-size="25.5" text-anchor="start" font-weight="bold" style="fill:#2e8b3c">FC</text>
<text y="712" font-size="25.2" style="fill:#1e1a8c"><tspan x="1189.5">&lt;</tspan><tspan x="1212.6">5</tspan><tspan x="1229.6" y="696.5" font-size="14.5">o</tspan><tspan x="1236.8" y="712">C</tspan></text>
<text transform="translate(719.8,325) rotate(67.5)" font-size="17.3">1000 m</text>
<text transform="translate(1155,437.5) rotate(-57)" font-size="17.6">1000 m</text>
</svg></body></html>
